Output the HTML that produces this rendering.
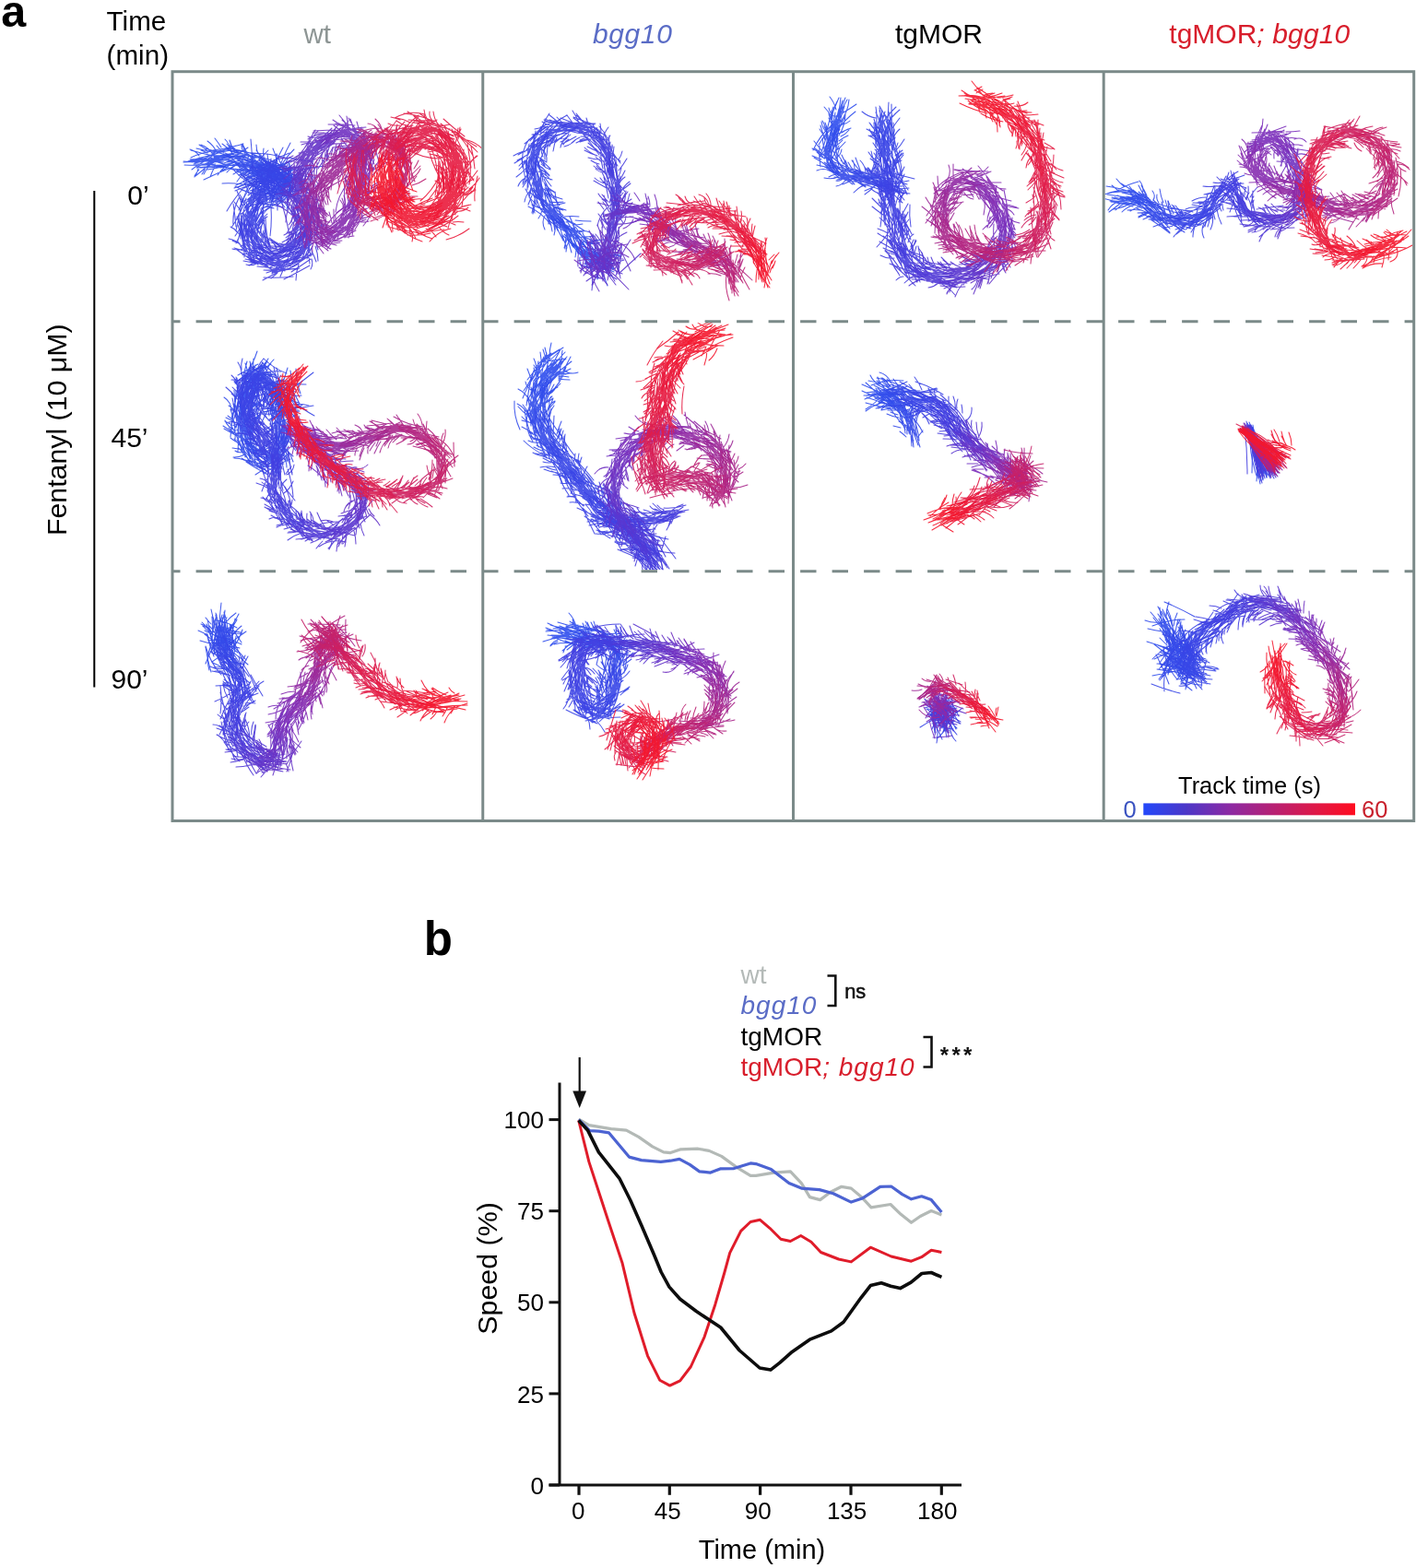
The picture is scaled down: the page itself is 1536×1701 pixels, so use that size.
<!DOCTYPE html>
<html><head><meta charset="utf-8"><title>Figure</title>
<style>
html,body{margin:0;padding:0;background:#fff;}
body{width:1536px;height:1701px;overflow:hidden;position:relative;}
svg{position:absolute;left:0;top:0;}
text{font-family:'Liberation Sans', Arial, sans-serif;}
</style></head><body>
<svg width="1536" height="1701" viewBox="0 0 1536 1701">

<text x="1.2" y="28.5" font-size="48.5" font-weight="bold" fill="#000">a</text>
<text x="115.6" y="33" font-size="29.6" fill="#000">Time</text>
<text x="115.6" y="69.5" font-size="29.6" fill="#000">(min)</text>
<text x="329.5" y="47" font-size="29.5" fill="#8d9594">wt</text>
<text x="643" y="47.3" font-size="30" font-style="italic" letter-spacing="0.6" fill="#5a6cc6">bgg10</text>
<text x="971" y="47.3" font-size="30" fill="#000">tgMOR</text>
<text x="1268.3" y="47.3" font-size="30" fill="#d81e2c">tgMOR<tspan font-style="italic" letter-spacing="0.15">; bgg10</tspan></text>
<text x="138.3" y="222" font-size="30" fill="#000">0’</text>
<text x="120.5" y="484.8" font-size="30" fill="#000">45’</text>
<text x="120.5" y="746.7" font-size="30" fill="#000">90’</text>
<line x1="102.3" y1="207" x2="102.3" y2="745.5" stroke="#000" stroke-width="2"/>
<text transform="translate(72.3,581) rotate(-90)" font-size="30.3" fill="#000">Fentanyl (10 μM)</text>
<defs>
<clipPath id="k00"><rect x="188.5" y="79.2" width="333.8" height="268.1"/></clipPath>
<clipPath id="k01"><rect x="525.2" y="79.2" width="333.8" height="268.1"/></clipPath>
<clipPath id="k02"><rect x="862.0" y="79.2" width="333.7" height="268.1"/></clipPath>
<clipPath id="k03"><rect x="1198.7" y="79.2" width="333.5" height="268.1"/></clipPath>
<clipPath id="k10"><rect x="188.5" y="350.2" width="333.8" height="268.0"/></clipPath>
<clipPath id="k11"><rect x="525.2" y="350.2" width="333.8" height="268.0"/></clipPath>
<clipPath id="k12"><rect x="862.0" y="350.2" width="333.7" height="268.0"/></clipPath>
<clipPath id="k13"><rect x="1198.7" y="350.2" width="333.5" height="268.0"/></clipPath>
<clipPath id="k20"><rect x="188.5" y="621.3" width="333.8" height="267.7"/></clipPath>
<clipPath id="k21"><rect x="525.2" y="621.3" width="333.8" height="267.7"/></clipPath>
<clipPath id="k22"><rect x="862.0" y="621.3" width="333.7" height="267.7"/></clipPath>
<clipPath id="k23"><rect x="1198.7" y="621.3" width="333.5" height="267.7"/></clipPath>
</defs>
<g fill="none" stroke-width="1.05" stroke-opacity="0.9" stroke-linecap="round">
<g clip-path="url(#k00)">
<path d="M199 175q16 2 31 -1M216 184q-3 3 -5 7M200 179q17 1 34 -1M199 176q19 0 34 -10M215 183q-1 5 -4 9M204 175q13 -4 26 -7M216 169q-3 -5 -10 -7M208 184q10 -8 22 -13M206 173q13 -1 26 -1M210 178q11 -1 23 1M207 171q12 -6 25 -7M212 191q11 -9 22 -18M205 175q18 -4 36 -3M213 182q12 -1 24 -3M223 181q-1 4 -4 8M208 176q17 -4 34 1M207 163q17 5 34 8M214 181q13 -6 27 -9M226 165q-4 -5 -10 -8M211 177q17 -3 34 -8M213 161q13 4 27 3M225 166q-4 -2 -7 -3M226 181q-3 4 -5 8M216 173q13 4 27 2M217 182q14 -0 29 -2M221 178q11 -1 21 -6M231 167q-5 -7 -13 -10M218 166q13 4 27 2M216 171q17 5 33 1M218 173q16 2 32 -3M233 181q-3 5 -5 11M221 195q16 -8 32 -14M225 181q10 -8 22 -12M226 172q9 -7 21 -11M222 161q14 5 29 2M226 180q14 1 27 -4M235 165q-3 -7 -10 -12M225 184q16 -2 30 -8M240 160q-3 -5 -7 -10M228 177q12 -3 25 -6M228 172q12 7 27 8M229 166q14 -2 27 -8M232 171q11 -2 22 -4M243 166q-4 -3 -8 -8M232 165q11 -3 23 -4M232 176q13 -7 27 -12M232 170q14 -3 29 -5M229 169q17 -8 35 -5M231 163q17 -2 33 -7M246 179q-6 5 -10 11M233 171q16 -2 32 -1M238 166q15 3 22 16M249 179q-3 4 -8 6M239 182q11 -3 22 -5M251 164q-2 -8 -7 -13M240 173q11 2 22 4M251 165q-1 -5 -5 -9" stroke="rgb(46, 77, 237)"/>
<path d="M236 180q16 3 31 5M238 179q15 5 29 10M256 179q-6 3 -10 8M242 171q12 -1 24 -2M252 166q-5 -6 -11 -10M242 168q13 3 27 3M258 166q-4 -5 -9 -8M243 177q13 -5 26 -10M277 186q19 10 40 12M246 173q12 -5 23 -13M292 187q16 6 33 6M246 162q13 4 26 7M256 166q-5 -6 -7 -14M287 178q19 8 30 25M246 168q13 3 25 8M281 183q16 -1 31 -7M244 166q16 7 32 16M284 179q8 13 23 19M251 167q11 3 20 8M281 206q16 -13 34 -25M247 173q14 5 27 10M259 167q-4 -5 -9 -10M246 176q16 -1 32 -5M313 171q13 3 27 4M252 168q12 -1 24 3M266 166q-4 -3 -4 -8M256 201q15 -7 29 -15M250 161q16 5 33 6M260 180q19 -4 36 6M251 164q15 4 31 7M269 168q-3 -6 -6 -12M299 209q16 1 32 -5M250 170q16 4 32 7M279 184q14 5 28 5M257 166q12 1 22 5M266 169q0 -7 -4 -12M289 190q21 -2 40 -11M254 162q16 2 31 10M267 166q-2 -5 -4 -10M264 181q-5 5 -11 8M267 180q20 9 33 26M253 179q14 2 28 4M296 183q18 12 24 33M255 185q12 -1 22 4M289 183q16 14 34 25M258 172q10 10 23 11M257 197q11 -13 13 -30M255 171q14 12 31 18M278 200q15 10 29 20M255 177q12 11 29 13M269 184q-5 1 -11 3M272 191q15 -2 29 -5M266 165q8 8 16 15M280 167q-2 -5 -2 -10M281 209q13 -4 26 -5M258 178q15 5 30 5M269 187q-5 0 -10 3M271 199q12 9 26 14M263 168q11 9 25 11M286 172q13 9 27 18M263 163q14 10 27 22M275 184q-4 2 -8 2M259 177q14 12 29 23M262 175q14 4 27 10M263 178q13 2 25 7M271 207q17 -4 24 -19M267 173q9 8 21 14M279 210q6 -21 4 -42M263 170q17 6 34 11M274 184q-8 2 -15 6M274 197q13 -1 26 2M266 176q14 1 27 6M275 187q-6 3 -12 2M290 176q19 8 33 22M273 167q11 7 22 11M282 177q3 18 7 36M260 183q16 7 32 12M284 199q14 -10 30 -16M269 174q13 7 25 13M307 212q-6 -12 -11 -25M263 184q18 1 35 3M287 175q-2 -7 -1 -14M257 184q10 10 20 20M278 163q8 12 18 24M312 186q20 -3 40 -6M275 175q11 4 22 8M277 190q-6 2 -11 4M263 220q3 -14 12 -26M272 184q9 6 20 9M292 205q8 -18 8 -38M272 183q12 4 24 8M287 211q13 -9 23 -22M269 193q11 2 22 4" stroke="rgb(49, 75, 235)"/>
<path d="M289 200q12 -8 26 -4M278 178q12 2 25 1M276 174q-6 12 -10 26M278 178q12 5 20 15M264 192q14 -8 30 -13M272 181q15 8 29 16M265 194q14 -9 31 -13M272 182q16 7 33 13M298 205q17 -9 33 -19M282 179q12 -1 24 1M284 190q-8 -1 -16 3M281 169q14 11 27 24M293 178q-3 -5 -3 -11M286 174q9 11 22 17M281 180q13 4 22 14M301 176q-2 -8 -5 -15M288 193q-4 4 -9 4M296 186q7 16 17 30M278 193q11 3 22 3M293 192q-8 3 -15 6M314 177q-2 19 1 38M281 174q15 10 28 22M274 207q15 -14 30 -28M288 175q8 10 16 21M317 189q-3 19 -6 39M321 236q-12 -16 -25 -32M294 201q14 7 28 15M281 173q15 12 28 28M294 192q12 10 22 21M271 183q10 10 21 20M299 176q16 10 31 23M290 209q17 -11 37 -16M257 178q19 9 37 20M264 178q21 5 39 16M268 185q15 1 28 8M278 181q17 6 32 17M301 195q12 -5 25 -7M288 204q13 -11 28 -19M288 185q11 8 25 10M299 182q8 13 19 23M262 177q12 13 29 18M304 208q13 4 27 5M260 172q15 3 28 11M301 205q14 -12 29 -22M241 199q20 -1 40 4M299 202q13 -4 25 -11M300 204q-8 -12 -12 -26M293 224q7 -18 14 -36M280 199q20 3 40 3M307 160q-9 17 -17 34M258 203q13 -6 25 -13M280 207q18 -7 30 -22M291 179q16 5 33 2M278 180q20 7 41 2" stroke="rgb(52, 73, 233)"/>
<path d="M291 201q9 12 18 24M273 166q20 -0 40 6M284 182q8 17 10 36M274 188q0 -19 -2 -37M289 185q15 -4 31 -1M305 194q-9 11 -13 25M293 182q9 11 16 23M281 199q16 -10 35 -11M277 200q15 -13 32 -22M315 155q-10 18 -15 38M288 187q12 5 25 8M300 193q5 -18 19 -31M291 183q-2 15 2 29M278 190q9 12 19 24M296 175q2 13 1 26M297 176q-1 14 -6 26M306 184q2 -7 9 -10M281 190q-3 -3 -7 -7M280 197q17 -8 21 -26M296 176q-5 13 -5 26M300 167q6 15 14 30M273 178q12 13 18 29M281 186q14 -6 29 -5M284 182q9 9 16 19M286 184q12 4 24 11M297 173q8 15 14 31M295 177q2 14 7 28M285 205q16 4 33 9M293 177q-4 17 -8 33M254 185q11 12 26 18M295 180q12 8 16 22M308 191q1 -7 4 -13M291 175q10 11 18 23M303 174q9 15 18 31M287 199q-6 -2 -10 -7M284 169q2 14 9 26M305 179q6 11 7 24M285 171q16 4 28 15M292 183q3 13 3 26M313 176q3 15 8 30M264 189q18 8 35 19M296 182q10 12 15 26M306 191q-0 -4 4 -7M287 194q17 7 34 0M282 184q5 15 12 29M255 202q15 9 33 10M309 179q8 14 9 29M280 182q14 -8 29 -11M295 182q6 15 14 30M307 199q4 -4 7 -9M306 184q2 13 7 25M299 218q9 -12 23 -17M302 188q7 9 14 18M307 198q5 -3 9 -8M254 204q16 -5 32 -9M299 183q-1 18 -4 35M288 198q-5 -5 -9 -11M286 180q15 11 33 17M287 192q-4 11 -6 22M307 197q5 -2 7 -7M286 180q12 10 26 17M291 185q4 17 6 33M265 195q21 -0 41 -5M315 186q-3 13 1 26M307 202q3 -4 6 -6M283 187q3 17 7 33M280 179q13 9 26 18M309 190q-1 12 -1 24M306 190q15 -2 29 2M299 190q4 14 12 25M277 184q11 8 24 11M303 193q-2 12 2 23M255 207q17 -8 35 -8M307 191q-6 14 -13 28M270 205q14 -13 31 -21M316 192q-2 14 -5 27M312 196q-4 12 -9 24M302 203q3 -16 10 -31" stroke="rgb(55, 70, 231)"/>
<path d="M288 195q2 11 7 21M294 191q8 17 7 37M317 204q-6 12 -17 19M294 188q12 -10 27 -15M311 201q-12 8 -24 18M284 208q8 -17 10 -36M307 202q-5 12 -13 21M313 209q-17 1 -33 -0M273 200q14 -11 26 -25M306 201q-9 9 -20 15M261 189q14 11 27 24M309 217q-12 1 -24 4M307 192q-10 -9 -20 -18M309 200q-15 3 -28 9M297 198q3 -4 5 -8M272 181q19 4 28 20M309 212q-14 2 -29 6M305 217q3 -17 9 -33M307 206q-14 3 -28 5M309 194q-17 0 -33 5M295 218q5 1 7 4M262 193q14 -15 29 -30M310 216q-18 -1 -35 -2M293 220q9 -11 13 -25M303 200q-13 -2 -24 -9M298 179q9 13 20 25M304 211q-14 2 -27 5M303 208q9 -13 13 -29M303 208q-13 4 -25 2M276 199q18 -7 34 2M299 196q-11 4 -23 1M303 201q-17 1 -31 9M286 215q14 -4 26 -9M306 211q-16 1 -32 5M287 200q2 -4 3 -8M284 184q13 -12 30 -18M297 205q-10 6 -18 13M284 230q18 -8 31 -24M304 207q-17 3 -33 11M292 222q8 0 15 3M287 185q14 1 28 -4M298 206q-12 5 -21 14M298 198q-16 7 -29 18M288 176q14 8 26 19M293 200q-8 9 -18 16M278 202q1 -7 1 -14M275 200q18 4 37 8M291 198q-12 6 -22 14M284 191q-9 7 -19 13M290 223q4 2 7 3M297 213q-9 6 -20 10M292 199q-12 9 -23 20M291 204q-11 6 -21 13M296 207q-13 8 -27 15M299 217q-7 9 -17 15M274 209q-0 -4 1 -8M288 196q-11 13 -23 26M284 201q-9 9 -14 20M288 221q8 1 15 3M296 214q-13 5 -25 10M289 205q-7 13 -14 25M274 206q1 -8 2 -15M288 203q-12 11 -23 22M288 205q-9 11 -20 22M286 204q-9 12 -20 21M285 221q8 2 16 0M282 206q-8 10 -21 13M280 202q-9 11 -12 25M281 208q-3 13 -1 27M275 204q2 12 -6 22M285 209q-5 13 -13 25M270 210q-2 -7 -6 -14M276 199q-12 12 -17 29M285 226q5 -3 10 -0M284 211q-4 12 -9 24M288 217q-7 10 -19 14M290 215q-6 13 -13 26M283 226q4 -1 8 -3M274 205q-3 15 -8 29" stroke="rgb(57, 68, 229)"/>
<path d="M283 211q-4 15 -10 28M282 213q-10 10 -20 19M277 212q-3 12 -7 24M286 219q-12 5 -19 15M264 219q-1 -4 -4 -8M265 203q-11 12 -19 26M285 214q2 17 -5 33M281 214q-4 14 -14 25M263 223q-3 -8 -6 -16M284 214q-8 15 -11 31M284 217q-4 14 -11 26M285 216q-10 13 -17 28M285 220q-9 10 -14 22M260 227q-3 -4 -6 -8M291 226q-8 8 -13 18M260 214q10 13 15 29M275 218q0 14 -3 27M281 220q-8 12 -15 25M285 218q2 18 -3 35M267 219q3 13 4 27M259 215q-7 13 -6 29M267 215q-6 17 -16 32M281 224q-4 12 -5 24M263 215q-3 18 -7 35M279 227q-5 10 -12 19M253 221q2 12 3 25M294 226q1 15 -1 30M270 226q-4 11 -6 23M277 228q-2 12 3 23M270 225q-4 13 -6 26M280 240q3 -3 6 -6M283 227q4 14 5 28M278 243q6 -5 12 -11M266 225q8 16 17 31M268 227q-0 13 3 26M274 229q-1 12 1 24M272 227q2 15 0 29M278 245q4 -3 7 -7M261 231q2 11 2 22M265 226q-4 16 -4 33M259 232q0 12 5 24M271 232q-8 12 -16 24M279 242q5 -4 11 -7M265 233q-0 13 -2 25M275 233q-4 13 -10 25M278 234q-5 11 -4 23M262 234q0 14 -4 27M276 244q3 -6 7 -13M265 232q-1 17 -9 32M277 248q4 -5 7 -10M265 232q7 16 9 33M257 251q-3 -3 -7 -5M265 237q1 13 5 24M278 250q6 -4 9 -11M279 235q-4 13 -1 27M269 239q1 11 -1 23M277 246q6 -4 11 -10M260 254q-4 -2 -6 -6M257 235q6 17 8 34M283 235q-4 14 -5 28" stroke="rgb(60, 66, 228)"/>
<path d="M261 237q1 17 9 32M268 239q-1 15 -4 29M260 241q2 14 4 27M260 240q2 16 7 31M258 244q4 13 9 25M262 241q11 12 20 26M269 239q7 15 14 29M272 243q1 12 3 25M270 243q6 12 7 25M260 264q-4 -1 -8 -3M288 236q0 15 4 30M265 242q8 15 12 33M274 244q4 12 9 24M279 253q0 -9 7 -14M265 245q0 17 0 34M270 247q6 12 15 22M266 247q8 13 10 28M269 244q12 13 23 26M267 247q7 14 16 27M261 266q-5 -6 -13 -7M265 247q9 14 14 31M273 248q9 10 13 23M263 255q5 11 13 20M267 253q11 10 11 24M266 250q4 17 7 35M264 270q-6 2 -12 -0M268 253q9 10 18 20M272 251q2 14 7 27M275 248q7 13 13 27M269 254q1 15 7 29M267 273q-6 -2 -13 -4M263 258q4 15 13 28M283 264q1 -7 3 -14M274 250q2 16 9 31M258 262q9 14 22 25M284 260q-0 -7 -2 -13M266 260q8 12 11 26M257 271q10 7 20 14M274 251q7 15 17 29M267 260q9 12 22 21M273 278q-5 1 -10 -2M265 263q10 12 20 23M285 263q-0 -6 2 -11M261 267q12 11 26 17M288 259q0 -8 0 -16M267 260q15 8 26 20M262 266q15 8 29 18M268 260q14 10 27 21M278 256q10 10 19 20M270 274q11 1 22 0M287 264q1 -5 -1 -10M279 249q13 13 30 20M266 269q16 4 30 14M263 275q18 2 35 6M274 263q14 5 26 14M270 272q9 10 21 17M274 269q10 7 22 13M290 268q-2 -4 -3 -9M280 284q-6 1 -10 4" stroke="rgb(63, 64, 226)"/>
<path d="M269 279q10 6 21 9M264 283q16 4 33 3M291 264q-2 -4 -5 -8M274 271q13 6 26 10M270 281q13 1 22 10M280 285q-6 4 -13 2M266 281q17 4 34 8M272 279q14 3 26 10M293 269q-2 -6 -4 -13M273 269q19 1 32 15M294 268q-2 -4 -4 -8M277 276q11 4 20 12M279 265q15 2 29 8M271 283q16 4 30 13M279 267q13 7 27 12M294 271q-1 -6 -3 -11M281 274q10 5 21 10M293 269q-2 -4 -5 -8M280 281q13 1 24 -5M277 280q15 1 29 4M286 265q9 8 17 16M280 268q14 10 29 18M279 289q12 1 25 3M281 283q13 0 24 6M284 277q9 8 21 12M281 267q16 4 33 4M282 280q15 4 27 14M280 286q18 1 34 -5M285 304q12 -6 23 -13M301 289q-4 3 -6 7M286 293q12 1 23 -5M287 282q13 1 25 1M300 269q-1 -5 -6 -6M283 280q16 6 33 9M289 282q11 4 23 8M300 270q-2 -5 -6 -10M286 301q16 1 32 -1M301 292q-3 2 -6 5M288 282q13 -8 28 -10M287 281q16 -2 31 -7M289 274q14 6 28 2M303 265q-6 -3 -11 -7M293 283q12 -1 23 3M306 290q-5 7 -12 12M289 296q16 -6 34 -4M290 282q15 -4 31 -4M289 274q15 -5 31 -7M294 294q16 1 30 -8M293 275q13 -0 24 -6M296 296q14 -4 29 -5M289 273q17 1 33 -6M304 268q-3 -3 -7 -6M310 289q-4 5 -6 11M293 290q16 -9 34 -13M295 287q13 -9 29 -13M300 291q13 -4 25 -9M297 288q15 -5 31 -9M305 293q7 -10 18 -15M303 290q12 -7 21 -17M303 289q11 -7 20 -17M293 275q18 -1 34 -7" stroke="rgb(66, 62, 224)"/>
<path d="M308 303q14 -7 28 -15M295 278q15 -9 30 -17M301 281q13 -7 27 -9M298 276q14 -4 27 -11M302 275q8 -9 18 -14M308 285q11 -4 21 -10M313 268q-7 0 -14 -0M324 287q-3 8 -3 17M300 272q10 -6 18 -16M310 268q-8 -1 -16 -1M304 275q9 -7 19 -13M316 295q11 -7 21 -14M301 276q11 -11 25 -16M312 289q14 -6 27 -13M307 278q10 -9 19 -18M311 283q7 -14 10 -28M313 288q15 -5 25 -18M315 268q-6 -3 -12 -4M304 277q13 -9 23 -21M317 285q10 -7 16 -17M317 289q15 -7 22 -22M321 287q10 -6 18 -13M311 278q8 -11 16 -21M315 286q12 -12 20 -26M317 264q-7 -0 -13 2M319 284q8 -11 18 -22M338 281q2 6 -1 11M317 286q10 -15 14 -32M318 283q11 -10 22 -20M319 286q12 -13 18 -30M317 284q10 -15 21 -28M316 274q11 -6 21 -12M318 264q-7 3 -15 2M334 277q2 4 2 9M317 277q6 -12 14 -23M306 272q14 -10 29 -18M322 264q-7 -0 -13 2M327 283q5 -14 10 -28M320 276q10 -9 16 -19M338 272q3 6 5 12M314 275q11 -12 20 -26M318 257q-6 2 -12 6M314 274q7 -15 10 -30M328 276q1 -11 6 -22M328 282q11 -15 8 -34M325 274q8 -9 11 -20M321 272q7 -10 13 -21M333 281q3 -16 6 -33M329 274q-2 -13 2 -25M342 267q3 8 3 16M312 265q5 -12 16 -18M337 278q-4 -15 1 -30M328 272q8 -11 16 -21M342 262q2 5 3 9M320 270q9 -12 12 -26M318 271q4 -17 14 -30M323 271q7 -14 12 -29M317 269q9 -14 19 -27M320 253q-6 1 -10 5M314 265q10 -12 20 -24M335 271q-3 -14 2 -28M325 256q-6 5 -14 10" stroke="rgb(69, 60, 221)"/>
<path d="M324 267q12 -9 22 -21M322 267q6 -13 12 -27M330 266q5 -11 6 -24M324 265q8 -11 13 -24M311 264q9 -15 19 -29M331 269q3 -18 -1 -35M320 267q-0 -18 4 -34M342 252q4 5 7 10M315 264q2 -16 6 -32M349 264q-2 -12 -0 -24M323 247q-4 3 -9 6M321 261q6 -13 13 -25M311 261q8 -14 17 -27M325 264q0 -17 5 -33M337 264q1 -16 -0 -32M323 248q-8 3 -15 7M341 260q1 -12 -1 -25M325 243q-4 3 -7 7M317 261q4 -15 6 -30M332 259q-5 -13 -9 -27M316 258q6 -14 13 -26M343 256q-0 -11 3 -22M331 255q-1 -12 4 -23M328 260q4 -16 5 -33M331 258q-10 -14 -11 -31M345 255q-1 -14 1 -27M327 257q-1 -16 -4 -31M343 240q7 2 12 7M332 256q2 -16 -4 -30M337 255q-2 -17 6 -32M340 255q-11 -14 -13 -31M324 242q-1 7 -6 12M332 251q3 -12 1 -25M343 250q-3 -13 -5 -27M346 247q-2 -12 -4 -24M332 252q5 -16 8 -32M325 240q-4 3 -6 8M333 251q4 -16 9 -32M342 235q5 5 9 10M330 249q-7 -12 -14 -24M351 249q-8 -16 -8 -35M318 241q-3 6 -7 12M330 247q-4 -12 -10 -23M328 247q-4 -12 -7 -24M326 250q1 -16 4 -32M338 242q-7 -9 -14 -18M338 246q-3 -15 -10 -29M342 240q-3 -11 -8 -21M341 242q-3 -14 -7 -28M314 255q-3 -17 -8 -34M343 225q5 2 9 4M341 244q-14 -12 -17 -30M340 242q-9 -14 -20 -27M323 232q-2 4 -3 8M322 244q-3 -11 -4 -22M320 232q-4 4 -4 9M342 235q-7 -10 -12 -20M338 239q-12 -10 -19 -23M338 224q7 1 14 3" stroke="rgb(80, 57, 214)"/>
<path d="M332 242q-3 -16 -3 -32M335 236q0 -13 -10 -21M345 233q-12 -9 -25 -19M319 227q-0 4 -1 8M348 231q-5 -15 -6 -31M337 238q-2 -17 -15 -29M345 232q-4 -16 -13 -31M318 232q0 7 -5 12M327 241q-8 -13 -16 -25M320 229q-1 4 -1 8M337 236q-10 -13 -21 -26M334 239q-11 -14 -19 -30M319 225q-1 4 -3 8M342 224q-12 -2 -22 -10M334 215q6 1 12 2M326 240q-4 -16 -13 -28M331 237q-11 -13 -20 -27M320 240q-4 -12 -11 -22M333 230q-9 -10 -19 -18M313 226q-3 7 -3 15M335 226q-10 -8 -20 -16M340 228q-12 -13 -29 -20M336 222q-10 -6 -20 -12M329 233q-9 -11 -18 -23M322 238q-10 -10 -22 -16M332 210q4 -1 8 -2M343 221q-10 -15 -24 -27M334 220q-12 -4 -24 -8M329 225q-7 -11 -13 -22M326 229q-11 -7 -23 -12M316 224q-0 7 3 12M331 228q-11 -12 -24 -22M333 224q-12 -11 -29 -14M334 214q-9 -7 -16 -16M327 221q-9 -7 -19 -11M341 210q-13 -7 -25 -17M325 204q4 0 9 0M337 209q-8 -9 -18 -16M329 224q-11 -13 -25 -22M325 206q5 1 10 -2M313 225q4 -13 13 -24M323 224q-2 -12 2 -23M325 212q1 4 2 9M311 221q3 -12 8 -24M312 208q-7 1 -13 3M311 221q7 -14 20 -22M327 215q4 4 6 8M316 226q3 -18 13 -32M312 208q-5 5 -11 8M317 222q5 -14 9 -27M321 224q3 -16 10 -31M311 219q11 -11 16 -26M322 224q3 -17 4 -34M321 217q4 -11 7 -22M328 204q1 7 6 13M330 220q2 -13 8 -24M319 221q2 -18 6 -35M324 216q5 -12 7 -24M312 215q8 -13 16 -27M315 201q-6 3 -11 6M319 212q6 -10 10 -22M315 198q-4 1 -8 2M327 215q1 -14 -4 -28M322 217q4 -17 9 -34M327 203q2 8 6 16M310 209q5 -14 16 -25M319 213q3 -16 13 -28M309 204q10 -8 17 -18M320 208q0 -13 3 -25M332 198q3 6 6 13M320 209q-1 -15 4 -28M330 210q-2 -13 5 -25M322 211q7 -16 16 -32" stroke="rgb(90, 54, 207)"/>
<path d="M320 203q-0 -12 -1 -24M331 196q4 3 4 8M316 204q4 -15 3 -30M318 205q6 -14 11 -30M327 209q-1 -17 4 -33M320 200q9 -10 17 -20M332 209q2 -17 7 -34M315 188q-3 3 -7 6M325 201q3 -13 9 -24M312 180q-4 1 -9 2M329 203q3 -14 5 -27M318 183q-5 1 -10 3M324 200q4 -14 4 -29M336 189q2 7 5 14M326 203q11 -12 20 -27M331 198q2 -13 -1 -25M334 187q1 7 3 13M331 200q-0 -14 1 -28M320 180q-6 3 -13 4M320 196q9 -13 18 -26M326 200q-2 -18 9 -32M317 188q7 -9 16 -16M322 181q-8 2 -16 2M335 184q5 6 4 14M319 189q8 -9 15 -18M323 192q1 -14 8 -25M319 188q11 -10 24 -16M337 187q4 7 9 14M324 193q9 -12 19 -24M322 189q10 -9 19 -21M323 172q-4 2 -8 4M338 184q-1 8 1 15M319 184q7 -9 14 -19M318 169q-8 5 -16 1M331 190q3 -13 4 -26M337 179q-2 6 2 10M318 188q15 -10 26 -25M341 182q-1 6 1 12M310 177q13 -8 25 -16M328 192q9 -14 17 -29M323 183q7 -11 13 -24M315 181q12 -12 24 -25M320 184q6 -18 20 -30M325 185q9 -14 14 -31M329 182q8 -11 21 -17M344 176q0 8 -1 16M323 177q8 -11 15 -22M320 173q9 -10 17 -21M339 176q2 5 2 10M321 177q13 -11 22 -25M324 175q11 -10 24 -15M326 178q11 -11 19 -24M323 176q9 -15 21 -28M338 182q7 -9 14 -19M329 178q10 -13 19 -26M334 177q6 -11 13 -21M323 172q10 -15 19 -31M331 172q11 -8 22 -15M324 166q16 -1 29 -12M332 177q7 -16 21 -27M328 172q13 -11 26 -24M345 183q9 -12 13 -26M339 154q-7 0 -13 0M337 175q10 -11 20 -21M340 156q-6 -2 -13 1M332 163q4 -12 13 -21M331 167q15 -8 23 -23M349 169q1 7 1 14M335 169q15 -5 28 -14M336 165q11 -5 21 -13M339 166q10 -5 20 -12M346 175q7 -13 9 -27M334 163q13 -8 25 -17M345 149q-6 1 -11 -1M338 163q14 -1 26 -10M354 163q2 6 1 12M335 160q12 -10 25 -16M355 162q1 7 0 13M336 165q11 -14 24 -26M353 165q0 6 -2 12M334 151q12 -8 26 -6M342 162q10 -9 18 -20M338 156q13 -3 25 -10M336 156q17 -3 31 -12M352 149q-4 -1 -8 -1M344 167q13 -12 20 -28M361 160q-4 6 -6 14M341 152q11 -5 23 -5M346 160q12 -3 21 -11M357 160q-3 7 -3 14M343 163q14 -11 26 -24" stroke="rgb(101, 52, 200)"/>
<path d="M354 178q13 -9 25 -19M352 144q-6 -0 -13 -0M345 161q12 -12 25 -22M340 153q18 -1 34 -9M361 161q-1 4 -2 8M340 142q15 -1 29 -1M345 150q14 -3 23 -16M348 153q12 -6 22 -14M351 165q11 -14 23 -28M345 147q16 1 30 -5M348 158q16 -7 32 -14M348 155q13 -11 29 -20M365 156q-1 6 -3 12M351 156q13 -9 27 -17M353 151q11 -6 23 -10M361 174q9 -11 23 -16M354 155q15 -10 24 -24M371 154q-1 6 -3 13M353 152q14 -7 29 -11M370 155q-5 7 -6 15M355 152q13 -8 27 -9M353 150q17 -1 33 -4M359 149q12 -1 24 0M355 153q16 -9 34 -7M356 135q15 -1 29 1M372 136q-6 -2 -11 -6M361 160q12 -2 24 -3M370 155q-3 4 -7 7M357 153q16 -3 32 -4M363 164q11 -6 24 -4M364 134q12 5 25 9M377 140q-1 -6 -6 -10M360 142q17 -2 34 -2M362 136q14 13 34 12M378 137q-5 -6 -10 -12M362 145q17 -6 35 -7M378 137q-1 -5 -2 -11M362 148q17 -4 35 -3M383 139q-1 -5 -3 -10M365 135q18 4 33 14M386 141q-4 -6 -8 -13M373 136q8 14 12 29M367 141q16 3 31 10M373 140q9 8 19 14M370 141q12 9 21 21M376 155q-7 1 -15 1M369 148q7 11 16 20M370 143q13 8 28 14M376 136q11 10 23 19M390 144q-1 -6 -3 -12M377 141q10 9 17 20M370 151q8 9 16 19M377 146q7 9 12 20M392 148q-1 -5 -0 -10M384 140q8 9 15 18M378 141q7 14 19 26M378 147q10 8 22 13M384 163q-6 -2 -12 -3M382 140q13 10 19 25M377 143q12 12 23 24M383 163q-8 -0 -13 -5M381 146q6 12 16 21M376 147q10 13 23 22M385 147q7 10 12 20M382 165q-5 -2 -10 -5M384 150q6 10 16 16M373 150q16 9 22 26M394 142q3 15 11 28M394 144q2 15 5 30M382 150q7 12 12 25M380 150q13 11 23 24M389 150q3 14 9 26M399 149q5 12 6 24M387 149q7 15 10 31M391 151q8 13 15 27M402 160q3 -6 9 -9M404 151q3 12 7 24M397 153q6 12 5 25M386 152q7 16 15 31M393 156q-3 13 1 26M395 152q4 17 10 33M388 158q-0 14 -6 28M386 171q-4 -4 -7 -9M397 155q5 15 7 31M403 168q5 -7 12 -11M398 158q2 13 7 26" stroke="rgb(112, 49, 193)"/>
<path d="M394 158q-1 15 -0 29M407 161q-5 11 -7 23M394 159q1 15 3 30M401 162q-6 13 -10 27M396 161q4 15 -1 31M392 164q2 13 4 25M386 175q-2 -4 -5 -7M389 164q3 14 6 27M391 164q3 14 1 29M392 162q1 17 6 34M397 163q-0 18 -3 35M390 168q-1 14 6 26M389 168q-1 14 1 28M389 169q-5 14 -2 28M406 173q-4 10 -7 21M379 169q1 14 3 29M404 186q2 -7 8 -11M387 181q-5 -5 -9 -10M395 170q0 16 -6 31M393 175q3 12 9 23M404 170q-7 17 -10 34M405 184q7 -4 15 -8M402 176q-1 12 -5 24M404 190q5 -6 12 -10M390 177q1 11 1 22M402 186q3 -4 7 -8M388 172q-6 16 -11 32M384 173q1 16 3 32M395 176q-2 15 -6 30M392 180q0 12 4 24M396 180q1 13 -1 25M391 178q-1 15 -3 29M395 177q-2 17 -2 34M397 181q-2 15 1 29M388 179q-8 15 -9 32M395 182q-2 15 -9 29M401 186q-8 11 -17 23M402 185q-4 15 -3 31M386 182q4 17 0 33M392 188q-0 12 -4 23M402 205q4 -2 8 -5M386 185q1 14 1 29M383 187q-7 11 -7 24M394 190q-2 13 -7 24M401 192q-1 14 -3 27M391 192q2 12 3 24M402 205q2 -5 8 -7M385 202q-3 -7 -7 -14M394 193q-4 12 -4 25M398 209q5 1 10 -3M391 188q-3 17 -3 35M401 208q7 -4 14 -6M398 191q-6 17 -17 30M391 192q-7 13 -9 29M381 201q-2 -7 -7 -12M388 196q0 12 -1 24M384 191q2 16 -3 31M399 211q6 -4 11 -9M391 195q-2 15 -4 29M382 204q-3 -5 -6 -9M388 195q-4 14 -6 28M388 196q-5 13 -8 27M375 191q-3 17 -0 34M380 207q-3 -7 -6 -14M397 201q-3 15 -14 26M388 198q-5 14 -9 29M401 203q-14 9 -20 25M398 220q5 -3 9 -7M382 210q-1 -4 -2 -9M388 203q-4 11 -11 21M393 201q-10 14 -10 31M388 199q-8 15 -15 31M391 204q-4 14 -6 28M386 204q-7 11 -9 25M395 219q5 -4 12 -5M401 207q-9 15 -19 29M378 198q-12 14 -14 32M385 202q-6 16 -13 31M391 210q-3 13 -8 24M386 210q-5 11 -14 19M380 223q-3 -5 -3 -11M384 205q-3 16 -10 31M395 212q-16 8 -30 19" stroke="rgb(123, 46, 186)"/>
<path d="M406 222q-3 13 -12 23M387 209q-4 16 -12 31M394 213q-8 15 -22 26M392 229q5 -1 8 -4M393 219q-12 7 -22 15M390 220q-4 10 -7 21M392 235q4 -3 9 -4M374 223q1 -5 -1 -11M386 210q-9 15 -17 32M375 227q-2 -6 -4 -12M392 218q-9 12 -14 26M395 220q-1 16 -10 29M397 226q-9 10 -19 19M386 236q9 2 16 -2M396 222q-10 13 -20 26M383 219q-1 13 -9 24M388 240q6 2 12 0M390 218q-8 16 -16 32M374 228q-1 -6 -5 -11M395 226q-10 11 -17 25M387 224q0 14 -10 25M395 233q-7 9 -14 17M382 222q3 17 0 34M385 239q4 -1 9 -1M390 229q-12 6 -22 16M385 222q-16 8 -26 23M381 242q8 -0 16 -4M392 231q-8 13 -14 27M393 230q-10 15 -27 22M384 232q-4 10 -8 21M386 229q-4 16 -14 28M370 238q3 -7 2 -15M383 227q-12 11 -21 26M388 235q-4 14 -15 22M385 235q-5 12 -11 23M384 231q-14 9 -27 19M387 233q-17 7 -28 21M378 232q-9 10 -16 21M382 235q-15 5 -26 15M366 242q-3 -4 -2 -10M373 225q-14 10 -22 25M379 232q-13 10 -27 20M386 242q-15 5 -28 14M386 244q-15 4 -26 14M375 239q-5 11 -10 22M362 242q0 -8 -0 -15M377 238q-10 9 -21 17M371 251q7 -2 14 -2M380 246q-9 7 -18 13M371 232q-6 15 -14 30M373 257q6 -0 11 -1M370 234q-5 14 -16 24M371 235q-11 10 -24 17M360 242q-1 -6 -3 -12M386 250q-15 8 -31 14M375 237q-11 14 -24 25M382 247q-17 6 -29 20M379 254q-11 6 -22 9M375 242q-14 9 -27 21M375 245q-11 12 -20 25M374 242q-13 12 -26 24M374 246q-16 6 -33 9M354 247q0 -6 -1 -12M373 254q-12 2 -23 9M370 251q-12 6 -21 15M369 253q-10 5 -19 12M366 247q-10 8 -23 11M370 249q-14 7 -29 12M371 261q-13 1 -26 3M364 249q-11 2 -22 4M369 263q-13 1 -25 5M369 254q-15 8 -32 10M365 266q-12 -3 -24 -6M364 257q-12 -3 -24 -7M367 260q-17 1 -33 -3M358 270q-10 -9 -19 -19M359 270q-12 -6 -25 -11M350 250q7 -2 15 -4M356 272q-11 -10 -26 -13M358 261q-8 -8 -18 -12M351 275q-9 -13 -20 -24M361 258q-9 -9 -19 -15M340 264q-2 4 -1 9" stroke="rgb(134, 44, 176)"/>
<path d="M355 263q-10 -8 -17 -19M353 265q-11 -8 -17 -20M364 252q-9 -6 -17 -14M350 268q-2 -17 -5 -34M352 251q5 1 9 2M352 265q-8 -13 -13 -27M357 261q-10 -14 -25 -20M344 264q-4 -11 -11 -21M333 253q-0 7 -0 14M359 255q-10 -8 -21 -17M331 269q-3 -12 -5 -24M349 246q6 5 14 6M351 263q-4 -16 -11 -32M353 258q-6 -13 -15 -23M350 254q-11 -5 -21 -13M332 251q2 9 -2 17M348 243q8 0 14 5M356 255q-3 -13 -7 -27M336 263q-1 -15 -3 -29M332 246q-3 8 -10 13M347 246q6 -1 12 2M339 259q-4 -13 -16 -21M348 238q4 3 10 3M355 255q-7 -14 -13 -28M348 252q-3 -11 -7 -22M338 259q2 -16 1 -32M343 257q3 -17 -1 -33M354 249q-7 -11 -14 -21M336 259q-5 -17 -10 -34M342 251q-2 -12 -5 -23M351 252q-7 -15 -14 -29M340 251q-9 -12 -15 -26M328 235q-4 4 -4 9M344 234q7 2 11 7M349 251q-7 -14 -8 -30M338 248q-3 -12 -8 -22M332 250q-3 -14 2 -28M326 235q-3 6 -7 10M330 245q1 -11 8 -21M336 251q2 -17 1 -34M338 249q-4 -16 -9 -32M349 243q-8 -9 -8 -22M323 242q5 -11 9 -22M329 228q-5 5 -12 7M346 228q4 2 7 6M335 245q2 -15 7 -29M347 245q1 -17 -9 -31M335 242q-3 -14 -1 -28M346 228q5 3 6 9M328 242q4 -14 1 -29M337 241q4 -14 6 -28M344 228q6 5 9 12M339 240q-2 -14 5 -27M327 236q10 -11 20 -21M346 227q5 4 9 8M338 236q1 -12 -2 -24M344 227q6 6 8 13M332 236q-0 -13 1 -25M343 240q-6 -16 -1 -33M345 223q5 5 10 9M330 239q4 -17 8 -35M330 222q-4 3 -8 4M330 233q4 -12 7 -25M334 232q-1 -13 -3 -26M346 223q2 6 5 11M337 231q-3 -12 -1 -24M339 231q1 -12 2 -24M339 234q5 -16 13 -30M332 219q-6 4 -13 8M347 222q2 8 10 12M331 231q4 -15 10 -30M331 218q-4 5 -11 7M337 227q3 -12 -1 -23M341 232q-2 -16 -2 -33M347 218q1 7 6 11M338 231q2 -17 14 -30M346 217q5 7 5 15M324 223q4 -13 11 -25M343 228q1 -14 6 -26M331 222q6 -12 7 -25M348 212q4 7 3 15M338 225q3 -15 3 -29M332 207q-7 3 -14 5M339 221q4 -10 7 -21M331 204q-6 2 -11 7M331 221q10 -12 9 -27M328 217q11 -9 21 -20M336 220q-1 -14 1 -28M345 227q4 -16 16 -28M336 202q-6 -1 -11 1M346 213q2 5 3 10M339 217q8 -9 18 -14M331 213q13 -5 20 -18M334 213q8 -8 14 -18M333 195q-5 1 -9 4M349 210q2 6 5 12" stroke="rgb(145, 42, 164)"/>
<path d="M333 217q6 -15 14 -29M327 208q10 -8 19 -18M348 224q4 -16 6 -33M329 210q11 -12 22 -24M339 200q-6 -1 -11 -0M335 209q11 -7 17 -17M352 204q2 8 7 15M349 221q-1 -18 1 -36M353 206q2 8 3 16M350 218q6 -11 12 -23M341 210q7 -11 11 -23M337 212q13 -13 19 -30M352 200q1 6 3 12M328 204q8 -16 16 -31M343 213q3 -17 11 -32M338 209q14 -9 28 -19M355 203q2 6 2 12M341 210q11 -11 21 -24M342 211q11 -13 22 -26M341 205q10 -10 19 -21M350 208q6 -10 14 -18M347 207q8 -11 17 -20M344 203q8 -11 18 -19M348 190q-7 1 -14 -1M344 205q12 -12 27 -19M344 202q12 -8 21 -19M351 206q9 -10 17 -20M348 205q13 -9 26 -18M346 197q1 -13 8 -24M345 181q-7 -3 -14 -1M359 198q1 4 0 8M345 196q9 -9 19 -16M346 196q6 -11 13 -22M346 201q11 -13 22 -27M348 201q8 -15 20 -26M345 196q16 -9 34 -12M347 198q11 -13 25 -23M342 193q12 -13 23 -26M355 204q15 -8 30 -17M366 188q1 8 2 15M351 190q9 -8 20 -12M354 195q13 -6 17 -20M359 199q-1 -17 6 -33M353 196q12 -11 23 -23M359 194q8 -8 15 -17M354 194q7 -15 17 -28M357 198q14 -11 21 -27M351 181q11 -5 20 -12M357 173q-7 -2 -13 -2M360 196q14 -7 24 -19M356 189q15 -4 29 -10M358 185q10 -7 16 -16M353 184q10 -11 20 -23M365 170q-5 0 -9 1M371 186q-1 5 -4 10M361 187q9 -6 17 -14M357 180q10 -4 19 -11M373 183q-2 5 -1 10M356 177q7 -10 13 -20M366 169q-5 -3 -11 -2M379 183q-3 7 -5 14M361 183q12 -4 22 -11M352 179q16 -8 27 -22M356 182q14 -9 28 -18M367 190q6 -14 13 -28M361 179q10 -8 20 -16M361 182q14 -6 28 -14M363 183q12 -9 25 -17M364 182q10 -12 20 -23M357 174q17 -3 30 -15M360 170q16 -1 31 1M364 174q10 -8 19 -16M364 175q9 -11 22 -17M367 182q8 -15 23 -21M372 178q8 -8 15 -17M381 176q-2 6 -4 12M367 171q11 -5 20 -13M371 178q12 -6 21 -17M372 177q10 -7 22 -12M378 184q4 -14 13 -25" stroke="rgb(156, 40, 151)"/>
<path d="M376 177q10 -6 17 -15M388 174q-2 5 -2 10M370 169q12 -6 24 -9M375 175q11 -6 22 -12M370 171q14 -8 28 -15M374 180q11 -13 25 -24M382 161q-8 3 -16 -2M390 173q-4 4 -5 9M375 172q7 -13 19 -22M381 179q11 -4 23 -8M378 175q12 -8 23 -17M369 161q18 6 35 -2M383 155q-7 -2 -14 -2M371 167q17 -7 34 -10M387 156q-8 -2 -17 -3M395 170q-0 5 -1 10M382 172q10 -6 19 -13M380 170q12 -7 24 -13M381 172q13 -6 27 -8M394 173q-7 4 -6 12M374 162q17 0 34 -6M386 174q11 -5 21 -11M380 171q15 -7 31 -15M382 160q12 1 24 0M382 157q7 -9 16 -15M383 168q15 -5 29 -11M388 172q13 -8 19 -23M382 158q9 -10 21 -17M390 169q9 -8 19 -15M391 170q10 -9 24 -12M385 159q13 -4 23 -13M385 189q1 -13 3 -27M386 187q9 -9 16 -20M379 172q-4 3 -9 3M388 189q1 -15 0 -30M392 175q3 6 8 10M380 185q7 -13 9 -28M387 184q3 -12 9 -23M377 184q7 -15 14 -30M383 179q-1 -12 3 -22M393 169q3 4 4 9M377 181q-1 -17 5 -34M379 167q-7 1 -14 3M397 171q2 4 5 8M382 179q6 -12 9 -25M383 163q-8 -2 -15 2M387 185q6 -17 12 -33M398 170q2 7 3 14M386 177q0 -13 6 -25M396 167q-1 5 1 10M383 179q8 -14 14 -30M384 178q5 -15 15 -28M382 171q6 -11 13 -21M380 172q6 -15 16 -28M396 168q4 7 6 15M382 173q14 -11 19 -28M385 174q5 -17 17 -29M384 168q9 -10 18 -21M379 166q14 -10 25 -23M387 169q11 -9 21 -20M392 178q10 -15 21 -29M391 153q-8 -1 -17 -1M378 157q17 -2 34 -8M402 163q0 6 -1 13M395 172q10 -9 14 -23M388 156q12 0 23 -3" stroke="rgb(168, 38, 139)"/>
<path d="M389 165q15 -6 26 -17M405 157q-3 7 -1 15M386 156q13 -8 28 -9M390 158q13 -1 26 -6M390 149q11 -2 22 -4M400 145q-6 -2 -13 -5M388 144q12 -5 25 -5M400 147q-3 -6 -10 -7M410 160q-2 4 -3 9M393 165q15 -7 28 -17M394 145q11 6 23 8M397 159q10 -5 22 -7M393 148q15 -2 29 -2M398 163q12 -4 24 -10M399 149q12 1 24 0M412 145q-3 -4 -6 -8M412 158q-5 6 -12 10M397 149q15 -4 30 -4M411 142q-4 -7 -12 -8M399 144q14 4 28 7M415 144q-1 -9 -8 -15M406 137q7 9 19 12M402 148q14 2 28 0M417 159q-3 4 -7 8M401 145q15 9 32 11M402 150q13 7 27 12M418 146q-4 -6 -8 -11M406 145q12 9 25 15M407 144q13 9 28 8M409 148q8 11 21 16M412 146q11 7 24 7M424 147q-3 -4 -5 -8M411 142q14 7 27 15M408 147q15 7 29 17M421 158q-4 2 -9 3M417 139q11 11 22 23M406 155q16 5 30 12M411 147q14 12 31 16M413 152q12 7 24 13M426 144q5 10 11 20M433 153q-2 -7 -3 -15M424 143q6 14 16 25M421 149q10 10 19 21M418 153q11 8 22 16M422 147q4 17 15 31M420 154q11 8 18 20M420 151q11 13 24 24M438 160q1 -4 2 -8M429 147q4 17 9 34M435 164q1 -4 2 -8M424 171q-5 -1 -10 -3M426 153q9 12 16 25" stroke="rgb(179, 36, 127)"/>
<path d="M421 154q14 11 25 24M439 166q0 -6 1 -12M422 156q10 12 13 27M434 153q4 14 7 29M428 174q-6 -1 -11 -1M428 153q6 17 13 33M429 170q-5 -3 -10 -7M438 155q-4 15 1 29M442 171q3 -5 5 -12M427 174q-8 -1 -13 -7M437 159q4 11 4 23M429 158q9 13 17 27M432 164q7 9 11 19M437 157q1 16 8 32M432 164q1 13 5 25M425 167q6 11 12 23M432 167q6 10 11 21M428 169q3 11 8 21M444 162q2 17 3 34M429 169q4 14 13 25M440 167q6 14 4 30M439 170q-1 13 3 25M439 170q7 13 11 27M449 183q3 -4 5 -9M431 169q-2 17 -1 33M444 173q-3 14 -8 27M431 189q-5 -7 -10 -13M437 172q4 16 5 32M446 190q5 -5 10 -10M434 173q2 16 3 32M437 176q-4 14 -1 28M447 193q6 -3 9 -10M439 173q-8 18 -1 36M447 176q-6 16 -13 32M443 179q-2 14 -5 29M434 183q4 11 5 22M435 181q3 14 5 28M441 185q-6 10 -7 22M447 201q8 -2 15 -7M433 196q-4 -4 -4 -10M440 186q-5 11 -8 23M442 202q6 -5 10 -11M440 182q-1 17 -1 33M431 199q-2 -4 -3 -8M441 185q-1 16 -5 31M429 199q-4 -7 -5 -15M435 185q4 15 0 30M440 188q-4 14 -8 28M438 189q1 15 -4 29M447 191q-7 15 -17 27M439 192q-5 12 -13 23" stroke="rgb(189, 34, 115)"/>
<path d="M433 188q-5 16 -4 32M426 205q-5 -3 -6 -9M439 195q-8 11 -19 20M438 191q-6 16 -15 31M430 205q0 -7 -2 -14M444 197q-8 14 -17 27M439 194q-9 15 -15 31M425 203q-1 -6 -2 -12M437 196q-12 10 -15 26M436 196q-11 12 -19 27M438 213q8 -0 15 -0M435 201q-4 12 -12 21M437 217q6 0 11 -1M438 202q-7 13 -17 24M426 211q-1 -6 1 -12M444 207q-14 8 -28 16M434 220q8 -2 14 -6M444 209q-12 10 -26 17M439 206q-9 12 -20 22M425 214q-1 -6 -3 -12M439 208q-7 13 -20 21M421 210q1 -7 2 -13M446 216q-14 7 -28 14M418 212q1 -5 -0 -10M434 204q-10 13 -22 24M434 214q-5 11 -10 21M431 211q-7 9 -12 19M421 215q-1 -5 -1 -11M434 214q-10 8 -22 12M431 205q-12 13 -22 28M428 227q5 0 11 -0M432 217q-10 7 -20 12M426 228q4 2 7 4M436 213q-15 9 -32 16M430 209q-13 7 -27 15M432 216q-15 1 -29 5M436 225q-16 6 -31 12M414 216q2 -5 5 -8M426 216q-11 3 -22 5M432 221q-12 14 -30 19M415 231q3 4 7 6M430 221q-16 -2 -32 2M425 210q-10 12 -24 20M416 219q4 -7 12 -11M426 223q-15 -2 -28 -10M424 228q-13 -4 -25 -7M421 218q-10 10 -22 17M425 213q-15 3 -29 2M422 233q-15 -6 -29 -15M418 226q-9 -7 -21 -10M410 214q4 -3 8 -6M421 229q-13 -11 -27 -22M417 229q-13 -3 -25 -9" stroke="rgb(198, 33, 104)"/>
<path d="M418 233q-17 -5 -29 -18M415 226q-11 -6 -24 -8M419 227q-17 -6 -34 -9M402 226q4 3 5 8M413 227q-11 -7 -22 -13M406 217q4 -3 8 -4M410 239q-15 -10 -29 -20M402 216q5 1 11 -0M415 226q-16 -8 -21 -25M404 218q6 -4 13 -3M410 228q-12 -10 -26 -14M400 216q7 -2 13 -5M413 224q-10 -12 -25 -17M398 217q7 -5 15 -5M402 236q-14 -7 -23 -20M391 227q-1 5 0 10M413 223q-14 -9 -28 -16M400 231q-12 -8 -17 -21M404 229q-10 -12 -20 -24M398 229q-11 -8 -16 -21M389 221q0 6 -1 13M405 225q-9 -13 -16 -28M400 214q6 1 13 1M396 222q1 -11 -0 -22M397 208q8 -1 16 2M398 221q-10 -6 -21 -11M397 229q-12 -13 -19 -30M401 222q-7 -13 -13 -27M395 223q-12 -7 -18 -20M387 225q-6 -12 -11 -23M394 206q5 2 12 2M387 223q6 -14 4 -30M396 219q-6 -12 -10 -25M393 220q-10 -12 -15 -26M395 217q-3 -14 -6 -28M381 220q-5 -12 -9 -24M385 218q-3 -13 -6 -26M395 197q5 2 9 6M387 220q-3 -17 -5 -35M381 203q-4 3 -6 7M393 201q6 5 12 8M403 211q-6 -12 -11 -25M386 218q-1 -17 -5 -34M390 214q-1 -16 -9 -29M389 208q-9 -9 -6 -21M377 215q2 -18 7 -35M391 209q-1 -14 -9 -27M392 208q-3 -14 -9 -26M366 210q4 -17 14 -31M391 205q6 -14 -3 -27M388 202q-2 -11 -8 -21" stroke="rgb(207, 31, 94)"/>
<path d="M383 207q-0 -17 -1 -34M383 203q-4 -14 -8 -28M375 201q4 -13 10 -25M382 203q-0 -17 -4 -33M387 204q8 -16 5 -35M387 201q-4 -16 1 -32M393 188q6 3 8 10M376 197q8 -12 9 -27M382 195q0 -12 4 -24M386 197q-4 -15 -2 -31M388 199q3 -18 5 -36M383 195q-10 -16 -7 -34M394 197q2 -17 -0 -34M373 187q7 -9 9 -21M383 189q-2 -14 5 -26M411 184q9 -14 22 -26M411 176q5 -10 7 -21M409 180q8 -14 20 -26M425 183q5 -10 14 -18M402 170q6 -10 7 -21M412 182q7 -16 15 -31M405 172q4 -11 6 -23M431 174q2 8 5 16M424 183q3 -13 9 -26M424 185q9 -13 17 -27M434 170q0 6 1 12M414 175q8 -11 21 -17M410 176q3 -16 11 -29M421 178q-2 -15 6 -27M412 173q8 -11 15 -22M412 174q7 -14 15 -26M414 172q3 -12 5 -25M422 181q7 -16 18 -29M399 161q7 -10 15 -18M417 173q12 -8 22 -18M421 173q2 -13 3 -25M416 153q-6 -0 -11 3M421 172q10 -6 18 -15M394 159q13 -11 27 -21M428 181q3 -17 14 -30M412 163q6 -9 11 -19M411 166q5 -15 16 -25M426 172q7 -10 15 -19M416 154q-6 1 -12 2M419 168q9 -9 17 -19M422 168q9 -8 19 -15M442 170q5 6 3 14M423 169q3 -12 13 -20M409 162q11 -13 25 -23M418 152q-6 1 -11 -2M433 178q12 -8 22 -18M402 149q13 -3 22 -13M422 148q-7 6 -15 3M423 173q14 -11 29 -20M419 167q10 -12 20 -24M419 147q-6 7 -15 4M430 174q12 -7 22 -18M429 168q6 -10 13 -18M415 161q4 -17 15 -30M422 161q7 -10 16 -18M424 163q3 -14 7 -28M423 167q12 -14 17 -31M440 161q-1 7 -3 13M423 166q13 -11 29 -16M436 178q14 -7 22 -21M423 142q-7 1 -15 1M422 164q3 -19 17 -32M434 174q8 -14 11 -30M429 163q9 -9 17 -18M444 161q1 7 -0 14M423 159q14 -6 28 -10M421 157q14 -7 25 -18M443 163q-3 7 -5 15M420 152q12 -7 23 -16M427 158q10 -7 20 -15M426 163q13 -11 21 -27M429 141q-8 -0 -16 0M429 161q8 -11 17 -22M416 145q16 -5 32 -9M426 153q10 -7 17 -17M444 156q-1 7 -5 12" stroke="rgb(216, 30, 83)"/>
<path d="M420 146q16 -4 32 -5M428 158q10 -13 25 -16M427 161q12 -13 27 -22M435 173q14 -10 31 -15M429 162q13 -11 26 -23M433 159q13 -1 26 -4M431 161q13 -9 23 -22M434 136q-7 1 -13 -2M429 152q17 2 33 6M432 155q8 -11 22 -16M441 136q-6 -1 -11 -5M433 159q10 -11 24 -14M434 130q-5 -2 -10 -3M445 160q-5 7 -7 14M432 153q10 -10 23 -15M433 157q14 -3 27 -10M433 157q15 -4 29 -8M436 157q12 -4 24 -7M449 157q-1 5 -3 11M431 155q15 -9 33 -10M432 148q9 -13 22 -23M434 148q10 -10 20 -21M431 145q16 -4 30 -10M437 150q12 -7 19 -20M436 155q14 -5 27 -9M428 128q16 -9 33 -4M445 133q-7 -4 -15 -5M439 159q13 -5 25 -12M432 146q18 -3 34 -9M437 149q14 -2 29 -3M437 143q14 3 28 1M452 156q-3 5 -7 9M436 145q15 -4 30 -6M438 141q14 -0 27 4M436 139q16 2 32 3M439 154q16 -3 30 -9M441 151q13 2 27 5M439 160q16 -7 33 -8M439 141q15 -5 30 -6M442 121q14 8 26 20M438 123q18 2 34 9M440 159q17 -1 33 4M456 155q-2 6 -7 9M443 130q14 1 28 1M446 141q12 4 23 1M456 133q-4 -3 -7 -7M447 133q12 1 23 0M445 158q13 2 26 3M459 158q-3 7 -9 10M444 153q15 0 29 -4M445 140q16 -3 29 -10M446 144q14 -3 29 -1M460 154q-3 4 -6 7M442 157q17 3 34 2M445 162q16 -3 30 -12M445 142q17 -3 35 -1M445 157q14 5 30 5M451 145q12 -0 23 -5M466 133q-5 -6 -6 -14M455 123q10 8 22 14M449 131q17 2 34 6M448 140q16 7 31 15M451 131q16 4 32 8M444 163q15 9 32 9M452 133q14 11 32 10M462 156q-9 2 -14 8M454 141q12 3 25 5M454 136q12 9 27 12M470 132q-5 -5 -4 -11M453 144q12 7 24 14M459 131q11 9 23 16M457 132q15 5 31 8M450 154q15 2 27 11M470 136q-9 -3 -10 -12M457 141q13 5 27 6M457 146q14 -9 31 -11M464 133q9 11 14 24M453 144q14 10 28 20M452 159q13 -1 26 2M475 135q-4 -6 -5 -14M456 144q15 5 27 15M457 145q10 12 24 19M458 139q19 0 33 12M461 137q16 4 31 10M459 139q16 9 33 12M466 136q10 9 23 15M468 140q8 8 13 18M466 136q12 8 24 15M473 131q7 12 12 25M466 136q16 8 23 24M470 159q-5 0 -9 3M470 138q11 5 22 10M468 139q12 7 25 12M474 133q9 10 18 20M466 147q10 7 18 16M478 134q9 8 20 11M473 136q9 11 19 20M455 155q15 9 32 14M468 147q7 11 14 21M475 141q5 11 12 21M481 129q11 10 23 19M472 139q8 14 20 25M473 142q12 7 24 16" stroke="rgb(225, 28, 72)"/>
<path d="M469 147q9 11 19 20M461 153q17 5 31 15M462 152q15 8 27 20M476 140q14 10 19 26M475 144q12 8 19 21M477 161q-7 -0 -13 2M468 148q5 17 20 26M494 148q3 -4 3 -9M474 163q-5 1 -10 2M476 146q10 8 22 13M476 143q13 10 23 22M483 139q6 14 13 28M478 148q6 10 14 18M472 147q9 15 22 26M468 152q12 14 30 18M473 156q13 2 23 9M469 155q10 10 20 20M486 142q4 16 4 33M494 155q2 -8 6 -15M467 159q6 13 7 26M478 151q5 12 13 22M469 153q10 14 20 28M497 151q1 -7 2 -13M483 145q-0 18 4 35M493 142q11 10 24 17M490 140q8 16 17 32M480 155q9 7 18 15M490 143q16 9 28 22M483 149q11 11 19 25M484 150q5 14 12 27M482 154q3 14 6 27M496 145q10 11 17 24M486 155q5 10 11 20M478 157q5 13 6 28M491 154q7 9 14 19M485 150q5 17 13 33M481 171q-7 -3 -15 -4M488 156q5 11 10 21M483 158q4 12 12 23M480 171q-5 1 -8 -3M488 158q4 11 10 20M488 156q9 10 16 21M492 153q10 12 15 26M507 152q14 4 21 16M489 158q2 13 7 25M493 156q-2 15 2 30M485 161q1 13 2 25M498 158q4 11 12 19M486 160q4 14 9 27M494 159q4 12 7 25M507 155q2 14 4 27M486 162q3 13 5 27M495 162q-1 13 -0 26M474 166q8 14 19 25M495 164q-4 12 -4 25M511 159q3 12 4 24M492 160q6 17 15 32M466 166q5 18 15 33M503 162q-0 14 -4 28M493 166q4 12 9 24M482 166q10 14 19 27M498 166q4 12 6 25M491 168q1 13 -3 25M494 164q-2 17 -3 34M500 169q-1 11 4 22M503 167q1 14 7 26M489 167q3 16 -1 33M476 171q-1 14 0 28M510 177q3 -5 8 -8M488 169q-0 16 7 30M503 168q2 16 11 28M495 169q1 15 5 30M481 172q5 14 5 29M484 170q3 16 8 32M507 181q4 -7 10 -12M490 172q9 13 14 28M496 169q5 17 10 34M507 175q-4 11 -6 23M477 176q2 12 5 24M505 175q-2 12 -3 25M483 188q-6 -0 -10 -5M479 174q4 16 9 31M510 177q1 12 -1 23M497 174q2 16 -1 31M486 187q-6 -6 -14 -8M508 175q-2 16 -7 31M488 176q2 14 2 28M496 176q-2 16 -9 31M499 174q-1 18 -1 36M507 180q-3 13 -6 26M480 177q1 15 2 30M477 175q-0 17 -1 35M486 190q-2 -4 -6 -6M480 181q6 14 15 25M497 181q3 14 4 28M494 183q-2 12 -6 24M499 178q-5 18 1 35M509 182q-6 14 -10 29M481 178q-2 17 1 34M486 192q-2 -6 -7 -9" stroke="rgb(230, 27, 65)"/>
<path d="M494 180q-5 16 -6 33M492 179q-2 17 -6 35M487 181q-0 17 4 33M508 197q6 -6 10 -12M495 187q-2 11 -5 23M485 183q-3 15 -0 29M506 199q4 -3 8 -5M505 186q-12 12 -16 29M518 191q-4 13 -3 27M486 197q-5 -4 -8 -9M504 192q-8 9 -9 20M509 205q7 -5 11 -12M476 182q-1 15 -4 30M490 186q1 16 5 31M484 196q-2 -5 -6 -9M480 183q0 16 -6 30M492 189q-3 12 -9 24M507 194q-6 12 -14 21M497 188q-3 16 -4 32M508 211q5 -2 7 -7M505 191q-1 17 -4 33M494 189q-10 13 -20 25M482 191q5 12 8 24M503 212q6 -3 10 -9M499 193q-12 11 -12 26M506 196q-13 9 -22 22M491 192q-8 12 -19 22M503 196q-9 12 -18 24M495 192q1 17 -1 34M493 194q-5 13 -14 23M485 205q-4 -7 -4 -15M483 192q2 16 7 31M482 202q-2 -5 -2 -10M499 194q-5 16 -8 33M505 212q5 -3 11 -6M479 202q-2 -4 -4 -8M498 197q-7 13 -12 27M489 197q1 12 -5 24M512 204q-14 9 -23 22M487 197q-1 12 -2 24M492 194q-6 17 -18 30M508 203q-12 13 -26 24M504 204q-13 8 -23 20M512 207q-11 11 -20 24M500 203q-8 14 -6 30M487 197q1 16 -6 30M497 201q-9 13 -16 28M505 205q-7 15 -16 30M496 200q-4 17 -12 32M499 203q-12 12 -24 24M479 211q2 -10 -7 -15M486 198q-0 15 -8 29M500 211q-8 9 -19 15M501 209q-12 9 -22 21M498 204q-12 14 -16 31M495 207q-1 15 -5 31M502 208q-13 12 -25 25M493 210q-9 9 -21 13M478 198q-7 11 -15 21M489 203q-13 10 -17 26M498 211q-15 7 -28 17M484 203q-8 11 -11 24M497 226q7 -3 14 -4M476 192q-7 15 -20 26M481 202q-3 14 -6 29M490 210q-10 9 -16 21M495 227q8 -2 15 2M496 216q-17 -3 -30 8M488 205q-5 17 -15 31M495 229q7 1 13 -4M490 208q-13 12 -15 29M501 219q-12 12 -15 29M496 220q-11 8 -24 11M488 213q-12 5 -19 15M490 213q-10 10 -17 23M495 215q-14 9 -25 22M492 221q-8 8 -13 19M486 207q-6 16 -20 28M494 223q-10 8 -18 18M491 217q-11 10 -24 17M489 220q-12 4 -23 10M476 222q-1 -8 -2 -16M491 215q-13 11 -23 25M491 225q-10 7 -20 12M491 241q6 -1 12 -0M490 221q-11 9 -23 16M496 224q-14 10 -26 23M509 248q-12 9 -25 12M482 217q-9 8 -17 17M482 240q6 1 12 4M486 220q-10 10 -17 22M496 230q-13 10 -28 18M486 222q-10 8 -22 13M485 217q-16 6 -32 9M497 234q-13 11 -30 16M477 214q-10 4 -21 8M486 219q-16 7 -32 12M491 228q-15 9 -33 13M476 242q4 2 9 4M480 219q-8 11 -17 19M490 234q-12 8 -25 14M484 221q-11 11 -26 17M479 217q-12 8 -23 16M484 223q-17 0 -33 6M487 234q-15 7 -31 6" stroke="rgb(234, 25, 59)"/>
<path d="M480 220q-12 7 -26 10M485 234q-11 10 -23 18M489 248q-14 3 -23 14M489 239q-17 4 -34 8M479 223q-13 6 -24 14M476 246q4 6 11 9M475 223q-11 4 -19 12M478 228q-11 6 -23 7M485 240q-15 6 -29 13M479 231q-14 4 -24 13M467 224q3 -5 7 -10M481 227q-15 12 -33 9M482 238q-15 4 -30 10M477 235q-10 7 -22 9M482 249q-15 1 -29 5M475 234q-12 -0 -24 0M477 228q-16 1 -31 5M473 231q-11 2 -22 3M477 236q-15 1 -30 7M473 231q-12 1 -24 2M462 248q7 2 11 9M475 235q-14 0 -28 2M473 238q-12 -2 -25 -0M473 243q-13 -4 -25 1M473 225q-14 -2 -28 5M472 242q-13 0 -25 0M469 215q-12 4 -23 11M475 242q-18 -2 -35 -7M469 224q-12 6 -24 13M474 228q-17 -5 -34 -4M469 227q-12 7 -26 11M469 259q-17 -5 -28 -18M467 253q-12 3 -25 2M465 237q-11 -2 -22 -4M468 242q-15 -1 -30 -5M465 245q-13 -1 -25 -5M468 241q-14 -9 -30 -10M461 255q-11 -4 -23 -5M465 242q-14 -2 -27 -2M464 232q-12 -5 -24 -2M465 246q-14 -9 -31 -12M459 242q-9 -7 -18 -14M461 243q-13 3 -26 2M458 262q-15 -5 -27 -16M465 233q-15 -4 -31 -7M462 232q-13 -5 -26 -2M453 252q-9 -8 -18 -14M464 233q-17 1 -34 5M459 242q-11 -10 -27 -10M450 223q4 -1 8 -3M463 234q-17 5 -32 -5M444 247q5 7 3 15M452 224q5 0 9 -2M457 252q-15 -8 -32 -12M442 245q6 6 9 14M453 246q-13 3 -25 -3M443 245q2 4 2 9M456 246q-13 -6 -27 -11M456 233q-12 4 -24 3M459 238q-18 2 -35 2M458 240q-11 -14 -27 -21M456 236q-13 -6 -23 -16M447 254q-13 -5 -26 -8M435 242q0 6 4 11M446 246q-6 -14 -8 -29M458 227q-14 -2 -28 -0M453 247q-14 -11 -30 -18M435 244q4 3 5 8M450 237q-10 -6 -21 -9M434 241q4 5 6 11M461 228q-16 -4 -32 -10M448 245q-12 -8 -24 -16M441 250q-11 -5 -22 -11M430 241q0 5 2 9M447 240q-12 -5 -24 -10M443 246q-12 -6 -24 -12M450 243q-15 -10 -27 -23M444 247q-12 -10 -28 -13M439 248q-12 -6 -22 -14M455 227q-11 -9 -22 -16M444 236q-9 -6 -19 -12M445 218q6 -3 13 -2M444 239q-8 -11 -18 -19M447 239q-11 -12 -23 -23M440 239q-9 -8 -16 -18M448 232q-11 -8 -20 -17M425 241q1 5 1 10M452 225q-11 -9 -25 -12M425 252q-5 -11 -9 -23M442 238q-8 -12 -20 -21M444 233q-7 -11 -17 -19M442 235q-8 -11 -15 -24M444 230q-9 -9 -20 -15M439 237q-10 -11 -19 -22M443 232q-12 -7 -19 -19M420 234q0 6 1 11M430 241q-8 -10 -14 -21M420 231q-2 8 -5 16M435 240q-12 -11 -25 -19M437 231q-11 -6 -22 -10M451 227q-14 -11 -26 -24M429 242q-3 -15 -12 -28" stroke="rgb(239, 24, 52)"/>
<path d="M436 237q-16 -7 -29 -19M435 217q5 -1 11 -1M436 232q-2 -13 -9 -25M421 231q0 6 -2 13M449 226q-13 -11 -23 -25M433 215q8 0 17 -1M444 222q-5 -10 -8 -21M426 241q-12 -11 -24 -22M439 213q5 2 10 4M434 233q-8 -13 -20 -22M444 228q-7 -16 -14 -32M440 215q5 2 10 4M447 221q-9 -10 -18 -19M428 231q-4 -11 -6 -22M431 232q-7 -13 -17 -23M424 234q-5 -13 -10 -25M435 209q5 1 10 1M441 227q-12 -12 -23 -25M438 224q-10 -9 -14 -21M423 234q-9 -13 -9 -29M422 234q-8 -12 -16 -24M438 221q-6 -10 -11 -21M448 219q-8 -13 -17 -25M418 230q-6 -10 -8 -21M419 235q-6 -17 -7 -34M415 233q-8 -12 -10 -25M426 226q-6 -12 -17 -22M422 230q-3 -15 -9 -29M426 227q-10 -12 -17 -26M410 214q-4 6 -6 13M431 226q-11 -13 -17 -30M428 228q-5 -17 -12 -34M419 222q6 -13 13 -26M428 219q-0 -12 0 -24M436 202q8 3 16 6M415 224q-4 -10 -6 -21M427 224q-6 -17 -19 -28M419 223q-5 -12 -11 -23M425 223q-1 -17 -2 -33M426 223q-6 -15 -16 -28M435 205q4 4 9 6M422 221q-5 -13 -8 -26M410 213q-4 8 -9 14M424 218q-7 -10 -14 -21M433 214q-5 -11 -13 -19M406 212q-2 8 -5 15M438 213q-1 -13 -6 -24M407 206q-0 5 -4 9M429 206q3 4 8 5M422 216q-0 -13 4 -26M420 219q-8 -12 -12 -26M421 222q-11 -15 -11 -34M428 199q6 4 14 5M420 218q-5 -14 -5 -28M439 215q-7 -15 -9 -32M431 217q-7 -17 -18 -31M438 208q-9 -8 -14 -19M427 215q-5 -14 -6 -29M417 218q-4 -18 4 -35M428 213q-1 -15 -3 -30M427 201q6 4 12 6M428 212q1 -14 -2 -28M406 202q-0 5 -5 8M420 212q-1 -14 -7 -26M405 205q-2 5 -7 7M414 216q4 -17 2 -34M397 212q-1 -11 -0 -22M408 212q-2 -13 -2 -25M424 213q2 -17 -3 -34M437 205q-5 -10 -6 -22M412 207q10 -11 18 -24M411 210q4 -14 -0 -29M434 209q-3 -16 -11 -30M432 197q5 6 10 11M403 209q0 -14 1 -27M410 209q6 -16 12 -31M412 208q-3 -15 -5 -29M420 205q-2 -13 -3 -25M400 206q3 -14 2 -28M422 207q-4 -16 -6 -31M413 206q1 -16 7 -30M429 193q5 5 10 9M429 204q1 -13 1 -27M428 206q2 -16 4 -32M448 207q-6 -15 -7 -32M414 206q-1 -18 -3 -35M431 203q-4 -15 -13 -28M424 205q-3 -17 -2 -33M426 199q-2 -11 -3 -23M405 198q6 -11 8 -24M420 198q-3 -12 -5 -24M432 203q1 -17 -5 -32M421 202q10 -14 11 -32M413 196q4 -13 -1 -25M415 195q2 -12 2 -23M431 182q6 5 7 13M401 197q9 -13 14 -29M430 184q5 5 8 10M429 199q7 -13 9 -28M422 199q1 -16 4 -32M414 196q0 -15 0 -31M428 182q3 3 7 5M411 192q2 -11 4 -22M422 192q0 -11 3 -22M422 192q-0 -12 1 -23M418 189q7 -11 19 -18M423 191q-3 -12 -1 -24M419 193q-5 -15 1 -30" stroke="rgb(244, 23, 45)"/>
</g>
<g clip-path="url(#k01)">
<path d="M666 295q-13 -5 -24 -12M653 295q3 7 6 15M660 278q7 -2 14 -0M666 292q-12 -4 -22 -12M666 291q-11 -7 -21 -15M648 292q0 5 1 10M658 278q7 -2 15 -2M664 289q-8 -8 -17 -16M654 281q4 -1 9 -0M664 291q-11 -10 -18 -23M663 286q-11 -5 -22 -10M647 291q1 6 1 12M659 287q-11 -3 -22 -2M658 292q-15 1 -28 -5M664 287q-12 -10 -26 -17M665 286q-14 -10 -30 -16M641 285q-1 6 2 12M652 291q-8 -9 -12 -21M659 281q-12 -2 -22 -8M652 295q-11 -11 -23 -20M656 286q-8 -12 -18 -23M654 282q-10 -7 -22 -10M656 283q-14 -5 -26 -15M650 284q-13 -2 -23 -10M654 282q-11 -10 -24 -18M635 280q0 6 3 11M649 287q-12 -10 -20 -22M644 288q-7 -11 -17 -20M636 277q-1 5 -1 10M649 279q-10 -7 -18 -16M648 282q-12 -8 -24 -16M636 275q-1 5 0 10M648 283q-13 -9 -26 -19M629 279q-1 8 4 13M640 264q7 -4 15 -4M638 285q-7 -9 -13 -18M643 283q-13 -6 -23 -17M636 265q8 0 15 -2M643 279q-12 -5 -21 -15M641 280q-10 -9 -21 -16M642 273q-5 -10 -10 -20M637 278q-10 -6 -18 -14M636 284q-11 -12 -20 -24M638 274q-5 -10 -13 -18M625 270q-0 4 -1 9" stroke="rgb(46, 77, 237)"/>
<path d="M646 274q-13 -13 -25 -25M638 272q-6 -10 -16 -18M642 271q-9 -13 -18 -25M632 262q9 2 16 -2M635 278q-12 -12 -25 -23M632 262q8 2 15 3M632 278q-3 -17 -13 -31M628 257q9 0 16 5M627 275q-3 -12 -8 -24M632 257q7 -0 13 -1M635 272q-12 -12 -13 -29M627 271q-6 -9 -15 -17M631 266q-4 -10 -9 -21M617 262q-3 5 -3 11M637 261q-8 -8 -18 -14M626 251q7 -2 14 1M627 270q-5 -13 -12 -24M620 274q-4 -14 -8 -28M634 265q-11 -11 -19 -25M615 260q-2 4 -3 9M631 267q-6 -16 -13 -32M622 268q-5 -13 -11 -25M626 262q-6 -11 -16 -19M621 263q-4 -10 -9 -20M624 250q4 1 9 2M625 261q-1 -14 -7 -26M614 256q-1 7 -1 14M615 269q-6 -14 -9 -29M623 259q-8 -10 -13 -22M621 244q6 0 11 -1M627 257q-10 -11 -23 -20M635 251q-14 -9 -28 -18M620 257q-8 -9 -17 -17M624 239q8 1 17 1M618 262q-6 -16 -11 -31M623 257q-15 -8 -28 -18M613 263q-8 -13 -15 -26M622 248q-11 -6 -22 -10M614 241q5 -1 10 2M620 257q-11 -14 -24 -25M623 244q-10 -6 -20 -14M621 253q-11 -13 -21 -27M611 261q-8 -16 -16 -31" stroke="rgb(49, 75, 235)"/>
<path d="M614 251q-10 -8 -21 -17M602 244q1 5 -1 11M612 235q8 -1 16 -0M617 247q-13 -6 -25 -14M618 249q-15 -9 -28 -21M611 246q-6 -9 -12 -19M615 248q-14 -9 -27 -19M600 239q1 6 2 12M613 246q-9 -12 -19 -24M596 238q2 6 3 13M605 250q-2 -15 -6 -31M612 241q-10 -7 -18 -16M614 245q-13 -12 -27 -23M607 243q-9 -10 -17 -19M611 242q-9 -13 -20 -25M611 240q-10 -12 -25 -20M591 234q-4 7 -0 15M608 241q-11 -11 -26 -17M595 233q-0 5 0 10M602 243q-4 -14 -13 -26M609 233q-6 -12 -7 -25M602 224q6 2 12 4M596 241q-5 -10 -9 -21M598 245q-9 -14 -25 -21M599 223q7 -1 14 -3M611 234q-13 -11 -21 -26M588 228q-1 5 -4 9M603 237q-6 -15 -19 -23M605 229q-15 -0 -28 -7M596 219q8 1 15 -0M603 233q-5 -15 -9 -30M596 221q6 5 15 7M603 230q-5 -12 -9 -24M594 234q-9 -9 -18 -18M598 231q-1 -13 -7 -25M600 233q-10 -14 -25 -24M593 229q-7 -9 -10 -20M594 230q-7 -12 -15 -23M601 224q-6 -11 -10 -24M598 227q-9 -12 -20 -23M581 217q-1 7 -3 15M594 225q-2 -13 -7 -25" stroke="rgb(52, 73, 233)"/>
<path d="M607 223q-10 -13 -17 -29M580 216q-1 7 -3 15M580 231q-3 -14 -10 -26M590 226q-5 -14 -9 -28M595 210q7 4 15 6M591 226q-6 -15 -12 -30M587 228q-8 -16 -9 -34M591 209q7 3 13 9M590 222q-4 -14 -12 -26M577 212q-2 5 -4 10M588 220q-6 -11 -9 -23M588 217q-1 -12 -4 -23M591 204q6 2 11 5M580 218q2 -11 1 -22M587 204q4 2 8 3M590 219q-9 -14 -9 -30M582 221q1 -18 6 -36M576 206q-1 4 -2 8M585 216q-9 -11 -14 -25M580 215q-4 -12 -7 -23M575 207q-5 5 -6 12M589 212q-2 -13 -3 -26M589 214q-7 -15 -13 -31M590 198q4 6 11 10M585 211q-2 -13 -8 -26M588 213q-6 -16 -18 -30M588 211q-1 -16 -8 -31M574 210q5 -14 8 -29M587 191q6 2 12 4M585 206q-5 -12 -7 -24M572 194q-2 5 -5 9M585 209q-2 -16 -4 -33M570 193q-6 3 -8 9M589 207q-10 -15 -19 -31M598 202q-10 -12 -17 -26M573 194q-4 2 -6 6M572 206q1 -15 -2 -29M573 203q-1 -14 -0 -27M573 188q-4 5 -6 10M584 205q7 -19 -5 -35M587 197q-7 -10 -7 -21M579 203q2 -18 2 -35M574 198q5 -13 2 -26M571 182q-5 6 -11 10M584 186q8 2 13 9M570 195q-2 -11 -4 -23M587 184q5 3 9 7M589 197q-2 -16 -9 -30" stroke="rgb(55, 70, 231)"/>
<path d="M576 195q5 -13 6 -27M574 194q3 -14 11 -27M587 178q4 4 10 6M577 193q2 -14 3 -27M584 179q7 5 12 11M580 189q1 -11 2 -23M570 174q-4 2 -7 6M585 180q7 3 7 10M573 189q6 -11 4 -24M579 189q-1 -14 0 -27M571 175q-4 5 -8 9M573 191q-1 -19 12 -33M586 174q3 4 6 8M572 187q6 -13 7 -27M571 187q-0 -16 3 -31M572 168q-5 3 -11 6M586 171q3 3 7 5M579 187q4 -15 8 -29M568 171q-5 3 -10 6M587 172q4 6 10 11M570 186q9 -15 10 -33M578 182q4 -12 9 -24M587 173q3 3 4 7M567 182q-3 -17 7 -31M579 180q-1 -13 -0 -26M568 164q-6 2 -11 5M577 181q-1 -15 2 -30M584 170q3 3 4 7M568 177q11 -12 22 -25M573 178q6 -14 12 -29M583 180q7 -14 11 -28M574 162q-6 2 -12 6M578 175q1 -14 1 -29M587 161q7 6 6 14M573 176q6 -16 8 -34M573 168q2 -11 9 -20M576 174q11 -14 24 -25M584 177q8 -14 10 -31M587 161q0 5 2 9M581 168q4 -10 11 -19M569 165q10 -13 24 -21M578 170q8 -14 17 -27M590 159q1 7 1 14M576 165q9 -11 20 -20M574 166q6 -17 16 -32M582 169q7 -14 12 -30M569 156q12 -11 25 -19" stroke="rgb(57, 68, 229)"/>
<path d="M577 160q15 -4 27 -13M594 156q-0 6 -1 13M575 153q7 -9 17 -15M575 151q8 -9 17 -16M579 157q16 -3 31 -7M586 146q-5 -1 -9 -0M576 156q15 -8 27 -19M578 159q15 -9 26 -24M582 160q12 -12 26 -20M586 154q6 -10 14 -17M583 154q12 -8 22 -19M589 164q9 -14 20 -26M586 147q2 -13 10 -24M583 152q17 -1 32 -10M580 140q15 -4 31 -3M604 149q-3 7 -4 15M585 150q16 -3 31 -6M586 138q11 -5 22 -8M597 136q-5 -1 -9 -4M591 150q10 -7 20 -15M600 148q-1 6 -4 11M587 148q17 -4 30 -15M599 134q-5 -2 -9 -4M603 145q-3 8 -9 14M587 145q13 -12 28 -20M587 144q18 0 34 -7M605 135q-7 -3 -14 -6M594 158q13 -7 25 -16M594 140q12 1 23 2M604 147q-3 3 -5 7M591 132q15 2 30 5M606 134q-3 -3 -6 -6M612 147q-6 4 -10 8M595 141q13 0 26 1M606 133q-6 -5 -11 -9M596 141q13 2 26 -0M596 142q14 -4 29 -4M615 150q-6 3 -7 10M596 130q15 6 31 9M610 133q-3 -3 -6 -6M598 144q15 -1 29 -7M601 131q11 9 24 7M602 142q13 0 25 -1M617 145q-3 7 -9 9M605 137q11 -5 22 -3M604 143q13 -2 25 -5" stroke="rgb(60, 66, 228)"/>
<path d="M608 128q10 4 21 8M621 133q-3 -4 -6 -8M603 132q17 1 34 4M617 151q-4 2 -6 6M605 133q16 2 32 5M609 138q11 6 24 7M608 136q15 -1 30 3M619 146q-3 3 -8 5M611 137q13 -3 25 1M625 151q-5 6 -13 8M608 136q17 -4 35 -1M610 138q17 -3 32 5M614 141q12 1 25 3M628 133q-3 -7 -7 -13M613 133q17 0 33 1M617 135q12 2 25 4M625 148q-7 4 -15 8M616 142q14 -4 29 -4M632 132q-3 -4 -7 -7M622 127q11 5 23 8M618 133q15 4 30 6M629 149q-5 2 -9 6M625 135q7 10 15 19M622 128q14 10 27 21M622 139q14 2 27 6M635 135q-5 -6 -10 -12M628 133q12 1 21 8M623 138q16 3 31 7M628 128q14 9 27 18M639 136q-2 -4 -3 -8M628 140q11 6 21 13M623 141q16 8 34 11M638 149q-5 1 -9 3M628 141q10 10 20 18M631 144q11 2 21 6M641 151q-6 1 -12 3M633 141q11 3 20 10M638 149q-4 -1 -8 -1M637 138q6 9 16 15M633 137q9 14 19 27M640 151q-8 0 -15 4M637 137q14 7 23 19M637 139q8 13 20 22M643 134q4 15 13 29M632 145q10 11 18 23M652 145q-0 -6 -1 -11" stroke="rgb(63, 64, 226)"/>
<path d="M640 139q11 11 21 23M640 139q9 14 18 28M650 137q10 11 13 25M647 140q4 14 11 27M654 152q1 -8 6 -14M650 141q1 15 9 26M649 145q4 11 7 22M647 140q7 17 14 33M640 147q11 13 23 24M657 157q1 -6 5 -10M643 150q9 11 20 19M649 164q-5 -1 -8 -3M655 143q5 14 8 29M644 152q10 9 15 20M648 169q-7 -2 -14 -6M661 147q-1 13 -1 25M638 155q12 10 24 22M652 148q6 17 21 27M662 165q3 -4 2 -8M648 169q-8 -3 -14 -9M653 151q6 13 7 28M652 166q-7 -3 -15 -7M654 150q9 14 19 27M653 154q-3 14 1 29M654 154q4 14 11 26M651 173q-7 0 -13 -2M654 156q9 11 16 24M646 161q10 10 18 22M649 159q8 13 11 28M662 154q-3 18 -1 36M666 159q-1 13 -6 26M658 160q4 14 8 28M653 176q-4 -3 -7 -6M663 159q-3 16 0 32M650 178q-5 -1 -9 -4M657 162q2 16 2 31M654 167q7 11 12 23M664 163q1 15 0 30M671 173q3 -4 4 -9M656 164q3 17 12 31M666 167q2 13 3 25" stroke="rgb(66, 62, 224)"/>
<path d="M650 170q10 11 16 25M657 187q-6 -2 -10 -7M661 165q-1 18 5 35M661 168q-2 16 3 32M671 185q5 -6 9 -13M668 173q1 12 2 23M655 174q1 14 7 26M655 187q-5 -0 -9 -4M661 171q4 15 7 31M657 186q-8 -1 -13 -6M668 176q-6 12 -11 26M656 187q-5 -4 -9 -9M657 173q8 15 12 33M655 178q2 14 9 28M657 189q-2 -4 -6 -6M665 175q4 16 9 32M661 175q-1 18 6 35M670 193q3 -5 4 -11M660 178q2 16 7 32M664 178q2 17 7 34M660 185q2 11 7 22M663 184q3 14 11 25M670 200q4 -7 8 -15M659 201q-5 -3 -8 -8M653 187q6 12 12 23M657 199q-7 -1 -12 -6M662 189q9 9 16 19M659 184q6 16 9 33M669 185q2 16 4 33M655 192q3 11 5 23M669 188q6 16 -1 31M673 191q-4 13 -6 26M671 201q2 -6 7 -9M670 193q-4 14 -9 27M663 195q1 12 5 23M658 204q-7 -4 -14 -8M669 192q1 15 1 31M655 197q7 13 15 25M669 199q-1 11 -3 23M664 198q-1 13 2 26M671 199q-2 13 1 26M672 208q6 -4 12 -9M661 198q4 16 1 33M673 209q4 -8 10 -12M664 198q2 17 6 34" stroke="rgb(69, 60, 221)"/>
<path d="M668 202q1 14 1 28M659 218q-7 -2 -10 -8M673 202q-0 15 -2 30M674 219q3 -6 7 -11M660 219q-4 -4 -7 -8M663 203q4 15 8 29M660 203q5 16 5 32M674 218q2 -4 4 -8M665 208q4 12 8 24M676 209q-9 11 -14 25M675 223q5 -4 10 -7M679 207q-1 15 -7 30M645 274q5 13 9 27M655 212q4 14 14 24M669 212q-1 13 4 26M659 222q-2 -4 -6 -6M677 282q-15 5 -30 10M670 209q2 17 -2 34M661 230q-3 -6 -7 -11M643 254q6 19 -2 37M683 210q-4 18 -14 33M679 230q3 -5 7 -10M655 227q-3 -4 -6 -8M671 213q1 15 -2 29M666 268q-3 12 -8 24M662 216q6 13 14 26M667 276q-15 12 -34 10M665 218q3 12 5 24M665 216q-2 15 -1 31M660 279q-10 15 -18 30M668 219q-16 8 -20 26M645 277q8 12 19 22M673 216q-5 17 -6 35M638 275q14 9 24 22M668 218q-6 15 -7 32M671 219q-6 17 -6 34M639 286q5 14 3 29M665 221q-2 16 0 31M672 234q5 -3 10 -7M648 270q11 7 23 10M674 227q-5 11 -8 22M666 226q1 13 -4 25M657 276q-9 9 -21 15M665 226q0 14 -5 27M672 239q4 -4 8 -8M643 288q13 7 26 15M667 229q-1 12 -5 23M669 230q-7 11 -10 24M660 245q-5 -6 -6 -14M654 278q-1 14 -0 27M670 229q-3 15 -1 29M660 268q-2 16 1 32M671 234q-2 11 -5 22M659 244q-5 -5 -10 -12M666 233q2 13 -5 25M660 243q-6 -6 -5 -14M674 265q1 18 -6 34M665 234q-3 11 -4 23M642 268q7 15 17 29M669 234q0 14 -5 28" stroke="rgb(80, 57, 214)"/>
<path d="M660 234q1 13 1 27M654 247q-1 -5 -3 -9M655 282q-15 4 -22 17M669 237q-4 13 -8 25M652 275q6 16 15 30M664 232q-5 17 -8 35M663 235q-4 16 -2 33M652 266q-2 18 -4 36M660 236q-1 15 -1 31M664 269q4 13 7 26M662 238q-0 15 -3 30M657 249q-4 -6 -5 -14M670 243q-7 13 -16 24M659 257q-4 12 -5 25M669 241q-7 14 -12 30M645 260q10 13 23 20M672 247q-7 11 -5 24M671 247q2 14 -4 27M667 284q-16 10 -31 21M653 246q0 12 5 24M642 286q17 3 33 11M661 244q-4 16 -5 32M668 260q5 -5 12 -8M671 251q-4 13 -4 26M628 290q12 10 28 13M658 246q2 15 2 31M653 258q-2 -7 -5 -14M631 260q-5 14 -4 29M665 246q-2 17 -5 35M664 249q-5 17 0 34M670 276q-0 13 3 26M671 251q-5 17 -15 31M646 258q7 13 18 22M665 253q-4 15 -13 28M654 266q-3 -6 -8 -12M662 254q-3 14 -9 27M639 272q4 15 19 21M670 261q-9 8 -17 18M666 271q3 -5 9 -7M631 267q16 5 33 8M664 257q-5 13 -12 25M650 264q-3 -3 -5 -8M659 253q-8 15 -9 33M647 270q-3 -5 -7 -10M627 262q5 15 13 28M657 254q-1 17 -9 33M665 275q4 -1 7 -3M666 258q-11 15 -21 30M666 262q-7 11 -14 22M662 263q-7 10 -15 20M652 278q4 17 16 31M654 263q4 12 6 24M664 278q4 -2 7 -5M649 268q-3 -8 -8 -15M640 297q10 -7 17 -18M656 261q-1 14 -8 27M649 269q-5 -6 -9 -12M674 268q-9 12 -20 23M633 290q16 0 32 -2M657 264q-4 14 -2 28M651 275q-2 -9 -10 -13M630 279q14 -1 29 1M663 268q-8 11 -10 24M661 267q-6 16 -22 22M663 283q5 -2 10 -5M671 297q12 -11 24 -22" stroke="rgb(90, 54, 207)"/>
<path d="M664 270q-6 12 -12 25M661 278q-12 11 -26 19M666 268q-9 15 -18 30M663 272q-10 10 -19 22M660 284q7 -4 16 -3M654 271q8 13 16 26M657 268q-4 16 -3 33M659 285q4 -1 8 -3M629 294q14 -11 30 -20M661 271q2 17 -2 33M659 289q4 -2 9 -3M661 273q-15 9 -20 26M660 292q7 -4 12 -10M653 258q-1 19 6 37M658 238q8 -7 16 -16M660 223q-6 -2 -12 -3M650 271q3 15 6 31M656 233q11 -4 23 -2M674 266q-7 16 -14 32M654 238q17 -2 33 -3M638 274q12 6 24 11M658 243q12 -12 23 -25M645 292q15 0 28 -7M654 235q16 -7 33 -10M646 272q8 10 16 19M657 234q15 -2 28 -8M635 284q13 11 24 25M639 250q8 16 13 32M657 235q16 -7 32 -12M667 262q10 15 17 32M666 244q8 -12 22 -16M635 272q-2 12 -5 24M662 235q13 -5 28 -7M684 260q-10 15 -17 32M663 231q11 -6 23 -11M640 261q1 15 2 29M662 236q14 -9 31 -13M675 221q-5 -5 -11 -9M656 289q14 12 26 25M668 243q14 1 27 -5M668 261q-4 16 -9 33M649 269q17 10 23 28M666 223q13 2 26 8M679 234q-0 9 -8 13M658 276q-10 15 -15 33M668 230q12 -4 24 -4M679 222q-4 -7 -10 -11M639 285q2 17 11 31M671 233q11 -3 20 -10" stroke="rgb(101, 52, 200)"/>
<path d="M651 250q10 15 24 25M664 217q17 3 34 7M681 221q-4 -2 -7 -4M651 252q1 19 15 31M668 232q18 1 31 -12M638 262q6 16 10 33M670 227q15 6 30 0M623 282q12 8 22 18M671 222q14 3 29 3M641 270q1 14 9 25M659 265q5 13 13 25M676 231q12 -0 23 -4M631 276q11 18 31 20M677 227q11 2 23 4M664 261q18 4 25 21M675 231q15 1 29 -4M627 283q19 -5 37 5M675 230q14 -5 29 -1M687 238q-3 7 -11 10M648 283q15 -16 34 -4M678 231q13 -4 27 -7M653 271q14 -5 28 -6M681 225q12 -1 24 -4M694 218q-3 -5 -6 -9M659 257q-7 17 -2 35M676 229q18 1 35 -3M637 260q0 18 12 31M682 223q12 4 25 7M678 227q17 3 34 5M685 226q11 5 23 9M695 237q-5 3 -10 5M687 225q10 6 21 8M686 226q12 6 25 10M703 222q-2 -6 -3 -12M683 235q12 3 23 6M705 223q-0 -5 -2 -10M683 228q17 2 34 9M703 227q-2 -6 -1 -12M698 237q-4 2 -9 0" stroke="rgb(112, 49, 193)"/>
<path d="M688 230q13 4 27 3M692 224q7 11 18 19M700 240q-5 -2 -11 0M695 223q5 12 16 20M700 221q4 13 8 26M698 221q10 10 22 17M713 226q-0 -8 -3 -15M698 224q8 10 17 19M696 222q13 10 27 20M691 232q15 5 29 14M700 221q10 14 26 21M703 227q9 7 19 13M715 235q-3 -6 -2 -12M708 240q-7 0 -14 -2M693 236q14 6 27 12M694 233q15 8 32 13M712 235q-0 -5 -1 -10M697 235q13 7 27 12M698 236q9 12 16 25M716 232q-3 -4 -3 -9M694 243q16 2 32 4M711 247q-4 3 -9 1M706 234q8 8 16 16M709 229q10 9 19 19M721 237q3 -4 1 -8M706 231q11 10 24 19" stroke="rgb(123, 46, 186)"/>
<path d="M701 236q13 11 25 24M718 237q-2 -6 -4 -12M702 244q13 5 25 11M723 239q-1 -5 -2 -10M717 248q-5 -1 -10 2M713 230q9 11 16 24M705 236q12 13 26 21M711 238q13 5 21 16M709 242q11 7 20 17M712 241q9 9 20 13M709 245q13 3 24 11M716 253q-4 4 -10 4M711 245q11 7 21 15M723 255q-5 1 -11 -0M710 247q13 4 27 7M715 240q12 10 20 24M718 244q11 4 19 12M717 243q9 10 22 15M725 259q-7 -2 -14 0M724 237q7 10 18 17M722 259q-4 3 -9 4M716 246q13 8 25 16M727 261q-8 0 -17 0M716 247q14 7 25 17M721 245q11 8 24 12M734 252q-2 -8 -1 -15M727 257q-8 3 -16 5" stroke="rgb(134, 44, 176)"/>
<path d="M723 246q9 10 17 19M724 247q11 6 18 16M723 243q15 8 27 19M724 244q13 10 22 24M735 249q-4 -6 -7 -13M730 263q-7 -1 -13 4M721 250q15 8 28 19M735 263q-4 4 -9 5M724 251q17 0 34 -3M727 250q14 2 25 12M724 248q14 11 29 21M727 247q14 9 29 17M745 253q-1 -5 -3 -10M721 259q16 7 33 13M729 254q14 1 25 11M743 255q-2 -6 -3 -12M730 260q10 5 21 8M732 250q12 11 24 20M747 252q-2 -5 -3 -10M728 258q15 8 28 18M734 251q15 5 30 7M735 257q13 3 26 7M747 256q-1 -4 -2 -9M732 263q14 1 28 6M737 261q9 9 20 13" stroke="rgb(145, 42, 164)"/>
<path d="M740 255q10 9 19 20M746 271q-8 3 -17 2M739 260q10 7 21 12M757 256q-2 -7 -3 -14M751 270q-5 -0 -10 1M740 258q8 12 21 18M739 262q14 3 29 2M755 260q-5 -6 -6 -13M736 274q14 0 28 -1M742 251q17 6 31 15M750 271q-7 1 -12 5M745 262q10 5 22 7M756 261q-2 -7 -6 -13M748 261q10 8 15 19M740 265q16 7 31 16M743 265q15 2 28 10M746 263q12 7 27 11M747 256q14 11 29 20M762 260q-6 -4 -6 -12M753 258q11 10 18 22M757 275q-6 0 -11 3M753 263q10 5 19 13M749 263q16 5 28 17M752 262q13 9 28 15M754 259q11 13 22 25M770 265q-5 -5 -7 -11M755 264q15 6 30 3" stroke="rgb(156, 40, 151)"/>
<path d="M754 266q14 8 25 20M771 266q0 -7 -3 -13M761 259q10 8 19 18M754 273q15 -1 29 5M770 279q-7 1 -14 4M759 268q13 2 26 5M756 276q11 9 24 13M772 268q-2 -4 -4 -8M768 281q-5 3 -10 6M758 280q14 -6 29 -10M767 281q-8 2 -15 3M762 267q13 5 25 9M761 274q13 6 26 3M759 273q17 2 31 11M778 267q-2 -6 -5 -11M764 268q13 9 27 14M776 271q-2 -5 -1 -11M768 260q11 14 21 28M777 284q-7 4 -15 7M768 268q10 10 21 20M771 267q13 4 21 15M762 279q14 8 30 9M775 282q-7 2 -14 4M774 265q5 16 15 29M787 270q-1 -5 -1 -11M772 270q10 10 22 17M781 286q-6 3 -13 4M767 275q16 6 29 16M784 285q-8 -2 -16 1M769 272q18 5 29 20" stroke="rgb(168, 38, 139)"/>
<path d="M768 283q13 5 26 9M792 275q-1 -5 1 -9M772 273q13 10 26 19M784 269q6 10 10 21M772 282q15 1 27 9M783 288q-5 0 -10 0M769 279q13 11 23 25M785 265q8 16 14 33M785 271q6 14 10 28M776 280q10 10 22 18M797 286q2 -5 3 -10M785 274q4 14 7 28M791 269q1 18 6 35M787 273q5 16 10 33M793 273q-1 17 4 33M790 295q-5 -7 -13 -9M790 281q7 9 13 19M800 285q4 -7 9 -13M782 299q-7 -3 -14 -2M783 281q8 12 16 25M800 288q4 -8 4 -16M788 296q-8 -2 -16 -4M783 284q7 11 8 24M801 294q3 -6 5 -13M788 292q-6 -0 -12 -2M786 282q8 12 19 23M800 293q4 -8 3 -16M790 282q14 10 26 22M786 288q9 8 15 18M801 297q1 -8 4 -14M790 299q-7 -2 -14 -5" stroke="rgb(179, 36, 127)"/>
<path d="M795 282q2 15 2 30M794 287q6 10 12 20M789 288q2 13 4 26M796 289q-1 12 -0 24M790 299q-5 -4 -10 -9M789 290q2 14 8 26M803 302q2 -7 5 -12M788 289q5 15 13 28M786 290q8 14 11 31M794 293q-0 13 -0 25M791 292q1 16 10 29M802 293q5 11 11 21M788 297q-2 15 3 29" stroke="rgb(189, 34, 115)"/>
<path d="M796 273q-13 8 -27 17M780 280q6 0 9 6M787 262q-7 14 -18 23M786 268q-7 10 -16 17M786 268q-7 11 -17 18M777 270q-0 -5 2 -9M789 268q-13 8 -26 18M786 264q-15 7 -25 20M785 274q-9 7 -19 14M769 275q2 -7 1 -14M782 269q-9 8 -18 15M772 272q-2 -6 1 -12M786 271q-12 11 -27 18M783 268q-16 0 -30 9M779 272q-12 -1 -23 4M785 276q-15 7 -29 15M783 275q-14 8 -29 13M776 272q-10 8 -22 9M766 286q4 1 9 2M780 277q-11 9 -24 16M768 286q7 4 14 7M781 277q-14 11 -31 11M768 291q6 2 11 3M776 276q-13 6 -25 11M773 274q-9 9 -21 14M764 277q3 -4 5 -8M779 285q-15 2 -29 6M773 273q-14 8 -27 15M768 275q-11 3 -21 8M775 286q-15 3 -30 4M772 276q-14 7 -30 13M768 275q-9 14 -21 24M769 283q-13 4 -25 11M767 288q-11 -1 -23 -0M768 283q-12 8 -27 11M767 287q-13 7 -27 6M756 292q8 0 14 5M767 280q-16 2 -33 1M766 277q-18 -1 -33 9M752 296q5 1 7 6M762 287q-13 0 -23 8M751 282q6 -4 8 -11M762 289q-14 -3 -28 -3M759 279q-12 3 -24 6M747 294q2 4 6 6M758 283q-12 1 -24 3M762 293q-17 -6 -35 -8M743 294q1 5 4 8M759 290q-14 -7 -30 -6" stroke="rgb(198, 33, 104)"/>
<path d="M758 289q-15 -4 -31 -5M741 295q6 6 10 14M742 281q5 -2 9 -6M758 288q-17 -2 -34 -0M742 281q7 -2 12 -6M758 288q-18 -2 -35 3M742 282q2 -5 7 -8M752 298q-14 -3 -26 -10M755 293q-15 -13 -33 -8M735 293q7 3 11 10M750 297q-12 -9 -25 -17M738 279q6 -5 14 -7M748 277q-13 4 -23 12M747 292q-10 -10 -24 -11M732 291q5 7 8 14M751 274q-16 2 -31 6M739 278q6 -6 12 -12M744 287q-11 -4 -21 -9M734 292q4 7 6 15M742 295q-12 -4 -24 -7M734 290q1 5 6 9M732 277q5 -1 9 -4M745 287q-14 -1 -28 -4M731 291q7 5 8 13M741 295q-13 -3 -26 -4M743 294q-15 -6 -30 -13M739 300q-14 -6 -27 -14M740 281q-13 4 -26 4M726 289q3 4 5 8M736 289q-12 -0 -24 -1M733 295q-12 -3 -24 -2M726 288q1 4 2 8M740 290q-15 -10 -31 -18M724 276q6 -2 9 -6M737 288q-14 -7 -29 -12M730 291q-11 -3 -22 -6M735 291q-17 -1 -34 -3M715 291q4 3 4 8M735 289q-16 -6 -32 -15M732 284q-14 -0 -28 -4M731 287q-12 -9 -26 -16M726 291q-11 -8 -24 -13M729 287q-12 -9 -27 -14M711 283q1 5 5 10M723 298q-14 -10 -27 -23M717 293q-11 -6 -19 -14M724 291q-16 -7 -27 -21M723 287q-10 -11 -23 -18M707 281q-1 4 -1 9M718 272q8 -0 16 0M725 282q-15 -3 -23 -16M706 279q-2 4 -2 9M711 291q-7 -10 -14 -20M705 279q2 4 1 8M722 285q-13 -10 -24 -22M716 287q-1 -16 -7 -30M714 284q-4 -13 -17 -19M717 285q-9 -14 -18 -27M712 272q7 -1 14 2M711 282q-5 -10 -9 -21M713 286q-6 -16 -11 -33M707 284q3 -16 1 -31M713 283q-12 -14 -17 -31M702 266q-1 8 -8 13M704 278q-1 -12 -5 -23M706 283q2 -18 5 -35M712 263q4 5 9 9" stroke="rgb(207, 31, 94)"/>
<path d="M706 278q-0 -14 -2 -29M712 267q4 2 4 7M713 275q-1 -12 -2 -24M717 261q3 6 9 8M709 279q1 -18 -7 -35M701 277q9 -15 17 -31M716 263q6 5 11 11M702 275q6 -16 12 -31M701 273q3 -15 5 -30M700 259q-7 1 -14 5M705 274q10 -14 19 -29M695 268q7 -13 15 -26M701 256q-7 1 -13 5M707 270q6 -13 6 -28M714 260q4 5 8 11M707 272q6 -17 16 -31M704 254q-5 1 -10 3M711 266q3 -11 5 -22M701 253q-5 2 -9 5M706 266q7 -13 15 -25M704 251q-7 -1 -13 3M707 264q3 -12 8 -23M698 262q12 -11 18 -26M715 255q1 6 5 10M707 266q9 -14 16 -29M719 250q2 4 4 8M708 261q7 -10 12 -21M694 254q12 -13 29 -18M695 248q15 -3 30 -7M709 257q9 -9 10 -21M709 254q9 -8 10 -20M718 245q-1 6 -2 12M706 255q11 -9 20 -20M703 251q2 -16 14 -26M720 245q-2 5 -1 10M710 252q11 -3 20 -10M708 251q10 -8 19 -17M715 236q-4 -3 -9 -2M703 249q13 -10 27 -20M724 244q-0 9 -4 16M705 243q12 -6 25 -9M703 246q15 -10 32 -14M724 244q-3 8 -6 15M710 254q13 -13 21 -29M722 243q-3 5 -4 12M705 238q13 -8 28 -10M714 245q12 -1 23 -5M728 244q-4 7 -3 16M712 242q9 -9 20 -14M716 248q12 -5 23 -10M712 244q14 -7 27 -16M716 243q11 -6 22 -12M727 232q-5 -3 -11 -6M719 248q12 -7 25 -9M710 234q14 -9 32 -8M713 236q15 -5 29 -12M713 235q15 -6 31 -11M720 235q11 -3 22 -6M723 241q9 -8 18 -17M731 228q-5 -3 -11 -3M719 235q14 -3 27 -10M725 239q10 -4 21 -5M729 227q-3 -3 -7 -3M725 237q12 -3 23 -8M741 237q-1 7 -7 12" stroke="rgb(216, 30, 83)"/>
<path d="M725 232q13 0 25 2M722 237q16 -8 32 -12M723 235q17 -1 32 -7M743 240q-4 3 -4 7M730 237q11 -5 20 -11M729 239q14 -6 25 -16M723 220q17 2 34 3M733 241q12 -2 24 -5M745 223q-4 -7 -12 -12M729 232q14 -6 30 -4M746 221q-8 -2 -11 -9M734 230q12 -4 24 2M732 231q14 -4 29 -6M736 232q12 -1 25 1M752 236q-3 5 -7 8M738 233q11 2 23 1M735 228q14 -1 29 -0M735 223q14 -4 29 -5M740 219q10 8 23 10M752 235q-4 6 -10 9M742 235q12 -3 22 -10M741 245q12 -13 27 -22M751 221q-6 -1 -8 -8M744 229q12 2 23 1M746 238q8 -9 20 -13M759 234q-5 7 -11 12M746 224q11 0 23 3M756 237q-4 2 -8 5M741 239q17 -3 34 -4M742 227q17 3 35 7M757 240q-3 6 -9 10M748 224q13 4 25 9M760 223q-4 -5 -7 -10M745 225q16 9 34 11M764 237q-4 3 -9 5M752 218q12 5 24 10M751 232q12 -2 25 -3M753 225q11 7 24 9M765 236q-7 3 -15 7M751 222q16 1 33 3M752 227q14 7 30 12M770 224q-5 -3 -6 -9M754 230q14 2 28 7M769 224q-1 -10 -11 -13M759 217q10 14 20 29M760 226q8 10 19 16M761 220q14 2 23 13M759 224q15 7 27 18M771 226q1 -9 -5 -16M753 241q18 2 36 -1M758 227q14 10 32 14M760 231q16 -0 29 8M771 238q-6 1 -10 4M764 229q15 -1 29 -3M769 224q9 7 19 15M775 241q-5 0 -8 3M762 238q12 8 27 10M780 238q-5 2 -10 4M771 227q10 5 21 9M768 232q15 -4 30 -3M782 230q-3 -7 -5 -15" stroke="rgb(225, 28, 72)"/>
<path d="M772 223q11 11 23 20M770 228q15 6 32 6M786 233q-1 -9 -6 -15M769 232q12 10 26 15M788 227q-3 -4 -3 -9M773 233q11 4 22 10M785 230q1 -5 -1 -9M784 243q-9 -0 -16 4M776 229q11 6 21 12M772 230q14 9 29 16M776 226q16 7 33 9M786 245q-6 2 -12 1M775 231q13 9 25 18M792 232q-1 -4 -1 -9M774 232q15 9 29 20M793 234q-3 -7 -5 -15M778 230q15 8 24 21M793 235q-4 -5 -5 -11M779 234q12 7 25 14M785 228q9 11 19 21M799 238q-2 -5 -2 -9M782 233q12 8 22 19M787 248q-7 0 -14 0M783 235q12 8 22 17M781 234q11 14 19 29M801 240q-5 -5 -3 -12M793 251q-7 1 -13 3M778 246q14 3 26 9M801 240q-1 -8 -2 -16M786 240q10 6 20 12M790 229q14 11 23 26M804 240q1 -6 0 -11M785 249q12 -1 24 -1M792 238q9 7 16 16M788 243q13 2 24 10M785 241q9 15 24 24M797 256q-5 0 -9 -0M786 241q16 7 30 19M802 247q-1 -6 -2 -12M786 246q10 12 19 24M793 244q11 6 20 15M810 248q2 -6 0 -12M789 243q15 10 23 26M797 236q7 16 16 32M805 250q-1 -7 -2 -13M793 241q7 17 24 24M804 242q4 11 4 23M798 258q-7 -2 -15 -2M798 241q10 12 18 25M807 243q4 13 -2 25M806 239q8 12 14 26M796 245q10 14 19 30M811 252q-1 -8 3 -15M803 263q-5 -3 -11 -3M798 249q6 14 21 19" stroke="rgb(230, 27, 65)"/>
<path d="M800 247q11 11 22 22M806 263q-5 -1 -9 -0M799 247q15 10 32 17M798 249q15 10 25 25M816 254q-1 -5 -0 -11M807 246q9 11 20 22M807 267q-7 0 -14 0M804 252q7 12 18 19M804 254q12 6 17 19M803 250q8 17 25 25M816 259q1 -7 3 -14M808 271q-5 -1 -9 2M800 255q11 13 18 28M801 257q12 11 18 26M813 272q-8 0 -16 1M807 251q13 12 21 27M803 257q16 8 29 19M807 260q9 9 16 19M814 253q7 13 17 24" stroke="rgb(234, 25, 59)"/>
<path d="M812 260q3 13 6 26M814 271q-5 -1 -9 -1M801 271q10 5 20 11M816 277q-4 -2 -9 -1M807 260q9 15 18 29M812 276q-4 -1 -9 -3M814 258q8 13 16 26M814 276q-6 -2 -12 -3M813 258q8 15 19 29M828 267q3 -4 4 -9M811 264q10 10 16 23M819 265q2 11 4 23M822 264q2 12 5 23M816 278q-4 -4 -10 -3M816 262q5 16 13 31M825 266q-0 12 -2 24M828 274q4 -8 2 -16M826 262q2 16 9 30M825 263q2 18 -0 35M812 268q8 16 14 32M809 272q12 13 24 25" stroke="rgb(239, 24, 52)"/>
<path d="M815 268q6 17 18 31M830 271q1 12 3 24M830 269q-4 15 1 30M834 282q3 -3 6 -6M826 276q-1 11 1 23M837 284q4 -5 8 -10M822 273q5 15 8 30M822 277q1 13 1 26M820 276q1 15 7 30M825 279q-5 13 -5 27M824 278q5 14 13 26M837 286q2 -5 5 -9M817 284q7 11 12 22M826 277q8 17 3 35M833 296q2 -6 4 -13M822 279q5 16 11 33M838 291q2 -4 3 -8M820 282q4 17 15 30M828 285q2 12 7 23M835 296q1 -5 5 -10" stroke="rgb(244, 23, 45)"/>
</g>
<g clip-path="url(#k02)">
<path d="M921 108q-1 14 -10 25M917 106q-5 13 -11 26M910 106q-5 12 -10 24M914 109q-5 13 -3 27M907 119q-2 -8 -7 -14M912 106q-3 17 -3 34M915 122q7 -4 14 -9M919 108q-10 16 -11 34M908 110q-7 13 -5 27M916 115q-4 11 -6 23M906 127q-6 -4 -7 -10M912 116q-4 10 -7 21M914 117q-3 12 -11 21M928 121q-12 9 -21 22M914 116q-9 12 -12 27M904 116q-4 13 -7 25M902 127q-3 -6 -8 -11M917 123q0 13 -7 24M915 121q-8 12 -12 27M910 118q-4 16 -7 32M904 132q-5 -4 -5 -10M912 120q-3 16 -8 32M914 135q5 -1 8 -4M904 137q-3 -4 -5 -9M906 122q-2 14 -6 27M902 120q1 16 1 33M911 124q-5 15 -8 29M913 144q4 -3 10 -5M917 126q-9 14 -10 30M914 131q-13 6 -20 19M902 127q1 13 -4 26M907 125q1 18 -3 36M907 130q1 15 -8 28M912 148q5 -2 9 -7M908 129q-11 13 -20 28M897 141q0 -4 -2 -8M911 137q-4 11 -5 22M897 144q-5 -5 -6 -12M905 133q-2 14 -9 26M907 146q7 -3 13 -6M906 134q-5 13 -11 26M910 153q5 -4 10 -6M907 138q-1 12 -6 23M897 145q-1 -8 -5 -14M910 136q-5 15 -11 29" stroke="rgb(46, 77, 237)"/>
<path d="M907 138q-7 13 -11 27M894 149q-2 -6 -4 -13M903 135q-14 12 -21 28M911 140q-7 15 -18 28M897 152q1 -8 -3 -15M910 140q-10 14 -19 28M909 139q-10 15 -14 33M905 141q-1 17 -4 33M905 159q6 -3 9 -7M909 145q-8 13 -15 27M895 152q-2 -7 -6 -12M898 143q-4 14 -9 28M905 143q-4 17 -8 34M909 147q-4 15 -12 29M898 147q-3 15 -1 29M898 146q1 17 3 34M906 164q6 -4 11 -10M891 163q-4 -5 -8 -10M900 150q2 14 3 29M900 152q-1 13 -2 26M909 150q-1 17 -12 31M892 150q2 18 10 34M905 168q2 -5 5 -10M892 167q-4 -3 -8 -6M889 158q-1 11 1 23M906 153q1 14 4 28M894 172q-5 -7 -13 -11M895 159q4 11 10 22M892 171q-3 -3 -6 -6M899 157q3 13 6 27M891 173q-5 -2 -10 -4M895 161q4 11 9 22M906 172q6 -3 7 -10M888 164q12 9 23 20M893 159q11 14 16 30M894 162q7 13 14 27M894 167q5 11 10 21M883 171q15 8 27 20M908 170q1 -5 3 -10M897 167q6 11 13 21M899 168q5 10 11 19M900 183q-7 -3 -14 -4M904 164q4 11 11 21M893 177q8 8 17 16" stroke="rgb(49, 75, 235)"/>
<path d="M894 176q11 7 20 16M900 185q-7 -3 -14 -0M897 170q9 13 20 24M900 174q8 8 17 15M907 189q-5 1 -8 3M896 177q10 11 22 19M895 181q12 8 26 10M902 170q12 9 20 21M915 178q-2 -5 -6 -10M909 192q-7 3 -15 1M900 180q10 9 21 15M898 179q16 3 32 7M918 177q-3 -4 -5 -9M905 176q12 3 21 12M897 184q15 6 28 16M903 174q11 14 24 26M915 193q-3 4 -8 3M901 181q16 5 33 7M904 186q13 4 26 5M919 183q-2 -4 -3 -8M905 187q12 5 25 6M912 174q9 9 20 15M921 184q-2 -5 -4 -10M905 192q14 3 28 3M919 184q-0 -4 -3 -8M910 187q13 -3 25 2M908 189q14 2 26 8M912 188q11 5 23 4M918 194q-4 7 -11 8M910 193q12 4 25 5M927 182q-0 -4 -2 -8M924 195q-4 3 -10 5M908 195q17 -4 34 -4M913 185q12 10 26 17M910 193q18 -3 36 -2M927 186q-4 -4 -7 -10M915 183q16 5 29 13M918 189q10 8 21 14M934 187q-3 -8 -6 -16M921 191q11 -3 22 -0M922 186q11 5 21 10M934 187q-5 -6 -10 -13M920 186q14 6 28 9M917 193q17 -3 35 -0M926 183q10 6 21 11" stroke="rgb(52, 73, 233)"/>
<path d="M925 191q12 4 23 9M939 188q-0 -8 -6 -14M920 194q18 -1 35 -1M926 189q14 -3 27 1M941 200q-4 1 -8 3M925 194q13 4 27 8M929 196q12 -1 24 -3M942 191q-1 -6 -4 -10M936 201q-5 3 -10 8M927 186q13 12 30 16M945 191q-3 -4 -5 -8M928 184q16 6 32 9M932 193q12 -2 23 4M931 195q15 -3 30 -7M930 186q17 4 34 12M947 189q-3 -3 -5 -7M934 195q14 0 26 6M950 116q2 12 0 25M935 196q12 5 26 4M948 192q-4 -5 -7 -10M964 111q-1 17 -2 35M968 127q3 -4 8 -8M950 128q-8 -1 -15 -7M934 199q14 4 27 9M953 190q-3 -3 -5 -8M949 201q-5 6 -11 10M972 116q-12 11 -19 26M954 115q9 14 13 31M937 191q14 4 28 9M948 202q-3 4 -6 6M956 118q1 14 6 27M936 192q17 7 30 19M949 193q-4 -3 -5 -8M949 202q-6 3 -11 5M967 113q0 18 1 36M938 200q14 -1 27 2M957 189q-1 -5 -3 -9M954 117q2 16 5 32M942 192q13 1 25 8M957 193q-1 -6 -5 -10M960 121q-4 13 -7 26M942 194q13 -2 26 -0M954 120q6 15 11 30M959 123q9 11 10 25M942 193q13 6 27 8M964 121q3 15 5 30M944 192q13 6 24 16M950 122q9 15 9 32M945 200q12 3 25 4M968 125q-5 13 -9 26M947 199q12 -0 23 6M963 194q-1 -8 -7 -11M955 123q-2 17 -2 34M948 129q3 12 8 24M950 142q-4 -4 -7 -9M948 187q13 8 25 17M958 125q-1 16 -2 33M952 145q-4 -5 -8 -11M948 194q13 5 27 9M964 204q-6 1 -10 5M955 126q2 17 12 31M949 198q12 5 25 9M961 131q5 11 6 23M968 139q4 -6 8 -11M951 145q-6 -2 -11 -5M952 193q12 7 23 17M953 128q3 15 6 30M949 200q16 -2 30 6M967 126q-9 16 -8 35M948 133q-0 13 4 26M949 196q15 7 31 14M964 195q-2 -6 -6 -10M953 132q-4 14 -3 28M954 197q12 5 25 5M969 195q-3 -4 -4 -9M955 130q1 17 5 35M967 147q4 -3 3 -7M952 202q14 5 30 5M952 137q5 12 14 21" stroke="rgb(55, 70, 231)"/>
<path d="M952 201q16 -8 32 -1M973 194q-1 -8 -7 -14M949 133q3 16 5 31M952 151q-4 -4 -7 -8M965 133q-3 16 -0 31M955 202q15 -3 31 -6M969 206q-6 5 -13 9M966 134q-1 16 6 31M954 208q16 -3 32 -4M952 138q9 12 13 25M952 151q-3 -4 -8 -4M955 200q15 9 32 10M973 207q-5 5 -11 10M969 133q-0 18 5 35M968 153q2 -8 8 -13M952 152q-6 -5 -9 -12M959 185q16 5 33 9M959 141q1 12 4 24M965 190q13 4 20 16M949 138q6 16 13 32M951 141q2 14 6 27M961 140q-4 15 -4 30M947 143q7 13 12 26M963 146q0 11 -4 22M954 146q2 13 -1 25M963 141q0 17 1 34M969 147q4 13 -6 23M954 157q-4 -7 -12 -10M957 145q4 15 12 29M966 150q-2 11 -4 22M963 146q6 15 12 30M972 163q5 -5 9 -12M958 149q0 14 1 28M955 166q-4 -5 -8 -11M964 152q-3 11 -1 22M970 163q3 -3 4 -8M966 147q2 17 3 33M971 149q-6 15 -1 30M957 155q4 11 10 21M959 154q2 13 1 26M956 153q-5 14 -7 30M959 152q4 17 11 32M955 157q2 13 -3 26M949 173q-4 -3 -7 -8M962 155q-4 15 -1 30M956 158q2 13 3 27M955 169q-3 -4 -6 -7M964 159q5 12 9 25M953 176q-4 -3 -8 -6M958 161q3 12 5 24M951 162q-1 13 -6 25M971 169q4 -3 8 -6M962 161q6 13 2 27M954 179q-5 -3 -10 -7M945 164q2 12 7 23M956 161q6 15 12 31M971 177q3 -6 7 -11M955 175q-4 -4 -7 -9M958 167q-8 10 -13 21M955 165q7 12 8 26M969 177q5 -6 11 -11M957 167q7 12 12 24M970 179q6 -5 10 -11" stroke="rgb(57, 68, 229)"/>
<path d="M956 162q-2 18 3 36M969 177q3 -5 6 -11M954 166q11 13 19 28M955 181q-2 -4 -7 -5M976 163q-4 18 -10 34M969 182q2 -6 9 -8M972 167q4 14 7 29M975 169q4 13 3 27M953 167q6 17 6 35M970 173q4 11 3 22M960 171q8 14 8 29M963 171q-5 15 -2 30M964 172q-8 15 -3 31M963 172q-3 16 1 32M953 193q-7 -4 -13 -10M959 173q6 15 3 32M951 177q4 13 7 26M962 177q2 13 2 27M971 176q-6 14 -6 29M965 174q6 17 9 34M962 175q5 17 8 35M959 182q6 12 9 24M955 194q-6 -5 -12 -10M950 179q6 16 6 34M956 192q-3 -5 -9 -7M956 184q9 10 14 23M970 178q7 16 14 33M973 195q5 -6 8 -14M969 183q2 14 -4 27M959 184q1 15 2 30M963 186q7 13 16 24M979 185q-9 12 -9 27M959 188q4 13 5 26M972 201q4 -4 8 -9M966 184q1 17 1 34M958 202q-8 -2 -12 -9M976 187q-3 14 1 27M962 191q3 13 -3 25M957 189q5 15 8 30M963 190q7 15 18 27M957 207q-4 -3 -7 -6M951 196q11 9 18 20M958 193q5 14 13 26M956 204q-4 -5 -10 -7M951 195q2 14 9 27M974 203q4 -7 7 -14M954 195q8 13 11 28M959 209q-5 -6 -11 -11M969 191q0 17 -3 34M958 211q-7 -1 -13 -6M961 199q7 12 18 21" stroke="rgb(60, 66, 228)"/>
<path d="M964 194q-1 17 5 32M973 208q1 -7 6 -12M972 197q-3 16 -12 29M956 202q6 10 11 21M956 202q2 12 4 24M953 201q2 14 6 29M966 198q0 17 3 33M968 199q3 16 2 33M961 203q7 13 12 26M974 216q3 -3 6 -6M969 206q-2 11 -0 22M952 209q7 10 13 22M967 201q5 17 1 35M955 205q6 16 11 32M977 219q0 -7 6 -11M962 211q-3 11 -7 21M975 219q3 -6 6 -12M965 206q7 14 7 30M957 209q3 15 3 31M963 209q-6 14 -4 30M960 207q10 16 10 35M961 224q-3 -4 -8 -4M976 208q-6 15 -7 31M955 210q3 18 -0 36M946 215q13 12 24 26M969 215q3 12 5 24M953 216q5 14 11 27M958 220q3 11 8 21M967 212q4 17 6 35M966 219q-6 12 -6 25M964 216q3 16 7 31M958 233q-6 -4 -12 -9M976 219q1 12 -2 25M967 219q5 13 10 27M985 221q-6 12 -14 23M964 223q-2 13 2 26M967 218q6 17 12 34M967 219q6 17 14 32M987 222q-1 12 1 24M970 224q8 12 16 25M973 226q6 11 6 23M960 228q10 11 15 24M974 227q2 13 -0 26" stroke="rgb(63, 64, 226)"/>
<path d="M974 226q-1 15 4 29M979 229q2 11 3 22M974 226q-0 17 5 32M976 230q7 12 13 24M979 239q2 -4 5 -7M971 232q4 13 13 23M975 228q7 16 13 32M981 232q2 12 3 25M978 244q4 -7 7 -14M965 246q-6 -5 -11 -10M971 233q-0 15 -2 29M978 248q4 -5 8 -10M965 235q-1 14 2 28M958 239q7 11 12 23M977 238q-0 11 2 22M970 234q11 14 12 32M971 239q-7 16 -20 29M967 238q2 15 4 31M963 253q-5 -3 -11 -5M967 241q1 13 1 26M963 244q-0 13 -2 26M981 255q3 -3 6 -6M978 242q1 11 4 22M978 243q-1 13 -5 25M966 261q-7 -3 -14 -8M978 242q2 14 -1 27M976 240q2 16 9 31M972 246q-2 12 -2 25M982 260q3 -5 4 -11M979 246q4 11 11 21M977 241q2 17 4 35M977 244q5 15 6 30M968 250q5 12 6 24M970 248q6 14 11 29M969 261q-3 -3 -6 -6M974 248q7 14 9 29M968 266q-4 -6 -10 -10M972 250q5 14 4 28M965 251q8 15 15 30M985 263q1 -6 6 -9M970 256q2 12 10 20M976 251q6 14 6 29M967 256q9 10 14 23M971 256q8 11 11 24M968 274q-5 -3 -10 -5M970 259q7 9 12 19M965 261q5 11 12 21M968 270q-7 -4 -14 -8M963 261q8 11 13 24M979 259q3 11 1 23M970 274q-3 -2 -8 -3" stroke="rgb(66, 62, 224)"/>
<path d="M968 261q10 11 19 23M985 273q6 -5 9 -12M966 264q11 8 17 19M965 260q11 15 14 32M988 268q1 -4 3 -8M972 265q13 8 28 12M970 276q-6 -1 -10 -5M977 263q10 8 13 20M977 264q4 12 11 21M974 268q7 9 13 18M988 270q4 -4 5 -10M972 265q7 13 10 27M970 280q-8 1 -15 -3M960 272q11 10 18 23M975 267q9 11 10 25M964 275q3 12 11 22M986 279q5 -6 3 -14M964 277q5 12 12 22M969 270q9 14 20 26M989 279q4 -7 -0 -14M979 268q4 15 4 30M968 273q14 9 25 23M991 277q2 -5 3 -10M971 276q7 13 14 25M978 271q12 10 18 24M972 277q11 10 23 19M978 276q9 8 15 18M976 282q11 3 22 7M965 286q16 7 34 11M977 282q9 10 10 22M978 274q18 3 28 18M968 286q13 11 25 24M978 283q12 5 21 13M981 278q8 14 14 28M980 300q-4 0 -8 4M977 283q13 9 25 18M984 275q10 14 14 31M988 267q7 16 19 30M986 273q14 7 27 15M986 275q11 10 24 18M998 283q-0 -8 -2 -16M986 280q10 10 18 20M983 288q11 7 22 11M982 293q10 7 21 11M1002 283q-0 -5 -2 -9M987 284q11 7 23 9M982 297q15 -8 31 -7M985 290q12 9 26 8M992 299q-6 3 -11 8" stroke="rgb(69, 60, 221)"/>
<path d="M984 288q13 11 28 19M981 295q17 6 35 6M1001 286q2 -9 -4 -16M990 284q13 7 23 17M997 303q-4 2 -7 5M991 290q11 4 22 7M1000 303q-8 2 -14 7M987 288q14 9 29 16M1002 303q-5 0 -8 3M995 285q11 1 23 5M990 299q12 1 23 6M1010 289q-3 -4 -4 -10M993 293q13 3 22 12M986 301q17 -1 35 1M989 298q18 -2 35 -2M1006 286q-1 -5 -6 -9M989 303q16 -0 31 5M991 294q16 4 33 6M997 298q11 2 22 5M994 295q16 2 32 3M1002 284q10 6 21 11M1000 288q12 5 24 7M998 298q14 3 29 2M1002 295q11 3 22 -0M1002 295q12 3 25 3M1003 301q11 2 22 4M1003 291q13 1 25 7M1000 297q17 4 31 13M1003 300q14 0 28 1M1005 284q14 4 29 2M1019 306q-5 5 -12 6M1005 305q13 1 25 2M1016 291q-4 -6 -6 -12M1019 307q-4 1 -7 4M1007 290q12 9 26 6M1007 285q15 1 29 9M1005 303q19 2 31 17M1010 301q12 -1 24 -2M1009 297q13 8 27 14M1027 292q-4 -3 -7 -8M1009 305q15 2 29 7M1024 291q-4 -3 -7 -7M1012 295q13 1 25 2M1014 299q12 -2 23 -5M1015 305q11 2 22 6M1011 304q16 2 32 -2M1030 290q-3 -6 -9 -11M1015 300q13 -1 25 1M1019 300q9 7 20 9" stroke="rgb(80, 57, 214)"/>
<path d="M1018 303q12 -2 24 -2M1019 306q12 3 24 -1M1028 291q-5 -3 -10 -6M1017 290q14 0 28 3M1015 290q16 6 34 4M1031 288q-4 -3 -8 -6M1020 310q14 2 27 1M1019 305q15 1 30 2M1037 309q-7 3 -10 9M1019 307q16 -4 33 -3M1024 297q13 0 24 7M1023 297q12 -7 26 -4M1033 308q-3 5 -6 11M1024 313q13 -6 27 -8M1038 305q-7 4 -8 12M1021 292q17 3 34 2M1028 307q12 0 23 -2M1026 300q13 -4 28 -3M1023 294q17 -5 34 -2M1027 305q15 -4 30 -2M1030 300q13 -1 25 -7M1028 297q15 -2 29 -6M1044 308q-5 6 -8 14M1028 300q14 -10 32 -9M1042 290q-6 -2 -11 -6M1029 306q16 -8 32 -14M1031 299q14 -5 28 -9M1032 300q12 -10 28 -11M1033 304q15 -6 30 -10M1034 295q13 -4 25 -10M1034 309q17 -4 34 -10M1035 306q16 -8 29 -20M1036 291q13 -1 26 -2M1052 289q-6 -1 -11 -5M1045 309q6 -10 15 -17M1039 302q15 2 29 -3M1037 295q16 6 32 -1M1040 287q11 -1 22 -1M1041 302q16 -2 32 1M1047 306q10 -8 21 -14M1060 304q-1 6 -6 10M1046 304q12 -6 24 -10M1045 300q13 -2 27 -4M1047 307q11 -12 26 -17M1041 296q16 -7 32 -16M1055 286q-5 -5 -12 -8M1051 302q7 -12 16 -21M1053 287q-4 -1 -8 -3" stroke="rgb(90, 54, 207)"/>
<path d="M1053 307q11 -7 24 -11M1056 285q-6 -4 -13 -7M1062 304q-3 8 -6 15M1050 303q13 -7 27 -11M1066 302q-1 6 -3 11M1048 289q11 -1 22 -4M1065 299q-2 7 -4 13M1045 283q12 -2 25 -3M1048 298q14 -11 30 -16M1056 303q10 -8 22 -14M1056 297q11 -4 19 -12M1061 285q-7 -3 -14 -1M1069 296q-5 7 -7 15M1048 291q13 -8 25 -17M1061 280q-5 -4 -11 -6M1060 305q12 -6 24 -8M1060 302q8 -10 18 -18M1058 297q12 -4 24 -8M1055 295q10 -11 21 -22M1057 297q13 -7 25 -14M1053 288q11 -9 23 -18M1074 294q-1 7 -2 13M1052 287q14 -7 27 -15M1069 279q-8 -0 -15 -4M1074 294q-0 7 -3 14M1056 295q14 -11 29 -18M1062 297q13 -8 28 -11M1058 283q11 -1 23 -4M1067 280q-5 -1 -9 -2M1058 294q13 -12 28 -23M1061 292q11 -11 26 -14M1073 308q9 -12 20 -22M1064 294q15 -5 29 -12M1060 289q11 -14 25 -25M1058 285q13 -12 28 -20M1064 287q12 -8 22 -18M1063 277q11 -3 23 -2M1069 287q9 -8 16 -18M1081 287q-4 7 -6 15M1072 296q12 -8 24 -15M1070 289q8 -9 16 -18M1087 280q-1 9 4 16M1073 295q4 -16 15 -29M1073 278q-5 6 -13 7M1086 283q3 5 4 11M1073 290q3 -13 11 -23M1075 277q-3 4 -8 4M1079 289q7 -9 11 -20M1082 295q7 -17 2 -34M1088 277q4 6 8 13M1083 293q1 -15 8 -29M1088 282q2 6 5 11M1063 285q6 -16 19 -29M1076 288q5 -14 9 -29M1089 276q1 4 3 7" stroke="rgb(101, 52, 200)"/>
<path d="M1074 281q9 -8 20 -13M1076 269q-5 2 -10 4M1072 281q7 -10 14 -20M1076 268q-6 5 -13 7M1080 288q6 -15 9 -31M1094 273q3 5 5 11M1090 283q-4 -15 -15 -25M1077 268q-4 2 -9 3M1078 283q2 -15 9 -28M1078 269q-5 1 -9 3M1081 280q7 -9 12 -19M1083 281q1 -14 1 -28M1084 282q4 -15 12 -27M1095 268q4 3 4 8M1078 279q8 -13 17 -25M1086 279q-1 -14 1 -27M1092 284q8 -16 7 -33M1088 276q3 -12 2 -24M1079 263q-3 5 -8 6M1089 280q4 -16 9 -32M1090 276q5 -13 8 -25M1087 277q5 -16 4 -33M1093 277q1 -17 7 -33M1070 272q5 -17 18 -30M1080 258q-4 3 -8 7M1094 258q4 7 6 15M1084 271q1 -14 5 -27M1079 269q-2 -13 -1 -26M1094 256q3 6 10 9M1088 272q1 -17 4 -33M1094 257q6 5 8 12M1082 268q3 -14 6 -28M1087 268q2 -14 3 -29M1093 270q-6 -18 1 -36M1095 249q4 3 5 8M1091 265q5 -13 6 -27M1094 264q4 -14 4 -28M1097 261q1 -12 -3 -23M1081 264q6 -15 7 -31M1094 248q4 5 8 8M1087 261q-4 -13 -5 -28M1101 258q-9 -12 -16 -24M1094 245q3 3 7 4M1093 258q4 -13 -1 -26M1094 243q3 6 8 11M1088 259q-2 -15 -10 -28" stroke="rgb(112, 49, 193)"/>
<path d="M1095 258q-6 -15 -13 -29M1092 256q-6 -14 -13 -27M1091 254q-0 -13 -4 -26M1094 237q6 4 12 5M1098 255q-5 -16 -7 -32M1101 249q-4 -12 -10 -22M1086 256q6 -17 6 -35M1089 248q-7 -9 -11 -20M1075 241q-5 4 -9 8M1087 254q-6 -17 -6 -35M1081 236q-7 3 -10 10M1084 250q-4 -13 -9 -25M1092 245q-3 -11 -9 -21M1094 246q-3 -13 -5 -26M1080 235q-2 7 -7 12M1082 248q-1 -15 0 -30M1091 245q-1 -14 -4 -29M1086 246q-3 -15 -10 -29M1074 235q-1 6 -3 12M1091 226q6 2 9 7M1083 246q-7 -14 -10 -29M1090 244q-3 -16 -13 -29M1093 239q1 -15 -9 -26M1078 233q-3 3 -6 7M1081 242q3 -14 -1 -27M1080 232q-2 5 -6 9M1081 238q1 -12 1 -23M1094 239q-1 -17 -5 -33M1075 226q-4 7 -4 14M1090 223q8 2 15 3M1086 242q-1 -18 -10 -34M1078 238q1 -13 -5 -25M1085 240q-9 -15 -17 -29M1087 221q8 1 16 4M1090 233q-10 -11 -18 -23M1084 232q-7 -10 -11 -21M1083 235q-12 -10 -20 -22M1092 229q-10 -11 -18 -23M1075 225q-2 5 -3 9M1086 215q6 2 11 3M1082 233q-3 -16 -1 -32M1088 226q-5 -11 -10 -21M1085 230q-11 -11 -17 -25M1080 229q-5 -12 -13 -22" stroke="rgb(123, 46, 186)"/>
<path d="M1083 230q-7 -14 -15 -27M1080 231q-6 -15 -15 -29M1081 224q-4 -11 -14 -18M1076 230q-9 -12 -15 -25M1068 217q1 8 -1 16M1081 225q-8 -13 -14 -27M1084 222q-3 -15 -13 -27M1083 204q4 1 8 1M1084 215q-11 -4 -20 -10M1088 218q-9 -13 -18 -26M1077 221q-7 -9 -16 -17M1081 219q-8 -13 -21 -19M1086 215q-13 -11 -28 -17M1075 220q-10 -8 -19 -17M1083 209q-11 -6 -18 -17M1075 220q-11 -10 -19 -22M1088 207q-14 -10 -31 -15M1061 208q3 4 2 8M1075 198q6 0 11 -0M1081 209q-8 -12 -21 -19M1073 213q-10 -6 -21 -8M1070 217q-10 -7 -15 -18M1081 206q-9 -14 -20 -26M1076 208q-11 -8 -23 -15M1076 205q-13 -4 -26 -7M1075 209q-14 -5 -27 -13M1075 211q-13 -10 -29 -16M1064 191q5 -3 11 -5M1073 202q-12 -4 -21 -12M1075 205q-15 -5 -31 -11M1072 203q-14 -0 -27 -5M1060 192q5 -3 11 -4M1070 197q-11 -2 -22 -7M1072 203q-15 -5 -29 -10M1066 204q-11 -2 -22 -2M1071 198q-16 3 -32 -1M1059 190q8 -3 13 -9M1066 205q-9 -13 -22 -22M1050 204q3 5 6 10M1072 186q-18 0 -36 -2" stroke="rgb(134, 44, 176)"/>
<path d="M1069 202q-17 -4 -34 -4M1063 186q-12 -0 -24 2M1066 189q-16 0 -31 -5M1054 204q5 5 8 12M1062 197q-13 3 -25 1M1049 205q7 4 15 7M1063 185q-14 8 -30 12M1045 191q4 -5 9 -9M1065 199q-16 8 -33 9M1056 189q-10 7 -22 6M1059 202q-13 -7 -29 -9M1055 196q-11 4 -22 5M1049 204q7 0 14 4M1054 190q-12 6 -24 9M1060 201q-16 4 -33 5M1045 204q4 3 8 4M1058 204q-13 2 -25 8M1046 209q3 6 10 7M1055 190q-17 2 -32 10M1056 204q-13 4 -27 4M1045 204q4 2 8 3M1060 206q-18 -3 -36 2M1047 187q-14 5 -25 14M1049 187q-13 12 -26 23M1034 195q0 -8 -0 -17M1047 192q-11 9 -24 16M1050 194q-17 5 -32 13M1028 195q4 -8 1 -16M1049 199q-14 5 -29 8M1042 211q7 1 14 -0M1045 189q-14 11 -26 23M1040 188q-16 6 -26 18M1044 199q-9 9 -20 15M1043 201q-12 3 -22 11M1034 209q6 1 11 0M1039 195q-11 9 -17 21M1039 194q-8 14 -21 24M1029 192q-6 11 -16 18M1037 197q-7 12 -18 20M1032 193q-7 14 -9 30M1039 202q-6 12 -15 23M1019 207q-2 -8 -2 -16M1033 198q-3 15 -10 28" stroke="rgb(145, 42, 164)"/>
<path d="M1047 204q-11 13 -23 26M1027 200q-5 11 -11 21M1030 201q-4 12 -11 23M1017 208q-3 -5 -5 -10M1039 208q-3 13 -15 20M1043 206q-6 17 -18 31M1030 216q5 -2 9 -1M1025 204q-5 10 -6 21M1029 222q8 -1 16 -3M1016 216q-1 -7 -3 -13M1025 204q1 14 1 27M1031 218q6 -3 12 -5M1019 213q-3 -4 -4 -9M1029 209q-3 11 -6 22M1030 218q5 -3 10 -3M1017 212q-2 -4 -2 -9M1023 207q-8 8 -13 18M1031 221q4 -1 8 -2M1029 207q-6 13 -10 26M1025 208q-3 13 -6 26M1015 207q-3 12 -4 24M1027 212q-7 10 -13 21M1036 211q-10 15 -23 28M1028 223q5 -3 10 -5M1027 211q-2 16 1 31M1029 229q4 -2 8 -4M1014 212q1 13 6 26M1023 214q2 13 -0 25M1021 218q-10 6 -16 16M1026 229q5 -1 9 -6M1022 213q-7 16 -18 29M1012 225q-5 -5 -8 -11M1024 216q3 14 -4 27M1020 220q-4 10 -10 20M1031 232q6 -6 12 -12M1022 217q-7 13 -12 28M1023 218q3 14 5 29M1014 230q-4 -3 -5 -8M1022 219q2 15 6 29M1031 221q-7 13 -13 26M1015 225q7 11 15 21M1020 225q2 11 2 23M1026 237q4 -4 5 -11M1014 224q1 14 -0 29M1012 235q-5 -6 -12 -11M1021 225q5 13 -0 26M1029 226q-3 13 -6 25M1014 244q-5 -3 -9 -6M1018 229q11 8 13 22M1031 238q2 -3 4 -7" stroke="rgb(156, 40, 151)"/>
<path d="M1018 230q-2 12 1 23M1015 227q7 15 15 30M1014 229q3 15 5 31M1016 232q3 14 13 25M1019 232q4 13 9 26M1027 231q-1 14 -3 28M1022 231q4 15 8 30M1011 234q10 15 19 30M1029 233q-0 15 -4 29M1028 249q-1 -7 4 -12M1020 235q5 14 12 27M1022 233q7 15 17 28M1014 240q9 13 12 28M1010 241q14 12 22 28M1015 244q9 11 20 19M1019 258q-5 -0 -9 -1M1017 243q7 14 12 29M1020 242q9 11 20 20M1024 262q-5 1 -10 2M1021 239q13 11 24 24M1023 239q10 13 18 28M1012 256q14 3 28 7M1021 250q10 6 21 10M1015 254q10 11 19 22M1018 259q13 2 26 1M1020 258q11 6 24 4M1026 266q-4 -1 -8 0M1022 250q8 14 17 27M1024 244q13 12 23 26M1038 256q-3 -6 -4 -13M1018 258q12 12 27 19M1036 254q-1 -6 -1 -11M1019 255q14 11 30 19M1018 270q15 -3 31 -4M1041 255q-0 -8 -4 -14M1033 268q-4 2 -7 4M1028 254q11 6 22 12M1023 265q13 1 25 6M1030 256q7 11 19 14M1042 258q-3 -7 -7 -14" stroke="rgb(168, 38, 139)"/>
<path d="M1022 267q14 5 28 11M1035 272q-6 1 -12 2M1030 255q12 8 22 18M1045 258q-1 -8 -5 -14M1030 254q14 7 24 20M1036 269q-7 1 -13 2M1032 255q13 6 28 5M1028 259q15 9 31 16M1032 262q13 2 24 10M1035 251q14 9 25 21M1039 254q8 10 21 12M1033 259q11 14 27 20M1035 256q15 8 31 14M1036 269q12 2 21 9M1054 259q-1 -7 -2 -14M1048 276q-6 2 -11 4M1033 269q12 10 28 15M1050 275q-6 2 -12 4M1038 255q15 8 32 10M1036 262q15 10 31 17M1055 262q-4 -7 -8 -14M1038 265q13 10 27 19M1060 259q-2 -7 -3 -15M1047 277q-4 2 -7 4M1039 261q17 4 34 4M1058 262q-3 -4 -5 -8M1042 264q13 7 25 15M1054 276q-6 5 -12 9M1043 262q14 6 29 10M1042 263q15 7 29 14M1045 261q15 7 26 19M1058 262q-3 -8 -6 -15M1046 270q12 4 22 10M1056 279q-5 3 -9 5M1050 263q12 -0 23 6M1048 274q11 2 21 5M1047 263q16 3 31 10M1050 274q12 0 24 1M1052 268q12 0 24 3M1065 267q-1 -5 -5 -8M1063 283q-7 3 -14 5M1051 266q15 3 30 3M1052 267q14 5 27 11M1064 266q-2 -7 -6 -13M1065 279q-3 3 -8 3M1052 270q14 4 29 3M1051 271q14 9 30 14M1063 282q-6 3 -11 7M1059 260q13 8 21 21" stroke="rgb(179, 36, 127)"/>
<path d="M1054 273q14 8 30 11M1057 274q11 9 25 12M1054 273q17 -2 34 2M1077 263q-6 -5 -11 -10M1059 269q14 4 28 9M1076 267q-4 -5 -8 -11M1060 277q13 0 26 3M1061 273q13 3 27 3M1059 276q16 3 33 4M1063 273q14 1 27 1M1063 271q14 -1 29 -4M1074 265q-2 -4 -5 -7M1066 269q12 1 24 4M1065 279q14 4 29 2M1068 282q12 -4 25 -6M1078 282q-5 6 -10 13M1070 280q12 -1 22 -6M1069 276q14 -0 27 5M1068 272q17 0 32 9M1069 275q15 -5 31 -3M1087 284q-4 5 -6 11M1068 269q17 2 34 6M1071 273q15 5 30 11M1074 268q13 -3 25 -6M1085 284q-3 7 -8 13M1074 277q14 -2 27 -7M1072 276q17 0 35 -1M1076 274q14 -3 28 -2M1080 278q11 -4 21 -10M1089 269q-6 -5 -14 -8M1081 285q13 -1 25 -2M1078 266q15 1 28 8M1078 270q15 -4 29 -12M1083 274q12 4 24 -0M1091 268q-7 -4 -11 -10M1084 276q12 -3 25 -6M1079 261q17 2 34 6M1084 281q13 -10 28 -17M1084 272q15 -5 29 2M1088 278q13 -3 26 -4" stroke="rgb(189, 34, 115)"/>
<path d="M1090 278q13 1 25 4M1089 280q14 -2 28 -6M1090 278q12 -6 26 -4M1093 273q11 -5 21 -9M1101 281q-6 5 -10 13M1091 282q15 1 30 -4M1104 264q-6 -4 -13 -7M1088 273q16 -3 32 -4M1095 280q11 -10 25 -13M1101 288q10 -7 20 -13M1096 280q10 -11 24 -17M1096 271q13 -1 23 -8M1095 280q14 -10 30 -16M1099 273q13 -1 26 -0M1099 277q14 -3 28 -9M1094 268q12 -12 28 -19M1108 263q-8 1 -16 -3M1098 273q15 -7 31 -10M1117 273q-5 5 -7 12M1107 279q8 -9 17 -16M1103 276q15 -4 31 -4M1106 273q8 -10 16 -20M1103 270q12 -6 26 -9M1120 276q-2 5 -2 10M1101 269q12 -11 27 -16M1107 278q15 -7 31 -14M1115 279q7 -11 14 -21M1124 270q-1 5 1 9M1114 275q3 -13 16 -17M1113 277q9 -12 19 -23M1112 273q12 -9 25 -15M1112 255q-4 1 -8 2M1126 268q0 4 0 9M1114 275q6 -14 14 -27M1117 272q5 -11 10 -22M1118 257q-4 2 -9 1M1126 279q8 -11 14 -23M1113 267q11 -8 21 -16M1120 254q-7 3 -15 3" stroke="rgb(198, 33, 104)"/>
<path d="M1122 272q0 -14 3 -27M1122 273q3 -15 8 -29M1110 263q6 -11 17 -19M1113 269q6 -16 18 -29M1122 269q3 -14 6 -29M1124 268q8 -11 15 -23M1126 271q10 -14 16 -30M1134 255q4 7 6 15M1112 262q10 -13 23 -22M1112 263q11 -12 16 -28M1117 249q-7 5 -16 6M1118 259q6 -10 10 -21M1120 259q5 -11 5 -23M1120 250q-4 2 -8 4M1127 264q0 -16 6 -31M1120 263q4 -17 10 -34M1121 262q5 -17 11 -33M1136 251q2 7 8 10M1126 257q9 -10 16 -21M1130 257q4 -12 14 -20M1121 256q-2 -15 -3 -31M1130 259q-1 -16 -0 -33M1127 253q-2 -12 -1 -24M1131 252q-1 -12 -7 -23M1121 236q-8 3 -13 11M1136 256q-2 -15 -3 -30M1131 254q7 -16 -1 -30M1140 254q-5 -16 -7 -32M1124 235q-3 6 -8 9M1129 251q7 -13 11 -27M1134 251q9 -12 12 -27M1124 233q-8 1 -13 6M1124 247q8 -14 21 -24M1131 249q11 -12 14 -28" stroke="rgb(207, 31, 94)"/>
<path d="M1135 250q-1 -17 -4 -34M1133 246q3 -15 -1 -29M1135 245q-6 -14 -3 -28M1138 229q4 4 9 7M1135 243q-2 -13 -2 -25M1126 240q2 -12 4 -24M1134 245q-0 -18 -6 -34M1120 241q4 -15 0 -30M1123 227q-7 2 -11 8M1138 242q-3 -16 -3 -32M1126 224q-6 4 -11 9M1129 241q5 -16 12 -31M1139 226q4 7 10 13M1134 240q1 -19 15 -31M1139 225q4 7 10 13M1141 238q0 -15 -1 -29M1127 222q-5 5 -12 7M1134 239q-3 -17 -4 -35M1137 236q-3 -15 -4 -29M1138 236q2 -17 -7 -31M1138 235q2 -15 5 -31M1128 228q4 -10 7 -21M1127 219q-3 5 -8 8M1128 229q-2 -13 -7 -26M1131 232q2 -16 1 -32M1137 231q-1 -16 -1 -32M1133 226q1 -12 1 -24M1139 211q5 6 8 12M1143 226q1 -13 -1 -26M1124 212q-5 5 -11 8M1132 228q-1 -16 3 -32M1134 222q6 -10 6 -22M1151 227q0 -18 -10 -34M1128 224q2 -16 8 -31M1121 220q-0 -11 2 -23M1141 207q6 5 14 7M1132 219q1 -12 0 -25M1130 218q-4 -12 -8 -24" stroke="rgb(216, 30, 83)"/>
<path d="M1135 220q-2 -16 5 -31M1134 218q-2 -14 -6 -28M1140 202q6 4 13 6M1129 217q-6 -13 -4 -27M1130 214q3 -12 6 -24M1141 204q7 4 14 9M1128 215q1 -14 6 -27M1139 203q6 3 10 9M1139 213q-7 -14 -17 -26M1140 197q5 3 11 5M1138 209q-2 -12 -10 -21M1138 209q3 -11 0 -23M1135 208q-3 -11 -7 -22M1140 211q-5 -15 -9 -30M1138 199q7 5 10 13M1127 207q0 -11 -1 -23M1139 191q6 6 14 7M1133 210q-1 -17 5 -33M1126 194q-5 6 -11 12M1139 195q7 3 11 9M1132 206q-1 -13 -2 -26M1127 207q5 -14 7 -29M1135 203q-2 -12 -6 -24M1130 208q-4 -18 -1 -36M1144 201q-7 -15 -22 -24M1136 199q-1 -11 -3 -23M1125 192q-6 5 -11 10M1134 204q-7 -16 -10 -34M1125 190q-3 5 -7 9M1138 202q-4 -17 -5 -35M1140 187q7 3 14 6M1129 196q1 -12 6 -23M1136 185q4 1 8 3M1137 197q6 -14 6 -29M1122 187q-2 6 -6 11M1141 192q-4 -11 -9 -21M1129 199q-6 -15 -12 -30M1124 187q-2 6 -7 10M1140 177q5 6 13 8M1121 197q3 -14 3 -28M1141 191q-5 -12 -9 -24M1135 176q6 2 11 8M1131 196q-4 -18 -18 -30" stroke="rgb(225, 28, 72)"/>
<path d="M1131 190q-3 -11 -8 -22M1130 191q-4 -13 -4 -27M1132 188q-12 -8 -17 -22M1142 186q-7 -13 -12 -26M1131 187q-6 -13 -2 -27M1128 186q6 -13 8 -27M1132 186q-1 -14 -4 -28M1130 187q-1 -16 -3 -32M1133 183q-6 -13 -17 -23M1125 187q-2 -16 -8 -31M1126 183q-2 -14 -6 -26M1128 182q-4 -13 -6 -27M1121 168q-7 5 -8 14M1140 175q-7 -12 -15 -23M1132 178q-6 -13 -6 -26M1133 179q-11 -13 -15 -29M1134 172q-7 -9 -14 -18M1120 167q-0 7 -5 12M1128 179q-6 -15 -10 -31M1134 171q-8 -9 -14 -20M1130 158q6 4 13 3M1126 173q4 -14 6 -29M1115 163q-4 5 -7 11M1130 171q-2 -14 -1 -27M1130 169q-8 -9 -17 -18M1124 174q3 -17 4 -35M1133 155q6 3 11 7M1128 173q-13 -12 -23 -25M1130 169q-6 -14 -14 -27M1133 162q-3 -11 -8 -21M1135 164q-11 -11 -21 -21M1122 169q-4 -14 -12 -25" stroke="rgb(230, 27, 65)"/>
<path d="M1127 167q-1 -18 -3 -35M1114 155q-1 7 -6 13M1123 167q-10 -11 -17 -24M1132 162q-8 -15 -6 -32M1124 149q4 2 9 3M1130 162q-3 -16 -8 -32M1132 159q-6 -13 -14 -26M1123 159q-7 -10 -15 -19M1124 158q-4 -12 -14 -21M1131 154q-9 -11 -19 -20M1112 147q-7 6 -6 15M1119 160q-1 -15 -9 -27M1130 156q-12 -12 -23 -25M1116 157q-7 -9 -13 -18M1103 153q1 4 -1 8M1126 154q-7 -14 -17 -26M1121 154q-9 -11 -17 -22M1124 151q-13 -8 -27 -15M1121 153q-10 -10 -19 -22M1108 145q-0 7 -0 13M1122 153q-12 -11 -18 -27M1107 142q1 4 -1 9M1119 152q-5 -15 -10 -29M1105 145q-1 8 0 16M1119 132q7 1 13 4M1123 150q-14 -10 -27 -21M1114 150q1 -14 -6 -27M1109 156q-1 -16 -7 -31M1105 141q-2 6 -0 12M1115 132q6 3 12 3M1112 149q-3 -13 -7 -25M1112 148q-7 -9 -15 -18M1102 139q-1 5 -0 9M1121 142q-12 -10 -21 -22M1112 131q6 0 11 0M1113 144q-9 -8 -20 -12M1100 139q-1 5 -2 9M1113 146q-10 -9 -19 -20M1124 137q-12 -12 -26 -21M1118 138q-9 -11 -15 -25M1114 139q-10 -8 -18 -18M1107 127q5 0 10 1" stroke="rgb(234, 25, 59)"/>
<path d="M1113 138q-3 -14 -9 -28M1099 137q6 7 5 16M1110 125q8 -0 16 -1M1110 142q-7 -13 -14 -25M1110 143q-8 -13 -18 -26M1098 136q0 6 -0 11M1118 136q-16 -8 -29 -21M1095 133q2 4 3 8M1108 138q-11 -6 -20 -14M1107 121q6 1 12 1M1105 146q-10 -12 -20 -25M1114 135q-10 -15 -24 -26M1103 121q6 -1 11 -1M1100 141q-8 -8 -14 -17M1108 131q-11 -5 -21 -12M1093 129q-1 9 5 16M1114 123q-13 -4 -25 -9M1107 129q-13 -3 -26 -6M1102 137q-6 -13 -16 -24M1104 134q-7 -14 -16 -27M1103 135q-13 -9 -27 -16M1100 115q9 1 15 -4M1102 128q-11 -6 -23 -8M1112 121q-18 -2 -33 -13M1098 131q-10 -7 -19 -16M1097 131q-8 -9 -16 -17M1097 126q-11 -3 -22 -4M1092 114q4 -1 8 -2M1102 130q-15 -9 -30 -19M1081 128q1 7 1 15M1099 128q-14 -5 -23 -16M1091 132q-5 -11 -16 -16M1082 125q4 5 2 11M1097 121q-10 -5 -20 -12M1082 127q2 5 3 11M1098 126q-16 -3 -28 -14M1087 110q4 -2 9 -3M1095 123q-11 -7 -23 -14M1088 128q-3 -12 -12 -20M1088 108q5 -1 10 -3M1088 132q-13 -2 -24 -9M1082 123q-0 7 3 14" stroke="rgb(239, 24, 52)"/>
<path d="M1095 113q-12 -1 -24 -3M1097 120q-18 -3 -35 -5M1076 122q1 7 5 13M1082 106q7 0 13 -2M1094 116q-11 -8 -24 -13M1087 126q-11 -8 -20 -19M1085 106q7 -1 14 -3M1091 124q-13 -10 -30 -14M1090 117q-13 -3 -26 -8M1074 124q0 4 3 8M1085 120q-11 -4 -22 -6M1090 104q-13 1 -26 5M1083 131q-12 -11 -25 -21M1082 124q-11 -8 -21 -16M1073 119q3 4 4 9M1090 113q-16 -8 -30 -18M1071 121q6 5 9 12M1078 124q-11 -4 -20 -11M1072 105q8 -1 15 -4M1087 113q-18 2 -36 0M1084 110q-14 -4 -26 -12M1068 105q5 -2 11 -4M1079 121q-12 -7 -26 -9M1078 121q-13 -6 -26 -13M1076 117q-11 -2 -22 -7M1067 116q2 6 3 12M1066 104q5 -3 11 -3M1079 105q-13 1 -25 3M1076 114q-13 -1 -25 -2M1073 122q-13 -4 -23 -13M1060 114q2 4 3 8M1079 111q-17 -3 -33 -10M1077 111q-15 -5 -31 -7M1073 112q-13 -3 -26 -5M1059 101q3 -3 7 -4M1070 108q-8 -10 -16 -20M1071 123q-16 -4 -30 -11M1069 106q-11 -3 -22 -3M1074 109q-17 -6 -34 -5M1068 116q-12 -10 -25 -18M1057 98q4 -2 8 -4" stroke="rgb(244, 23, 45)"/>
</g>
<g clip-path="url(#k03)">
<path d="M1197 211q15 -5 30 -2M1213 219q-7 2 -11 9M1196 215q17 4 33 9M1214 208q-4 -4 -8 -7M1201 210q12 -5 26 -3M1201 211q14 2 28 4M1200 202q16 2 32 8M1206 214q11 5 24 4M1219 202q-4 -3 -8 -8M1216 220q-6 5 -13 10M1208 227q12 -2 21 -8M1204 218q16 6 32 2M1206 216q14 -2 29 -0M1221 220q-6 3 -11 8M1205 219q16 2 33 2M1213 206q10 -6 22 -9M1208 218q17 -0 31 8M1209 214q15 4 31 8M1216 219q10 -5 21 -8M1216 199q13 8 26 16M1215 214q13 2 25 6M1212 212q16 7 32 11M1217 208q14 4 27 12M1217 209q16 3 30 10M1233 212q-4 -5 -8 -10M1224 206q11 4 22 9" stroke="rgb(46, 77, 237)"/>
<path d="M1219 215q15 3 29 2M1231 222q-8 2 -14 8M1224 208q12 6 24 12M1222 213q14 3 27 6M1226 210q10 8 21 16M1241 212q-3 -5 -6 -11M1225 216q12 5 25 3M1239 211q3 -8 -3 -15M1227 215q9 7 19 15M1244 214q-3 -7 -6 -13M1229 206q12 10 24 20M1244 213q-3 -6 -6 -12M1225 214q16 6 28 17M1245 216q-1 -5 -4 -10M1232 213q10 8 21 11M1228 213q12 12 24 24M1243 217q1 -8 -4 -14M1240 223q-8 2 -14 6M1231 211q13 8 28 13M1231 217q13 5 26 11M1238 228q-8 -1 -15 0M1235 208q14 11 23 26M1251 217q3 -5 -1 -10M1233 210q14 11 30 19M1233 219q14 4 28 8M1235 212q9 16 24 27M1246 230q-6 2 -11 5M1233 226q12 4 23 11M1240 210q13 11 22 26M1238 220q13 8 22 19M1234 222q16 8 33 13M1257 220q-3 -4 -2 -9M1248 230q-6 3 -13 6" stroke="rgb(49, 75, 235)"/>
<path d="M1242 223q7 10 15 18M1242 214q11 13 23 26M1249 231q-7 -1 -15 0M1238 231q11 7 25 9M1253 232q-6 3 -13 6M1251 217q9 7 13 19M1262 220q-3 -7 -4 -15M1244 217q15 9 33 14M1240 225q13 12 26 25M1252 234q-4 -0 -8 1M1246 226q9 9 20 17M1250 219q14 5 29 8M1249 225q9 10 18 19M1257 238q-5 -1 -11 -0M1246 234q10 6 19 14M1248 226q9 14 21 26M1249 228q11 10 20 20M1253 221q12 11 23 23M1259 238q-5 2 -11 0M1248 238q11 7 21 15M1265 233q-3 -7 -5 -14M1246 235q17 5 33 12M1266 240q-5 1 -9 5M1256 229q12 4 25 7M1271 232q-5 -6 -7 -15M1263 241q-6 3 -12 5M1254 231q15 0 27 10M1256 231q13 3 26 8M1273 232q-3 -7 -6 -14M1256 237q15 -0 30 -4" stroke="rgb(52, 73, 233)"/>
<path d="M1256 235q15 3 28 10M1262 231q9 8 17 18M1270 234q-3 -8 -3 -16M1258 237q15 3 27 12M1259 238q16 -5 32 -5M1279 234q-4 -5 -6 -11M1266 226q13 1 25 3M1272 245q-5 2 -10 2M1263 236q14 1 27 -0M1265 239q10 6 20 13M1265 240q13 -0 26 3M1277 233q-1 -6 -6 -11M1265 242q13 2 27 2M1267 238q12 6 25 10M1264 239q17 -3 35 -1M1283 233q-4 -5 -8 -10M1268 240q14 2 27 6M1286 236q-3 -4 -5 -8M1267 240q17 -3 32 2M1268 240q17 1 32 -8M1275 239q11 2 21 6M1287 237q-3 -4 -7 -7M1285 246q-7 4 -12 11M1274 243q13 -1 24 -5M1285 237q-4 -4 -7 -8M1285 246q-4 5 -9 8M1273 242q15 0 30 2M1275 249q14 -5 28 -14M1272 238q15 -4 31 -6M1278 243q14 -0 27 -4" stroke="rgb(55, 70, 231)"/>
<path d="M1281 247q10 -7 22 -13M1274 240q17 -6 35 -5M1296 246q-2 5 -2 11M1275 238q14 -7 28 -14M1290 248q6 -9 9 -20M1275 234q15 -6 32 -8M1292 233q-7 -3 -15 -2M1278 238q16 -5 33 -7M1286 249q13 -11 28 -17M1284 244q15 -6 30 -13M1292 252q9 -14 16 -29M1292 243q10 -6 20 -12M1294 230q-7 -3 -14 0M1306 242q-4 8 -0 16M1296 246q11 -4 20 -11M1289 239q12 -6 23 -14M1296 242q7 -9 17 -15M1298 243q2 -13 12 -21M1295 238q9 -8 21 -11M1292 234q12 -5 24 -9M1299 244q12 -9 24 -18M1312 236q-0 5 -2 10M1296 237q11 -8 23 -14M1299 225q-7 -1 -13 2M1300 240q11 -9 16 -22M1310 235q-2 5 -3 11" stroke="rgb(57, 68, 229)"/>
<path d="M1298 239q15 -6 27 -17M1306 225q-6 -2 -13 -3M1305 247q8 -15 20 -28M1306 236q0 -13 4 -25M1315 232q2 9 -2 17M1303 237q5 -13 15 -23M1306 221q-6 -1 -12 -1M1304 236q5 -13 14 -25M1316 230q1 4 2 8M1312 238q6 -10 10 -21M1311 218q-5 1 -11 1M1310 238q8 -11 10 -25M1302 235q10 -14 18 -30M1320 227q1 8 5 16M1306 236q9 -14 20 -28M1310 220q-6 -0 -12 -0M1310 236q7 -16 8 -33M1300 225q14 -6 25 -16M1308 214q-8 0 -15 4M1307 231q12 -10 19 -24M1306 224q6 -10 14 -19M1308 224q5 -11 9 -22M1311 233q8 -16 16 -32M1315 227q1 -13 9 -23M1322 221q1 4 3 8M1301 222q15 -9 29 -21M1313 222q9 -7 15 -17M1314 209q-4 1 -8 2M1311 222q6 -13 15 -23M1313 226q13 -10 24 -24M1317 209q-4 1 -9 2" stroke="rgb(60, 66, 228)"/>
<path d="M1311 216q10 -6 20 -12M1316 218q10 -6 20 -12M1320 223q12 -5 19 -17M1323 224q7 -11 13 -22M1318 202q-6 1 -13 -0M1327 214q-2 7 0 14M1316 218q6 -14 14 -27M1315 219q10 -14 27 -19M1338 217q-1 7 -4 13M1321 219q10 -10 23 -16M1324 218q8 -9 13 -19M1319 210q9 -7 18 -14M1320 214q9 -13 13 -27M1316 210q15 -7 31 -11M1321 211q11 -8 20 -16M1327 198q-6 1 -11 0M1320 207q11 -7 18 -17M1324 213q12 -6 22 -15M1324 208q10 -6 20 -14M1323 206q6 -13 20 -20M1323 202q13 -3 26 -3M1325 195q13 0 25 -5M1336 205q-3 5 -8 7M1324 194q14 5 28 10" stroke="rgb(63, 64, 226)"/>
<path d="M1335 185q3 15 8 30M1336 189q8 11 17 20M1334 206q-5 -3 -11 -5M1338 187q5 15 5 31M1332 202q-7 -4 -12 -10M1339 192q7 10 7 22M1333 207q-7 -6 -16 -5M1342 193q-4 12 -7 25M1331 192q11 12 22 25M1338 194q2 12 5 25M1339 192q0 15 5 30M1328 202q9 9 20 15M1333 198q7 12 14 24M1338 208q-5 -7 -12 -11M1339 196q3 15 10 28M1331 203q8 10 14 22M1337 203q7 9 14 18M1335 200q6 15 16 28M1336 220q-6 1 -12 -2M1335 200q7 16 16 30M1338 214q-7 -2 -13 -7M1337 202q5 15 12 29M1351 216q2 -4 4 -7M1336 216q-4 -3 -7 -5M1330 206q8 14 16 28M1350 212q0 -4 1 -8M1330 211q8 12 19 20M1338 221q-2 -4 -7 -4M1340 209q9 9 14 20M1333 212q9 10 14 23" stroke="rgb(66, 62, 224)"/>
<path d="M1343 210q8 8 11 20M1356 214q3 -6 8 -11M1348 209q-0 12 2 25M1352 216q3 -7 2 -14M1346 208q2 14 9 26M1340 210q12 11 17 26M1343 225q-6 -3 -13 -5M1342 212q3 15 5 30M1344 228q-7 -2 -13 -2M1338 213q-0 18 11 32M1344 215q5 13 11 24M1345 217q7 10 15 18M1359 226q-1 -4 1 -9M1343 215q12 11 19 26M1358 220q1 -7 1 -13M1353 213q7 12 4 26M1357 223q-0 -6 3 -10M1347 233q-8 2 -16 2M1340 218q16 8 27 23M1347 220q9 8 15 19M1339 224q16 7 31 15M1352 235q-6 -0 -13 -0M1342 223q14 8 25 20M1361 229q-2 -8 -3 -16M1349 224q5 11 14 19M1346 223q9 13 21 23M1345 225q15 8 32 11M1344 230q15 7 29 13M1346 225q15 8 27 20" stroke="rgb(69, 60, 221)"/>
<path d="M1347 239q12 -1 24 0M1360 240q-4 5 -10 5M1353 229q9 8 20 13M1348 230q13 9 29 14M1364 243q-7 2 -15 3M1352 228q14 4 26 12M1345 243q17 3 35 3M1351 234q16 -0 33 -0M1354 229q15 2 29 6M1354 240q14 -5 28 -5M1369 244q-8 2 -15 6M1355 229q15 7 30 12M1368 244q-7 5 -14 8M1355 232q17 4 34 1M1374 234q-1 -5 -4 -9M1372 246q-6 6 -14 6M1362 230q12 2 21 11M1371 244q-7 1 -10 7M1357 229q17 2 34 6M1358 240q16 2 32 2M1375 248q-6 6 -9 14M1358 233q16 8 33 15M1375 234q-3 -7 -10 -9M1364 231q12 4 23 10M1378 247q-6 5 -12 10M1361 249q14 -10 32 -11M1363 227q14 -2 29 -4M1379 233q-4 -5 -7 -11M1363 245q17 -2 32 -10M1368 234q12 5 24 1M1365 240q16 -3 33 -2" stroke="rgb(80, 57, 214)"/>
<path d="M1367 237q16 3 31 7M1370 249q12 -10 28 -12M1370 240q14 -4 28 -10M1375 246q11 -2 22 -6M1387 249q-3 3 -4 8M1371 234q15 -1 30 2M1372 239q16 -2 31 -7M1384 233q-3 -3 -6 -6M1390 245q-2 6 -5 12M1378 249q13 -2 26 -2M1386 230q-8 -3 -14 -8M1380 248q10 -6 22 -9M1391 244q-2 8 -5 15M1379 239q11 -5 23 -8M1375 236q16 -3 32 -3M1381 237q12 -0 25 -0M1384 241q12 -2 22 -8M1381 244q14 -10 30 -15M1392 230q-8 -3 -13 -9M1387 252q15 -6 24 -20M1383 236q15 -4 30 1M1386 237q11 -3 19 -12M1389 241q10 -7 22 -12M1391 247q14 -8 29 -14M1394 228q-7 0 -13 -0M1385 233q16 -1 32 -0" stroke="rgb(90, 54, 207)"/>
<path d="M1394 242q8 -10 16 -19M1395 244q13 -8 17 -22M1391 242q9 -15 22 -26M1389 236q13 -8 25 -18M1397 224q-5 0 -11 1M1396 241q11 -9 21 -20M1392 240q10 -15 22 -28M1400 237q10 -6 18 -14M1399 239q9 -13 19 -23M1395 232q13 -6 25 -13M1416 230q1 6 1 12M1398 237q14 -9 25 -22M1403 224q-6 1 -12 2M1406 239q10 -9 19 -18M1393 232q15 -9 27 -22M1396 226q11 -7 23 -13M1401 234q12 -12 27 -20M1401 228q6 -12 13 -23M1411 218q-3 2 -8 2M1419 227q2 5 3 10M1414 232q2 -11 1 -22M1419 218q6 5 14 7M1420 234q-2 -16 -8 -30M1417 235q-3 -16 -3 -33M1407 218q-7 5 -12 11M1412 229q-5 -12 -11 -24M1418 214q8 3 14 8M1406 231q-4 -15 -0 -30M1404 214q-2 5 -6 9M1416 226q-0 -12 -0 -23M1407 212q-5 5 -9 11M1411 228q3 -15 8 -29M1415 226q-4 -14 -6 -28M1405 217q-4 3 -8 7M1416 227q3 -16 1 -32M1417 223q-7 -12 -12 -25M1403 225q0 -16 3 -31" stroke="rgb(101, 52, 200)"/>
<path d="M1414 222q2 -14 8 -27M1403 224q-0 -16 5 -32M1419 207q5 8 15 8M1419 217q4 -12 0 -23M1407 217q-0 -11 -3 -22M1407 209q-4 4 -8 8M1416 219q-8 -14 -10 -30M1414 217q2 -14 4 -29M1403 207q-5 4 -8 10M1408 218q5 -16 8 -32M1407 206q-1 7 -6 12M1401 216q4 -16 12 -30M1414 216q-7 -15 -11 -32M1415 211q-6 -12 -7 -24M1408 214q3 -17 2 -34M1402 201q-3 7 -7 13M1417 198q8 2 15 7M1423 208q-1 -14 -6 -26M1415 211q-10 -14 -11 -31M1415 205q1 -12 -4 -22M1407 204q3 -13 12 -22M1417 188q7 3 11 10M1407 207q1 -15 5 -30M1421 202q-10 -11 -13 -25M1412 202q-4 -12 -12 -22M1403 190q1 5 -3 8M1415 186q3 3 7 4M1407 204q-5 -13 -8 -28M1407 200q-3 -11 -5 -23M1412 200q-5 -13 -9 -26M1407 200q-8 -11 -13 -23M1418 196q-7 -12 -12 -25M1416 192q-8 -9 -14 -19M1400 188q-2 6 -8 10M1410 199q-10 -13 -15 -30M1400 188q-6 6 -7 14M1414 196q-9 -14 -16 -29M1412 196q-9 -15 -17 -30M1413 180q4 2 9 3M1417 188q-11 -7 -20 -18M1408 191q-3 -14 -0 -27M1414 189q-10 -11 -17 -24M1395 180q-4 7 -8 14M1412 182q-13 -7 -27 -7M1398 190q-1 -11 -5 -22M1407 185q-3 -12 1 -24M1398 173q-3 4 -4 9M1418 185q-9 -15 -19 -29M1410 184q-6 -13 -7 -27M1400 177q1 6 -3 11M1406 186q-3 -14 -11 -26M1408 184q-8 -13 -15 -25M1406 168q8 -3 15 2M1405 183q-11 -9 -19 -21M1392 171q-1 5 -3 9M1403 180q-9 -8 -14 -19M1409 162q6 1 13 2M1413 177q-15 -7 -26 -20M1403 183q-3 -16 -10 -32M1409 177q-14 -8 -24 -19M1408 174q-5 -13 -14 -23M1394 171q-4 4 -4 9M1409 176q-14 -10 -24 -25M1390 170q-0 4 0 8M1404 171q-4 -11 -7 -22" stroke="rgb(112, 49, 193)"/>
<path d="M1408 174q-12 -12 -25 -22M1398 173q-7 -9 -8 -21M1399 159q5 3 10 4M1404 167q-8 -8 -11 -19M1404 151q8 -3 13 3M1406 166q-9 -9 -17 -19M1399 176q-9 -14 -15 -30M1399 157q7 -1 14 1M1393 174q-7 -10 -12 -21M1398 166q-9 -8 -19 -12M1396 150q5 -1 10 -0M1399 173q-13 -12 -27 -22M1404 157q-9 -8 -20 -13M1399 165q-7 -12 -16 -23M1383 163q-2 4 -1 9M1403 162q-17 -5 -28 -19M1401 162q-13 -10 -25 -21M1387 159q-0 5 -0 9M1395 143q8 0 15 -1M1398 160q-11 -8 -22 -17M1385 159q2 5 4 9M1392 148q4 -2 8 -4M1394 162q-12 -5 -22 -13M1393 159q-8 -8 -18 -13M1400 158q-16 -6 -32 -12M1394 156q-12 -2 -23 -9M1396 149q-13 -2 -27 -4M1381 155q5 6 5 14M1385 146q4 -2 8 -5M1393 144q-13 -1 -25 2M1381 157q4 4 8 9M1396 145q-16 6 -34 5M1379 159q5 4 10 9M1395 137q-17 6 -33 13M1389 151q-12 4 -23 7M1393 142q-18 2 -35 2M1378 159q4 6 9 10M1391 148q-17 3 -33 4M1390 152q-14 7 -29 13M1383 145q-11 5 -23 11M1370 147q3 -6 5 -12M1387 151q-15 1 -31 3M1384 145q-15 5 -29 12M1386 149q-16 7 -33 10M1369 162q6 2 10 6M1386 150q-18 1 -33 10M1367 145q3 -8 3 -16M1372 140q-4 12 -15 20M1381 151q-14 4 -29 5M1380 153q-14 2 -26 10M1364 148q2 -6 5 -12M1377 142q-14 11 -27 23M1367 145q-4 11 -7 22M1367 162q6 0 11 -1M1372 145q-7 13 -16 26M1374 151q-12 6 -21 15M1373 154q-10 6 -19 12M1373 153q-9 8 -17 17M1376 153q-12 10 -25 19M1379 160q-8 8 -18 13M1366 162q5 -0 10 -1M1363 147q-4 16 -8 31M1372 152q-3 16 -8 31M1365 151q-7 13 -11 28" stroke="rgb(123, 46, 186)"/>
<path d="M1368 155q-8 13 -19 23M1353 161q-1 -6 -6 -10M1362 151q-2 17 -5 33M1363 157q-6 11 -11 22M1364 172q8 -2 14 -8M1369 159q-2 12 -7 23M1353 172q-3 -7 -7 -13M1354 154q-2 17 2 33M1344 158q5 14 12 28M1366 168q2 -3 4 -7M1370 155q-6 16 -4 33M1358 159q0 15 -1 30M1366 159q2 14 5 29M1364 174q3 -5 7 -10M1350 175q-4 -4 -7 -7M1362 159q-1 16 -2 33M1351 181q-5 -3 -9 -7M1353 161q6 16 10 32M1356 167q6 13 20 18M1352 169q7 10 13 20M1355 181q-5 -2 -11 -3M1346 166q5 18 18 31M1366 175q5 -6 9 -14M1353 169q6 12 13 24M1366 177q4 -7 10 -13M1354 167q5 16 10 31M1364 167q4 13 6 26M1353 169q5 16 11 32M1356 185q-4 -4 -11 -4M1357 169q11 13 24 24M1368 171q7 10 6 21M1358 171q9 14 13 30M1367 185q5 -7 6 -15M1359 190q-5 0 -9 -2M1353 181q10 8 21 16M1358 179q9 8 16 18M1360 174q4 16 13 29M1373 180q2 -7 -0 -14M1360 180q7 9 15 17M1356 182q8 12 20 20M1359 184q11 6 22 10M1376 186q-1 -5 1 -9M1358 180q13 9 25 18M1359 187q8 9 19 14M1358 187q13 9 28 10M1375 187q-3 -6 -6 -13M1362 181q11 10 24 18M1369 197q-7 1 -14 1M1358 186q13 10 29 18M1364 188q10 5 19 11M1372 200q-4 2 -8 3M1360 194q14 3 26 9M1360 193q10 13 24 22M1378 190q-3 -8 -7 -15M1367 185q14 -0 26 8M1364 191q12 9 25 16M1377 203q-7 1 -13 5M1368 193q11 2 23 2M1368 193q13 1 26 3M1383 190q-3 -6 -6 -11M1371 191q11 3 19 12M1386 191q-2 -6 -4 -11M1379 205q-5 2 -9 6M1366 192q17 7 27 22M1376 183q6 14 14 26M1382 194q-3 -5 -5 -11M1369 194q16 3 32 4M1371 193q12 11 28 13M1372 193q13 8 28 12" stroke="rgb(134, 44, 176)"/>
<path d="M1371 197q14 7 29 11M1377 198q12 -2 24 -1M1389 195q-2 -4 -4 -9M1374 208q12 0 25 -1M1385 210q-5 3 -10 8M1371 200q17 4 34 10M1379 200q12 3 20 11M1374 202q13 11 29 18M1374 203q18 3 35 8M1393 209q-7 -0 -13 5M1379 204q15 -7 31 -9M1383 202q12 2 22 10M1393 199q-1 -5 -3 -10M1384 192q14 6 28 8M1385 203q10 7 22 8M1383 193q17 8 35 7M1402 199q-1 -7 -6 -13M1385 206q13 3 27 1M1402 200q-1 -4 -3 -8M1389 202q10 5 20 11M1401 197q-3 -3 -5 -7M1400 215q-4 1 -8 2M1387 210q14 -0 26 -6M1385 208q16 1 33 -1M1392 211q12 -3 21 -10M1402 201q-1 -6 -4 -11M1394 201q11 4 23 5M1391 204q13 7 25 15M1403 202q-4 -7 -9 -13M1405 214q-5 4 -10 8M1394 208q9 7 20 10M1403 215q-6 3 -11 5M1397 193q16 5 23 20M1407 204q-5 -7 -10 -13M1397 205q11 5 22 4M1398 205q11 4 22 10M1399 201q11 7 23 12M1398 207q14 -2 29 -2M1414 206q-5 -5 -9 -12M1402 204q12 4 21 12M1399 209q14 2 26 10M1397 211q15 4 30 9M1402 208q13 3 25 7M1418 207q-2 -5 -6 -9M1398 212q18 -1 35 1M1408 200q13 2 26 6M1411 217q-4 3 -8 2M1407 201q13 7 24 18M1403 216q14 0 28 -0M1418 216q-5 2 -11 3M1409 208q9 7 19 14M1405 209q16 3 31 9M1404 213q15 6 31 9M1422 209q-1 -5 -3 -10M1416 223q-8 1 -13 6M1408 209q16 5 34 4M1409 215q11 7 24 11M1423 221q-6 7 -15 6M1410 208q15 6 30 14M1417 207q11 6 22 11" stroke="rgb(145, 42, 164)"/>
<path d="M1420 199q4 17 17 28M1429 209q-5 -7 -3 -14M1414 207q16 6 30 14M1410 215q16 8 33 13M1421 211q7 10 15 20M1425 223q-5 2 -10 6M1419 215q13 4 27 0M1425 207q10 6 17 16M1419 208q17 6 28 21M1419 213q15 9 25 23M1436 215q-3 -5 -3 -10M1423 221q8 7 18 13M1419 215q16 8 30 20M1426 214q12 5 24 9M1423 214q16 1 31 8M1430 212q9 7 21 9M1428 220q13 -2 25 4M1427 215q15 6 28 15M1424 226q17 -1 33 5M1431 225q12 -10 27 -14M1431 222q12 6 24 10M1443 233q-4 1 -8 3M1433 220q11 5 22 10M1447 230q-6 2 -13 4M1431 225q14 5 29 5M1433 218q15 -1 30 2M1449 217q-3 -4 -6 -8M1436 222q12 6 23 14M1439 219q11 3 22 5M1437 222q13 5 26 5M1447 233q-4 3 -10 4M1438 226q13 -6 27 -5M1435 228q17 2 33 6M1435 230q16 7 33 11M1442 226q12 0 24 3M1449 233q-6 1 -10 6M1441 226q15 0 30 6M1453 237q-4 4 -10 5" stroke="rgb(156, 40, 151)"/>
<path d="M1445 230q11 -1 23 1M1449 215q8 8 18 14M1462 219q-3 -6 -7 -12M1443 226q16 5 31 12M1444 226q16 -1 32 -1M1448 233q12 -2 24 2M1459 221q-4 -7 -9 -12M1459 232q-5 5 -13 7M1448 233q17 -5 29 -17M1449 232q14 4 29 1M1462 222q-3 -3 -5 -6M1447 229q17 4 34 4M1454 222q12 -1 24 1M1463 220q-5 -3 -8 -8M1449 229q17 -3 35 -7M1453 221q15 5 30 7M1471 221q-1 -5 -4 -7M1453 229q16 3 33 3M1471 217q-7 -2 -13 -7M1457 222q12 -3 24 -4M1454 222q16 -3 32 -3M1467 221q-6 -6 -14 -9M1455 226q16 -6 32 -13M1472 235q-5 7 -9 14M1462 232q12 -4 25 -1M1461 236q15 -4 30 -3M1462 233q14 -6 28 -6M1466 230q11 -2 22 -4M1476 222q-3 -3 -7 -3M1480 236q-4 5 -9 10M1467 232q12 -3 22 -10M1464 235q14 -9 29 -17M1464 231q16 -6 32 -13M1479 219q-5 -5 -12 -8M1483 230q-1 6 -5 10M1463 223q17 -1 35 1M1476 220q-6 -1 -11 -3M1471 235q12 -8 26 -13M1478 220q-6 -2 -13 -5M1469 231q15 -2 30 -7M1487 230q-3 5 -6 10M1472 225q11 -4 20 -11M1468 223q17 1 31 -9M1484 227q-0 7 -2 13M1475 228q12 -5 21 -13M1488 230q-3 6 -6 11M1474 229q14 -6 28 -11M1484 216q-7 -4 -14 -6" stroke="rgb(168, 38, 139)"/>
<path d="M1474 230q17 -0 31 -8M1482 215q-3 -5 -9 -4M1478 230q14 -2 27 -6M1485 216q-6 -2 -11 -4M1477 223q11 -6 20 -13M1492 227q-2 5 -4 11M1477 224q14 -3 28 -8M1496 228q-1 4 -1 9M1483 235q13 -8 26 -17M1484 236q11 -14 25 -23M1490 233q6 -10 13 -20M1491 214q-4 -2 -8 -2M1485 228q14 -3 25 -13M1485 229q12 -10 23 -22M1492 210q-6 0 -12 -2M1490 233q13 -9 26 -18M1490 229q9 -12 15 -25M1491 224q10 -6 15 -16M1487 222q13 -7 24 -16M1490 221q11 -6 23 -12M1494 228q6 -16 12 -33M1493 207q-7 4 -14 5M1493 223q10 -12 23 -18M1488 219q8 -13 15 -26M1502 227q4 -15 14 -28M1509 216q-0 8 3 16M1500 219q-1 -12 1 -24M1495 219q10 -11 21 -21M1491 217q5 -14 12 -27M1504 219q6 -11 10 -24M1495 212q4 -10 7 -21M1485 210q9 -14 25 -19M1500 219q0 -18 11 -34M1501 198q-5 1 -8 5M1499 215q5 -15 9 -30M1505 217q1 -16 2 -33M1502 216q6 -17 9 -34M1509 214q-1 -15 3 -31" stroke="rgb(179, 36, 127)"/>
<path d="M1500 209q6 -12 9 -26M1499 212q2 -18 11 -34M1517 213q4 -15 2 -31M1512 212q3 -18 -4 -35M1512 206q-4 -13 -6 -26M1500 193q-7 4 -15 6M1502 208q2 -17 -1 -34M1506 203q6 -12 11 -25M1503 187q-4 6 -9 10M1511 202q4 -13 1 -26M1515 189q6 4 12 10M1508 204q2 -15 3 -30M1520 192q4 4 6 9M1503 200q9 -12 10 -26M1515 200q3 -14 -1 -29M1506 201q4 -16 -1 -31M1506 197q-2 -13 -5 -25M1507 195q-2 -13 -9 -24M1498 180q-3 8 -9 13M1516 194q-4 -14 -12 -25M1516 179q3 5 9 7M1513 197q-11 -15 -15 -32M1510 195q0 -15 -1 -31M1514 191q-6 -13 -12 -25M1501 182q-4 4 -7 10M1503 195q1 -16 -3 -32M1516 178q8 -0 13 6M1509 187q0 -12 -2 -23M1500 176q-2 3 -4 7M1515 175q7 2 13 7M1517 190q-10 -15 -13 -33M1500 177q-3 5 -5 11M1502 190q-3 -13 -6 -27M1503 190q-2 -15 -2 -31M1514 186q-8 -14 -13 -30M1504 184q-7 -10 -11 -21M1505 182q1 -12 -1 -23M1509 181q-2 -14 -4 -28M1511 177q-11 -8 -22 -15M1507 178q-6 -10 -10 -21M1496 172q-1 5 -3 9M1506 162q7 -1 13 2" stroke="rgb(189, 34, 115)"/>
<path d="M1510 182q-10 -15 -12 -33M1506 178q-7 -12 -11 -24M1496 169q-1 8 -6 13M1518 172q-11 -11 -20 -24M1492 172q-2 6 -0 12M1501 180q-5 -14 -7 -28M1495 167q0 6 0 12M1508 155q5 0 10 2M1499 178q-9 -9 -17 -17M1505 162q6 3 11 5M1510 174q-17 -5 -24 -22M1495 168q1 7 1 13M1507 171q-6 -12 -14 -22M1503 156q8 3 17 4M1510 170q-9 -13 -22 -21M1493 163q-3 4 -3 10M1508 166q-6 -11 -17 -18M1503 156q7 3 15 0M1505 166q-9 -8 -15 -18M1516 154q-15 -1 -29 -6M1504 164q-8 -8 -17 -16M1508 163q-14 -8 -29 -14M1504 162q-11 -7 -22 -13M1492 163q2 5 2 11M1501 172q-8 -16 -21 -27M1501 165q-11 -9 -20 -20M1504 162q-17 -3 -30 -12M1498 159q-11 -5 -22 -5M1502 159q-16 -1 -30 -10M1484 156q4 5 3 11M1496 161q-13 -1 -24 -9M1491 143q7 -3 13 -5M1502 147q-11 -4 -22 -7M1499 156q-14 -3 -28 -8M1485 157q1 5 1 9M1486 146q5 -2 10 -5M1498 153q-12 -5 -24 -9M1495 154q-10 -6 -19 -13M1487 144q6 -5 13 -6M1499 154q-14 -9 -30 -14M1495 151q-13 -4 -26 -7M1490 156q-9 -8 -21 -10M1496 144q-16 1 -32 5M1482 144q4 -2 8 -2M1497 148q-16 -5 -33 -8M1477 151q5 5 9 12" stroke="rgb(198, 33, 104)"/>
<path d="M1490 149q-13 -1 -25 -1M1491 146q-14 -4 -27 -9M1489 156q-15 -5 -28 -12M1474 142q7 -4 15 -5M1488 149q-13 -2 -27 -2M1486 150q-12 -7 -25 -7M1488 152q-16 -8 -32 -16M1469 155q2 6 8 9M1484 144q-13 -1 -25 -3M1482 146q-12 -1 -23 1M1483 155q-14 -6 -29 -7M1482 146q-14 -2 -28 -6M1469 152q6 3 10 8M1479 147q-12 -2 -24 -6M1481 140q-17 -0 -31 8M1479 141q-14 -3 -29 -2M1477 143q-14 5 -27 9M1467 140q4 -7 8 -14M1478 147q-16 -0 -30 -6M1464 139q1 -6 5 -10M1472 144q-11 -0 -22 -3M1471 136q-12 5 -22 14M1472 143q-14 -1 -25 7M1459 141q3 -6 9 -10M1473 136q-17 5 -31 16M1459 141q-0 -6 4 -10M1472 145q-15 5 -28 12M1470 140q-15 2 -30 2M1456 138q5 -3 8 -8M1466 133q-14 2 -26 7M1465 139q-12 4 -25 7M1465 135q-14 6 -29 9M1452 153q5 6 14 8M1463 140q-14 -0 -27 -3M1465 147q-14 -0 -27 5M1451 156q4 0 8 2M1465 141q-13 10 -30 14M1460 144q-11 7 -22 13M1458 136q-11 8 -25 12M1448 153q5 3 11 3" stroke="rgb(207, 31, 94)"/>
<path d="M1459 143q-12 8 -24 16M1447 153q8 1 16 6M1459 143q-14 5 -27 10M1449 156q5 2 10 4M1459 155q-12 3 -24 2M1452 139q-9 12 -15 25M1462 153q-18 2 -34 9M1458 157q-15 -3 -30 -4M1456 144q-16 8 -34 8M1455 144q-17 5 -34 12M1442 155q8 1 15 5M1452 143q-14 8 -29 14M1435 149q2 -4 2 -9M1444 142q-10 6 -18 14M1443 159q8 2 17 1M1445 145q-9 8 -17 17M1439 159q5 0 10 2M1435 150q-1 -6 2 -13M1452 146q-13 12 -27 22M1434 150q1 -7 4 -13M1447 144q-13 11 -27 19M1441 158q5 -0 10 -2M1446 151q-11 8 -24 11M1438 158q5 -1 10 2M1444 149q-10 9 -20 17M1434 160q7 2 14 3M1441 145q-11 10 -20 21M1445 147q-8 16 -24 25M1443 152q-9 9 -17 18M1436 159q7 1 12 -3M1439 149q-11 9 -19 21M1447 155q-16 5 -26 18M1439 149q-5 17 -10 33M1432 165q5 -3 11 -4M1434 149q-5 15 -11 28M1432 152q-7 10 -12 21M1431 151q-7 11 -13 23M1438 157q-6 12 -14 22M1432 167q5 -0 10 -1M1429 149q-7 15 -19 26M1433 172q4 -1 9 -0M1440 160q-10 10 -21 19M1433 159q-6 9 -11 19M1429 157q-7 11 -16 21" stroke="rgb(216, 30, 83)"/>
<path d="M1435 158q-10 12 -13 28M1429 157q-6 14 -12 28M1426 161q-5 10 -8 21M1426 160q-3 14 -12 25M1424 162q1 13 -0 25M1431 177q5 -6 13 -7M1428 161q-11 12 -11 29M1421 160q-2 16 -11 29M1423 161q2 17 -5 32M1425 163q-9 14 -11 30M1426 170q-3 12 -12 20M1426 170q-0 12 -2 23M1414 181q-6 -6 -10 -14M1421 165q-1 17 3 34M1411 183q-2 -6 -5 -12M1432 170q-3 14 -10 26M1418 171q1 13 2 26M1426 186q4 -5 8 -8M1426 170q-4 15 -4 31M1428 171q-8 15 -17 30M1419 170q-1 17 2 34M1427 188q5 -4 9 -8M1431 175q-6 14 -14 27M1414 191q-3 -2 -6 -5M1420 173q-2 17 -11 32M1413 190q-8 -4 -13 -10M1423 173q-5 17 -2 35M1418 177q-0 14 1 28M1427 179q-7 13 -11 27M1417 176q-1 17 2 34M1425 190q6 -5 12 -10M1413 183q4 11 3 23M1416 184q-0 12 3 23M1415 180q2 18 9 34M1426 196q6 -4 10 -10M1417 181q-1 18 8 34M1415 185q4 15 11 27M1430 197q5 -4 9 -8M1422 183q-5 16 -6 34" stroke="rgb(225, 28, 72)"/>
<path d="M1429 185q-6 16 -11 32M1415 198q-8 -4 -10 -13M1415 191q2 11 3 22M1428 189q-9 14 -18 28M1420 192q-0 12 -2 24M1415 194q0 13 -7 24M1424 201q3 -3 7 -6M1419 189q-2 17 -2 34M1414 196q-3 11 -3 23M1413 207q-1 -8 -9 -10M1416 196q2 13 7 25M1426 205q1 -4 4 -8M1415 195q3 15 1 30M1408 199q4 12 9 24M1415 201q6 10 8 21M1413 199q7 14 15 27M1422 196q-1 17 -1 34M1411 200q9 14 15 30M1420 199q1 17 1 34M1426 217q3 -4 6 -8M1415 205q5 12 7 25M1418 203q4 14 8 29M1419 206q4 13 9 25M1419 206q-1 15 -1 29M1417 223q-5 -5 -10 -11M1417 208q4 14 9 27M1427 204q-0 18 -2 35M1421 211q2 12 3 25M1424 208q-4 16 -3 33M1423 212q-3 14 -1 28M1415 215q5 12 6 24M1428 227q6 -6 12 -12M1438 213q-7 15 -18 27M1417 229q-5 -4 -11 -7M1417 215q5 15 12 28M1412 220q5 11 9 23M1419 215q8 15 13 30M1417 216q-0 17 6 33M1418 221q5 12 9 25M1427 233q2 -4 3 -8M1422 225q7 9 16 15M1430 236q2 -5 5 -11M1417 219q2 18 3 36M1431 237q2 -8 7 -14M1417 238q-5 -4 -10 -9M1425 219q6 15 7 31M1418 221q6 17 12 34" stroke="rgb(230, 27, 65)"/>
<path d="M1412 228q3 13 7 26M1418 227q8 12 9 27M1422 229q4 11 8 22M1431 234q2 -8 3 -16M1424 231q-2 11 1 22M1432 241q0 -6 2 -12M1420 240q-9 -0 -16 -5M1424 226q8 14 16 27M1420 228q5 16 15 30M1430 224q2 18 11 34M1427 233q-1 13 6 23M1423 250q-5 -6 -13 -8M1429 233q7 10 10 22M1427 234q5 13 12 23M1426 234q6 13 11 26M1435 244q0 -5 4 -9M1412 241q12 11 24 22M1419 242q8 10 17 20M1427 236q7 15 5 32M1434 249q4 -5 4 -11M1426 238q9 13 12 27M1425 255q-7 -3 -15 -6M1425 239q4 16 15 29M1423 259q-7 -4 -15 -6M1427 244q8 9 14 19M1426 242q9 12 16 25M1431 237q7 16 14 33M1438 252q2 -8 7 -14M1429 246q1 13 7 24M1439 256q1 -5 1 -9M1426 258q-7 -1 -15 -2M1423 251q11 7 20 17M1430 247q7 11 11 23M1423 251q12 9 25 18M1430 245q6 15 16 28M1433 264q-5 3 -10 1M1427 251q12 9 20 22M1421 257q11 13 29 17M1428 258q9 8 19 14M1446 257q3 -4 2 -10M1425 257q13 8 27 14M1435 272q-7 -1 -14 -2M1430 251q13 12 19 28M1428 262q13 3 26 7M1435 271q-4 0 -9 -1M1429 259q14 6 27 13M1440 272q-6 1 -13 2M1430 261q12 7 23 15M1440 273q-8 3 -16 2M1432 259q9 12 19 22M1437 257q10 7 21 13M1435 262q10 7 20 14" stroke="rgb(234, 25, 59)"/>
<path d="M1440 260q2 13 8 25M1436 265q12 4 25 5M1451 265q-3 -6 -6 -11M1445 275q-6 0 -10 4M1435 258q18 2 33 13M1434 277q11 1 22 4M1450 264q-1 -5 -2 -9M1438 268q14 -3 28 -2M1436 271q13 6 26 11M1448 279q-5 3 -11 3M1445 254q11 8 25 13M1438 270q16 -5 33 -2M1445 261q12 7 21 16M1445 266q11 6 22 10M1443 270q14 4 26 11M1457 280q-6 3 -12 5M1443 274q14 -4 29 -2M1447 273q12 -0 24 3M1454 281q-3 5 -9 6M1445 266q17 -2 31 6M1458 271q-1 -7 -4 -13M1447 266q14 7 29 14M1455 282q-5 3 -8 8M1449 274q13 2 25 2M1460 280q-5 8 -14 8M1448 284q14 -2 27 -3M1445 282q17 1 35 -1M1451 277q14 -5 28 -1M1465 281q-3 5 -7 7M1452 276q14 -3 28 0M1471 269q-3 -8 -10 -13M1463 283q-4 5 -9 9M1450 284q18 -2 34 -8M1456 273q12 5 24 7M1456 284q13 -3 25 -8M1470 281q-4 5 -9 10M1457 276q14 2 27 -3M1457 283q14 -2 28 -5M1456 277q17 -5 34 -9M1476 282q-4 5 -8 9M1461 280q12 -6 25 -10M1462 274q13 4 26 4M1474 269q-5 -1 -9 -5M1460 275q16 1 31 -1M1469 285q8 -9 17 -16M1462 278q15 -6 32 -9M1463 280q18 -1 32 -12M1467 283q14 -7 27 -14M1463 275q17 -4 35 -5M1469 278q14 -3 28 -5" stroke="rgb(239, 24, 52)"/>
<path d="M1465 274q17 -4 34 -10M1478 291q10 -6 22 -5M1485 271q-7 -4 -13 -10M1483 280q-1 6 -6 9M1469 277q16 -4 32 -9M1479 290q10 -9 22 -16M1473 273q13 -1 25 -6M1490 278q-2 6 -7 9M1473 278q16 -7 33 -3M1478 289q14 -8 31 -10M1474 275q14 -8 30 -11M1477 276q14 -7 26 -16M1478 270q14 3 29 -1M1488 266q-4 -5 -10 -7M1479 277q14 -8 28 -16M1489 266q-3 -4 -7 -6M1481 279q16 0 31 -6M1481 270q14 -3 28 -5M1497 266q-6 1 -10 -4M1480 265q14 -4 29 -2M1496 275q-5 4 -6 10M1486 274q12 -5 22 -13M1481 267q15 -2 30 -9M1489 282q14 -5 27 -12M1486 274q16 -4 29 -13M1491 272q11 -6 23 -8M1501 274q1 8 -2 16M1493 272q9 -6 19 -11M1491 279q14 -9 29 -17M1503 262q-5 -6 -13 -8M1493 272q12 -5 24 -11M1501 261q-8 -1 -14 -6M1496 279q14 -10 20 -27M1494 274q12 -10 24 -19M1503 258q-5 -2 -10 -1M1507 270q-0 6 -1 12M1490 267q17 -4 33 -7M1497 275q13 -8 26 -16M1509 261q-7 -5 -16 -4M1501 270q12 -3 24 -1M1510 258q-5 -2 -9 -6M1515 269q4 11 -7 15M1498 278q18 -3 34 -12M1501 268q9 -9 19 -17M1507 273q8 -8 15 -16M1502 273q13 -8 26 -17M1498 258q14 -5 28 -3M1515 256q-6 -2 -11 -7M1501 258q10 -6 21 -8M1517 256q-8 -2 -15 -5M1503 272q16 -9 28 -23M1506 261q10 -5 20 -10" stroke="rgb(244, 23, 45)"/>
</g>
<g clip-path="url(#k10)">
<path d="M297 390q-12 14 -25 26M291 389q-8 14 -20 25M279 381q-5 16 -15 29M287 407q4 -2 9 -1M288 393q-7 11 -17 19M285 406q7 -0 15 1M290 392q-9 14 -16 27M294 395q-15 8 -29 19M274 401q1 -6 1 -12M292 396q-6 16 -17 28M285 393q-6 14 -11 28M285 397q-14 4 -22 15M280 395q-11 6 -22 12M291 404q-13 4 -24 13M282 413q4 -2 8 -3M286 396q-15 9 -30 18M271 404q2 -6 -0 -12M277 396q-5 11 -13 20M282 412q7 -3 13 -6M285 406q-11 3 -20 10M283 396q-11 13 -20 27M287 405q-8 11 -13 24M268 409q1 -8 -2 -15M268 392q-4 15 -7 30M287 404q-10 12 -21 23M280 405q-7 10 -14 20M282 419q5 -0 9 -2M285 403q-11 13 -22 26M285 407q-8 12 -18 24M282 406q-6 14 -13 27M277 405q-4 14 -16 24M273 403q-2 15 -10 28M270 400q-7 17 -8 35M276 423q7 -1 14 -1M283 410q-10 12 -13 27M280 407q-9 15 -20 29M272 404q1 18 -8 34M273 411q-5 11 -9 23M276 422q3 -3 7 -6M259 422q-1 -5 -5 -8M270 412q-6 11 -14 19M284 417q-10 9 -15 21M280 416q-5 12 -6 25M273 411q-3 16 -10 30M276 416q-2 13 -7 24M273 433q3 -3 7 -5M258 423q0 -7 -3 -12M257 410q-0 15 2 29M268 416q-1 12 -3 25M269 415q-4 14 -9 27M280 422q-2 12 -7 23M263 415q-1 15 -6 30M269 421q-2 12 -6 23M270 421q-1 13 -7 24M261 421q-6 10 -7 22M270 422q-1 15 4 28M264 420q-8 14 -7 29M265 423q5 14 5 28M271 438q3 -5 8 -8M273 427q-2 12 -9 22M274 442q7 -4 12 -9M256 424q0 12 -3 24M254 423q-0 15 4 29M274 426q-6 15 -14 29M278 431q-0 12 2 24M260 427q2 14 1 29M262 430q0 13 -1 26M272 443q4 -4 9 -7M256 431q-1 12 -5 23" stroke="rgb(46, 77, 237)"/>
<path d="M274 434q-3 12 -7 24M251 446q0 -10 -8 -15M268 434q-4 12 -4 24M262 433q-0 14 2 27M272 445q7 -0 12 -6M261 430q1 18 -5 34M265 433q-2 16 -10 31M259 435q6 14 5 29M269 452q7 -5 13 -11M253 438q4 11 6 24M259 440q8 11 14 22M268 454q4 -3 8 -6M273 437q-2 15 -6 29M256 450q-2 -7 -8 -10M256 440q1 14 7 26M268 456q6 -4 10 -9M261 437q-3 16 -3 33M265 440q1 15 4 29M271 458q3 -4 8 -6M269 440q3 15 4 31M265 439q-4 17 0 34M270 443q-4 14 -7 28M254 444q-3 15 -4 30M255 459q-3 -5 -8 -8M250 444q6 16 5 33M258 451q3 12 13 18M260 444q3 17 2 34M255 459q-5 -4 -10 -6M264 447q-0 15 5 29M261 451q5 11 8 23M255 462q-6 -2 -11 -5M312 399q-5 17 -11 34M255 450q5 14 13 27M267 449q-4 15 -6 30M274 460q3 -6 8 -11M256 467q-9 -3 -12 -11M266 450q8 13 9 28M271 468q4 -5 6 -11M265 448q5 17 13 33M296 433q-7 15 -14 29M263 456q6 10 9 21M272 467q-0 -8 5 -14M254 470q-6 -4 -12 -8M264 458q8 8 17 16M257 473q-7 -4 -14 -8M263 453q3 16 6 32M273 466q1 -8 8 -14M260 455q0 16 4 31M293 448q7 12 19 18M265 459q2 12 12 21M258 471q-5 -1 -9 -4M264 457q0 15 8 27M249 459q10 15 14 32M259 460q-0 15 -1 30M323 449q-13 8 -28 11M274 457q-5 15 -1 29M261 475q-7 -5 -13 -11M262 464q3 12 13 21M260 461q5 16 4 33M299 417q2 16 -6 31M260 462q7 15 16 29M265 465q6 12 11 24M263 468q0 12 1 23M261 482q-6 -3 -11 -7M267 467q-2 13 3 25M321 400q0 14 5 27M257 466q12 14 14 32M260 472q5 11 6 24M270 469q1 12 5 23M264 469q5 14 8 29M287 447q17 -6 35 -6M254 476q9 11 18 21M263 488q-5 -1 -11 -2M266 474q3 11 8 21M257 477q7 12 14 24M259 478q6 12 12 24M279 481q2 -4 3 -8M264 490q-5 2 -9 -1M295 420q8 17 13 35M271 469q3 16 6 32M278 485q-1 -7 3 -14M272 469q3 15 9 29M265 477q10 10 16 23M284 434q12 -12 24 -23M259 486q7 9 15 17M265 499q-5 -2 -11 -2M264 475q9 15 24 24M266 493q-6 3 -13 3" stroke="rgb(49, 75, 235)"/>
<path d="M268 478q13 5 24 14M266 479q11 11 17 25M315 402q2 17 5 35M264 481q6 16 18 27M266 478q15 9 28 21M266 480q14 9 30 17M272 475q12 11 20 25M322 441q-14 9 -29 14M266 485q12 9 20 22M265 485q15 8 30 15M287 488q-1 -5 0 -10M262 497q12 8 25 12M267 488q10 13 21 26M292 416q16 8 27 22M273 487q10 5 21 8M283 492q-2 -6 -2 -13M266 499q13 3 23 12M274 490q7 9 17 16M277 424q-6 12 -13 24M267 501q12 8 24 14M271 487q16 6 32 10M276 489q10 7 20 14M269 499q16 4 30 14M319 443q-7 12 -9 25M274 485q14 9 29 15M277 498q10 6 22 10M274 505q15 -6 30 -8M288 508q-5 3 -11 7M277 488q13 4 26 10M284 409q16 11 31 24M277 495q13 1 26 2M281 502q10 -4 21 -6M283 507q12 -2 25 -4M282 508q14 -5 26 -14M301 507q-1 4 -2 9M283 413q17 6 29 19M279 507q16 -9 27 -23M302 504q2 5 -1 9M286 514q13 -10 29 -16M293 493q-4 -4 -10 -3M301 507q-4 5 -4 11M278 496q12 -8 27 -11M321 425q-19 -3 -39 -5M283 505q18 -3 28 -18M294 512q8 -11 19 -20M293 490q-4 3 -9 2M304 503q-1 8 -2 16M286 501q11 -7 23 -13M302 504q1 6 -1 11M288 502q8 -9 16 -19M295 489q-8 1 -16 -2M284 404q13 10 25 21M296 511q8 -14 15 -28M291 489q-7 1 -13 3M287 504q10 -13 22 -25M308 497q3 4 3 10M294 505q12 -8 19 -21M297 487q-5 1 -9 3M301 508q3 -18 -2 -35M299 446q-18 -2 -32 11M294 505q11 -12 17 -27M294 498q9 -8 17 -16M308 492q3 4 4 9M291 500q2 -15 9 -28M301 505q1 -17 2 -33M294 485q-5 1 -8 4M262 404q5 16 -1 32M293 501q9 -14 15 -30M301 502q7 -13 14 -27M308 485q3 6 4 13M295 501q10 -15 14 -32M260 429q11 8 25 12M297 498q6 -14 16 -26M293 497q5 -15 12 -30M298 495q6 -13 8 -26M302 497q5 -14 12 -27M311 487q5 7 7 14M289 412q-2 16 -3 32M298 491q4 -11 4 -22M308 492q2 -11 7 -21M297 490q6 -11 12 -21M298 478q-7 4 -15 8M314 479q3 5 7 10M308 492q-1 -13 4 -25M293 444q16 5 32 2M305 494q-8 -16 -6 -34M297 478q-6 3 -10 8M312 477q3 3 5 8M294 492q5 -17 15 -32" stroke="rgb(52, 73, 233)"/>
<path d="M309 489q-4 -12 -4 -25M302 487q-1 -13 6 -24M294 416q19 1 38 1M305 490q7 -15 11 -31M299 470q-3 3 -6 6M299 486q3 -13 0 -27M299 475q-4 2 -8 5M313 473q6 5 8 12M307 488q1 -16 1 -31M299 409q18 10 26 29M305 486q7 -14 9 -29M308 486q1 -15 1 -30M296 466q-6 2 -8 8M306 484q2 -15 2 -29M305 481q-2 -13 -2 -26M301 471q-4 6 -11 8M328 439q-13 8 -26 16M305 479q-0 -11 3 -22M316 481q-3 -14 -2 -28M309 482q4 -16 5 -33M299 464q-6 3 -12 7M294 477q2 -14 9 -26M286 389q11 11 25 16M299 478q-0 -15 5 -29M299 461q-3 5 -9 7M299 481q2 -18 4 -36M302 476q4 -14 7 -28M301 475q0 -14 -1 -28M272 418q8 18 17 35M307 476q0 -16 -2 -31M303 472q1 -13 -0 -25M312 476q2 -18 5 -35M299 456q-4 7 -12 10M317 434q11 10 24 17M318 471q-5 -13 -7 -27M308 474q-2 -18 -12 -33M311 468q-2 -12 -6 -24M316 472q-2 -18 -5 -36M340 440q-17 4 -35 2M296 467q4 -11 3 -23M311 470q-7 -16 -11 -33M296 465q-0 -11 -3 -22M302 469q4 -17 3 -34M321 436q-18 -7 -36 -16M304 468q-2 -17 -3 -33M294 467q2 -16 6 -31M305 462q-3 -13 -11 -23M313 463q-9 -14 -14 -30M311 443q5 4 11 3M307 430q-4 18 -5 36M313 458q-4 -12 -8 -24M313 455q-1 -11 -2 -23M315 456q-5 -13 -12 -26M283 449q17 -0 34 2M304 462q2 -18 1 -36M320 452q-11 -10 -20 -22M302 456q-2 -12 -5 -23M303 454q-6 -10 -10 -20M288 442q9 -15 22 -28M293 461q5 -16 2 -33M310 434q7 -0 14 3M308 453q-2 -15 -9 -28M312 453q-9 -14 -15 -29M308 438q5 3 10 4M306 453q-4 -14 -8 -29M282 416q16 -2 32 -3M314 450q-6 -15 -13 -30M316 445q-14 -7 -22 -20M309 449q-8 -14 -16 -27M304 449q-1 -15 -7 -29M340 404q-12 10 -26 19M298 454q-5 -16 -15 -31M306 430q6 -2 12 2M316 444q-12 -13 -21 -27M307 433q4 5 11 7M302 445q-2 -15 2 -30M281 437q11 9 24 9M296 451q-2 -17 -9 -32M311 426q7 4 16 3M298 449q-2 -17 -8 -33M294 432q-2 6 -7 11" stroke="rgb(55, 70, 231)"/>
<path d="M292 442q2 -11 5 -22M313 436q-9 -10 -17 -22M307 427q6 4 13 7M290 420q10 8 21 16M302 440q-9 -10 -14 -22M300 440q-2 -13 -6 -26M287 429q1 6 -2 11M303 422q6 3 12 7M305 440q-10 -12 -20 -24M289 428q-1 6 -3 11M305 419q5 4 11 7M292 441q-4 -12 -10 -22M288 429q-3 4 -2 10M317 432q-10 15 -26 24M310 431q-9 -10 -20 -17M306 419q8 -1 15 4M305 436q-14 -11 -12 -28M296 436q-3 -12 -9 -22M302 431q-5 -10 -9 -21M300 419q5 4 11 4M268 422q14 -0 28 -5M301 436q-10 -13 -18 -27M301 431q-7 -10 -14 -21M299 416q6 2 11 5M298 434q-13 -9 -23 -21M293 403q5 12 8 25M300 432q-8 -14 -21 -21M302 425q-7 -9 -16 -16M296 431q-5 -12 -11 -24M291 436q-2 -17 -9 -34M296 448q13 -5 28 -3M296 433q-9 -14 -14 -31M287 435q-7 -13 -12 -27M302 426q-9 -15 -16 -31M282 435q-4 -12 -9 -23M285 418q10 9 24 11M294 430q-13 -9 -23 -21M296 428q-8 -16 -13 -33M298 416q-10 -5 -21 -9M300 422q-14 -11 -29 -20M289 404q8 -2 16 -1M302 408q-2 20 6 39M301 409q-8 -8 -17 -16M295 419q-12 -6 -23 -14M277 416q-0 6 3 12M303 411q-16 -5 -33 -12M272 428q2 14 2 27M294 413q-11 -4 -23 -5M297 417q-17 -4 -31 -13M293 416q-10 -10 -21 -19M276 418q4 5 5 11M298 408q-17 3 -35 -1M259 431q15 1 30 -4M295 418q-14 -10 -31 -14M294 407q-15 -3 -29 1M276 414q2 5 4 10M290 414q-11 -6 -24 -6M293 404q-16 2 -31 8M279 414q3 6 10 7M280 398q2 -5 6 -9M312 420q-12 10 -19 24M288 398q-14 3 -24 13M291 415q-14 -5 -29 -4M292 414q-14 3 -27 6M277 413q7 1 14 2M284 396q-11 10 -24 19M300 399q2 14 7 27M288 403q-13 8 -27 15M300 416q-15 4 -28 11M276 414q7 -5 16 -3M270 403q1 -5 2 -9M286 401q-14 9 -25 21M262 401q-1 -6 1 -12M304 443q15 -7 31 -3M277 398q-11 8 -22 18M276 416q7 -0 14 -2M280 402q-9 9 -15 21M272 396q-5 14 -9 28M280 413q5 -1 9 -2M262 406q-0 -7 -4 -13M275 398q-0 17 -5 33M275 416q7 -4 14 -9M268 427q11 17 25 30M285 404q-10 13 -22 25M281 408q-6 10 -14 19M280 405q-8 11 -16 23M278 416q8 1 13 -6M266 404q2 11 1 23M285 433q13 -8 28 -7M273 406q-5 11 -10 23M281 411q-2 12 -7 22" stroke="rgb(57, 68, 229)"/>
<path d="M280 405q-8 15 -12 31M260 420q-2 -5 -4 -11M269 405q-6 13 -9 28M282 416q7 17 10 35M276 409q-3 14 -8 27M266 410q-5 10 -7 21M257 417q-1 -6 -6 -10M273 409q2 15 1 30M266 408q-3 15 -5 31M273 424q7 -3 11 -10M259 420q-2 -4 -5 -7M282 424q10 -9 24 -12M270 413q7 12 6 26M260 413q-3 11 -5 23M267 413q-1 13 -7 25M272 429q4 -2 9 -4M260 427q-4 -3 -8 -7M279 444q15 0 29 -5M270 412q-5 16 -1 32M273 427q6 -2 10 -8M280 414q-1 16 5 31M272 427q7 -2 11 -9M272 414q-5 15 -7 30M260 413q4 16 5 33M297 398q3 19 9 38M258 413q2 18 6 35M256 431q-5 -6 -11 -11M267 419q1 13 4 26M259 434q-4 -3 -8 -7M259 416q6 16 4 34M277 418q-3 18 -14 32M289 434q8 -14 16 -27M259 423q-1 12 -0 23M257 420q5 16 9 32M261 420q-2 17 -7 34M262 422q2 16 3 31M273 439q5 -4 7 -10M270 427q13 7 27 14M273 425q1 12 -1 24M267 427q-2 12 -4 24M262 428q6 11 9 23M279 451q4 -17 8 -34M274 427q-0 13 -4 26M273 441q4 -3 7 -6M273 424q-2 17 -3 33M271 430q-2 12 -3 23M252 432q3 13 5 27M281 400q-2 19 1 37M263 433q8 10 14 21M262 434q2 13 -2 26M257 450q-2 -4 -6 -6M273 428q-2 17 -2 34M270 435q0 11 -0 23M281 417q-15 -5 -30 -5M264 435q2 14 6 26M261 436q2 15 1 29M274 449q1 -7 7 -10M268 436q9 11 11 24M260 438q5 14 16 24M276 450q4 -6 5 -13M261 436q6 16 15 30M263 439q8 12 13 26M267 437q5 15 14 28M266 440q0 15 6 29M270 439q10 10 17 21M264 444q2 14 8 27M258 445q10 13 20 27M265 447q11 7 21 14M263 464q-6 -8 -15 -6M263 446q2 15 9 30M264 452q5 10 8 21M270 447q5 11 10 22M254 460q15 3 30 7M280 458q1 -7 3 -13M266 447q12 12 27 19M259 452q11 13 19 29M281 457q1 -8 5 -16M275 449q2 11 6 21M264 459q10 6 20 13M267 455q10 9 15 20M279 461q2 -4 2 -9" stroke="rgb(60, 66, 228)"/>
<path d="M268 450q12 13 27 22M273 447q6 16 14 32M271 470q-4 -3 -8 -3M267 460q11 6 21 12M275 469q-7 2 -14 1M270 453q12 11 26 21M271 472q-8 -2 -15 -2M272 460q8 8 19 12M273 452q10 13 23 25M271 454q13 12 23 27M279 454q10 11 12 25M270 457q9 15 16 31M269 466q9 7 14 18M269 462q13 10 19 26M277 478q-6 -2 -12 -1M282 457q11 7 19 18M269 468q11 8 21 17M276 466q11 6 17 16M277 475q-5 -2 -11 -4M277 466q9 8 13 19M281 463q7 10 15 19M280 476q-7 -1 -13 1M281 458q13 12 21 27M294 473q0 -6 2 -11M277 462q9 16 21 29M278 464q6 16 12 32M280 483q-7 -4 -15 -1M280 467q8 11 19 20M278 473q9 7 17 14M277 473q6 12 16 20M297 477q0 -6 -0 -11M293 459q6 14 10 29M283 468q11 10 17 24M297 478q-2 -4 -1 -9M276 477q9 10 16 20M285 472q0 14 5 27M300 474q-0 -7 -1 -13M286 468q11 11 22 23M285 470q6 14 13 28M287 489q-6 -0 -11 -1M284 473q9 11 19 21M287 476q7 9 12 18M284 471q12 13 23 28M278 481q11 9 23 17M282 477q3 17 9 32M288 493q-9 2 -16 -3M289 471q7 17 18 31M286 493q-5 -2 -10 -2M284 479q14 8 25 20M290 477q10 11 13 25M291 491q-3 -5 -9 -4M300 476q8 11 18 19M299 477q6 11 11 22M296 479q1 14 3 27M289 494q-4 -5 -11 -5M297 479q2 14 7 28M288 493q-4 -3 -7 -7M298 478q3 16 8 31M306 489q6 -6 7 -14M292 479q2 17 9 32M302 483q-1 12 -3 25M291 485q4 12 6 25M307 492q4 -2 7 -6M295 481q2 17 2 35M298 486q4 12 3 25M301 486q2 13 -1 27M309 483q-7 17 -6 35M312 490q1 12 5 23M292 502q-7 -4 -12 -9M313 490q1 13 4 25M298 491q4 12 6 24M289 503q-6 -3 -12 -8M298 493q3 11 3 23M305 493q1 11 4 22M290 508q-1 -5 -5 -7" stroke="rgb(63, 64, 226)"/>
<path d="M295 493q2 12 5 24M296 495q1 11 -1 23M292 507q-4 -3 -9 -6M301 493q1 14 1 28M296 494q3 14 4 28M295 498q1 11 2 22M297 493q-3 18 -3 35M304 497q-7 13 -4 28M294 495q2 18 0 36M305 498q-1 16 -0 32M311 515q7 -3 8 -11M299 498q4 17 8 34M292 514q-4 -6 -11 -7M296 503q1 13 1 27M310 514q3 -4 6 -8M283 504q3 14 10 26M291 501q-2 18 2 35M302 508q0 11 1 22M291 510q3 11 5 22M296 510q-8 11 -12 23M295 509q5 13 4 27M293 513q6 11 7 23M312 509q5 15 6 30M299 514q-4 12 -4 25M293 528q-3 -8 -11 -9M305 511q-3 18 -13 32M303 512q-5 16 -6 33M302 518q-7 11 -13 23M291 519q-3 13 5 24M291 528q-4 -2 -7 -5M301 516q8 14 19 27M306 527q1 -4 5 -7M297 521q2 12 6 23M297 516q-2 18 3 35M293 531q-7 -5 -15 -7M298 522q1 13 9 24M296 519q-6 18 1 35M292 524q8 13 18 25M289 526q7 15 17 26M297 527q5 12 10 24M293 545q-5 -1 -8 -6M290 532q4 11 12 19M308 535q7 -5 10 -13M298 526q3 15 12 28M304 529q7 11 6 23" stroke="rgb(66, 62, 224)"/>
<path d="M309 528q6 11 7 23M298 530q3 15 13 28M304 531q2 13 3 27M296 546q-6 -5 -13 -6M300 535q11 8 15 20M297 533q5 15 9 30M301 534q5 13 12 26M295 539q13 8 23 21M303 536q3 14 9 28M298 554q-5 -4 -11 -7M289 540q9 15 18 30M300 557q-7 -3 -13 -7M301 542q10 8 15 18M313 552q4 -4 4 -10M300 556q-4 -0 -8 -2M305 539q8 11 13 23M312 553q1 -5 1 -10M295 549q8 8 11 19M314 553q1 -5 0 -10M302 555q-7 -2 -13 -4M300 545q11 8 19 19M300 541q5 18 21 27M305 543q5 14 14 26M298 548q12 10 19 24M303 562q-6 -2 -11 1M294 559q10 6 21 10M302 552q6 10 10 21M308 564q-5 -1 -10 -2M299 550q8 16 21 27M310 546q13 6 20 19M305 546q8 16 21 29M303 551q12 12 27 18M312 569q-7 -0 -12 3M307 551q13 10 16 26M306 555q12 7 23 16M309 567q-4 2 -9 3M311 553q10 7 21 14M306 556q16 5 23 21M306 560q10 11 21 19M307 556q12 13 22 27M315 550q10 13 18 26M324 562q-3 -3 -3 -8M313 561q8 8 15 17M318 571q-5 2 -10 3M315 559q7 9 17 15M310 568q13 3 26 5M329 566q-1 -5 -3 -10M321 577q-4 1 -9 1M309 563q16 6 31 14M312 565q16 1 31 3M313 562q9 14 23 24M329 568q-3 -5 -5 -11M325 579q-7 2 -13 7" stroke="rgb(69, 60, 221)"/>
<path d="M311 567q16 6 28 19M330 565q-3 -5 -3 -11M312 565q13 12 27 22M321 561q10 8 21 16M330 568q-5 -6 -7 -13M315 563q15 9 30 19M313 577q16 -1 31 4M315 574q15 6 31 6M338 568q-1 -6 -1 -12M321 563q16 2 30 10M340 566q0 -6 -4 -11M322 570q14 -3 27 4M333 583q-6 2 -12 2M323 573q12 1 24 4M335 571q-3 -6 -2 -14M322 571q13 5 27 11M326 570q12 6 22 15M327 565q12 9 24 17M337 572q-4 -4 -7 -9M339 582q-4 3 -8 5M329 568q11 6 21 15M331 565q10 7 22 10M324 575q18 -1 35 4M327 585q14 -5 27 -1M329 578q14 3 28 5M327 581q17 0 33 4M332 582q14 0 27 -7M335 582q13 -1 24 -7M346 572q-4 -4 -8 -8M330 581q17 -1 35 -2M346 572q-7 -4 -13 -9M334 574q15 -8 32 -8M352 571q-5 -7 -8 -15M340 567q10 5 19 11M333 585q18 -3 36 0M337 589q17 -6 29 -19M338 582q16 -2 30 -10M350 587q-4 4 -7 8M338 575q16 -4 32 -2M342 587q14 -8 26 -20M353 572q-7 -2 -13 -7M345 578q12 2 23 2M345 580q12 -5 25 -6M346 593q13 -9 29 -5M347 569q11 7 25 10M350 582q12 -2 21 -9M360 586q0 6 -4 9M346 579q16 -4 32 -1M351 585q10 -12 21 -23M362 570q-3 -3 -7 -5M366 584q-6 5 -9 12" stroke="rgb(80, 57, 214)"/>
<path d="M351 579q11 -6 23 -10M368 585q-3 6 -3 13M353 588q13 -8 27 -13M351 583q16 -5 30 -13M350 573q17 4 35 8M359 582q7 -9 16 -15M361 566q-6 -3 -13 -1M356 587q16 -6 28 -17M353 573q16 3 33 0M367 593q5 -13 18 -21M372 580q-1 5 -1 10M366 591q9 -11 21 -18M376 581q-1 6 -2 12M361 583q12 -10 24 -19M359 577q14 -4 27 -12M375 577q2 8 -3 13M362 581q13 -8 27 -14M364 580q8 -12 21 -19M368 580q5 -13 11 -24M357 572q14 -9 30 -16M384 576q2 7 2 14M363 580q15 -9 28 -22M368 580q14 -8 25 -20M368 576q9 -11 19 -22M369 580q12 -12 28 -20M372 574q12 -5 21 -13M374 572q9 -7 19 -11M376 560q-5 -1 -9 -0M373 574q11 -7 20 -17M389 567q-3 6 -3 13M375 571q10 -6 20 -10M376 577q13 -10 21 -25M391 568q1 7 4 13M376 570q7 -9 16 -17M382 561q-4 2 -9 3M388 565q1 4 2 8M374 569q12 -7 19 -19M386 574q7 -9 16 -16M381 558q-4 1 -8 1M380 571q7 -11 17 -20M381 570q8 -11 12 -24M371 567q8 -17 25 -24M376 565q10 -10 21 -19M372 565q11 -11 21 -24M393 558q1 4 3 8M383 571q11 -14 15 -31M381 568q13 -12 24 -26M386 570q9 -15 11 -33" stroke="rgb(90, 54, 207)"/>
<path d="M380 562q3 -13 10 -24M386 552q-8 2 -16 5M401 558q7 5 11 12M387 566q6 -15 3 -31M400 552q2 5 6 8M388 564q6 -13 10 -27M389 566q2 -18 6 -35M390 564q-2 -17 -5 -34M387 549q-5 5 -10 12M385 558q2 -11 1 -23M398 561q-4 -16 -11 -31M388 562q-2 -17 -7 -34M390 561q-5 -17 -2 -35M400 558q-7 -16 -14 -32M392 557q10 -15 7 -32M385 542q-5 3 -9 7M391 556q1 -17 5 -33M392 551q1 -12 -2 -24M397 548q-4 -10 -7 -21M397 533q4 4 9 7M390 552q1 -16 3 -31M382 543q-7 4 -9 12M397 549q-10 -11 -14 -26M397 531q4 -0 8 2M394 546q-5 -11 -8 -22M397 543q-6 -10 -11 -21M395 529q6 1 12 3M398 542q-8 -10 -16 -21M392 549q-5 -17 -6 -35M396 539q-6 -9 -11 -19M380 537q1 8 -2 15M394 546q-3 -18 -11 -34M405 533q-17 -4 -34 -10M398 534q-5 -11 -11 -22M391 543q-10 -13 -16 -28M398 535q-13 -9 -24 -20M391 524q5 1 9 0M393 539q-10 -15 -28 -18M401 525q-9 -9 -20 -14M391 532q-8 -9 -18 -16M391 530q-7 -10 -17 -16M379 527q1 7 0 13M393 532q-9 -14 -24 -20M385 534q-3 -13 -10 -25M391 526q-15 -3 -29 -6M381 517q5 1 9 -0M394 528q-10 -13 -24 -22M387 529q-8 -12 -12 -25" stroke="rgb(101, 52, 200)"/>
<path d="M378 538q-7 -13 -11 -27M389 522q-10 -7 -21 -13M385 508q8 2 14 -4M395 520q-16 -6 -33 -11M385 524q-8 -10 -19 -17M383 530q-14 -9 -26 -19M366 523q4 7 5 15M395 512q-15 -6 -30 -9M379 509q4 -3 8 -2M381 519q-13 -1 -25 -3M367 521q1 6 -1 12M373 532q-6 -16 -9 -32M381 527q-10 -14 -19 -30M367 519q1 8 1 16M374 524q-5 -11 -14 -19M370 509q4 -1 9 -1M380 518q-12 -6 -21 -16M373 528q-10 -11 -21 -20M364 518q1 4 0 8M377 526q-13 -12 -24 -26M378 514q-13 -5 -28 -4M369 529q-5 -17 -14 -32M379 511q-14 -3 -27 -10M381 513q-15 -9 -30 -17M369 501q7 -1 14 -1M372 515q-11 -6 -20 -14M368 516q-4 -12 -11 -22M367 517q-9 -11 -12 -24M365 518q-7 -10 -18 -16M354 509q4 6 5 14M367 513q-10 -6 -21 -12M375 506q-15 -4 -26 -14M351 514q2 7 2 14M360 498q5 1 10 0M367 510q-11 -5 -19 -14M351 512q4 7 5 14M366 517q-12 -12 -26 -22M349 510q2 5 2 11M356 526q-9 -13 -22 -21M367 510q-10 -12 -21 -24M361 498q7 -1 14 0M369 499q-11 -5 -23 -8M360 512q-10 -10 -16 -23M357 493q7 -1 14 -1M375 494q-16 -4 -30 -13M348 504q2 4 2 9M368 499q-13 -6 -24 -16M343 505q2 5 2 11M361 499q-12 -3 -24 -1M362 506q-11 -12 -24 -21M359 507q-14 -6 -26 -15M345 500q-1 4 2 8M361 501q-11 -8 -20 -19M343 505q4 7 6 16" stroke="rgb(112, 49, 193)"/>
<path d="M354 507q-11 -8 -16 -21M356 511q-16 -9 -27 -24M351 508q-11 -9 -18 -21M351 511q-11 -14 -20 -30M355 497q-10 -8 -20 -15M338 496q2 7 -1 14M350 501q-9 -9 -21 -13M356 497q-16 -6 -32 -10M343 484q6 1 12 -3M350 507q-14 -11 -26 -24M344 483q6 -0 12 -1M353 499q-11 -13 -22 -26M346 482q6 -0 10 -3M353 495q-15 -6 -31 -9M333 496q3 7 2 15M345 505q-11 -13 -25 -22M354 491q-12 -9 -25 -16M344 496q-8 -10 -17 -19M340 485q4 1 9 1M339 498q-5 -10 -9 -20M341 502q-7 -17 -13 -34M342 494q-9 -9 -18 -17M345 488q-12 -4 -22 -10M344 493q-14 -9 -27 -17M337 497q-8 -14 -11 -30M339 490q-9 -8 -18 -17M324 483q1 6 -2 11M351 483q-13 -12 -31 -16M339 495q-13 -13 -25 -26M347 484q-12 -12 -26 -21M332 490q-7 -9 -13 -20M323 481q2 6 -1 11M332 473q8 0 15 2M344 483q-8 -13 -18 -25M339 469q8 1 16 3M328 493q-6 -15 -8 -30M335 469q6 -4 13 -1M340 483q-14 -9 -25 -20M331 471q5 -0 9 3M341 480q-17 -3 -32 -10M321 479q-3 7 -4 14M333 472q6 4 13 4M325 495q-6 -17 -15 -31M329 466q6 1 12 1M336 479q-5 -12 -15 -20M330 470q7 -0 14 2M335 480q-6 -13 -15 -24M322 488q-8 -12 -10 -25M328 480q-3 -12 -12 -21M330 462q8 4 17 4M330 478q-11 -6 -20 -15M329 478q-13 -4 -20 -16" stroke="rgb(123, 46, 186)"/>
<path d="M305 469q13 2 25 6M305 462q18 -1 35 5M305 469q16 3 31 6M307 463q16 7 32 11M323 466q-0 -7 -4 -14M312 462q13 6 23 16M310 465q14 7 27 17M329 461q-4 -4 -5 -10M317 462q12 3 25 6M311 466q15 7 29 16M317 458q12 12 23 26M324 479q-5 6 -12 7M311 472q18 0 36 1M320 461q11 11 23 20M326 477q-6 1 -10 6M315 468q16 6 34 7M318 472q14 0 27 5M323 463q12 6 25 10M320 472q15 0 29 4M318 483q17 -2 31 -11M315 484q17 2 35 1M324 469q12 8 26 15M336 471q-1 -5 -6 -9M322 471q17 3 34 5M322 476q13 11 29 18M340 483q-6 5 -13 8M329 471q10 8 22 10M326 479q14 1 27 4M331 475q11 1 22 6M343 472q-1 -6 -4 -11M326 482q16 1 33 1M342 471q-2 -8 -6 -15M326 480q16 6 34 8M344 483q-4 1 -8 3M334 469q13 7 23 17M336 471q12 2 24 4M346 485q-7 2 -14 5M333 477q14 2 29 2M330 483q18 -4 36 -2M343 486q-4 4 -7 8M338 482q11 4 19 13" stroke="rgb(134, 44, 176)"/>
<path d="M338 471q12 9 26 15M339 483q12 4 23 7M335 479q17 6 34 9M356 476q-4 -4 -6 -8M342 478q13 -2 25 -5M352 473q-5 -5 -9 -10M349 487q-5 5 -11 8M344 477q11 2 21 6M357 476q-3 -3 -6 -6M356 488q-5 1 -8 5M340 480q15 2 30 6M359 477q-5 -6 -12 -10M344 478q13 2 27 2M353 491q-6 5 -11 12M342 484q15 7 31 9M355 487q-6 4 -12 8M345 473q15 1 30 3M350 478q11 -2 22 -4M345 488q17 4 32 -5M348 489q14 -2 27 0M348 484q14 5 29 6M365 477q-6 -5 -11 -11M350 482q15 1 29 -5M365 476q-4 -2 -7 -5M366 490q-4 4 -8 9M353 475q12 8 25 14M353 485q13 -5 28 -4M353 482q15 -1 31 0M355 480q14 7 29 6M366 487q-4 4 -7 9M357 487q14 -4 27 -8M359 487q12 -2 25 -3M358 484q15 -1 29 -6M361 483q12 3 25 -1M376 476q-5 -6 -11 -12M361 490q14 0 28 -1M360 470q14 -5 28 2M379 486q-6 5 -8 12M366 487q10 -5 22 -6M361 487q18 -2 35 -7M377 489q-5 6 -9 13M367 482q11 -2 22 -6M378 487q-6 4 -7 10M368 484q12 -2 24 -6M364 481q17 -0 33 -6M376 472q-6 -1 -11 -5" stroke="rgb(145, 42, 164)"/>
<path d="M368 484q15 0 30 -2M380 476q-6 -4 -13 -8M368 484q13 -10 27 -16M379 476q-5 -5 -13 -4M369 481q16 -1 32 3M372 492q15 -7 29 -17M374 485q13 -6 28 -6M388 486q-3 3 -3 8M375 485q13 -5 24 -13M371 483q18 -2 34 -10M375 479q14 -0 27 -6M386 474q-6 -5 -13 -8M378 480q12 -4 23 -9M392 473q-7 -5 -15 -6M376 482q16 -6 30 -14M390 472q-4 -2 -8 -5M395 486q-3 6 -5 13M382 488q12 -4 24 -10M383 478q11 -0 22 -3M379 474q14 -3 28 -5M382 482q14 -5 29 -11M393 468q-2 -5 -8 -7M379 475q17 -4 32 -11M397 480q-5 7 -7 15M378 472q17 -5 35 -6M395 471q-5 0 -9 -2M384 470q14 -1 27 5M403 480q-5 5 -4 12M388 475q12 -2 24 -3M388 467q12 5 24 9M386 476q16 1 30 -7M389 477q12 -9 27 -12M402 467q-5 -2 -7 -6M389 474q15 2 31 -1M388 477q16 -8 31 -17M393 484q15 -7 28 -16M407 480q-3 4 -6 9M398 486q10 -10 21 -20M397 480q11 -7 25 -8M394 478q17 -3 30 -14M409 467q-6 -3 -13 -3M411 476q-1 4 -3 8M400 479q12 -2 23 -9M413 479q-4 6 -7 13M398 470q13 -2 25 -0M406 466q-5 -1 -9 -3" stroke="rgb(156, 40, 151)"/>
<path d="M401 478q13 -2 27 -2M395 473q17 -6 35 -9M410 468q-6 -1 -11 -3M398 462q14 -1 27 -3M400 474q15 -7 31 -10M412 465q-5 -3 -9 -8M407 478q12 -2 23 -5M415 465q-7 -4 -14 -8M406 474q11 -6 23 -11M420 477q-6 6 -8 14M405 476q15 1 30 -3M409 474q12 -2 23 -8M419 460q-8 -2 -16 -4M406 472q14 -7 28 -14M408 476q14 -5 28 -13M424 472q-2 4 -4 7M409 465q13 -2 25 -5M411 464q12 -2 24 -1M410 472q15 -7 31 -9M427 461q-3 -3 -7 -7M423 471q-2 6 -6 11M412 475q15 -5 28 -12M426 472q-4 6 -9 12M414 464q13 -0 26 2M428 461q-3 -3 -7 -6M411 463q17 -1 34 -2M432 473q-9 3 -11 13M417 469q13 -1 25 -2M414 470q16 -5 32 -8M419 468q13 -1 25 -2M420 468q12 -3 25 -4M420 464q14 4 28 1M424 468q11 -0 22 1M419 464q17 -3 34 -0M436 471q-5 4 -10 9M423 461q14 6 28 10M423 463q16 3 31 7M423 467q16 8 33 9M437 460q-4 -5 -7 -10M428 463q13 0 25 2M438 462q-3 -4 -5 -8M427 452q15 9 32 11M429 472q13 2 26 3" stroke="rgb(168, 38, 139)"/>
<path d="M430 460q11 13 27 18M432 462q13 5 26 5M442 475q-5 4 -12 7M435 465q11 2 21 7M434 461q14 4 28 5M432 464q16 5 31 11M433 466q15 6 31 9M452 464q-3 -4 -4 -9M435 460q17 7 30 19M446 473q-4 2 -9 4M440 464q11 4 22 7M436 466q17 -0 31 9M458 461q-1 -7 -5 -12M435 475q15 -1 30 4M455 473q-5 3 -10 6M444 464q10 7 21 11M442 462q12 11 25 21M443 474q11 2 22 2M452 476q-3 6 -10 6M444 463q11 11 25 20M446 469q12 5 23 10M463 469q-1 -6 -0 -12M444 467q16 3 32 7M442 468q15 9 30 19M462 470q-1 -5 -3 -9M451 461q12 11 22 23M452 460q13 12 22 26M451 463q8 15 22 25M451 468q12 9 25 17M459 460q6 14 15 27M449 471q15 8 28 18M465 479q-7 1 -14 3M458 467q11 8 20 18M458 464q6 17 14 33M463 480q-6 1 -11 3M464 465q10 8 15 20M463 483q-4 1 -9 2M456 468q8 15 23 25M456 474q10 10 18 21M452 477q10 11 22 20M464 488q-8 -2 -16 -4" stroke="rgb(179, 36, 127)"/>
<path d="M459 476q11 7 20 15M460 470q12 13 26 23M468 473q7 10 15 18M457 481q12 5 23 13M479 482q5 -7 4 -16M470 472q6 12 14 22M479 482q-1 -7 2 -12M465 474q11 11 23 23M478 485q2 -4 4 -8M469 476q9 10 21 17M471 475q9 11 19 21M469 490q-5 -1 -9 -3M465 479q12 10 18 24M471 474q18 7 23 27M472 492q-3 -3 -8 -4M470 482q4 11 10 21M467 484q6 10 13 20M465 484q8 11 13 23M472 493q-5 -2 -8 -5M467 482q13 11 24 25M492 480q0 13 1 26M473 486q1 11 1 23M476 484q-0 14 1 28M483 483q-9 14 -8 31M479 487q1 13 -1 26M482 486q1 16 -6 31M488 503q2 -4 6 -7M471 488q10 14 18 29M484 488q-2 16 -7 31M485 504q4 -2 7 -6M474 491q5 13 2 26M480 493q-2 12 -5 24M482 490q2 17 1 34M485 505q5 -6 12 -11M482 492q-5 16 -10 32M475 494q-0 14 1 28M479 499q-3 11 -4 22M487 502q-5 10 -11 21M482 511q4 -7 12 -10M474 511q-3 -3 -4 -8" stroke="rgb(189, 34, 115)"/>
<path d="M487 501q-8 11 -10 24M486 498q-10 15 -11 32M484 504q-5 11 -9 21M486 503q-3 15 -10 28M469 499q0 13 -3 26M481 504q-3 14 -11 26M485 509q-8 10 -12 23M471 509q6 10 9 21M467 518q-3 -6 -4 -13M485 508q-10 14 -14 31M479 509q-6 12 -12 23M481 511q-9 10 -15 23M491 519q-17 6 -33 13M482 511q-15 9 -22 24M485 519q-15 3 -29 11M474 528q5 0 11 2M469 519q1 -6 2 -12M480 520q-9 7 -20 11M480 522q-10 6 -21 9M466 521q-0 -4 1 -8M484 521q-18 2 -35 9M479 519q-10 11 -20 21M471 509q-11 8 -21 18M464 531q8 1 15 6M474 519q-11 5 -22 11M464 532q8 1 16 3M465 520q2 -5 3 -10M478 524q-15 0 -28 9M474 522q-12 7 -21 16M476 532q-13 2 -25 2M465 534q4 1 8 4M477 524q-16 7 -33 12M476 532q-17 0 -33 -4M473 525q-15 7 -31 5M474 528q-15 6 -30 10M464 536q5 2 10 4M470 526q-11 10 -25 16M463 535q8 1 14 6M468 529q-13 1 -22 10M455 527q1 -4 3 -8" stroke="rgb(198, 33, 104)"/>
<path d="M466 526q-11 3 -23 6M456 541q7 4 13 9M458 526q2 -4 5 -8M468 523q-14 7 -28 12M464 524q-11 7 -22 13M467 528q-15 7 -29 17M467 535q-16 -1 -31 3M462 531q-12 2 -25 4M461 532q-12 6 -25 9M447 539q7 3 14 7M464 531q-17 -3 -33 2M451 541q5 6 13 9M457 525q-9 9 -21 14M448 538q3 3 7 4M462 526q-18 4 -35 7M445 526q2 -4 4 -8M458 532q-14 3 -28 2M443 537q3 7 10 10M454 527q-10 9 -22 14M444 529q2 -9 9 -13M459 539q-17 -2 -34 -2M455 539q-16 3 -29 -8M455 531q-15 5 -30 6M440 530q7 -5 13 -10M454 531q-16 5 -29 15M448 530q-10 6 -21 8M435 529q5 -3 8 -8M452 531q-16 3 -30 11M437 530q3 -4 7 -7M448 537q-12 -1 -25 1M450 531q-15 4 -30 10M445 536q-12 -2 -25 -3M448 535q-16 -1 -32 -2M430 531q5 -7 7 -15M443 536q-13 -4 -25 -9M428 540q5 6 13 6M442 533q-11 3 -23 4M444 538q-15 -2 -29 -4M431 531q7 -3 13 -8M445 536q-17 -2 -34 -5M427 531q6 -6 9 -13M440 529q-14 1 -27 2M439 540q-14 -4 -28 -5M440 536q-16 -5 -32 -2M438 533q-14 1 -29 4" stroke="rgb(207, 31, 94)"/>
<path d="M437 540q-15 -3 -30 -1M421 544q5 6 10 12M425 528q4 -3 9 -5M432 540q-11 -4 -22 -6M419 528q6 -3 12 -8M432 540q-13 -3 -23 -10M418 540q4 3 5 9M435 532q-16 2 -31 -2M436 532q-17 -1 -35 -3M431 540q-17 2 -30 -10M413 541q3 3 6 6M419 529q5 -3 10 -7M428 538q-12 -7 -24 -14M431 539q-17 -6 -34 -10M411 540q5 6 9 13M427 538q-14 -8 -26 -20M409 537q5 3 6 8M416 527q4 -2 7 -5M424 540q-11 -9 -23 -17M426 536q-15 -2 -31 -0M412 540q3 4 3 10M425 535q-14 -5 -29 -5M425 534q-15 -3 -30 -6M418 538q-9 -7 -19 -15M406 537q1 8 5 15M421 540q-14 -7 -30 -5M422 532q-15 -6 -30 -9M416 530q-11 1 -22 4M417 535q-15 4 -30 3M411 543q-10 -6 -20 -12M400 535q3 7 4 15M418 536q-17 -2 -34 -7M404 526q6 -5 14 -6M413 540q-13 -8 -27 -13M396 535q8 6 4 14M412 544q-15 -8 -28 -20M410 534q-12 -2 -24 -6M408 544q-14 -6 -27 -15M411 536q-17 -0 -34 -3M398 522q8 1 14 -3M410 529q-12 -7 -25 -11M399 526q8 -3 16 -3M405 539q-10 -12 -21 -25M395 533q0 7 7 10M405 528q-11 -4 -22 -7M396 522q4 -2 7 -5M405 537q-11 -13 -24 -23" stroke="rgb(216, 30, 83)"/>
<path d="M402 532q-9 -9 -22 -10M408 528q-12 -13 -27 -20M399 539q-12 -10 -21 -23M398 534q-9 -9 -19 -16M405 524q-17 -5 -34 -1M397 531q-12 -4 -25 -7M385 528q6 5 7 14M397 529q-14 0 -26 -6M386 526q2 5 5 10M390 520q8 -3 16 -1M398 527q-13 -4 -27 -6M398 528q-13 -9 -27 -14M397 530q-12 -12 -27 -20M394 530q-12 -9 -23 -19M391 534q-12 -10 -23 -22M388 529q-12 -6 -16 -18M384 514q5 -2 11 -0M394 524q-10 -12 -23 -20M373 524q0 4 0 8M393 519q-12 -6 -25 -9M390 525q-14 -5 -26 -14M375 522q5 4 5 11M377 514q5 -2 9 -4M391 527q-17 -6 -32 -15M374 522q1 5 2 10M388 524q-12 -10 -28 -10M386 526q-11 -11 -21 -23M378 512q6 -1 12 -1M387 520q-9 -10 -21 -17M370 519q1 4 4 7M381 510q7 -2 13 -1M383 520q-9 -7 -19 -13M385 522q-13 -8 -25 -17M376 529q-10 -8 -20 -16M376 527q-9 -9 -19 -17M385 514q-13 -5 -26 -10M383 516q-10 -9 -20 -20M373 523q-12 -3 -23 -7M365 517q-0 7 3 14M377 520q-15 -3 -25 -14M367 514q-3 7 -2 15M370 507q5 -5 12 -3M378 513q-11 -5 -21 -12M361 514q-2 5 -0 10" stroke="rgb(225, 28, 72)"/>
<path d="M377 522q-12 -12 -24 -25M360 513q0 4 2 8M375 513q-10 -6 -21 -11M364 505q6 2 12 -1M375 519q-11 -12 -24 -22M374 513q-13 -4 -24 -11M360 512q3 5 2 10M369 514q-5 -10 -12 -19M370 514q-11 -5 -20 -14M355 512q2 8 0 17M364 500q8 -4 16 -5M375 510q-14 -8 -30 -13M364 497q5 -2 9 -3M368 514q-9 -10 -20 -18M370 515q-14 -8 -27 -18M368 508q-8 -8 -18 -12M350 511q1 4 2 9M371 511q-14 -9 -26 -20M360 515q-3 -14 -8 -26M360 513q-5 -11 -12 -21M361 516q-12 -11 -21 -24M357 497q7 -4 15 -4M365 512q-12 -12 -23 -26M358 508q-7 -9 -12 -19M351 504q-1 6 -1 13M364 507q-14 -8 -30 -14M349 501q-1 5 1 10M359 506q-7 -10 -16 -19M362 503q-11 -7 -21 -16M346 500q2 6 2 12M358 506q-9 -10 -19 -20M360 500q-8 -11 -22 -13M361 498q-11 -6 -22 -12M355 503q-8 -11 -14 -23M339 495q1 7 -3 13M356 504q-11 -11 -20 -24M352 505q-14 -7 -28 -14M347 487q6 3 13 1M351 501q-11 -5 -21 -13M352 484q4 -1 9 -1M349 500q-7 -9 -17 -15M339 491q0 5 2 10M351 498q-5 -11 -13 -21M346 483q8 -1 16 -0M351 501q-10 -12 -17 -26" stroke="rgb(230, 27, 65)"/>
<path d="M352 495q-9 -9 -19 -17M338 491q-3 6 -3 13M341 501q-4 -11 -11 -20M354 497q-10 -15 -21 -29M347 495q-8 -9 -15 -19M335 486q-1 6 -3 12M342 501q-5 -15 -10 -30M348 494q-15 -6 -27 -17M345 491q-3 -12 -12 -20M348 494q-13 -11 -28 -20M339 497q-2 -16 -9 -30M339 476q7 0 13 4M335 494q-2 -12 -6 -23M329 486q-3 5 -3 12M345 486q-9 -8 -18 -15M339 489q-4 -11 -7 -23M329 484q1 6 1 11M342 491q-12 -12 -17 -29M327 485q-2 5 -2 11M344 482q-13 -3 -24 -11M338 486q-8 -9 -17 -17M338 485q-6 -11 -12 -22M330 474q-2 5 -2 10M340 481q-12 -4 -23 -10M336 484q-10 -9 -12 -22M324 480q-1 6 -2 12M338 487q-9 -15 -20 -29M334 486q-7 -14 -15 -27M335 485q-9 -14 -21 -26M326 471q-2 4 -3 8M334 478q-8 -8 -16 -16M335 482q-15 -8 -24 -22M325 485q-2 -16 -2 -33M330 465q4 2 9 3M333 477q-5 -11 -11 -23M329 479q-10 -10 -13 -23M336 474q-12 -9 -25 -17M322 468q-2 8 -3 16M330 474q-8 -9 -17 -18M338 467q-12 -5 -24 -11" stroke="rgb(234, 25, 59)"/>
<path d="M334 471q-8 -11 -19 -19M324 475q-5 -12 -12 -23M329 472q-4 -14 -11 -26M326 472q-5 -13 -14 -23M329 466q-8 -8 -17 -15M324 458q5 1 10 0M328 468q-4 -13 -8 -25M322 454q5 2 10 2M315 472q0 -14 2 -28M327 470q-14 -10 -21 -26M324 469q0 -17 -8 -32M325 463q-9 -8 -17 -18M315 455q-1 8 -3 16M324 466q-3 -16 -9 -31M323 463q-9 -10 -15 -21M320 463q-6 -12 -11 -24M314 467q-0 -16 -0 -32M325 463q-11 -14 -22 -28M318 462q-2 -14 -9 -27M324 457q-7 -11 -12 -23M319 459q-6 -13 -11 -26M317 444q4 3 9 5M316 458q-3 -14 -2 -27M314 455q-1 -11 -4 -22M321 458q-0 -18 -13 -31M320 437q4 6 10 6M314 454q-6 -12 -11 -24M320 441q6 2 13 4M306 454q1 -15 8 -27M307 444q-6 6 -11 12M319 439q5 1 7 5M316 455q-6 -15 -10 -30M320 449q-6 -10 -9 -22M310 453q3 -16 1 -32M312 449q1 -14 2 -27M318 446q-6 -11 -7 -23M307 435q-2 4 -5 7M316 450q-4 -16 -2 -32" stroke="rgb(239, 24, 52)"/>
<path d="M314 445q1 -12 5 -24M311 444q3 -12 4 -24M301 445q11 -14 19 -30M307 430q-4 2 -6 6M312 445q-3 -16 -5 -33M310 443q1 -15 4 -29M305 429q-7 4 -12 10M311 442q-4 -16 -9 -32M316 429q4 6 7 13M308 439q7 -12 12 -24M311 440q9 -13 17 -27M313 437q-3 -13 -1 -25M308 420q-6 5 -14 5M310 437q3 -14 4 -29M304 422q-6 3 -12 6M317 422q2 6 3 12M296 432q12 -11 21 -24M306 432q-2 -14 1 -27M315 434q5 -12 6 -25M316 434q1 -14 7 -26M320 421q2 5 5 10M305 426q11 -7 21 -17M307 428q5 -13 13 -25M310 426q8 -9 14 -19M311 415q-6 4 -14 6M300 423q11 -13 25 -24M310 423q10 -7 17 -15M313 413q-6 5 -13 4M311 424q8 -11 16 -21M321 416q2 5 3 10M314 430q7 -16 19 -27M306 422q10 -13 24 -23M312 421q8 -11 18 -21M318 409q-6 0 -11 -1M313 424q7 -15 19 -26M317 406q-6 4 -13 2M312 415q8 -8 18 -14M319 420q7 -10 10 -22M312 419q10 -12 22 -22M315 415q6 -11 14 -20M317 415q10 -7 16 -17" stroke="rgb(244, 23, 45)"/>
</g>
<g clip-path="url(#k11)">
<path d="M611 377q-12 7 -23 16M611 401q7 6 16 3M610 380q-1 15 -4 30M619 387q-7 13 -13 26M608 379q-6 13 -14 24M607 379q-11 6 -21 14M620 392q-11 9 -22 17M613 389q-14 2 -27 4M613 382q-12 13 -24 26M614 389q-10 9 -23 14M596 387q-0 -8 2 -15M613 389q-7 12 -17 21M615 387q-12 13 -27 22M610 389q-13 4 -21 16M610 389q-7 12 -14 24M606 405q6 1 12 0M592 394q0 -8 -3 -15M606 382q-12 12 -26 21M594 391q-1 -7 -3 -14M598 383q-10 6 -17 16M606 408q6 0 11 1M608 391q-7 12 -14 24M609 392q-6 13 -17 21M606 390q-9 11 -18 21M611 392q-14 10 -29 19M603 405q9 -1 16 -5M603 393q-11 7 -13 19M602 404q7 0 13 -1M600 391q-7 9 -13 19M606 411q6 1 12 1M588 397q-1 -7 -2 -15M593 383q-5 15 -6 30M596 385q-2 17 -11 32M597 388q-9 12 -18 25M605 396q-8 11 -16 23M602 407q6 -2 12 -1M614 398q-5 18 -19 30M603 394q-13 9 -24 22M609 403q-11 6 -17 17M584 401q-1 -5 0 -9M605 403q-5 10 -15 16M604 395q-12 13 -18 29M590 387q-7 17 -18 31M595 398q-4 11 -7 22M587 394q-8 9 -15 18M588 391q-5 15 -7 31M582 406q1 -9 -3 -17M594 394q-0 18 -4 36M583 408q1 -5 -1 -10M605 407q-8 9 -18 16M584 411q-0 -8 -5 -15M598 400q-9 14 -22 23M595 397q-8 15 -16 29M581 407q-1 -4 -2 -8M601 401q-13 12 -24 25M585 399q-2 13 -4 26M606 405q-13 11 -21 26M591 404q-5 12 -6 24M576 411q-2 -6 -4 -11M585 398q-1 17 -10 32M595 407q-2 13 -2 26M579 402q-3 12 -11 22M588 403q-0 16 1 31M595 408q-3 13 -9 26M586 402q2 18 2 36M583 401q-2 18 -11 34" stroke="rgb(46, 77, 237)"/>
<path d="M599 412q-5 11 -8 23M597 414q-9 9 -17 18M596 427q6 -5 12 -11M580 408q-8 11 -13 24M576 423q-5 -3 -6 -9M595 414q-2 12 -8 22M594 411q-5 14 -12 27M578 405q-5 17 -7 35M587 412q-4 13 -9 26M593 415q-7 12 -16 23M594 431q3 -8 11 -11M579 413q-1 13 -4 25M593 428q3 -4 7 -5M591 415q-8 12 -16 25M592 414q-3 15 -7 30M581 415q-1 14 1 27M593 428q7 -1 10 -8M601 417q-8 14 -12 30M588 417q3 14 4 29M586 417q0 15 4 30M591 417q-4 16 -8 31M590 421q2 13 -1 26M595 423q-8 10 -12 22M592 436q4 -2 6 -6M592 420q-9 14 -15 29M578 420q5 14 -2 27M576 420q4 15 4 30M574 434q-4 -8 -12 -12M581 422q-1 15 -10 27M592 421q-8 17 -5 35M587 423q2 16 -8 29M581 427q-2 11 -4 22M590 437q5 -2 9 -7M582 427q-3 12 -7 23M583 424q9 16 5 33M596 434q-11 9 -23 15M590 438q5 -2 10 -6M579 426q7 15 6 32M586 425q6 17 4 34M576 425q6 17 2 35M594 445q2 -7 8 -10M572 430q4 14 4 28M590 428q-8 15 -14 32M573 431q7 14 11 30M576 435q-4 11 -5 22M591 448q6 -6 11 -12M576 435q3 12 4 25M573 450q-4 -8 -12 -12M581 432q-1 16 -1 31M558 435q-1 16 6 31M567 439q9 10 9 23M578 438q-1 13 3 25M594 445q4 -6 6 -13M579 437q3 14 2 28M574 452q-7 -5 -12 -11M582 434q-2 17 6 33M596 433q-0 16 -1 32M578 437q7 15 12 30M582 441q10 9 14 22M596 439q-5 12 -7 25M596 451q1 -6 5 -11M574 444q6 12 9 25M588 440q9 11 10 25M569 445q2 15 8 29" stroke="rgb(49, 75, 235)"/>
<path d="M580 443q1 15 1 30M574 458q-5 -2 -8 -6M575 448q4 11 10 22M592 445q-3 11 -5 22M572 445q5 17 16 30M578 459q-6 -1 -12 -3M587 446q5 11 8 22M580 449q8 10 13 22M594 459q3 -8 4 -16M573 451q5 13 14 24M581 445q0 18 11 33M571 455q-0 13 7 24M585 451q1 12 4 23M578 470q-6 -4 -12 -7M581 451q11 10 15 24M575 454q10 11 12 26M585 449q9 13 15 28M577 453q1 16 7 32M582 456q4 11 11 22M586 455q4 12 4 25M593 448q7 14 17 26M591 453q6 12 15 22M586 457q-0 13 5 25M587 454q10 12 21 23M583 473q-5 -2 -9 -4M586 456q9 12 17 24M601 451q-1 15 -1 30M593 451q3 18 10 34M586 477q-4 -2 -9 -2M587 461q4 12 11 22M578 465q9 10 18 20M586 478q-7 -2 -12 -6M579 467q6 11 11 21M590 456q9 14 18 28M583 460q5 17 14 32M585 480q-6 1 -12 -2M593 461q2 13 9 24M585 464q8 13 13 27M604 471q2 -7 5 -14M593 464q6 9 10 20M589 479q-5 -1 -11 -3M568 478q10 10 23 16M582 467q8 14 15 28M593 462q8 14 13 29M590 464q1 17 6 33M606 476q1 -6 3 -11M582 469q9 14 19 26M583 474q4 12 10 23M604 477q3 -6 3 -12M587 471q8 12 13 25M590 466q13 12 26 24M606 476q0 -6 3 -11M589 472q7 12 11 25M591 475q8 8 18 14M586 476q7 12 19 19M591 476q6 9 15 17M589 470q9 15 21 28M591 490q-7 -2 -12 -5M592 473q5 14 14 26M606 481q4 -7 5 -14M589 473q13 12 20 27M597 474q9 8 16 18M592 495q-7 -0 -14 -4M582 483q14 8 28 15M586 480q12 9 21 21" stroke="rgb(52, 73, 233)"/>
<path d="M585 479q18 9 22 28M595 494q-4 -3 -8 -3M598 472q5 16 11 32M595 475q11 12 19 26M595 476q9 13 19 26M594 494q-7 -1 -13 -2M607 469q7 14 16 25M613 483q-1 -6 -0 -12M592 481q11 12 26 18M600 479q7 11 15 20M610 489q2 -8 2 -16M593 485q11 8 21 17M596 482q12 8 20 20M597 482q8 12 13 26M614 489q1 -4 -1 -9M594 491q12 3 23 8M597 486q8 10 15 20M609 475q5 15 10 31M589 495q13 4 22 14M597 484q10 13 19 28M593 490q11 11 23 21M602 502q-7 -1 -13 -5M601 483q11 12 20 26M603 485q14 7 25 17M603 507q-8 -2 -17 0M609 481q8 11 15 23M602 501q-7 2 -13 -0M605 483q0 18 9 34M602 490q15 4 28 11M602 493q8 8 13 19M604 487q8 14 20 25M602 489q13 10 27 20M609 488q7 11 13 22M603 510q-5 -1 -10 -3M596 497q9 12 14 27M606 495q10 6 19 13M600 499q10 8 20 15M622 501q2 -4 2 -9M606 489q8 16 20 28M608 491q8 13 17 25M598 497q9 14 20 28M605 513q-8 -1 -15 -4M611 490q11 12 19 26M606 494q9 13 18 27M605 501q7 11 19 17M604 500q8 12 13 25M607 502q8 8 16 16M627 501q0 -4 1 -9M600 502q12 13 28 22M608 500q11 10 23 17M607 500q7 14 16 27M609 500q7 14 16 26M613 497q13 9 22 22M614 514q-5 -2 -9 1M603 505q13 10 28 18M628 506q1 -5 3 -10M611 505q9 7 17 17M598 511q17 6 33 14M612 506q6 11 9 23M611 503q12 12 24 22M615 520q-6 -5 -15 -5M613 502q14 9 25 22M612 506q8 12 18 22M617 524q-5 1 -9 0M622 497q12 11 22 24" stroke="rgb(55, 70, 231)"/>
<path d="M606 515q4 12 11 22M612 512q5 11 9 22M617 509q10 7 20 14M624 500q11 12 19 25M611 510q9 13 21 23M627 499q6 17 7 35M623 509q5 10 10 20M622 508q7 12 18 20M632 517q2 -6 5 -11M624 507q5 14 5 29M610 516q9 13 24 20M620 512q11 9 17 21M626 508q7 13 10 26M618 509q7 17 18 31M621 515q6 11 15 20M618 512q12 13 22 27M616 522q8 10 9 23M615 523q13 3 22 12M625 512q8 13 16 27M625 532q-7 -3 -15 -2M622 513q12 12 20 27M613 521q6 16 20 28M622 515q11 13 20 27M622 515q8 16 21 30M633 514q7 10 14 20M628 521q4 11 9 21M625 538q-5 1 -9 -0M627 521q8 9 15 19M636 514q9 10 14 21M629 519q10 10 18 22M620 522q11 13 22 28M625 540q-5 -2 -10 -1M624 524q12 10 19 24M627 523q6 13 18 22M636 518q9 10 12 24M629 521q15 8 31 16M634 539q-8 -2 -15 -4M633 518q8 15 13 31M627 530q9 7 16 17M634 521q15 7 30 13M637 522q6 12 11 25M620 534q8 14 18 26M630 525q14 10 22 25M634 527q7 11 16 21M628 533q10 9 21 17M632 528q11 11 23 20M634 548q-8 -4 -16 -3M629 535q12 7 21 16M630 535q10 9 22 15M630 538q10 7 23 11M641 529q7 10 14 20M635 529q9 13 22 23M632 540q10 6 18 15M633 534q14 7 27 17" stroke="rgb(57, 68, 229)"/>
<path d="M637 536q6 11 12 21M651 538q-3 -5 -2 -11M634 534q13 11 27 19M650 523q4 14 12 27M639 538q10 5 19 11M641 532q14 6 26 16M644 534q6 11 11 23M655 539q-0 -7 -0 -15M652 529q2 13 4 25M626 551q14 6 27 13M639 541q4 13 16 20M645 538q10 7 17 16M643 538q10 9 20 18M635 547q10 11 15 25M654 526q13 9 20 24M632 551q6 14 13 28M635 547q17 2 32 12M661 546q-2 -8 -4 -16M639 546q7 13 19 22M632 551q12 13 31 16M650 538q5 13 16 23M650 560q-4 3 -9 0M645 549q11 3 21 7M649 540q8 12 22 19M641 550q11 9 21 18M634 560q12 7 18 20M641 556q10 6 20 12M665 550q-3 -8 -2 -16M656 540q9 8 18 16M654 563q-6 0 -11 2M646 550q10 10 18 21M661 550q-1 -6 -0 -13M650 565q-5 0 -9 -2M651 541q6 17 20 28M646 550q16 4 29 13M651 549q7 10 16 19M649 545q14 12 19 30M648 553q15 1 25 12M665 549q-3 -7 -4 -15M653 565q-8 1 -16 1M642 563q11 7 24 10M643 558q13 9 28 14M655 543q11 14 22 28M641 564q8 13 21 20M648 555q17 5 34 9M672 554q2 -7 2 -14M653 552q11 11 25 18M650 561q12 6 25 9M654 558q11 5 21 12M665 545q8 9 16 19M659 568q-4 -0 -9 -0M663 548q8 11 16 20M652 559q11 10 23 19M658 552q6 15 14 29M657 556q16 2 31 8M659 576q-5 1 -10 1M658 559q11 6 21 14M666 547q6 15 19 24M657 559q10 11 20 22M654 559q16 8 29 20M663 558q10 8 17 19M654 567q13 6 25 13M661 578q-8 2 -15 1" stroke="rgb(60, 66, 228)"/>
<path d="M663 553q13 12 21 28M664 577q-9 2 -17 -2M657 563q9 14 18 27M665 559q11 7 17 18M657 566q16 5 30 12M672 577q-5 1 -9 -1M657 566q10 15 17 31M670 559q8 8 15 17M662 559q13 13 25 25M662 564q17 3 33 9M646 556q10 1 20 3M655 565q-3 4 -8 6M660 570q14 8 30 9M648 555q8 6 17 9M667 566q12 6 23 12M658 577q14 1 25 11M648 558q10 2 20 2M667 572q11 4 22 4M650 555q6 9 16 14M654 567q-8 1 -15 3M668 562q10 12 21 24M677 558q11 6 18 16M650 555q11 2 21 7M670 569q7 9 17 16M672 580q-5 1 -9 2M650 557q10 6 21 11M659 580q15 4 29 9M676 563q7 11 17 18M647 562q13 2 26 4M660 555q-4 -4 -6 -9M659 569q-4 2 -9 3M667 576q7 10 19 14M652 558q12 3 21 10M674 562q14 8 27 15M689 568q-2 -6 -3 -12M668 572q14 6 24 18M690 568q-1 -5 -1 -11M651 558q13 6 24 13M668 557q-4 -6 -8 -13M676 567q9 9 17 19M654 560q10 3 19 9M672 572q14 1 27 7M669 573q15 7 25 20M688 571q1 -7 0 -15M657 560q9 2 18 4M663 569q-4 3 -8 3M676 572q9 7 18 15M658 554q9 7 18 13M670 579q12 5 23 10M655 565q13 2 23 9M667 575q-7 2 -13 5M686 561q11 7 20 16M679 590q-7 2 -12 -2M676 574q10 6 20 13M656 567q12 -2 24 -1M675 571q12 11 23 22M658 561q10 10 21 18M667 587q13 2 23 10M694 574q-0 -6 -1 -11M678 571q10 12 23 20M659 570q11 -2 23 -4M675 572q13 11 26 23M661 565q9 6 19 8M674 580q11 8 23 14M684 564q14 10 28 22M686 590q-8 -2 -16 -1M663 552q11 9 23 18M675 579q14 6 24 17M661 564q11 8 24 9M686 571q6 12 13 24M695 578q-2 -7 1 -15M680 580q8 9 18 15M668 554q7 7 17 11M677 583q8 9 17 17M663 558q14 5 28 8M675 582q10 12 25 19M689 593q-8 2 -16 4M665 562q13 1 25 2M677 561q-5 -4 -7 -11M680 586q12 0 21 7M683 577q14 6 27 14M702 579q0 -4 -1 -8M670 559q9 4 18 8M675 572q-4 3 -8 6M692 573q6 12 10 24M668 565q12 0 24 -2M676 563q-3 -6 -6 -12M692 572q13 5 22 16M685 581q8 10 20 17M668 568q11 5 23 3M681 556q-5 -5 -7 -11M670 596q13 5 26 12M671 571q9 -3 19 -2M684 571q-6 4 -11 10M677 589q10 11 24 15M688 598q-7 -3 -14 -2M693 576q13 7 17 20M670 570q12 1 23 4M684 573q-6 2 -10 6M694 573q10 11 19 23M672 558q13 2 24 9M696 573q13 10 29 12M684 583q5 17 17 29M672 566q13 0 26 -1M682 572q-3 3 -6 6" stroke="rgb(63, 64, 226)"/>
<path d="M676 596q13 6 25 12M674 565q12 1 24 5M688 580q14 10 27 21M679 563q9 4 17 10M684 593q12 3 19 13M697 580q7 11 12 23M678 565q10 -3 20 -2M690 574q-6 5 -14 8M688 584q14 10 22 25M709 584q0 -6 -0 -12M676 567q13 2 25 6M687 589q8 12 18 22M683 596q16 1 32 5M677 571q13 -1 26 -2M689 585q13 11 26 24M677 567q14 -1 28 -2M689 573q-2 5 -6 8M696 587q9 7 18 15M693 590q13 6 27 9M683 566q10 0 19 3M693 561q-2 -5 -6 -8M696 573q-4 2 -4 7M689 588q12 12 23 26M683 561q11 1 20 5M690 591q13 8 23 19M696 587q11 10 19 22M685 572q11 -0 21 -2M683 597q12 12 21 26M681 566q13 -6 28 -5M697 563q-6 -5 -11 -11M698 576q-2 7 -5 14M686 599q13 8 26 14M687 575q12 -0 24 -1M693 561q-6 -2 -11 -7M695 592q10 9 17 21M712 594q2 -4 2 -9M688 603q9 7 18 15M699 607q-6 -1 -13 -2M684 570q14 -3 26 -9M703 572q-6 3 -10 10M707 582q5 16 7 33M686 570q13 -2 26 -2M688 601q12 9 16 23M717 598q3 -8 5 -16M690 600q12 8 23 18M691 578q9 -10 20 -19M693 598q10 10 22 19M686 563q14 2 28 1M703 560q-8 -1 -12 -9M704 588q9 13 19 25M709 584q7 16 10 34M691 564q9 -3 19 -3M700 590q14 11 24 26M686 555q14 2 29 2M697 599q8 12 14 24M715 582q9 12 18 24M692 565q12 0 25 1M702 559q-4 -2 -8 -4M701 597q3 16 11 29M691 566q15 4 29 -3M691 564q14 -4 28 -9M705 570q-2 4 -5 7M696 563q11 3 21 -0M695 569q14 -5 26 -13M709 558q-5 -4 -11 -5M701 567q8 -6 18 -7M698 568q14 -1 27 -4M702 562q9 3 18 2M713 569q-3 5 -7 10M703 561q9 3 18 -1M701 564q12 -4 25 -5M709 570q6 -8 11 -17M705 569q12 -4 23 -12M713 554q-5 -1 -8 -5M709 568q9 -3 19 -3M717 556q-3 -3 -7 -4M709 568q10 -5 21 -7M719 556q-6 -5 -11 -10M707 555q11 1 21 2M708 565q12 -6 25 -7M709 563q12 -3 25 -2" stroke="rgb(66, 62, 224)"/>
<path d="M712 567q12 -5 21 -14M708 558q14 -2 27 -5M714 568q13 -3 23 -12M720 553q-4 -1 -7 -5M710 556q13 -2 27 -3M718 564q10 1 19 -4M717 556q10 4 21 4M728 565q-2 5 -5 10M716 564q13 -5 25 -14M730 560q-4 5 -5 11M722 565q8 -7 18 -10M721 562q10 -5 20 -8M721 561q11 -3 22 -6M722 563q6 -12 19 -16M731 558q-0 5 -3 10M718 555q15 1 29 -2M720 551q12 1 24 -3M721 621q-10 -13 -21 -26M707 609q-2 8 -4 16M721 599q6 1 11 1M726 617q-9 -16 -21 -29M719 618q-2 -16 -14 -27M716 618q-7 -12 -15 -24M705 612q1 4 0 8M712 620q-3 -14 -12 -26M703 612q-1 4 -2 8M713 621q-15 -11 -16 -29M717 610q-7 -10 -14 -19M713 620q-10 -14 -22 -27M712 597q4 1 8 2M712 612q-8 -10 -12 -21M708 615q-4 -13 -8 -26M722 604q-6 -13 -17 -23M698 605q-2 6 -1 13M719 607q-15 -12 -34 -12M718 603q-11 -8 -24 -13M707 613q-5 -14 -14 -26M707 614q-6 -15 -15 -29M712 609q-15 -8 -26 -22M704 615q-8 -15 -20 -27M712 601q-10 -9 -23 -13M693 598q-1 8 -4 16" stroke="rgb(69, 60, 221)"/>
<path d="M703 610q-2 -17 -7 -33M704 607q-7 -11 -16 -21M703 588q7 1 14 5M707 602q-11 -8 -22 -16M704 586q6 -1 12 1M702 603q-6 -10 -10 -21M706 588q7 3 14 4M706 598q-9 -7 -13 -18M691 597q-1 6 -3 12M702 600q-9 -8 -16 -17M705 601q-8 -13 -20 -23M712 592q-13 -10 -29 -11M698 601q-6 -11 -11 -23M710 589q-7 -11 -12 -23M710 589q-13 -6 -23 -15M700 595q-9 -9 -14 -20M687 588q-2 6 -2 12M700 597q-8 -13 -15 -25M705 592q-10 -12 -20 -22M698 582q6 -3 14 -3M703 590q-11 -10 -25 -14M696 599q-6 -16 -15 -31M685 586q-1 4 -2 8M710 584q-16 -6 -28 -17M702 586q-12 -5 -22 -12M693 575q7 -1 13 0M695 594q-9 -13 -13 -29M693 592q-9 -10 -15 -22M698 586q-11 -9 -21 -18M686 594q-7 -11 -11 -23M691 587q-6 -10 -16 -16M691 571q6 5 13 4M692 586q-7 -10 -12 -20M682 578q-1 5 -3 10M692 591q-6 -17 -12 -33M700 581q-15 -8 -32 -14M676 582q-1 6 -2 11M694 584q-9 -12 -22 -20M681 574q0 7 -2 14M695 579q-1 -13 -7 -25M688 588q5 -19 -6 -35M698 581q-15 -10 -24 -25M675 573q-0 7 -3 13" stroke="rgb(80, 57, 214)"/>
<path d="M688 579q-7 -9 -16 -16M687 585q-6 -15 -15 -29M687 583q-7 -14 -17 -26M691 578q-11 -10 -16 -24M679 587q-6 -16 -13 -32M683 576q-5 -10 -9 -20M696 573q-8 -16 -25 -22M672 567q-2 5 -0 9M688 578q-9 -16 -12 -33M699 567q-13 -10 -29 -16M673 565q-1 7 -2 13M682 579q-6 -16 -16 -31M670 570q-1 6 -1 12M687 569q-8 -9 -15 -19M676 579q-3 -16 -8 -32M671 564q-4 8 -5 16M676 576q-7 -13 -14 -26M668 569q-2 7 -4 14M681 571q-13 -7 -22 -19M673 576q-12 -10 -22 -22M678 558q7 2 15 1M679 574q-12 -15 -12 -34M674 574q-4 -15 -12 -29M684 568q-12 -13 -13 -31M664 562q-3 4 -4 9M679 551q6 4 14 5M688 562q-14 -6 -25 -17M664 555q-4 5 -3 11M676 551q6 1 11 4M673 567q-4 -13 -15 -19M675 563q-9 -7 -16 -16M663 557q-2 7 -2 15M674 566q-8 -14 -21 -22M659 560q-3 5 -5 11M679 547q7 1 14 4M673 569q1 -18 -6 -35M670 564q-2 -13 -5 -26M690 558q-12 -11 -23 -24M667 565q7 -16 1 -32M660 551q-2 4 -2 8M665 563q-5 -14 -5 -28M674 556q-9 -8 -13 -19M674 560q-6 -15 -16 -28M660 546q-2 4 -6 6M673 544q8 3 14 8M671 560q-5 -15 -4 -31" stroke="rgb(90, 54, 207)"/>
<path d="M671 558q-8 -13 -14 -27M675 546q5 -1 8 3M670 558q-2 -16 -5 -32M664 557q-5 -14 -6 -29M675 554q-10 -12 -17 -27M668 551q-3 -11 -5 -23M676 552q-13 -12 -21 -27M660 549q-1 -11 3 -22M671 548q3 -12 -2 -23M665 549q-5 -12 -6 -26M668 551q3 -17 7 -33M658 534q-4 6 -9 11M662 547q5 -14 10 -27M664 546q-0 -13 1 -26M670 549q-1 -17 -7 -34M667 542q4 -11 6 -23M665 546q2 -17 -2 -33M663 546q4 -17 7 -34M665 542q5 -15 14 -28M659 525q-4 6 -11 9M667 543q1 -17 -3 -33M674 524q3 3 7 6M656 538q-1 -14 8 -25M671 535q-6 -10 -8 -21M667 541q6 -17 8 -35M666 536q3 -13 2 -26M658 531q4 -11 14 -18M666 533q1 -13 -5 -25M659 519q-7 4 -10 11M665 532q3 -12 2 -25M671 530q-4 -11 -5 -23M670 531q3 -12 5 -24M664 533q-2 -18 -0 -35M666 531q3 -15 6 -30M661 512q-3 3 -6 5M673 529q-3 -13 2 -26" stroke="rgb(101, 52, 200)"/>
<path d="M666 527q-0 -14 2 -28M657 526q8 -13 13 -28M674 513q2 4 4 7M660 525q8 -14 15 -28M674 514q-0 6 3 12M671 527q4 -14 6 -29M661 524q9 -13 12 -29M669 520q8 -8 14 -17M662 524q4 -17 7 -35M660 507q-9 -1 -15 7M675 523q-2 -15 -4 -30M670 520q2 -14 2 -29M657 518q6 -17 18 -29M658 517q11 -14 23 -26M664 515q7 -13 12 -26M678 506q3 8 4 16M665 515q6 -13 12 -27M669 517q9 -12 15 -27M679 507q-1 7 2 14M669 515q9 -12 11 -27M668 510q6 -11 14 -20M671 511q8 -8 14 -19M672 511q6 -11 12 -22M672 511q10 -10 13 -24M668 494q-5 0 -10 1M665 507q9 -12 16 -24M668 507q9 -11 16 -24M669 503q0 -12 5 -23M681 499q2 4 4 9M668 501q11 -6 21 -14M673 491q-6 1 -12 3M673 511q6 -17 12 -33M676 507q8 -12 20 -18M687 496q-1 7 -1 14M666 498q11 -9 24 -14M676 487q-6 3 -12 2M665 493q8 -8 14 -17M683 494q0 6 0 12M674 504q10 -11 18 -24M676 487q-7 1 -15 1M672 498q8 -10 19 -16M675 499q6 -11 15 -20" stroke="rgb(112, 49, 193)"/>
<path d="M682 506q6 -14 11 -29M679 502q11 -8 23 -16M689 492q-2 5 -1 10M670 493q6 -14 19 -23M682 502q8 -12 14 -25M673 496q13 -9 25 -21M673 491q9 -11 16 -23M675 491q10 -10 23 -16M669 489q11 -14 24 -26M690 486q-3 7 -3 14M679 494q13 -8 23 -18M681 493q10 -10 15 -23M682 474q-7 1 -14 2M685 491q5 -10 11 -19M687 493q11 -1 22 -7M685 476q-6 0 -12 2M683 490q12 -3 24 -9M696 485q1 7 1 13M680 492q12 -13 28 -20M688 490q9 -7 15 -17M678 483q16 -5 31 -12M687 471q-5 -0 -9 -1M678 476q12 -5 24 -9M693 471q-8 1 -16 -1M700 484q-3 5 -4 10M680 481q15 -4 27 -14M698 483q-2 6 -3 12M685 482q10 -8 20 -15M687 484q12 -4 24 -8M690 486q9 -9 17 -19M689 483q8 -10 17 -18M693 468q-6 -1 -11 -5M688 481q12 -5 23 -12M684 477q16 -1 30 -8M691 484q10 -11 22 -20M689 477q13 -5 25 -11M692 487q13 -10 30 -12M695 482q10 -8 20 -16M695 477q11 -4 21 -10M693 474q12 -4 24 -8" stroke="rgb(123, 46, 186)"/>
<path d="M696 476q12 -3 24 -2M693 471q14 -1 27 -6M696 471q12 -1 24 -1M702 461q-8 -3 -13 -10M708 479q-2 6 -5 11M693 473q13 -12 29 -20M697 466q12 3 25 4M693 472q17 -6 34 -11M698 482q16 -5 33 -6M707 461q-4 -1 -8 -3M702 473q11 -4 21 -7M706 480q8 -8 18 -13M713 473q-1 4 -4 7M699 471q16 -1 32 -5M718 476q-4 4 -8 9M700 473q15 -5 31 -10M707 475q11 -3 22 -7M705 462q13 2 25 4M704 474q15 -4 30 -8M703 466q16 2 33 1M710 469q11 3 22 5M709 471q13 2 25 -1M718 458q-5 -2 -6 -8M723 474q-4 6 -8 11M709 463q13 0 27 1M711 461q13 1 26 4M727 476q-4 4 -8 9M712 463q13 -0 25 1M724 459q-6 -4 -10 -9M728 473q-6 3 -11 8M708 470q17 4 35 6M715 464q12 4 24 7M714 465q14 3 28 4M716 472q13 -2 26 -5M728 473q-7 2 -12 7M712 473q17 -2 34 -4M715 460q17 5 34 3M716 466q16 -5 33 -3M717 466q14 8 30 11M738 461q-3 -6 -8 -10M726 455q9 6 17 13M721 460q16 2 30 10M736 460q-8 -4 -12 -11" stroke="rgb(134, 44, 176)"/>
<path d="M722 471q14 0 27 -2M726 463q10 7 21 12M731 482q-5 2 -8 6M726 467q11 5 22 8M724 468q15 -0 29 3M726 462q14 8 29 12M725 470q15 -2 30 0M729 468q12 2 23 6M729 470q12 3 25 6M726 469q15 8 31 13M735 457q10 15 19 30M747 463q-3 -8 -4 -16M730 462q15 8 32 14M732 475q13 4 25 -0M734 463q16 0 30 8M748 478q-6 2 -11 4M737 468q10 7 22 12M745 479q-4 1 -8 2M742 450q12 10 23 21M742 483q-4 3 -8 6M738 472q12 -0 23 6M738 476q10 6 22 6M752 469q-3 -5 -4 -10M740 470q13 1 27 2M738 479q12 2 22 8M742 471q12 6 19 18M740 475q15 0 29 1M739 469q16 7 34 9M753 457q8 7 17 13M739 474q16 8 30 18M741 472q17 6 33 13M748 463q13 9 25 20M758 469q-2 -6 -6 -11M758 482q-3 4 -8 5M740 481q17 3 34 4M743 474q18 2 34 11M752 466q14 2 25 12M769 468q-1 -6 -4 -11M759 484q-7 0 -14 4M748 475q15 3 29 7" stroke="rgb(145, 42, 164)"/>
<path d="M753 468q9 11 24 15M759 484q-8 5 -16 3M752 476q12 4 23 12M750 479q13 6 26 9M762 464q6 11 17 18M767 472q-2 -6 -3 -11M762 466q10 4 20 10M752 480q13 9 23 21M776 473q-1 -7 -5 -13M760 473q9 10 17 21M765 468q8 8 18 15M764 470q10 7 19 15M755 480q13 9 25 19M771 460q9 15 14 33M765 476q9 8 19 14M762 478q10 11 21 20M777 480q-1 -6 -3 -12M763 473q13 13 30 17M764 475q11 12 23 23M765 479q14 4 23 14M771 472q11 13 14 29M773 495q-6 -2 -12 -1M769 480q11 6 23 11M772 498q-8 0 -16 -1M763 480q13 11 28 21M781 484q-1 -6 0 -12M768 479q9 12 20 23M768 481q3 15 15 24M785 485q5 -6 6 -14M766 481q12 11 18 27M772 477q14 11 23 26M767 486q5 12 14 22M782 479q4 11 10 22M778 484q2 12 5 24M776 484q10 9 19 20M771 491q10 5 17 15M789 489q4 -4 6 -11M771 490q4 11 8 23M789 496q1 -6 2 -13M781 487q1 11 4 22M779 501q-3 -5 -9 -6" stroke="rgb(156, 40, 151)"/>
<path d="M781 485q6 13 14 25M778 490q8 10 15 20M788 487q4 11 5 23M779 500q-6 -4 -12 -9M783 488q0 15 6 28M778 504q-5 -3 -11 -4M781 488q6 14 11 28M792 502q3 -5 5 -10M786 489q2 14 2 28M790 490q2 13 1 26M769 495q10 13 9 29M791 492q3 13 10 24M782 493q-2 16 5 30M796 505q4 -4 5 -10M780 509q-7 -1 -14 -5M776 497q9 12 13 26M781 508q-7 -4 -14 -5M791 494q-5 15 -5 31M783 500q-1 12 -2 23M782 509q-2 -4 -6 -6M788 499q-4 12 -3 25M793 498q-2 14 -6 28M785 503q6 11 16 20M796 515q2 -6 5 -11M792 496q-1 18 -0 35M801 509q5 -2 8 -6M796 499q4 16 -4 31M788 503q-0 12 1 25M787 502q-2 15 -1 31M780 503q3 14 3 28M795 518q2 -6 8 -7M784 515q-5 -4 -7 -9M787 502q1 17 -1 34M802 510q-3 12 -9 22M798 509q-11 10 -12 25M797 518q4 -3 9 -6M783 504q3 17 7 34M786 506q3 16 5 33M784 508q-6 13 -9 27M792 513q-3 12 -7 23M798 516q-3 12 -8 23M790 514q-2 15 4 29M796 529q8 -0 15 -3" stroke="rgb(168, 38, 139)"/>
<path d="M793 512q-3 17 -3 34M787 512q-0 15 -4 30M784 516q2 12 -2 24M790 518q-9 9 -17 19M791 531q5 0 9 -1M789 518q-4 13 -10 25M781 528q-1 -4 -1 -8M787 519q-4 12 -9 23M786 520q-3 12 -10 21M781 532q-0 -5 -1 -10M793 518q-4 19 -20 29M781 526q-2 -6 -3 -12M787 525q-4 12 0 25M790 518q-7 16 -18 31M790 521q-12 10 -23 20M792 523q-15 9 -22 26M796 530q-16 5 -33 10M775 532q2 -4 6 -7M798 535q-18 -2 -34 -9M791 540q-11 -5 -20 -11M788 540q-11 -5 -23 -6M772 542q1 5 1 9M781 548q-10 -8 -20 -15M786 547q-8 -14 -20 -26M789 541q-12 -7 -20 -18M780 549q-8 -15 -13 -31M780 548q-5 -15 -15 -28M785 538q-3 -11 -8 -22M783 529q5 4 11 5M776 544q-10 -9 -20 -18M791 536q-15 -6 -25 -19M779 526q4 2 9 2M778 539q-2 -12 -6 -24M770 543q-1 -14 0 -29M768 532q-1 5 -1 11M784 538q-10 -16 -8 -34M779 521q6 -1 11 -1M788 530q-11 -7 -22 -15M780 537q-7 -14 -19 -24M767 525q-4 8 -5 16M778 535q-10 -8 -17 -20" stroke="rgb(179, 36, 127)"/>
<path d="M782 534q-16 -5 -25 -20M783 529q-12 -9 -22 -19M784 528q-14 -8 -28 -17M766 525q3 5 3 10M772 517q8 -1 15 -1M779 534q-14 -11 -26 -22M772 514q5 5 11 2M770 540q-7 -13 -16 -23M763 526q2 6 4 12M771 513q6 -4 13 -6M778 527q-15 -6 -31 -3M783 519q-17 -4 -33 -6M763 527q2 5 5 9M774 536q-13 -9 -25 -18M778 523q-12 -12 -28 -17M775 520q-13 -2 -27 -1M777 526q-17 -0 -34 -3M756 526q1 6 4 11M776 524q-17 0 -33 1M774 502q-13 8 -28 15M774 520q-16 -2 -32 -4M768 524q-10 -8 -22 -14M753 511q3 -5 6 -9M773 514q-17 -5 -35 -0M771 521q-16 3 -32 -1M770 513q-17 3 -32 12M752 507q3 -8 9 -13M769 521q-15 -9 -32 -10M755 525q3 4 7 7M767 509q-16 5 -31 13M756 528q3 3 6 6M764 519q-14 -2 -27 -6M767 531q-16 -8 -33 -12M764 516q-15 -0 -31 0M759 521q-11 -4 -22 -4M764 516q-18 -3 -35 -8M758 502q-13 8 -26 15M749 526q5 4 11 7M760 522q-15 2 -30 6M746 526q2 5 6 8M756 517q-12 -2 -24 -5M761 530q-17 -1 -33 3M758 520q-16 -6 -33 -6M746 525q3 3 7 4M744 513q2 -4 6 -7" stroke="rgb(189, 34, 115)"/>
<path d="M755 528q-13 -3 -26 -4M744 527q5 3 10 5M752 516q-13 4 -25 11M752 516q-13 1 -26 4M756 524q-18 2 -36 3M738 528q3 3 7 4M748 510q-9 10 -23 8M747 518q-12 1 -23 6M749 520q-13 3 -26 7M746 511q-13 2 -26 4M745 522q-11 -0 -22 3M746 519q-14 -5 -29 -2M732 527q6 3 12 6M742 517q-12 0 -24 1M731 512q3 -3 5 -7M744 516q-15 5 -27 15M741 520q-10 8 -22 14M726 512q7 -3 7 -11M739 518q-12 -1 -23 0M743 528q-15 -6 -31 -7M736 518q-11 -6 -22 -1M740 517q-15 3 -31 5M725 514q-0 -9 7 -14M735 520q-10 4 -21 9M725 511q6 -3 8 -10M736 507q-16 4 -29 13M718 517q2 -5 4 -10M733 520q-11 3 -21 7M725 528q4 2 7 4M735 531q-12 -9 -26 -6M734 511q-16 4 -32 10M723 531q5 3 8 8M732 513q-15 2 -29 6M733 530q-13 -1 -27 2M718 533q3 3 6 6M734 521q-18 -3 -34 4M726 516q-11 0 -22 3M728 510q-15 7 -30 8M715 529q4 5 9 9M730 535q-13 1 -25 5M723 507q-13 5 -24 12M722 518q-10 8 -19 17" stroke="rgb(198, 33, 104)"/>
<path d="M721 541q-8 -16 -15 -32M719 534q-12 -7 -22 -16M711 537q0 -13 3 -27M702 535q3 -11 9 -22M719 518q4 2 7 4M719 532q1 -14 5 -27M726 535q-5 -17 -14 -33M721 533q-9 -13 -18 -26M700 522q-5 4 -9 11M716 534q-7 -13 -9 -28M713 534q-3 -15 -9 -29M710 534q9 -16 5 -33M721 529q-1 -15 -3 -29M700 536q-4 -15 -13 -27M714 532q-2 -16 -2 -33M720 529q1 -16 -2 -31M712 526q-5 -11 -3 -23M713 529q-0 -16 -6 -30M710 525q-4 -11 -10 -20M709 531q-5 -17 -10 -33M698 518q-4 6 -8 13M722 525q-8 -16 -22 -27M708 530q-9 -15 -13 -32M715 522q-3 -12 -6 -25M697 525q-4 -11 -6 -22M702 526q-6 -13 -8 -27M709 522q-1 -14 -1 -27M697 509q-3 6 -4 13M717 507q8 0 14 5M708 523q-13 -11 -14 -28M693 526q-6 -15 -8 -31M698 512q-4 5 -9 10M714 519q-4 -13 -8 -26M695 524q-1 -16 3 -31M710 521q-1 -16 -3 -32M720 502q1 5 6 7M706 518q0 -13 -0 -27M713 519q-2 -16 -8 -31M699 502q-3 6 -8 9M713 514q-13 -9 -24 -20M700 519q-1 -16 -1 -33M703 514q3 -12 5 -24M711 514q-4 -13 -3 -27M716 517q-8 -16 -7 -34M717 496q2 8 9 11M711 516q-7 -16 -13 -32M705 516q2 -18 -0 -35M700 513q3 -16 6 -31" stroke="rgb(207, 31, 94)"/>
<path d="M711 513q-4 -15 -3 -31M697 495q-6 4 -11 9M708 508q-3 -12 -9 -23M716 510q-1 -14 -5 -27M714 499q4 6 6 13M702 508q4 -12 5 -25M715 509q-7 -13 -8 -28M716 507q-1 -12 2 -23M719 495q5 4 7 10M716 507q-6 -15 -15 -28M705 502q-2 -11 -6 -22M715 511q3 -18 7 -35M703 503q1 -13 9 -24M715 489q3 4 4 8M696 502q7 -13 15 -25M715 506q3 -15 1 -31M710 507q4 -17 13 -33M706 501q2 -13 5 -26M700 483q-4 2 -8 6M692 498q5 -13 11 -26M717 501q-1 -13 -3 -27M710 504q4 -17 6 -34M711 502q6 -15 7 -31M700 482q-3 3 -7 5M703 501q0 -17 4 -35M716 487q3 5 8 9M708 494q1 -12 -4 -22M712 497q-2 -14 -1 -28M702 496q3 -15 12 -28M710 497q1 -15 1 -31M710 495q3 -13 4 -27M701 490q3 -11 7 -21M698 489q4 -12 6 -24M719 482q5 6 9 13M701 488q1 -11 3 -23M708 495q-7 -17 -0 -35M705 490q6 -12 7 -26M714 490q10 -10 11 -24M697 491q6 -16 6 -34M719 480q3 6 5 12M716 488q4 -11 4 -23M717 489q1 -13 2 -27M711 487q0 -14 -1 -28M719 475q6 5 11 10M704 486q4 -14 3 -29M702 489q6 -17 13 -34M702 474q-3 3 -6 7M700 483q11 -11 16 -25M701 471q-4 5 -9 10M719 470q4 5 9 10M701 484q-2 -16 -4 -32" stroke="rgb(216, 30, 83)"/>
<path d="M702 484q2 -15 6 -30M703 471q-3 6 -9 10M729 486q1 -14 -2 -28M698 480q7 -13 9 -27M694 480q5 -16 17 -28M721 468q2 5 5 8M713 480q0 -13 6 -26M710 482q3 -16 11 -30M714 482q7 -15 9 -31M724 480q4 -14 -0 -28M720 481q-0 -17 -6 -33M709 478q-1 -15 -4 -31M704 474q7 -11 11 -23M725 476q1 -12 1 -24M709 477q5 -16 13 -30M698 460q-6 4 -10 8M706 473q5 -13 8 -27M710 470q-4 -12 2 -22M714 477q2 -17 9 -34M719 475q-3 -16 -5 -33M720 472q-0 -14 -1 -27M699 467q6 -11 10 -22M723 455q4 6 10 10M723 469q-5 -12 -3 -24M726 456q4 5 9 9M704 468q3 -14 4 -28M699 464q0 -13 10 -21M706 466q7 -13 16 -25M726 469q1 -14 6 -27M718 469q9 -14 11 -31M704 466q12 -12 17 -28M711 466q7 -14 11 -30M731 469q-4 -18 -11 -34M702 449q-3 5 -9 5M713 466q-4 -17 -7 -35M724 450q4 6 5 12M709 460q4 -12 8 -24M717 461q4 -12 6 -24M710 460q-5 -13 -2 -27M710 460q-0 -14 5 -27M707 458q6 -12 10 -25M722 447q5 5 11 9M723 461q-3 -14 -2 -29M718 459q-1 -15 -4 -29M724 460q-0 -15 2 -29M705 443q-4 2 -7 4M715 460q2 -17 0 -33" stroke="rgb(225, 28, 72)"/>
<path d="M700 455q4 -15 2 -30M713 453q3 -11 5 -22M706 442q-3 4 -7 7M715 454q7 -11 7 -24M706 453q9 -13 18 -26M711 452q1 -13 1 -27M724 439q3 4 7 8M700 449q5 -13 10 -25M719 448q-4 -11 -7 -21M715 449q7 -11 12 -22M723 435q6 3 10 9M709 451q-1 -16 7 -30M707 435q-4 3 -9 4M706 449q10 -13 15 -28M725 438q0 4 3 8M724 453q-3 -17 -3 -34M702 445q7 -11 8 -24M703 447q3 -15 4 -30M718 447q9 -14 2 -28M709 443q2 -12 5 -23M714 448q5 -18 -3 -35M709 441q6 -11 11 -21M740 449q-1 -15 2 -30M707 440q5 -12 12 -23M709 424q-4 7 -10 11M724 427q2 5 7 8M711 443q2 -15 5 -30M711 443q0 -16 3 -32M709 426q-9 -2 -13 6M723 445q3 -17 0 -34M722 444q-2 -17 -2 -34M710 441q-1 -16 1 -32M725 423q3 3 4 7M728 440q-2 -14 0 -28M716 442q5 -17 10 -34M728 425q3 6 5 13M723 440q-9 -15 -7 -33M710 420q-4 2 -8 5M705 438q11 -14 15 -32M726 438q2 -15 -1 -29M707 422q-3 3 -5 7M715 437q1 -16 8 -31M710 418q-4 1 -7 5M717 438q3 -18 3 -36M709 423q-4 4 -7 8M728 436q-4 -16 -9 -32M727 437q-3 -18 -10 -34M727 437q6 -17 7 -35M719 429q2 -11 2 -23M708 418q-6 3 -13 5M720 435q-1 -18 2 -36M727 415q2 6 5 12M727 433q5 -15 1 -31M710 413q-5 5 -11 9M714 428q8 -11 14 -25M723 429q3 -14 9 -27" stroke="rgb(230, 27, 65)"/>
<path d="M722 429q0 -14 5 -28M719 424q-1 -12 -4 -23M725 425q3 -11 2 -22M705 408q-6 6 -15 6M718 428q-1 -17 4 -33M705 425q5 -17 14 -32M729 414q2 7 6 13M698 421q13 -12 25 -25M706 420q0 -14 4 -26M730 426q-4 -15 -8 -31M719 423q-2 -15 1 -29M729 411q4 5 9 10M723 422q2 -14 1 -27M707 416q8 -10 15 -22M713 405q-7 3 -13 6M718 422q9 -14 17 -28M726 420q6 -11 13 -21M711 414q5 -11 9 -22M726 419q1 -13 6 -25M712 402q-3 2 -7 3M719 420q4 -17 3 -34M728 421q4 -16 1 -32M721 417q12 -11 13 -27M720 411q8 -10 19 -15M725 419q9 -14 18 -27M717 412q6 -15 21 -22M721 417q8 -16 15 -32M718 395q-4 1 -8 3M735 404q2 8 7 13M704 404q12 -7 21 -18M716 396q-5 5 -11 7M729 416q3 -14 7 -28M718 414q4 -18 15 -32M708 402q12 -8 26 -14M722 411q10 -12 14 -26M735 403q0 5 0 10M714 406q9 -13 21 -23M735 400q1 7 5 14M726 408q5 -13 3 -26M719 389q-5 -1 -8 2M734 397q2 5 4 9M733 414q6 -13 11 -27M735 395q4 5 6 11M702 396q7 -14 17 -26M729 411q3 -14 9 -28M731 407q3 -11 6 -22M718 387q-4 0 -8 1M734 394q2 5 3 9M722 402q5 -11 11 -21M724 407q-0 -18 8 -34M721 387q-7 3 -13 6M727 406q11 -9 20 -19M723 400q6 -11 14 -20M722 399q6 -11 13 -22" stroke="rgb(234, 25, 59)"/>
<path d="M719 396q8 -10 15 -21M728 401q7 -10 16 -18M737 397q1 5 -1 10M722 399q4 -14 15 -24M724 400q1 -17 12 -30M727 397q9 -9 21 -11M736 405q8 -9 13 -21M722 390q8 -9 18 -13M727 397q10 -9 19 -18M730 403q11 -12 22 -24M727 395q9 -11 12 -25M720 392q11 -12 24 -24M726 394q9 -11 18 -23M729 376q-4 0 -8 -1M729 391q10 -6 21 -11M713 378q12 -8 23 -18M725 387q11 -8 23 -14M723 387q9 -13 18 -26M745 385q-2 5 -0 10M723 384q12 -8 21 -19M737 400q9 -12 14 -25M734 395q12 -7 24 -13M739 400q2 -17 9 -32M725 381q10 -11 20 -21M737 371q-5 -1 -10 -0M735 396q13 -9 22 -22M738 370q-4 -1 -8 -1M731 383q10 -7 20 -13M730 377q12 -6 24 -2M727 381q14 -8 27 -15M729 380q14 -6 27 -13M731 384q13 -8 24 -19M730 383q17 -4 31 -14M745 381q-6 6 -6 15M729 375q16 -0 31 -4M745 367q-5 -3 -11 -4M733 375q9 -7 20 -12M744 366q-7 -3 -14 -7M735 378q10 -7 21 -12M736 386q15 -3 29 -10M734 372q12 -3 25 -6M733 376q12 -11 27 -17M743 387q10 -7 22 -6M731 368q17 -1 33 -1M736 374q15 -4 26 -14M734 376q16 -8 30 -17" stroke="rgb(239, 24, 52)"/>
<path d="M738 375q14 -3 29 -6M736 370q15 -4 31 -7M744 381q10 -6 22 -10M744 380q12 -5 24 -8M748 363q-7 -0 -12 -5M745 378q10 -7 22 -7M738 366q16 0 33 2M752 363q-7 -0 -14 -4M741 372q12 -9 25 -17M743 375q13 -7 25 -16M746 371q9 -7 21 -8M746 381q14 -5 28 -13M752 390q13 -7 26 -15M767 379q0 9 -3 17M746 379q17 -4 30 -15M766 376q-2 5 -5 10M746 373q14 -5 26 -14M747 370q14 -1 27 -6M752 381q14 -0 27 -6M746 372q12 -11 27 -20M756 357q-7 1 -12 -3M756 379q9 -6 19 -12M752 370q11 -5 22 -7M751 375q11 -12 25 -22M751 375q10 -14 27 -19M752 371q16 4 33 4M753 365q11 -4 23 -6M752 370q14 -6 28 -12M762 359q-8 -0 -11 -7M755 369q11 -7 22 -14M754 360q10 -6 20 -11M756 365q10 -7 22 -8M758 373q13 -3 26 -10M778 378q-3 8 -9 13M757 367q14 -4 28 -4M753 356q13 -5 25 -10M757 369q12 -10 26 -16M768 381q6 -12 13 -23M756 358q16 3 31 5M758 367q14 -6 29 -11M763 381q15 -9 32 -15M764 365q10 -7 22 -7M762 370q16 -3 31 -8M763 375q14 -12 32 -12M772 354q-8 2 -15 -4M762 363q14 -5 28 -11" stroke="rgb(244, 23, 45)"/>
</g>
<g clip-path="url(#k12)">
<path d="M939 415q11 10 22 20M935 417q16 7 32 14M939 429q13 -2 25 -4M935 424q16 8 33 14M942 413q14 2 25 10M951 435q-5 5 -12 9M937 429q16 -0 33 0M938 433q16 -7 33 -13M939 437q13 4 27 6M958 419q-3 -3 -7 -6M942 428q13 -1 27 0M954 417q-7 -3 -10 -10M940 426q17 -3 33 2M940 431q16 5 31 11M957 435q-4 3 -7 5M947 428q11 -1 22 -2M959 420q-5 -4 -7 -11M951 417q10 4 19 11M953 438q-8 3 -14 8M950 421q7 12 18 20M951 424q11 6 19 14M945 418q17 -7 35 -5M957 436q-3 2 -7 4M952 421q10 9 19 20M949 431q11 4 22 5M954 427q8 6 15 14M958 422q9 5 17 11" stroke="rgb(46, 77, 237)"/>
<path d="M948 418q14 7 27 14M963 420q-3 -3 -6 -6M951 430q12 6 25 8M949 432q13 5 25 14M948 427q14 -0 28 6M967 420q-4 -4 -8 -8M954 427q13 6 23 18M959 422q12 8 20 19M968 430q-0 -6 1 -13M946 427q17 0 35 1M953 436q12 2 23 7M964 438q-6 4 -14 5M952 429q12 -2 24 -1M956 432q12 6 26 10M961 427q12 6 24 13M952 442q11 -2 22 -3M964 420q-4 -5 -8 -10M960 438q-3 3 -7 5M960 430q9 10 20 18M972 424q4 11 6 22M951 410q17 3 32 12M966 431q7 8 14 16M962 431q12 7 23 16M954 424q13 -2 26 -2M966 414q-4 -8 -12 -10M970 426q7 12 14 24M977 439q0 -5 1 -10M971 443q-8 0 -15 2M955 434q12 1 24 -1M965 434q10 8 14 20M970 430q4 12 12 23M952 432q16 -2 31 -7M965 420q-2 -7 -8 -10M971 434q6 9 12 18M966 436q7 11 17 19M957 430q11 3 23 3M970 433q11 10 14 24M954 437q15 2 30 -0M974 436q8 8 16 15M976 445q-7 0 -13 -0M980 432q8 9 15 18M974 450q-4 -1 -8 -3M959 423q11 -0 23 -1M966 436q-5 4 -10 8M977 437q6 9 11 18M965 442q7 11 16 21M959 427q12 1 23 -0M977 439q3 10 7 21M975 439q-0 14 7 27M985 447q2 -4 5 -8M959 432q12 -7 25 -13M970 419q-4 -4 -8 -8M980 439q4 11 11 21M986 453q2 -5 3 -10M975 453q-7 -1 -13 -4M960 432q13 -4 25 -8M981 438q2 15 4 29" stroke="rgb(49, 75, 235)"/>
<path d="M978 440q6 13 12 25M962 423q11 -3 22 -9M990 439q-2 12 -3 25M975 446q6 11 7 24M962 424q12 -0 23 0M981 446q4 10 6 22M982 443q4 13 8 26M977 464q-4 -1 -8 -2M963 426q12 -1 24 -1M987 446q2 12 -1 24M988 456q2 -4 3 -8M961 441q15 -0 29 -4M987 445q3 13 -0 26M994 458q1 -9 7 -15M988 450q-5 10 -4 21M963 422q14 2 27 5M975 420q-3 -5 -6 -9M985 448q10 9 16 21M975 457q11 5 18 14M992 457q3 -7 4 -14M962 424q15 1 31 -1M978 438q-3 3 -7 6M987 451q6 11 6 24M976 454q9 11 15 24M967 423q11 2 21 9M989 452q2 13 -0 26M962 417q18 2 33 10M990 452q-1 14 -0 28M991 454q5 11 6 24M964 427q16 -3 32 -0M986 459q7 8 10 19M987 456q4 14 9 27M968 434q12 3 22 8M987 459q1 12 2 25M993 456q0 15 5 29M983 474q-3 -3 -7 -6M972 419q10 5 19 12M989 462q1 11 2 23M995 475q3 -4 6 -8M966 429q15 -6 32 -5M985 464q5 10 6 21M973 421q10 5 21 7M968 421q15 9 32 15M982 436q-5 5 -9 9M973 427q12 2 23 6" stroke="rgb(52, 73, 233)"/>
<path d="M969 440q13 -1 27 1M970 426q15 6 31 9M970 433q14 6 29 6M974 428q11 10 22 19M976 414q14 8 27 16M989 436q-5 2 -10 6M972 433q16 0 33 2M977 420q9 15 24 22M975 433q14 3 29 4M977 428q11 10 24 17M978 431q13 4 27 2M979 419q14 10 29 17M977 433q15 -1 31 1M986 444q-4 1 -8 3M986 417q8 11 21 17M980 429q13 8 26 16M980 437q15 1 29 -1" stroke="rgb(55, 70, 231)"/>
<path d="M986 425q13 2 27 -0M978 433q16 8 33 14M980 433q17 4 31 15M998 440q-6 1 -9 6M986 429q15 -4 30 -8M987 427q15 -2 30 -2M998 445q-7 1 -13 5M984 436q16 -3 32 -5M1000 423q-3 -8 -8 -14M990 428q12 4 25 2M994 426q11 -2 23 -4M1000 441q-5 4 -10 7M993 414q16 5 30 14M991 436q11 -2 23 -1M996 425q10 6 19 13M991 425q13 10 28 17M998 446q-6 6 -15 7M990 431q15 5 30 7M988 436q16 4 30 13" stroke="rgb(57, 68, 229)"/>
<path d="M999 427q10 4 21 8M993 438q12 4 25 7M1011 429q-2 -4 -4 -8M1002 445q-6 4 -12 7M993 443q11 6 15 17M998 426q14 7 28 11M1007 444q-8 5 -16 2M994 428q17 6 32 16M999 433q11 6 19 15M1015 432q-1 -5 -2 -10M992 443q14 4 27 10M1007 422q8 9 19 13M999 438q12 4 25 5M1000 439q7 10 17 18M998 442q13 4 27 4M1003 429q13 10 29 10M1008 449q-4 2 -7 4M997 437q17 5 32 14M1008 427q11 7 21 16M1003 429q17 6 32 16" stroke="rgb(60, 66, 228)"/>
<path d="M1008 431q12 7 22 16M1008 438q11 3 22 2M1005 438q10 10 17 24M1005 440q12 6 25 9M1011 431q14 7 21 21M1007 431q19 5 29 22M1001 449q9 10 21 16M1011 434q10 11 23 18M1009 439q11 9 23 19M1029 438q0 -4 -0 -8M1020 428q10 9 19 18M1015 433q7 13 19 24M1020 451q-5 -0 -10 0M1016 437q8 11 13 24M1015 440q9 8 17 18M1023 434q3 12 8 24M1012 448q11 3 20 11" stroke="rgb(63, 64, 226)"/>
<path d="M1009 445q15 5 29 13M1022 433q7 13 17 24M1019 435q10 13 24 22M1018 437q10 13 23 23M1038 443q-1 -5 1 -10M1024 440q11 5 16 15M1022 458q-6 -1 -13 0M1010 449q13 9 26 19M1036 445q1 -8 -2 -15M1013 450q13 5 24 14M1024 455q-7 0 -14 2M1017 446q10 11 13 26M1019 447q9 9 19 18M1021 442q10 13 16 28M1015 455q12 4 25 7M1044 448q0 -5 -1 -9M1027 439q4 17 13 31M1025 442q12 9 22 21M1026 459q-7 2 -14 -1M1017 448q13 11 21 26M1022 451q6 11 10 23" stroke="rgb(66, 62, 224)"/>
<path d="M1020 448q8 15 20 27M1028 466q-7 -3 -15 -5M1030 440q13 12 20 28M1036 442q9 10 15 23M1021 455q10 8 19 17M1030 444q7 16 15 31M1020 453q6 15 20 24M1023 457q5 11 11 21M1030 466q-6 -1 -11 -4M1028 451q6 14 16 25M1034 451q4 12 10 22M1031 468q-6 -1 -12 -0M1032 454q9 8 20 15M1038 447q5 15 4 32M1025 461q11 6 23 11M1031 472q-7 -1 -14 -2M1029 458q8 9 17 16M1047 457q8 -5 7 -15M1021 458q9 16 23 27M1024 457q9 16 24 26" stroke="rgb(69, 60, 221)"/>
<path d="M1030 454q11 13 21 27M1038 453q4 15 6 31M1035 473q-6 -1 -11 0M1032 457q10 11 22 22M1030 459q11 10 22 21M1044 456q6 9 15 16M1025 465q8 14 19 25M1043 455q5 12 16 21M1038 477q-7 -1 -15 -1M1048 456q1 11 4 22M1035 463q10 10 21 18M1040 461q4 13 10 25M1054 464q-1 -4 -0 -8M1041 457q4 16 17 27M1035 467q9 9 15 21M1037 470q10 4 20 9M1037 468q13 7 27 9" stroke="rgb(80, 57, 214)"/>
<path d="M1048 455q8 13 15 27M1040 482q-5 1 -10 1M1033 467q14 10 25 23M1048 457q5 17 9 34M1035 468q16 7 25 23M1043 481q-9 -0 -16 3M1042 461q9 16 23 28M1042 466q9 12 19 23M1037 471q10 13 16 28M1046 467q11 8 20 17M1062 474q-3 -8 -3 -16M1046 467q13 8 19 21M1047 484q-6 -0 -12 -1M1042 469q12 12 27 20M1044 474q9 8 17 18M1061 475q5 -8 4 -17M1043 471q12 11 25 18M1048 487q-8 -1 -16 -2M1043 472q11 11 24 19M1048 475q9 8 19 11M1048 488q-9 -1 -16 4M1041 478q10 9 19 20" stroke="rgb(90, 54, 207)"/>
<path d="M1049 472q12 7 21 16M1049 472q9 12 17 24M1049 470q13 11 27 20M1041 480q15 9 31 15M1051 473q9 11 15 25M1043 478q10 16 27 23M1045 479q12 11 23 23M1056 493q-6 1 -12 3M1043 483q17 4 31 15M1055 495q-5 1 -9 -1M1047 487q13 -0 24 8M1048 480q9 14 22 25M1047 481q18 4 34 12M1059 473q4 15 16 23M1055 483q6 10 14 18M1057 494q-4 -0 -8 -1M1055 480q11 9 21 19M1056 478q8 14 19 25" stroke="rgb(101, 52, 200)"/>
<path d="M1052 485q14 6 25 15M1055 488q11 5 21 11M1050 489q17 2 33 7M1071 489q1 -4 -0 -8M1056 487q7 12 14 24M1061 503q-6 -0 -12 0M1063 475q8 13 22 21M1053 495q10 6 18 15M1066 499q-5 1 -10 0M1054 485q15 9 26 23M1064 484q11 4 21 8M1059 487q13 4 25 13M1065 504q-6 1 -11 3M1064 482q10 10 22 17M1069 480q5 11 15 17M1065 488q12 1 24 5M1063 490q8 10 19 15M1061 498q11 3 23 4M1060 489q16 7 28 19" stroke="rgb(112, 49, 193)"/>
<path d="M1066 486q10 10 21 20M1067 509q-5 0 -11 0M1068 486q9 10 20 18M1065 492q7 12 18 21M1062 501q10 7 21 11M1082 493q-0 -8 -2 -15M1054 510q12 4 24 9M1066 488q13 13 27 24M1068 496q10 6 22 10M1075 490q5 10 13 18M1055 509q15 6 26 17M1076 484q11 10 21 21M1068 501q9 7 17 16M1074 493q11 5 22 12M1071 491q17 8 26 24M1064 503q14 8 30 14" stroke="rgb(123, 46, 186)"/>
<path d="M1073 493q14 7 28 16M1071 499q14 7 23 19M1069 499q9 14 21 27M1076 496q12 7 23 14M1077 495q7 14 14 28M1091 503q-3 -8 -1 -16M1080 497q7 10 18 16M1081 490q11 12 22 24M1088 493q7 10 7 22M1077 502q12 7 21 17M1096 503q-1 -6 -3 -11M1072 507q14 5 26 15M1078 500q13 8 22 20M1094 504q-0 -4 -2 -8M1080 506q9 7 16 16M1077 500q14 10 27 22M1094 503q-1 -6 -1 -12M1074 516q11 4 23 6M1094 507q-1 -5 -3 -9M1085 518q-8 -1 -17 -0M1086 498q11 7 22 15" stroke="rgb(134, 44, 176)"/>
<path d="M1083 498q12 11 25 21M1079 504q16 7 31 16M1082 508q10 8 23 13M1083 506q7 13 18 22M1091 519q-6 -1 -11 1M1082 503q15 8 31 17M1096 508q1 -8 -0 -16M1083 508q14 4 28 11M1084 503q15 9 26 23M1087 501q13 11 23 25M1100 511q-2 -7 -2 -13M1085 509q11 11 24 18M1093 523q-4 2 -9 2M1082 510q9 16 24 26M1082 516q14 6 28 13M1090 508q8 11 18 21M1090 506q7 15 22 23M1080 521q17 5 33 11M1095 507q11 6 23 7" stroke="rgb(145, 42, 164)"/>
<path d="M1092 515q10 5 19 12M1089 510q17 4 31 14M1104 512q-2 -7 -3 -14M1086 522q14 5 29 5M1097 508q10 8 21 14M1095 512q11 9 23 14M1094 512q12 8 24 17M1094 511q9 15 25 22M1097 515q7 10 19 16M1098 518q11 2 23 4M1098 519q11 4 21 9M1105 534q-6 4 -13 4M1099 512q8 13 17 26M1097 520q14 1 26 8M1112 517q-7 -6 -7 -15M1108 532q-6 3 -12 5M1119 516q-1 14 -3 28M1092 508q6 12 16 22M1103 500q16 4 28 14" stroke="rgb(156, 40, 151)"/>
<path d="M1109 502q8 18 27 21M1085 535q16 -4 29 -15M1112 511q-12 10 -24 20M1090 509q10 10 23 17M1105 500q1 15 -3 30M1109 510q2 15 -9 26M1089 506q14 6 28 13M1107 498q2 14 -1 28M1108 486q4 15 4 30M1087 503q12 -2 24 -4M1096 505q13 6 23 16M1111 486q0 17 2 33M1093 504q12 9 21 20M1102 507q2 14 9 27" stroke="rgb(168, 38, 139)"/>
<path d="M1097 536q13 -6 27 -4M1090 500q13 7 24 15M1099 506q5 11 9 23M1099 505q8 9 16 19M1112 506q6 12 15 22M1090 506q12 8 23 16M1104 495q-5 12 -10 23M1110 498q5 14 5 29M1100 512q6 14 16 26M1095 488q9 17 26 24M1089 488q15 4 31 4M1095 516q17 2 33 7M1121 500q-9 8 -18 17M1118 494q-3 13 -11 24" stroke="rgb(179, 36, 127)"/>
<path d="M1106 494q7 10 15 20M1109 505q2 12 3 25M1113 500q1 13 -3 25M1101 507q-4 12 -9 23M1095 497q8 10 15 20M1107 496q4 14 9 28M1097 510q17 -3 35 -2M1100 522q14 4 28 -1M1112 503q-9 12 -15 27M1131 526q-17 3 -33 8M1098 499q13 8 22 19M1123 523q-11 2 -22 6M1112 495q6 13 17 23M1121 505q-16 7 -31 15M1103 499q2 12 7 23M1125 525q-14 4 -28 9M1097 509q6 12 17 18M1122 520q-14 5 -27 11M1099 495q14 8 23 21M1120 527q-10 6 -19 14" stroke="rgb(189, 34, 115)"/>
<path d="M1096 503q12 13 29 17M1116 519q-11 -0 -23 2M1088 517q9 8 19 16M1121 530q-13 2 -26 6M1111 534q8 1 15 4M1104 496q-5 15 -5 30M1119 522q-15 3 -30 4M1096 506q15 9 29 22M1114 516q-13 2 -23 9M1105 535q7 1 13 4M1096 514q7 11 8 24M1115 525q-11 3 -21 9M1088 520q17 4 29 17M1118 535q-13 0 -25 -1M1100 522q2 -5 5 -11M1107 505q5 17 4 34M1115 525q-12 5 -25 10M1105 534q5 4 10 7M1099 501q9 14 18 27M1114 525q-12 5 -24 9M1102 505q13 6 25 14M1116 532q-9 11 -21 20M1102 535q6 -0 11 2M1097 521q4 -8 7 -15M1101 498q13 9 27 17M1115 523q-15 6 -30 10M1099 536q4 2 8 3M1119 484q-3 19 -18 31M1111 517q-14 8 -29 13M1095 521q3 -5 4 -10M1098 511q12 11 22 24M1113 522q-14 9 -29 17M1097 523q2 -7 7 -13M1132 503q-17 2 -29 13M1116 533q-17 2 -34 1M1108 490q-2 15 -6 29M1108 516q-14 8 -27 18" stroke="rgb(198, 33, 104)"/>
<path d="M1092 524q14 -0 28 -1M1105 524q-10 5 -19 12M1112 524q-17 4 -34 11M1102 515q-13 4 -25 11M1110 531q-14 5 -27 13M1114 537q-18 0 -35 4M1105 533q-12 1 -22 7M1106 530q-14 4 -27 9M1090 525q1 -6 5 -10M1103 528q-12 6 -25 10M1102 528q-13 5 -24 10M1096 517q-12 5 -24 12M1095 517q-12 7 -22 15M1100 526q-10 13 -22 24M1090 543q7 3 14 2M1086 526q1 -7 4 -13M1101 531q-10 11 -24 16M1095 525q-11 5 -21 13" stroke="rgb(207, 31, 94)"/>
<path d="M1102 529q-15 9 -33 13M1097 534q-15 -2 -29 -6M1100 531q-17 4 -34 7M1084 543q6 2 13 5M1093 521q-12 12 -24 24M1088 521q-12 4 -22 11M1097 531q-15 6 -29 15M1096 529q-17 3 -33 10M1095 540q-12 5 -24 11M1098 548q-14 5 -28 1M1080 543q6 -2 12 1M1093 538q-12 6 -25 10M1089 533q-12 5 -25 8M1089 536q-13 1 -25 6M1071 533q-0 -4 1 -8M1086 525q-12 10 -23 22M1071 531q-2 -7 2 -13M1086 531q-14 -0 -28 5" stroke="rgb(216, 30, 83)"/>
<path d="M1088 528q-17 6 -32 13M1085 533q-12 7 -22 16M1085 539q-13 -3 -27 -0M1083 528q-15 2 -31 3M1085 540q-13 5 -25 10M1073 547q6 0 12 3M1083 538q-13 2 -26 5M1085 540q-14 6 -28 11M1081 536q-9 12 -19 23M1084 537q-14 11 -30 17M1071 550q5 2 10 4M1069 537q4 -7 7 -15M1080 544q-10 4 -20 10M1080 539q-13 6 -26 11M1082 540q-14 8 -30 12M1079 535q-15 6 -29 15M1080 541q-15 6 -31 10M1057 533q4 -7 6 -15" stroke="rgb(225, 28, 72)"/>
<path d="M1080 542q-16 5 -32 9M1061 537q3 -4 4 -9M1077 546q-16 -0 -31 -5M1067 552q4 1 7 3M1075 540q-15 2 -29 1M1073 541q-12 5 -24 11M1066 555q7 2 12 7M1073 537q-15 4 -31 3M1075 543q-15 6 -31 9M1070 539q-10 10 -22 16M1074 547q-17 -4 -33 -1M1067 541q-12 -1 -24 -1M1067 530q-12 12 -27 18M1068 536q-14 10 -25 23M1050 539q5 -5 7 -12M1067 536q-12 12 -25 22M1069 550q-13 5 -27 7M1063 533q-13 8 -28 12" stroke="rgb(230, 27, 65)"/>
<path d="M1069 555q-14 -0 -29 1M1055 559q5 3 9 7M1062 535q-12 8 -26 12M1058 531q-8 14 -19 25M1063 552q-12 -0 -24 1M1066 548q-13 11 -27 21M1059 547q-12 4 -18 15M1054 557q8 2 14 7M1061 541q-16 2 -31 8M1058 544q-8 13 -23 15M1056 540q-12 6 -24 13M1049 558q4 2 8 5M1064 552q-16 6 -33 8M1059 548q-14 3 -28 10M1053 544q-10 7 -21 12M1063 557q-16 5 -32 9M1037 545q2 -6 6 -11M1059 553q-17 -4 -35 -1" stroke="rgb(234, 25, 59)"/>
<path d="M1049 545q-11 1 -22 4M1054 553q-13 2 -25 9M1056 551q-16 6 -32 6M1056 559q-14 2 -27 4M1047 546q-10 8 -18 16M1049 543q-14 6 -28 13M1050 559q-12 -3 -23 -0M1034 550q4 -5 3 -11M1051 554q-13 8 -28 9M1045 552q-12 -0 -23 2M1049 547q-16 6 -31 16M1033 548q0 -6 2 -12M1047 559q-11 2 -20 9M1049 552q-16 6 -29 16M1039 564q4 3 7 5M1046 559q-11 6 -20 14M1048 559q-14 5 -27 11" stroke="rgb(239, 24, 52)"/>
<path d="M1040 550q-10 7 -23 10M1046 557q-14 6 -27 13M1046 561q-15 3 -30 3M1040 557q-11 5 -23 6M1042 549q-16 8 -32 17M1035 552q-10 6 -20 11M1039 551q-17 -2 -33 6M1019 551q6 -6 8 -14M1034 547q-9 10 -22 16M1039 556q-13 8 -27 14M1037 555q-15 3 -30 4M1020 553q1 -7 5 -13M1029 545q-11 6 -20 15M1037 559q-15 2 -30 8M1035 550q-16 8 -33 14M1034 561q-11 7 -23 14M1023 570q6 4 11 7" stroke="rgb(244, 23, 45)"/>
</g>
<g clip-path="url(#k13)">
<path d="M1359 461q3 26 9 52M1358 466q8 28 5 56M1356 462q4 27 14 52M1356 462q12 25 13 53M1356 462q12 26 21 54" stroke="rgb(46, 77, 237)"/>
<path d="M1356 462q5 27 16 52M1357 463q2 25 1 50M1358 463q-3 26 9 50M1353 461q17 26 21 57M1358 463q5 29 12 57" stroke="rgb(49, 75, 235)"/>
<path d="M1355 458q12 25 19 53M1357 465q4 30 10 60M1359 464q13 26 19 55M1355 461q5 27 13 53M1356 462q7 28 19 54" stroke="rgb(52, 73, 233)"/>
<path d="M1357 462q8 28 15 57M1356 462q4 26 15 50M1358 463q5 26 7 52M1359 464q6 28 11 57M1356 461q-2 28 7 55" stroke="rgb(55, 70, 231)"/>
<path d="M1356 462q4 30 12 60M1358 464q-2 28 8 54M1353 459q13 24 14 52M1358 465q7 27 16 53M1355 461q11 27 26 53" stroke="rgb(57, 68, 229)"/>
<path d="M1354 466q5 26 16 51M1354 463q4 26 16 49M1356 463q5 26 17 50M1352 457q5 25 16 48M1356 465q6 27 9 54" stroke="rgb(60, 66, 228)"/>
<path d="M1354 464q7 27 21 50M1355 464q6 30 14 60M1356 461q3 32 22 57M1354 462q7 24 16 48M1357 461q7 26 18 50" stroke="rgb(63, 64, 226)"/>
<path d="M1350 463q3 25 3 51M1357 462q6 25 18 47M1355 467q13 26 27 52M1354 464q14 23 25 48M1356 462q7 26 21 50" stroke="rgb(66, 62, 224)"/>
<path d="M1352 465q10 24 17 49M1353 465q19 22 34 48M1354 464q6 31 30 51M1353 461q7 29 17 58M1354 463q10 27 29 48" stroke="rgb(69, 60, 221)"/>
<path d="M1354 464q1 27 18 47M1353 463q9 27 18 54M1353 462q6 29 26 51M1356 466q8 26 23 50M1353 465q18 25 31 53" stroke="rgb(80, 57, 214)"/>
<path d="M1350 459q18 26 28 55M1355 466q3 27 13 52M1356 462q8 25 24 46M1351 465q9 25 25 46M1349 463q21 16 27 43" stroke="rgb(90, 54, 207)"/>
<path d="M1354 465q17 20 27 45M1354 462q9 28 26 51M1351 463q18 22 31 46M1351 464q4 29 28 45M1354 467q20 20 32 46" stroke="rgb(101, 52, 200)"/>
<path d="M1349 463q12 23 23 47M1354 465q20 20 31 46M1355 463q12 26 31 49M1351 465q17 24 28 53M1353 468q17 24 33 49" stroke="rgb(112, 49, 193)"/>
<path d="M1352 464q17 20 35 40M1351 463q10 30 31 53M1349 463q13 23 33 40M1350 467q22 19 30 47M1353 467q12 25 30 47" stroke="rgb(123, 46, 186)"/>
<path d="M1351 463q11 27 32 46M1351 461q16 26 32 51M1350 467q17 25 38 46M1349 466q18 23 34 48M1349 459q10 23 26 43" stroke="rgb(134, 44, 176)"/>
<path d="M1350 464q17 21 34 42M1353 467q15 22 29 45M1351 464q17 23 32 46M1348 463q19 23 37 47M1352 466q23 19 39 44" stroke="rgb(145, 42, 164)"/>
<path d="M1347 466q18 20 28 45M1351 465q12 26 32 47M1348 468q16 21 31 44M1350 464q16 25 40 42M1353 465q16 22 35 43" stroke="rgb(156, 40, 151)"/>
<path d="M1352 464q12 29 33 52M1350 468q18 21 38 42M1349 466q12 23 31 39M1349 467q17 21 36 39M1348 463q17 18 34 36" stroke="rgb(168, 38, 139)"/>
<path d="M1349 467q16 24 34 47M1351 464q10 31 37 49M1345 464q20 20 32 46M1351 464q13 26 36 44M1349 467q20 17 36 37" stroke="rgb(179, 36, 127)"/>
<path d="M1345 465q27 13 39 41M1352 466q21 21 43 41M1352 466q20 17 32 40M1350 466q18 20 34 43M1348 464q26 14 39 40" stroke="rgb(189, 34, 115)"/>
<path d="M1346 465q20 19 38 39M1347 467q24 15 36 41M1350 468q22 17 38 40M1353 464q25 18 43 44M1347 468q19 18 38 35" stroke="rgb(198, 33, 104)"/>
<path d="M1344 466q19 20 41 38M1351 465q20 19 41 36M1349 465q22 17 44 33M1348 462q22 19 34 45M1347 462q21 20 40 42" stroke="rgb(207, 31, 94)"/>
<path d="M1341 460q28 13 51 34M1347 467q23 17 49 29M1349 466q24 16 49 31M1348 464q14 23 37 39M1350 465q18 20 45 28" stroke="rgb(216, 30, 83)"/>
<path d="M1350 466q19 18 37 37M1349 468q23 19 44 40M1346 465q16 23 37 41M1348 467q19 18 40 33M1347 468q21 20 42 41" stroke="rgb(225, 28, 72)"/>
<path d="M1348 467q26 16 52 31M1344 467q25 16 46 37M1347 465q31 6 43 35M1348 467q12 22 27 42M1350 466q20 19 45 30" stroke="rgb(230, 27, 65)"/>
<path d="M1347 468q19 17 41 30M1371 480q7 1 15 -0M1376 486q-3 4 -8 6M1348 464q22 18 44 36M1374 482q6 -0 11 1M1353 465q24 15 42 38M1375 477q7 4 16 4M1384 481q-3 -7 -5 -14M1345 466q19 21 42 36M1348 467q23 15 47 30" stroke="rgb(234, 25, 59)"/>
<path d="M1376 486q7 -1 14 -0M1380 486q-6 5 -13 9M1346 469q26 15 37 43M1377 485q9 1 18 0M1388 479q-2 -7 -6 -13M1382 489q-8 3 -12 10M1346 467q24 20 53 29M1380 478q8 5 16 8M1389 491q-6 5 -12 10M1347 464q16 21 39 34M1344 468q28 12 56 26M1384 483q6 0 12 3M1388 482q-6 -4 -9 -11M1343 465q26 16 51 34" stroke="rgb(239, 24, 52)"/>
<path d="M1388 480q5 2 9 4M1393 478q-2 -5 -3 -10M1389 490q-2 6 -8 7M1347 468q26 10 45 31M1387 482q6 5 13 7M1396 484q-3 -5 -6 -11M1345 465q25 13 40 37M1349 466q26 14 41 39M1391 484q5 1 9 3M1392 490q-6 1 -10 5M1343 466q22 20 47 36M1391 483q7 0 14 5M1401 483q-0 -7 -3 -14M1344 468q18 25 47 38" stroke="rgb(244, 23, 45)"/>
</g>
<g clip-path="url(#k20)">
<path d="M223 702q2 14 6 27M259 666q-7 14 -17 26M254 695q-10 14 -24 23M222 684q15 8 31 13M245 696q-3 15 6 28M256 690q-1 15 -4 29M255 671q-3 13 -4 27M237 675q4 13 2 27M242 680q1 12 5 23M239 719q13 -3 26 2M254 700q-3 14 -8 27M239 691q12 3 23 8M231 719q12 5 22 14M240 694q9 7 18 14M237 696q8 13 19 25M247 681q-6 9 -8 21M224 677q6 15 9 31M249 677q6 10 13 20M232 698q12 -1 24 -1M235 673q12 2 22 8" stroke="rgb(46, 77, 237)"/>
<path d="M225 688q2 13 10 23M238 690q-9 14 -15 30M226 695q15 -3 29 4M237 691q8 11 17 21M240 654q-2 14 -2 29M254 686q-8 14 -9 30M229 700q-6 13 -2 27M233 701q12 -8 24 -16M229 661q3 16 11 30M246 703q12 8 23 18M244 663q-4 13 -6 26M245 675q5 -6 11 -10M226 678q9 8 12 21M244 662q-2 14 2 28M229 677q-3 -3 -6 -7M232 675q8 13 11 28M234 665q3 14 9 27M235 667q-4 12 -5 25M263 683q-4 13 -13 23M243 664q5 15 4 30M228 683q-5 -4 -9 -8M231 703q11 9 25 12M234 667q1 14 7 27M249 685q-5 10 -13 18M230 669q1 14 -0 28M246 682q8 -2 11 -10M229 685q-4 -6 -11 -8M248 682q2 14 -5 26M241 667q-5 16 -10 32M227 685q-4 -2 -7 -6M261 686q-17 -4 -33 0M241 670q2 13 3 27M250 680q3 12 4 24M243 670q2 14 7 27M225 689q-5 -3 -10 -5M249 698q10 8 18 18M225 672q3 15 7 29M245 687q5 -3 7 -9M240 672q-0 14 3 27M267 685q-13 9 -24 18M246 670q-11 15 -12 34M238 677q6 10 9 20" stroke="rgb(49, 75, 235)"/>
<path d="M244 674q-2 13 3 26M253 695q-10 8 -21 14M232 678q4 11 5 22M245 686q4 -3 8 -6M232 700q14 0 28 3M239 673q-4 17 -10 34M230 687q-3 -6 -10 -8M234 683q14 5 29 4M234 675q3 16 12 29M251 690q5 -6 11 -11M217 695q16 6 32 1M244 677q3 13 1 26M231 670q1 13 7 25M238 680q-1 12 2 24M234 680q6 12 2 26M245 691q7 -3 8 -11M230 694q-4 -3 -8 -6M239 680q2 13 1 27M250 678q-1 15 -0 31M235 682q-4 13 -2 27M242 680q-2 16 -2 33M241 679q0 18 1 36M240 683q6 14 12 29M224 687q3 13 8 25M238 687q0 13 -0 26M242 684q1 16 2 31M233 689q5 13 7 26M241 685q-1 16 5 32M248 702q3 -4 6 -7M241 688q5 14 6 28M235 694q-0 11 3 22M244 691q1 12 -1 25M236 692q10 11 16 24" stroke="rgb(52, 73, 233)"/>
<path d="M248 687q8 13 14 27M228 698q9 11 21 19M236 694q4 14 8 27M233 698q2 14 8 26M242 691q8 14 17 27M223 701q5 18 17 31M245 693q1 15 10 26M237 695q1 18 11 33M238 712q-5 -2 -10 -5M234 704q4 11 10 22M236 700q11 11 18 25M235 698q12 13 19 30M251 698q1 12 2 23M237 703q9 12 16 24M236 703q11 12 22 24M240 700q10 14 23 25M244 706q4 11 5 22M240 703q12 11 19 26M246 704q8 11 16 21M243 725q-5 -2 -11 -1M236 709q11 11 20 23M247 702q8 14 13 29M243 704q12 13 19 29M244 725q-9 2 -16 -2M235 711q7 15 15 29M239 714q10 9 21 17M242 728q-4 -0 -9 -0" stroke="rgb(55, 70, 231)"/>
<path d="M243 710q8 12 18 23M237 715q15 7 27 17M261 721q2 -4 2 -9M239 714q8 13 20 23M246 713q9 10 17 20M242 712q13 12 20 28M250 710q11 11 20 24M242 720q6 10 9 22M245 732q-7 -3 -15 -4M239 720q12 9 23 19M246 715q10 13 22 24M244 721q6 11 17 20M248 718q3 14 8 27M263 725q2 -7 6 -13M249 719q6 12 17 21M260 725q2 -8 6 -14M259 712q3 16 6 31M256 719q7 10 8 21M250 733q-6 -2 -12 -5M241 729q4 11 11 20M251 723q4 11 10 21M260 717q3 15 5 29M251 724q10 9 20 17M248 725q6 14 11 28M259 724q2 12 3 23M251 744q-8 -1 -17 -0M264 718q-1 16 2 32M253 723q7 16 8 34M250 744q-5 -1 -8 -5" stroke="rgb(57, 68, 229)"/>
<path d="M255 726q6 13 9 26M248 731q1 14 5 27M252 746q-5 -1 -10 -3M264 721q9 13 14 29M256 730q9 9 12 21M256 745q-6 -5 -14 -4M251 728q11 13 16 30M263 723q4 17 10 33M252 744q-6 0 -10 -2M255 731q-0 14 3 28M254 745q-5 -4 -11 -8M260 728q5 15 13 29M251 734q6 13 10 27M261 730q6 14 10 29M272 732q6 12 13 23M252 734q13 11 21 27M261 733q3 16 1 32M255 752q-7 -4 -13 -8M264 735q3 14 11 26M274 748q3 -5 7 -9M260 738q-1 12 -5 24M273 750q4 -2 7 -5M256 752q-1 -8 -9 -12M272 739q-5 13 -14 23M274 750q5 -7 12 -11M262 739q-4 12 -7 24M271 756q6 -6 10 -12M257 754q-3 -6 -8 -9M261 736q-7 13 -11 27M260 740q1 12 -6 22M258 748q-3 -4 -4 -8M270 744q-5 11 -9 22M270 745q-7 9 -15 18M270 742q-14 8 -23 22M270 756q5 -2 10 -4M272 745q-11 10 -24 19M255 752q-4 -4 -4 -10" stroke="rgb(60, 66, 228)"/>
<path d="M275 753q-11 6 -18 15M266 763q6 -1 11 0M273 751q-8 10 -19 18M274 747q-15 10 -22 26M271 753q-10 7 -19 15M253 755q-1 -4 -3 -8M266 749q-5 11 -12 21M263 742q-13 12 -30 19M254 757q-1 -6 0 -12M271 752q-11 11 -20 22M259 742q-7 17 -9 34M264 766q7 -2 12 -5M266 752q-10 10 -21 18M256 746q-1 16 -1 33M261 748q-3 16 -9 32M247 757q-4 -7 -5 -15M272 756q-9 12 -15 26M251 759q-2 -6 -3 -11M264 756q-9 9 -9 22M239 744q2 15 -0 30M257 756q-2 11 -2 23M266 755q-4 15 -11 27M253 751q-8 14 -14 29M265 769q5 -6 12 -9M239 751q4 15 7 29M254 752q-4 17 -12 32M260 760q1 12 -4 24M261 773q5 -3 9 -6M251 759q-2 11 -3 22M253 755q1 18 5 35M247 770q-5 -5 -8 -10" stroke="rgb(63, 64, 226)"/>
<path d="M258 759q-0 16 3 32M253 760q-1 14 -2 28M259 764q-0 12 -3 23M252 759q3 17 1 33M251 763q-0 13 -2 25M259 766q-1 12 -5 24M249 765q-1 12 -4 24M262 766q-9 12 -13 27M249 765q4 15 3 30M256 769q3 12 7 25M249 766q-4 15 -6 31M243 780q-4 -2 -7 -5M251 768q-5 15 -13 29M254 773q-5 10 -7 21M242 771q7 12 11 26M245 774q-2 11 -3 23M253 768q6 17 4 35M259 772q0 14 -4 27M253 769q0 17 4 34M241 776q8 12 12 27M243 779q4 12 8 23M243 792q-5 -6 -12 -6M257 773q3 16 -3 32M263 787q1 -7 4 -14M245 793q-5 -1 -10 -3M251 778q1 12 5 24M247 793q-4 -3 -9 -6M252 775q11 12 18 28" stroke="rgb(66, 62, 224)"/>
<path d="M243 779q1 17 10 31M258 776q7 13 14 25M240 783q3 16 8 31M257 778q4 13 8 26M254 782q4 11 8 22M260 778q-0 15 2 29M262 794q0 -7 4 -13M252 782q7 13 11 27M262 791q1 -6 4 -11M248 803q-7 -2 -13 -6M253 779q6 16 12 32M249 788q9 9 17 19M265 791q1 -8 1 -16M266 780q5 11 5 23M264 795q1 -7 6 -12M248 785q10 14 21 27M254 800q-5 -4 -12 -5M254 782q7 16 19 29M252 806q-4 -1 -9 -2M236 797q11 12 25 21M242 792q7 16 13 33M251 791q4 15 7 30M261 785q5 14 13 26M251 795q13 5 23 13M248 799q10 8 20 17M248 793q10 14 22 28M273 797q-1 -7 2 -14M250 795q10 12 17 27M243 805q7 11 17 21M250 802q8 10 15 21M273 802q5 -8 4 -16M258 813q-7 2 -13 0" stroke="rgb(69, 60, 221)"/>
<path d="M249 799q14 8 24 22M256 813q-4 -1 -9 -0M256 793q7 17 12 34M251 803q8 10 19 18M250 803q13 10 27 17M261 792q14 9 25 23M275 803q-0 -8 2 -16M259 795q16 6 30 15M259 814q-7 1 -15 2M253 808q11 7 24 11M276 803q0 -5 0 -10M258 806q12 6 26 5M258 800q10 13 25 20M257 806q13 4 23 14M256 809q6 12 17 20M261 811q11 0 22 2M264 801q9 11 17 24M264 824q-7 2 -14 3M258 803q14 11 26 24M257 808q14 10 27 20M266 821q-7 1 -13 -1M270 802q9 9 17 18M265 823q-7 2 -14 0M264 810q8 9 18 16M275 813q0 -5 1 -10M268 806q9 8 18 16M278 812q1 -4 1 -9M273 801q5 12 12 23M265 809q4 16 13 30M262 817q5 13 13 24M259 814q15 9 28 21M267 814q11 7 20 16M271 830q-7 2 -15 2" stroke="rgb(80, 57, 214)"/>
<path d="M263 819q12 6 23 14M284 815q1 -7 -3 -13M265 812q10 14 21 27M269 816q10 6 21 11M269 818q11 3 22 8M264 820q13 8 26 17M278 805q7 11 17 20M267 818q15 10 33 7M269 826q10 5 21 8M277 809q12 5 25 9M270 823q12 7 26 11M289 819q-4 -7 -9 -13M276 808q12 9 25 16M287 814q-3 -4 -6 -7M280 812q10 6 16 16M274 814q14 5 29 4M277 810q11 11 25 19M274 826q15 -1 30 -2M291 831q-7 3 -13 8M271 830q18 -2 35 -0M279 825q10 5 22 7M275 823q14 11 32 14M295 820q-3 -4 -7 -7M282 809q11 8 23 13M291 834q-3 3 -7 4M277 826q16 -5 32 -8M290 834q-3 5 -7 9M276 826q18 1 35 0M284 821q11 1 21 7" stroke="rgb(90, 54, 207)"/>
<path d="M281 822q14 2 29 4M283 835q13 1 25 -1M282 832q14 -6 29 -3M298 819q-3 -3 -7 -6M289 812q9 8 19 15M296 818q-5 -1 -8 -6M281 827q17 6 34 8M279 837q10 -13 20 -26M288 834q7 -9 10 -20M294 825q-3 3 -8 5M289 837q14 -11 29 -21M290 820q-6 0 -10 3M291 834q3 -12 6 -23M293 819q-4 3 -8 4M296 841q6 -17 10 -34M292 823q-6 5 -12 8M296 836q1 -14 2 -28M295 818q-6 1 -12 4M282 831q13 -11 25 -23M293 822q-6 4 -14 5M289 829q6 -11 15 -19M310 828q2 4 3 9M298 834q2 -14 0 -28M292 829q9 -9 12 -20M288 832q3 -16 10 -32M311 837q6 -14 8 -29M304 832q3 -13 7 -25M296 814q-3 3 -7 5M301 834q8 -15 11 -32M292 813q-5 5 -11 8M318 836q-4 -16 -3 -32M301 830q4 -15 3 -31M295 824q3 -12 7 -23M296 825q4 -13 4 -26M311 829q7 -13 16 -25M296 823q3 -13 6 -25M296 813q-8 3 -14 8M306 823q1 -12 6 -23M294 825q3 -16 6 -33" stroke="rgb(101, 52, 200)"/>
<path d="M307 823q-4 -14 -2 -28M294 816q7 -10 16 -17M311 811q2 8 5 15M300 820q-3 -13 1 -26M314 809q4 2 6 6M311 823q1 -15 -1 -31M296 822q3 -16 6 -32M316 807q3 5 5 11M290 818q13 -12 24 -27M314 802q3 8 9 14M316 820q3 -16 -6 -30M313 809q5 4 7 10M308 816q-1 -12 -1 -24M297 816q6 -13 5 -27M306 817q-7 -16 -15 -31M307 818q-5 -17 -4 -34M308 813q-3 -13 -1 -26M298 816q-4 -18 4 -34M315 801q5 5 11 10M313 812q5 -14 -1 -27M294 810q-1 -13 2 -25M309 810q-4 -14 -5 -28M297 794q-3 4 -7 5M308 813q-3 -17 -7 -34M305 806q-0 -12 -6 -23M302 809q6 -15 7 -30M308 808q4 -14 5 -28M297 807q5 -14 7 -29M295 790q-2 4 -5 7M303 805q-1 -13 1 -27M313 794q3 7 6 14M296 805q5 -16 11 -31M300 803q10 -11 17 -25M295 801q5 -14 10 -28M300 804q9 -15 11 -33M293 800q7 -15 15 -29M298 783q-4 2 -7 5" stroke="rgb(112, 49, 193)"/>
<path d="M291 797q14 -11 26 -24M316 791q5 7 8 14M301 800q2 -15 11 -28M310 804q1 -17 3 -35M303 800q7 -15 9 -32M315 788q3 7 2 15M308 797q4 -12 9 -23M302 781q-7 2 -14 3M303 793q7 -9 12 -20M300 793q8 -11 16 -22M315 785q2 4 3 8M301 796q9 -15 20 -28M308 799q5 -17 10 -33M300 791q4 -15 9 -29M313 794q6 -10 13 -20M306 794q9 -14 23 -24M301 792q10 -15 21 -29M302 787q8 -11 16 -23M308 787q4 -12 6 -24M321 783q2 7 3 14M298 787q9 -15 17 -31M299 780q0 -13 9 -23M323 793q6 -10 9 -20M304 771q-6 3 -13 4M302 782q11 -9 22 -19M305 766q-7 -2 -14 1M323 778q1 6 0 11M306 783q14 -6 25 -14M321 775q2 5 4 10M301 783q8 -15 19 -29M308 787q10 -14 19 -29M308 783q9 -13 18 -25M303 782q11 -14 24 -26M325 775q1 6 4 10M310 782q10 -12 13 -27M308 782q15 -9 29 -20M316 786q11 -13 13 -30M327 772q1 6 3 12M297 769q13 -7 24 -18" stroke="rgb(123, 46, 186)"/>
<path d="M310 781q8 -16 16 -32M304 771q13 -8 27 -14M313 779q10 -11 19 -24M315 776q7 -11 10 -23M330 767q3 7 4 14M315 774q11 -6 21 -12M318 758q-7 -0 -15 0M311 770q8 -11 22 -14M320 780q5 -15 11 -29M315 759q-7 3 -14 4M317 775q8 -11 19 -20M317 755q-5 3 -11 2M327 783q1 -14 7 -27M326 781q4 -15 10 -29M318 769q11 -4 19 -12M329 763q-5 8 0 16M311 761q9 -8 19 -15M321 776q9 -14 18 -27M311 763q11 -10 22 -19M327 775q7 -10 15 -20M320 750q-8 0 -15 3M318 768q11 -10 19 -23M319 770q12 -12 20 -27M320 765q12 -6 21 -15M338 766q0 4 1 9M325 770q9 -10 19 -19M316 758q10 -9 17 -19M320 768q17 -7 31 -18M338 764q-2 8 -0 16M327 768q8 -11 15 -24M324 759q4 -11 10 -20M340 761q-1 5 -2 11M326 766q10 -11 15 -26M331 768q12 -8 19 -20M319 757q16 -2 29 -12M325 759q2 -15 1 -30" stroke="rgb(134, 44, 176)"/>
<path d="M324 760q4 -15 7 -31M333 765q10 -11 13 -26M346 756q3 6 4 12M312 745q13 -1 24 -7M345 752q1 6 3 12M330 757q7 -10 7 -21M330 742q-6 2 -11 4M342 753q-0 4 1 8M324 758q15 -9 27 -20M335 759q5 -11 13 -21M345 753q3 3 3 8M320 752q2 -13 8 -24M334 758q8 -12 5 -26M346 748q1 4 4 7M339 758q2 -13 4 -26M330 743q-5 3 -11 5M329 756q8 -13 14 -27M338 758q2 -15 8 -30M338 755q3 -13 9 -24M334 754q2 -14 9 -26M327 755q4 -19 19 -30M351 754q4 -12 -0 -23M340 752q1 -13 6 -24M335 741q-8 1 -15 4M339 754q2 -16 5 -32M328 745q5 -10 10 -20M341 749q5 -11 8 -23M335 747q6 -12 12 -24M346 754q9 -14 14 -31M340 748q4 -14 13 -25M334 747q4 -16 13 -29M352 739q4 6 2 12M330 740q10 -9 21 -16M349 734q-0 4 2 8M342 744q-2 -13 -1 -26M334 730q-4 3 -9 5M336 742q7 -12 9 -25M334 738q6 -10 15 -18" stroke="rgb(145, 42, 164)"/>
<path d="M336 739q6 -11 13 -21M338 742q9 -13 9 -29M335 722q-5 1 -8 5M338 739q6 -12 12 -23M343 738q5 -10 9 -20M339 738q1 -13 8 -25M354 743q3 -12 9 -23M333 734q8 -12 16 -23M346 739q2 -14 8 -27M339 733q13 -7 26 -16M352 729q2 7 5 13M343 739q4 -17 5 -34M357 725q5 6 8 13M353 736q-0 -12 1 -24M337 735q4 -17 13 -32M351 733q2 -11 2 -23M342 729q-1 -12 0 -25M336 713q-7 -1 -12 3M328 728q9 -15 18 -29M343 733q8 -14 20 -26M345 734q-2 -18 8 -34M335 726q16 -7 26 -22M343 728q7 -13 18 -23M343 730q1 -18 7 -35M341 723q3 -13 7 -26M336 717q11 -5 19 -14M343 723q7 -12 12 -25M353 725q-2 -12 -0 -25M347 726q8 -14 20 -24M343 708q-8 3 -15 6M348 726q9 -15 22 -25M348 724q11 -11 18 -25" stroke="rgb(156, 40, 151)"/>
<path d="M340 720q5 -17 11 -34M348 723q7 -15 16 -29M348 703q-8 -0 -16 2M338 713q11 -10 23 -18M353 726q9 -14 16 -30M344 711q8 -8 13 -18M345 716q11 -11 19 -25M347 700q-8 0 -16 3M354 719q8 -11 19 -19M358 716q2 -11 2 -23M350 702q-5 1 -9 3M337 706q12 -8 20 -21M362 723q7 -14 10 -29M352 698q-7 3 -13 6M355 689q13 3 24 13M364 678q12 10 21 23M339 701q9 11 16 24M332 714q12 -9 22 -20M334 677q18 -0 35 1M348 704q14 -9 28 -18M356 675q2 11 5 22M351 697q16 9 32 17M339 695q8 11 15 22M325 690q17 5 33 9M362 710q0 -18 10 -32M333 701q13 -9 25 -18M373 686q-15 10 -31 16M355 695q15 9 27 22M375 672q-1 17 2 34M339 704q12 -5 24 -7" stroke="rgb(168, 38, 139)"/>
<path d="M364 687q14 6 28 8M349 693q8 15 24 23M345 712q11 -14 19 -30M326 695q14 -5 29 -3M349 695q11 5 17 15M337 693q12 3 23 10M369 668q-4 15 -11 29M337 672q13 12 10 31M340 692q14 -0 28 -1M322 707q17 -2 33 -9M349 669q11 12 18 25M361 716q8 -15 18 -29M352 687q6 10 12 20M346 701q17 1 34 1M362 677q-4 12 -8 24M356 675q5 17 -2 32M354 688q3 13 3 26M334 685q11 -3 23 -4M348 685q12 -10 26 -17M348 708q18 5 36 2M351 701q16 -5 32 -13M364 711q0 -16 -8 -30M360 689q9 15 19 29M342 675q6 12 16 21M353 684q11 -1 22 -1" stroke="rgb(179, 36, 127)"/>
<path d="M355 701q12 1 21 8M346 690q10 6 22 5M347 708q8 -12 18 -22M353 687q10 9 20 18M326 697q8 -12 20 -19M351 694q10 7 15 18M346 723q11 -6 22 -11M351 690q12 -8 26 -12M343 724q13 -9 20 -23M355 691q14 10 21 25M359 711q17 -2 33 -6M355 681q9 13 12 29M328 701q16 -6 32 -4M323 706q16 3 28 15M358 710q-5 -11 -10 -22M336 676q16 8 34 10M347 699q-7 3 -13 9M342 705q13 -6 27 -7M337 678q14 10 30 19M366 692q-4 19 8 34M345 675q10 6 20 13M347 697q-8 2 -14 7M342 696q11 2 21 8M353 684q12 13 23 27M340 677q16 8 28 21M349 708q3 -13 16 -19M343 680q12 9 26 12M355 685q2 17 -8 30M343 684q13 5 27 6M356 685q-6 -5 -10 -12M371 708q-0 -18 -11 -32M346 679q10 11 21 21M344 684q14 8 23 20M354 701q-6 4 -13 4M361 687q11 6 18 16M343 696q11 6 22 8M353 699q-6 4 -14 4M329 693q10 16 29 20" stroke="rgb(189, 34, 115)"/>
<path d="M348 702q13 -0 25 2M342 689q15 6 30 14M363 688q3 -7 -2 -12M357 700q-7 -2 -11 5M327 689q16 10 22 28M350 687q9 7 19 12M327 672q8 16 22 28M347 689q10 10 20 22M354 698q-4 2 -8 1M349 669q11 13 22 25M349 685q16 2 30 12M364 690q-6 -7 -6 -16M357 677q11 11 19 24M358 683q7 10 14 20M354 688q10 9 17 19M359 683q6 13 15 25M357 701q-6 1 -13 1M359 687q5 12 8 25M358 706q-4 -3 -9 -3M354 695q9 6 19 11M360 686q4 15 13 27M358 704q-7 -4 -15 -5M363 685q4 16 11 31M357 688q11 14 22 27M362 687q13 11 25 23M353 694q9 15 15 32M357 696q13 10 28 16M364 706q-5 -3 -10 -3M358 700q6 10 17 16M373 703q-0 -7 3 -13M362 699q4 13 5 27" stroke="rgb(198, 33, 104)"/>
<path d="M358 698q9 14 14 30M361 695q12 12 23 25M366 698q10 10 13 23M363 716q-4 2 -8 1M361 700q15 7 28 16M371 699q11 5 22 8M377 706q-1 -5 -1 -10M363 702q13 10 17 25M365 703q10 11 23 17M369 720q-4 1 -8 2M366 706q12 5 21 14M371 702q6 13 12 25M390 703q-4 -7 -4 -14M367 703q15 9 22 24M376 718q-8 4 -16 1M372 704q5 12 14 22M365 710q15 5 24 18M377 699q10 11 19 22M378 719q-6 -0 -11 -1M376 707q10 7 14 19M371 713q9 9 21 11M369 713q7 13 19 23M390 715q2 -8 4 -15M375 707q9 13 18 25M373 711q11 11 25 17M393 712q4 -6 3 -13" stroke="rgb(207, 31, 94)"/>
<path d="M372 709q8 17 24 26M390 715q-1 -7 3 -14M377 710q8 13 19 23M371 719q10 10 19 21M384 728q-7 -4 -15 -2M376 711q17 5 27 19M386 730q-5 -1 -10 -1M385 710q7 10 13 22M378 716q11 11 20 23M384 729q-4 -3 -10 -2M378 721q12 5 24 9M378 724q5 11 13 20M385 713q11 9 22 19M380 718q10 12 21 24M384 718q9 12 21 20M377 730q18 1 35 0M380 726q9 11 20 20M386 716q16 9 27 22M382 724q12 12 27 18M402 708q10 16 7 34M394 737q-5 1 -10 1M387 721q8 15 22 26M406 728q2 -7 1 -14M388 726q12 8 24 15" stroke="rgb(216, 30, 83)"/>
<path d="M389 722q11 13 25 23M405 728q0 -4 2 -8M389 726q15 6 26 18M410 728q1 -5 2 -9M396 725q12 3 21 12M399 720q13 10 14 26M390 728q8 15 19 27M397 741q-7 2 -13 -0M391 728q11 13 19 28M407 732q-2 -4 0 -8M402 744q-9 -2 -16 2M399 725q9 11 15 25M412 731q-2 -5 -1 -10M395 732q12 6 20 17M404 729q6 10 7 22M402 745q-6 3 -13 3M392 737q9 12 22 18M403 745q-5 1 -10 1M395 740q8 8 18 14M416 734q-3 -4 -3 -9M403 751q-5 -3 -10 -0M400 733q10 9 18 20M417 737q1 -5 1 -10M408 724q9 11 14 24M405 748q-7 3 -14 5M395 739q10 13 23 20M405 749q-7 1 -13 2M395 741q14 9 31 9M402 737q12 6 21 16M414 742q3 -8 -1 -17M401 742q9 10 18 19M401 738q16 4 29 14M394 752q17 -4 33 4M421 740q-2 -5 -3 -10" stroke="rgb(225, 28, 72)"/>
<path d="M397 745q17 5 31 15M403 750q9 8 14 18M408 738q9 12 23 16M402 746q17 1 31 11M413 755q-8 -2 -16 2M407 741q11 11 26 16M415 754q-8 2 -16 1M408 749q11 6 22 12M408 750q10 8 21 14M412 741q10 10 22 19M418 757q-6 -1 -11 2M411 746q13 5 25 10M409 754q13 4 26 9M410 751q12 9 26 15M431 746q1 -6 -1 -12M415 740q17 4 29 18M410 751q16 6 33 10M427 747q-2 -4 -5 -7M417 740q15 10 26 23M421 743q9 9 19 17M425 743q5 14 10 28M413 761q16 2 32 4M423 751q11 2 22 5" stroke="rgb(230, 27, 65)"/>
<path d="M421 752q10 11 21 22M438 746q-5 -4 -7 -10M423 758q12 -1 24 -1M422 750q16 3 29 12M422 753q13 10 27 18M438 752q-4 -8 -4 -16M423 755q14 5 26 14M436 765q-3 3 -7 5M424 756q15 3 30 4M426 756q13 5 26 11M435 765q-6 2 -12 5M423 761q16 6 34 7M431 757q11 3 22 6M427 767q14 3 27 4M443 768q-5 6 -12 10M428 754q17 4 33 13M432 751q15 3 29 7M431 751q14 11 32 13M437 753q8 10 21 15M436 749q14 1 28 3M433 764q16 -0 31 0M453 756q-2 -4 -4 -7M441 750q11 5 23 9M440 762q11 3 23 5" stroke="rgb(234, 25, 59)"/>
<path d="M435 772q16 -2 32 -7M440 763q14 1 26 9M438 760q17 -3 34 -3M440 761q15 -9 33 -11M459 769q-5 4 -12 5M444 756q14 -1 28 -4M444 758q15 4 28 10M461 757q-6 -2 -10 -8M448 761q11 1 22 4M455 768q-5 4 -10 8M449 760q12 4 23 8M451 752q12 2 22 8M450 751q12 5 25 10M446 766q17 2 34 1M465 750q-5 -5 -8 -12M450 767q15 -3 28 -10M451 756q16 6 30 16M469 771q-6 4 -11 8M452 764q14 8 30 9M465 770q-6 5 -9 12M454 763q14 2 28 7M454 759q15 5 31 9M466 754q-2 -5 -8 -7M454 767q16 -9 32 -16M474 772q-3 5 -7 8M458 764q14 -0 27 4" stroke="rgb(239, 24, 52)"/>
<path d="M462 765q10 -5 21 -8M458 771q13 -12 31 -17M470 757q-1 -5 -6 -7M458 766q17 -0 32 -7M474 755q-6 -3 -12 -7M463 762q13 -0 24 -6M474 755q-6 -1 -10 -6M473 767q-2 4 -4 8M461 769q17 -5 32 -15M478 755q-4 -3 -7 -5M463 768q16 -1 31 -1M474 752q-4 -2 -5 -6M468 766q11 -5 22 -5M462 757q17 -0 35 -3M480 755q-7 -2 -12 -8M469 773q13 -3 27 -4M466 765q16 -5 32 -13M467 762q15 -5 31 -8M484 754q-8 -3 -15 -8M468 753q15 5 30 7M471 764q15 -1 29 -6M485 768q-2 5 -5 9M473 754q12 5 25 4M472 768q17 -3 33 2M491 770q-6 6 -9 14M473 764q15 -6 31 -10M475 767q16 -2 32 -2M474 761q16 -1 33 0M493 752q-4 -2 -6 -6M493 766q-1 4 -4 8M478 772q15 -4 29 -9" stroke="rgb(244, 23, 45)"/>
</g>
<g clip-path="url(#k21)">
<path d="M592 681q12 4 25 10M605 696q-5 2 -8 5M594 676q12 6 24 10M593 683q13 3 26 5M594 689q12 2 24 2M589 696q17 -6 35 -9M592 685q18 -1 35 -7M598 693q11 -5 22 -6M600 679q11 2 22 6M605 694q-5 2 -8 6M599 691q12 1 23 4M597 678q16 5 32 10M601 693q12 -4 24 -7M600 682q15 -2 30 -1M605 675q11 4 23 5M598 689q17 -0 34 4M607 684q10 5 20 12M602 692q15 -1 27 6M601 691q15 8 32 10M601 699q17 -4 33 3M621 696q-5 5 -11 10M606 680q14 9 28 20M625 682q-2 -5 -7 -8M607 679q14 6 30 9M622 697q-4 4 -9 4M606 687q17 -2 34 -4M626 683q-3 -5 -5 -11M606 686q17 3 35 4M614 679q12 3 23 7M625 680q-2 -9 -8 -15M625 697q-5 4 -10 8M614 680q12 3 25 3M622 698q-9 1 -11 10M613 695q11 5 22 7M614 692q12 -1 24 4M613 690q14 4 28 6M611 690q18 2 33 13M613 685q16 7 32 10M618 677q15 2 29 7M621 675q10 12 21 21M621 687q12 -0 24 -3M622 684q12 0 23 4M619 692q15 -1 29 4M621 676q15 8 32 9M636 685q-2 -4 -4 -9M630 700q-5 5 -10 10" stroke="rgb(46, 77, 237)"/>
<path d="M622 691q13 3 25 11M623 686q15 3 28 10M621 681q16 8 34 9M623 697q15 -3 29 2M640 699q-6 -0 -9 5M623 690q17 1 34 -2M639 684q-1 -6 -4 -10M629 684q9 11 23 14M624 696q17 2 33 3M639 687q-2 -5 -4 -9M630 693q11 4 22 9M642 685q-3 -5 -5 -10M628 689q13 12 27 23M639 700q-5 2 -11 5M628 697q16 1 30 8M633 685q9 13 23 19M641 700q-7 3 -13 6M629 691q17 -1 33 -0M633 691q13 5 26 9M629 700q17 -5 35 -4M636 692q13 -2 26 -4M634 688q15 5 31 7M635 705q13 -6 28 -9M633 699q17 3 35 1M650 685q-6 -3 -9 -10M650 701q-5 6 -11 10M639 681q15 4 29 10M640 695q13 -2 24 5M643 694q9 8 20 8M654 687q-8 -4 -10 -13M642 695q13 0 25 2M637 698q17 4 34 3M644 694q12 2 25 3M643 694q13 4 27 8M646 696q12 1 23 4M648 684q8 15 21 26M650 690q12 -4 25 -2M644 691q16 9 34 12M651 684q11 13 21 26M654 686q12 7 20 18M650 688q10 13 25 22M670 692q-2 -5 -4 -9M658 688q8 9 15 19M670 694q-2 -8 -2 -16M659 704q-8 1 -16 4M654 691q11 9 18 22M651 690q14 10 21 26" stroke="rgb(49, 75, 235)"/>
<path d="M655 687q9 15 18 30M674 694q0 -7 -1 -14M661 692q4 11 12 19M658 692q8 11 18 21M658 694q1 13 9 24M658 710q-5 -3 -11 -3M672 689q1 14 -1 27M674 703q1 -8 6 -13M654 695q13 9 21 23M669 695q-2 11 -3 23M658 696q3 12 7 23M650 692q1 18 6 35M673 698q-1 12 -6 22M653 696q-3 13 -6 25M672 699q-2 12 -5 24M674 712q4 -2 8 -4M674 701q2 12 3 24M680 698q1 16 -3 32M665 699q3 14 -2 28M665 696q-3 17 -10 33M668 702q-6 12 -8 25M668 702q1 14 -2 27M658 715q-3 -7 -5 -15M672 704q-2 14 -5 27M675 722q5 -3 10 -7M670 706q-2 13 -6 25M666 705q-7 12 -11 26M660 715q-5 -6 -9 -12M669 707q-2 13 0 27M680 707q-9 15 -11 32M670 707q-6 15 -4 30M676 720q4 -7 11 -12M670 709q-1 14 -2 28M672 711q2 13 -1 27M673 710q-1 15 -2 30M669 713q5 13 5 26M677 712q-8 16 -20 29M670 714q-6 13 -11 26M665 717q1 11 4 22M674 732q5 -4 7 -11M662 715q3 14 7 27M658 727q-3 -4 -6 -9M658 713q-3 17 -7 33M657 728q-6 -3 -10 -7M659 714q3 17 3 34" stroke="rgb(52, 73, 233)"/>
<path d="M673 719q-10 12 -17 25M663 717q-4 16 3 30M653 718q8 15 11 31M664 720q1 15 8 28M666 721q-3 15 -6 29M667 721q-3 16 -10 31M661 723q3 14 4 27M653 737q-4 -6 -10 -12M671 725q5 12 -0 25M656 736q-4 -4 -7 -9M671 726q-2 14 -11 26M671 738q7 -3 12 -10M662 725q-6 14 -2 30M659 742q-5 -2 -9 -7M660 727q8 13 8 28M669 729q-1 13 -1 26M659 740q-5 -5 -9 -11M674 726q-5 17 -10 33M667 732q-2 12 -0 24M666 728q-0 17 1 34M674 734q-7 12 -13 23M661 733q-3 12 -4 24M670 735q-5 12 -8 25M655 746q-3 -7 -7 -12M657 731q-1 16 3 31M676 738q-12 9 -19 23M670 752q7 -2 13 -7M654 743q-2 -7 -4 -14M663 736q-2 14 2 28M673 754q4 -4 9 -7M656 734q-7 12 -8 26M669 736q-3 16 -8 32M667 741q-4 11 -8 22M653 749q-3 -7 -7 -14M671 741q-4 14 -10 26M672 745q-10 9 -15 21M656 751q-2 -6 -5 -12M658 741q-2 13 1 25M672 742q-1 17 -10 31M671 743q-1 17 -9 31M655 756q-7 -4 -9 -12M668 742q-5 16 -14 31M666 742q-7 17 -3 36M668 747q-5 13 -14 24M653 757q1 -5 -1 -10M653 745q-4 10 -11 19M651 758q-1 -6 -3 -13M669 746q-12 13 -14 31M650 760q-0 -5 -2 -11M664 749q-1 14 -5 27" stroke="rgb(55, 70, 231)"/>
<path d="M658 745q-8 13 -13 27M669 752q-15 7 -22 23M648 743q-1 16 1 31M677 764q-9 7 -18 14M668 753q-10 14 -22 25M662 752q-12 10 -22 22M661 754q-6 12 -13 24M669 758q-14 9 -27 20M673 763q-12 9 -23 20M659 774q8 -5 17 -2M673 766q-15 7 -30 13M650 768q-1 -7 0 -13M667 760q-10 12 -24 21M660 779q7 -1 13 -1M660 760q-6 11 -13 22M659 754q-13 10 -26 19M666 764q-14 8 -29 15M661 760q-14 5 -25 14M664 774q-13 3 -25 7M658 758q-11 6 -22 11M663 776q-14 4 -28 6M647 782q5 5 9 12M663 769q-16 -0 -31 -3M651 768q6 -3 9 -8M661 776q-14 -6 -28 -14M661 780q-16 -5 -31 -14M660 770q-12 -8 -27 -13M645 768q4 -5 10 -6M661 777q-16 -9 -34 -9M657 770q-13 -5 -26 -2M659 769q-16 -0 -31 1M655 779q-15 -3 -27 -12M654 772q-11 -5 -23 -7M652 777q-13 -3 -25 -10M637 778q3 6 3 13M643 764q7 -1 12 -6M648 785q-14 -5 -26 -15M643 784q-9 -8 -20 -14M656 771q-15 -6 -31 -10M646 783q-17 -5 -32 -13M652 772q-13 -9 -27 -13M653 775q-12 -12 -23 -25" stroke="rgb(57, 68, 229)"/>
<path d="M635 779q1 -12 -2 -23M643 780q-1 -18 -4 -36M650 774q-12 -11 -22 -22M642 776q-6 -12 -11 -25M642 774q-10 -10 -15 -22M641 776q-5 -15 -13 -27M630 775q-4 -11 -11 -20M635 779q-10 -16 -9 -34M641 774q-7 -15 -16 -29M636 771q-10 -9 -17 -19M636 773q-6 -14 -9 -29M635 771q-3 -14 -12 -25M634 770q-4 -14 -3 -28M636 751q3 5 9 7M639 771q-4 -17 -15 -31M621 760q-2 4 -4 7M642 769q-7 -16 -15 -31M637 770q-13 -13 -21 -29M624 771q-1 -17 1 -33M635 765q-7 -12 -13 -24M640 764q-5 -14 -6 -28M618 754q-2 9 -7 15M635 749q4 4 9 6M630 762q-3 -11 -6 -22M631 762q2 -15 7 -28M621 755q-3 4 -7 7M632 766q-6 -16 -8 -33M629 759q-1 -12 2 -23M620 750q0 6 -5 9M634 763q-0 -18 -1 -35M623 764q-4 -16 -5 -33M635 747q5 6 13 9M633 757q-5 -12 -6 -25M637 742q5 5 10 9M627 763q-7 -17 -8 -35M624 755q1 -11 5 -22M622 759q0 -16 -5 -30M626 760q-0 -18 -4 -35M635 744q7 3 15 6M625 758q4 -17 1 -34M633 754q-9 -13 -16 -27M618 754q3 -14 7 -28M620 740q-3 4 -4 8M631 749q2 -11 -0 -23M633 738q4 3 6 8M629 750q-1 -14 1 -27M618 736q-3 7 -6 14" stroke="rgb(60, 66, 228)"/>
<path d="M621 749q5 -12 4 -24M639 751q-2 -17 -7 -33M628 748q-4 -13 -5 -27M633 737q4 4 9 8M631 746q-0 -13 2 -26M618 744q1 -12 7 -23M616 734q-3 3 -5 8M636 732q6 4 12 9M617 748q7 -16 16 -31M633 730q4 6 10 11M625 749q4 -18 2 -35M625 745q-0 -15 -5 -29M638 740q-4 -12 -9 -23M618 733q-4 3 -8 5M634 733q8 3 12 10M617 739q0 -12 7 -22M618 742q6 -14 1 -28M634 744q-7 -17 -5 -35M619 724q-5 6 -10 13M634 724q7 1 11 7M626 743q8 -18 1 -36M620 736q1 -13 8 -23M628 735q4 -11 7 -22M618 734q3 -11 3 -23M633 736q2 -13 1 -27M624 738q4 -17 10 -33M636 734q-4 -14 -8 -27M617 731q6 -12 8 -25M629 735q-4 -17 -6 -34M633 723q5 4 8 9M624 733q3 -15 7 -30M616 714q-3 5 -8 10M634 731q-0 -14 -6 -27M615 725q3 -12 10 -22M615 711q-3 5 -9 6M628 731q5 -15 11 -30M621 725q8 -11 14 -22M634 713q1 5 4 8M626 731q5 -17 4 -35M616 712q-6 1 -10 4M618 724q1 -14 6 -27M618 718q6 -10 17 -15M619 710q-5 4 -9 8M634 713q2 5 5 8M627 727q5 -16 5 -33M616 721q8 -13 8 -29M622 719q1 -13 -0 -26M618 708q-4 3 -9 6M615 716q15 -7 28 -16M626 720q1 -14 5 -27" stroke="rgb(63, 64, 226)"/>
<path d="M619 714q5 -11 9 -23M621 720q1 -18 14 -32M614 713q11 -12 25 -22M625 720q10 -13 19 -26M622 711q10 -7 18 -16M636 708q-1 6 -2 12M622 715q14 -8 27 -18M619 708q12 -8 21 -20M631 695q-8 -2 -16 -2M625 717q11 -11 22 -22M630 718q6 -12 16 -20M639 709q-1 8 -7 13M619 698q12 -6 26 -5M627 717q15 -1 28 -8M626 715q15 -7 27 -17M621 705q16 -9 34 -11M625 708q13 -11 25 -23M625 695q13 2 26 2M629 706q13 -2 26 -1M631 711q12 -2 23 -7M638 690q-3 -3 -6 -6M625 693q17 -0 33 3M630 692q11 -1 22 -3M632 710q12 -7 25 -14M639 690q-6 -1 -10 -6M627 697q17 1 35 2M634 699q10 -6 22 -8M636 700q12 -5 20 -15M631 703q17 -0 33 0M635 703q13 -4 26 -6M636 694q13 -1 26 2M648 704q-4 3 -7 8M637 706q15 -3 27 -13M638 697q13 0 25 1M653 703q-3 4 -7 7M640 708q13 -2 25 -4M635 692q17 6 34 8M636 687q17 4 34 5M653 703q-3 4 -5 8M641 698q13 5 26 7M655 689q-1 -7 -8 -11M658 705q-2 4 -5 6M643 701q12 -4 24 -5M646 704q11 6 21 11M655 691q-7 -4 -12 -11M643 681q14 -4 29 -4M658 690q-3 -6 -8 -11" stroke="rgb(66, 62, 224)"/>
<path d="M642 688q16 3 32 6M655 689q-5 -3 -9 -8M649 695q10 5 20 9M644 691q16 -1 32 -0M645 679q16 7 31 16M662 689q-3 -5 -6 -9M658 704q-5 6 -12 10M651 691q12 2 23 -2M652 701q11 -1 22 -5M651 689q13 2 26 3M647 693q17 6 34 6M653 695q12 -4 25 -5M653 693q14 7 27 14M654 697q14 1 26 8M653 691q16 4 31 9M658 703q11 -6 22 -9M657 692q13 2 25 3M671 706q-6 4 -10 10M658 695q12 1 25 2M673 688q-2 -5 -5 -9M658 692q11 9 26 10M674 690q-3 -4 -6 -7M659 701q13 -2 25 -7M676 691q-5 -3 -6 -8M658 697q15 -3 30 -2M663 698q11 3 21 9M660 700q15 -2 29 5M663 703q11 8 24 8M666 698q11 2 22 4M666 695q12 4 24 5M664 698q14 -3 29 -1M681 706q-5 4 -8 9M663 705q17 -0 33 -6M681 691q-3 -8 -8 -14" stroke="rgb(69, 60, 221)"/>
<path d="M664 699q18 -2 35 -5M666 697q15 5 32 5M679 690q-5 -4 -6 -10M671 696q13 0 25 3M682 691q-3 -5 -6 -9M672 692q13 -4 27 -4M672 695q13 3 25 7M673 695q15 1 25 11M689 692q-4 -6 -6 -13M673 697q14 2 28 6M670 705q17 -3 33 1M672 698q17 1 35 -1M674 697q15 5 31 8M687 693q-4 -3 -8 -6M692 706q-3 4 -7 6M678 698q13 -0 26 1M676 701q16 -3 32 -4M689 708q-6 4 -12 8M681 699q12 -5 25 -1M683 694q12 4 23 9M678 696q16 4 33 9M698 694q-5 -4 -10 -9M681 689q16 3 31 8M685 702q10 5 21 7M693 706q-5 2 -6 6" stroke="rgb(80, 57, 214)"/>
<path d="M687 677q14 7 27 15M683 698q16 -3 33 -2M689 693q12 4 24 4M704 695q-7 -5 -12 -11M686 699q15 -0 31 1M688 698q14 -0 27 5M702 708q-4 7 -12 8M684 713q17 -4 34 -8M689 705q14 3 28 -2M705 707q-4 2 -9 4M693 699q12 -0 24 -0M699 685q8 9 18 15M692 703q14 -1 29 -2M708 710q-5 4 -10 10M690 711q15 1 31 3M709 697q-2 -5 -3 -10M704 710q-5 3 -10 8M696 699q13 -3 27 -2M696 697q15 4 30 2M696 708q14 -1 28 -2M699 694q14 5 26 12M713 697q-6 -6 -8 -15M699 694q16 2 30 11M712 697q-2 -6 -6 -11M702 701q12 2 22 8M709 711q-6 4 -13 4M700 692q14 12 31 17" stroke="rgb(90, 54, 207)"/>
<path d="M701 700q14 4 29 5M700 701q18 -5 36 -3M700 710q16 -3 32 -4M717 698q-3 -6 -6 -13M707 698q12 3 23 10M703 706q17 -3 33 -1M702 709q16 5 33 10M705 703q17 2 31 10M721 715q-4 1 -8 4M708 704q15 2 26 11M719 712q-5 5 -12 7M707 705q14 8 28 17M713 696q13 4 27 5M726 699q-5 -4 -8 -10M719 713q-5 4 -9 7M711 698q14 5 29 10M725 717q-7 3 -15 6M710 715q14 -3 28 -3M715 701q12 5 24 10M710 706q17 4 34 10M733 701q-3 -5 -7 -8M716 710q11 5 22 8M732 702q-4 -6 -8 -11M716 710q13 -1 26 -0M721 697q14 -0 23 9" stroke="rgb(101, 52, 200)"/>
<path d="M715 704q18 -0 33 11M734 700q-3 -7 -6 -14M719 700q15 4 29 10M720 703q11 12 25 20M721 714q11 5 23 7M722 702q12 11 27 17M725 701q12 9 26 13M738 719q-4 5 -10 7M727 707q14 -3 26 -10M739 716q-4 2 -9 3M725 714q12 2 24 3M738 717q-4 4 -9 4M729 709q10 5 20 11M725 710q14 4 29 8M742 703q-5 -3 -7 -8M729 707q13 4 25 8M746 705q-5 -6 -10 -13M734 723q-6 8 -15 6M723 719q17 -1 35 -0M726 712q17 4 35 2M742 705q-4 -5 -8 -10M732 709q12 4 25 4M730 710q16 -6 34 -6M737 702q11 5 23 7M734 714q13 -5 26 0M748 708q-1 -8 -6 -14" stroke="rgb(112, 49, 193)"/>
<path d="M738 707q12 2 23 5M737 716q10 6 21 8M735 711q14 8 27 15M749 706q-3 -7 -7 -13M743 702q11 4 21 8M755 705q-4 -4 -6 -9M738 718q12 4 25 2M737 712q16 3 29 12M741 702q15 8 31 12M754 725q-6 2 -8 7M747 700q10 12 18 26M752 721q-4 4 -9 7M739 714q15 4 30 11M744 707q12 11 28 14M741 714q13 12 29 17M757 724q-7 5 -15 7M744 713q15 6 31 6M744 723q10 8 21 14M745 711q16 6 33 8M752 704q10 12 19 26M748 720q16 -4 32 -10M754 712q9 8 20 10" stroke="rgb(123, 46, 186)"/>
<path d="M757 705q8 12 21 17M752 710q16 4 30 14M759 726q-4 1 -8 4M757 704q10 14 22 25M751 717q13 8 26 14M752 721q11 7 20 17M757 718q9 8 21 12M760 726q-4 3 -8 3M757 718q14 3 24 12M766 732q-5 2 -10 3M757 719q11 6 22 14M759 712q11 13 27 20M773 722q1 -7 1 -14M755 720q15 5 26 17M765 727q-6 -0 -12 1M758 714q9 16 21 29M760 719q10 11 25 15M765 716q4 14 11 27M755 726q17 1 33 8M761 720q13 9 23 21M768 721q11 5 17 16M763 719q12 12 23 25M767 718q11 13 17 28" stroke="rgb(134, 44, 176)"/>
<path d="M774 715q6 16 6 34M775 718q3 15 11 27M773 719q2 15 10 28M783 729q1 -6 4 -12M771 737q-5 -3 -11 -5M775 717q5 17 14 32M778 718q2 18 11 33M772 742q-4 -3 -7 -5M781 721q3 13 9 26M771 739q-4 -5 -11 -6M767 728q3 13 10 25M773 724q-4 18 -4 36M780 721q1 18 9 34M773 740q-5 -2 -10 -5M770 727q8 14 9 31M783 727q4 14 4 28M789 741q3 -6 7 -13M766 731q9 14 21 25M788 739q4 -6 8 -10M777 732q5 11 3 24M782 728q3 16 1 33M770 735q10 11 23 20M782 732q0 15 -2 29M775 746q-6 -5 -12 -10M772 734q1 15 6 29" stroke="rgb(145, 42, 164)"/>
<path d="M777 738q7 11 16 20M776 736q-4 13 -5 27M775 752q-3 -4 -7 -4M781 733q-5 18 5 34M772 735q-0 19 12 33M791 752q4 -8 11 -12M790 738q-3 14 -3 28M789 754q3 -4 6 -6M788 737q-7 16 -11 33M773 743q2 11 -0 22M776 742q2 14 -1 27M773 756q-4 -4 -9 -8M779 743q-2 13 -4 25M779 741q-7 15 -10 31M788 756q6 -4 12 -9M784 745q-2 14 -9 27M773 761q-3 -4 -7 -8M790 749q-1 11 -2 23M790 750q1 12 -1 24M774 755q-5 -6 -10 -12M792 748q-8 13 -11 29M778 751q1 12 -4 22M788 747q-4 17 -13 33M774 758q-2 -7 -6 -13M788 749q-12 13 -17 30M787 765q6 -5 12 -9" stroke="rgb(156, 40, 151)"/>
<path d="M786 752q-6 13 -13 26M784 749q-6 17 -8 35M785 753q-2 15 -7 30M778 752q-4 14 -11 27M773 763q-4 -6 -8 -11M775 756q3 14 7 28M784 770q4 -3 9 -7M777 753q-2 16 -4 33M797 762q-12 11 -18 26M777 757q-2 13 -7 24M787 765q-10 9 -23 15M788 766q-9 10 -17 20M780 764q-8 9 -18 15M783 764q-10 10 -22 18M774 762q-5 10 -13 18M785 764q-12 13 -27 21M784 782q7 1 13 -1M781 763q-6 16 -18 27M784 774q-9 7 -18 14M792 780q-15 7 -32 9M776 787q5 0 9 -0M785 770q-14 9 -29 18" stroke="rgb(168, 38, 139)"/>
<path d="M778 769q-8 10 -16 20M779 775q-9 7 -20 9M763 773q1 -6 1 -12M782 776q-15 3 -26 13M785 788q-14 1 -27 3M771 787q7 5 13 9M762 774q4 -6 7 -12M781 778q-14 5 -26 12M773 788q6 6 15 5M781 780q-16 -1 -32 -1M777 780q-11 6 -21 12M765 791q5 5 12 6M777 783q-11 6 -24 3M773 779q-9 6 -20 10M766 792q5 2 10 4M762 778q4 -7 6 -15M779 784q-17 3 -33 0M773 776q-13 4 -25 10M774 785q-13 3 -25 8M764 791q5 5 10 10M775 785q-14 5 -29 6M772 776q-13 12 -30 12M771 786q-12 7 -23 15M769 771q-15 9 -27 20M760 795q4 1 8 3M771 780q-17 4 -35 2" stroke="rgb(179, 36, 127)"/>
<path d="M770 782q-14 11 -27 24M767 793q-11 2 -23 1M767 784q-15 2 -30 3M762 775q-13 5 -24 14M751 782q1 -8 4 -15M768 790q-16 3 -31 8M760 784q-10 6 -22 8M754 797q6 1 11 2M765 783q-14 10 -31 15M758 774q-9 14 -23 24M745 782q2 -4 2 -8M764 790q-17 -3 -33 1M746 796q6 5 13 6M756 781q-12 5 -21 15M745 780q2 -5 4 -9M756 777q-13 9 -24 21M748 795q5 -0 9 3M757 784q-14 3 -29 0M743 782q0 -5 3 -10M753 781q-12 5 -22 15M740 780q-3 -9 4 -16M757 784q-16 3 -31 10M746 798q7 2 13 6M754 789q-12 4 -24 6M738 784q-1 -6 3 -10M755 790q-15 1 -29 2M751 781q-12 9 -28 10" stroke="rgb(189, 34, 115)"/>
<path d="M748 783q-9 9 -18 18M752 790q-15 -0 -30 5M756 799q-16 4 -33 6M747 787q-10 10 -23 16M745 774q-15 8 -32 9M740 799q6 3 10 8M730 786q3 -6 4 -13M741 773q-11 12 -22 24M747 787q-15 5 -29 12M731 787q1 -5 5 -8M747 788q-17 -2 -32 6M743 788q-11 8 -24 15M739 784q-10 8 -21 14M727 788q1 -7 6 -11M740 792q-11 4 -22 7M741 789q-14 6 -27 14M744 801q-15 0 -29 2M722 791q2 -5 4 -10M738 796q-11 3 -21 8M735 790q-11 4 -21 7M722 791q4 -4 6 -9M737 788q-13 8 -27 12M737 793q-13 6 -27 9M723 804q5 1 7 5M737 801q-13 -1 -27 1M723 792q4 -4 7 -8" stroke="rgb(198, 33, 104)"/>
<path d="M740 788q-14 5 -25 15M734 787q-9 7 -18 14M728 806q7 1 15 2M736 787q-9 11 -22 17M734 789q-9 8 -18 17M732 780q-9 14 -22 24M722 793q3 -6 3 -13M729 786q-10 5 -20 12M727 785q-7 10 -12 21M736 792q-17 2 -31 12M739 800q-16 7 -33 9M725 806q7 -1 14 0M728 791q-8 9 -15 20M730 797q-9 7 -20 11M729 786q-17 9 -25 26M732 796q-16 4 -31 10M727 804q-12 -2 -23 -5M730 804q-10 6 -21 11M721 790q-8 10 -21 14M726 797q-10 10 -22 17M725 802q-11 4 -20 11M723 798q-11 8 -22 15M709 796q1 -8 3 -15M725 799q-16 5 -31 10M719 813q7 2 14 3M725 807q-10 6 -20 13M724 806q-8 10 -18 18M718 796q-12 10 -26 14M716 798q-8 11 -20 17M703 803q2 -6 2 -13M722 800q-16 9 -24 26" stroke="rgb(207, 31, 94)"/>
<path d="M719 803q-13 6 -25 14M714 803q-11 4 -20 13M699 807q1 -5 2 -11M708 797q-5 11 -12 21M712 819q6 3 12 2M712 800q-15 3 -29 11M715 806q-14 3 -22 14M709 800q-4 14 -13 26M717 810q-14 5 -27 12M696 809q0 -7 1 -14M712 802q-13 10 -23 22M709 822q8 1 16 4M716 811q-12 8 -25 17M709 822q7 -2 14 -1M706 806q-7 9 -13 19M695 810q-1 -8 3 -15M714 809q-14 9 -24 22M709 810q-8 11 -16 21M697 811q-1 -7 4 -13M711 811q-16 2 -29 9M695 810q-1 -6 -0 -12M710 812q-13 6 -24 15M709 814q-13 4 -26 9M710 817q-15 2 -29 7M709 810q-16 9 -27 23M708 820q-14 -2 -29 -2M707 823q-15 1 -29 -5M693 815q6 -5 12 -9M708 827q-17 1 -33 -8M692 828q2 4 6 6M705 821q-14 -4 -29 -8M703 830q-13 -6 -27 -11M689 830q3 4 7 7M700 831q-13 -4 -24 -11M688 828q4 8 12 12M689 812q9 0 16 -6M700 832q-16 -0 -32 -3M694 812q5 -2 9 -6M700 824q-12 -8 -24 -15" stroke="rgb(216, 30, 83)"/>
<path d="M700 823q-15 -1 -29 -5M683 826q3 4 6 9M699 829q-15 -9 -28 -21M698 829q-16 -6 -31 -15M694 824q-7 -11 -20 -16M692 824q-8 -9 -18 -14M692 828q-9 -12 -17 -25M692 827q-14 -7 -26 -18M680 820q0 8 1 16M693 819q-7 -9 -16 -17M673 818q3 5 2 11M690 806q4 -1 8 -2M695 815q-12 -2 -22 -10M672 821q1 5 2 9M688 810q6 -1 12 -0M685 824q-8 -9 -16 -16M693 823q-11 -13 -21 -28M679 830q-3 -16 -5 -32M684 806q8 0 16 -1M677 830q-3 -15 -10 -29M684 826q-11 -14 -14 -31M672 816q-1 7 -3 14M685 824q-6 -16 -11 -33M680 825q-1 -17 -5 -34M689 816q-8 -10 -16 -21M669 815q-4 4 -2 10M681 821q-10 -11 -18 -24M682 816q-6 -11 -17 -18M679 822q-7 -17 -19 -31M672 822q1 -17 0 -35M685 813q-5 -11 -13 -20M667 803q-5 5 -11 10M674 820q-5 -17 -7 -35M678 817q-6 -15 -14 -30M666 804q-3 2 -6 6" stroke="rgb(225, 28, 72)"/>
<path d="M662 814q3 -14 10 -27M667 817q0 -17 2 -35M659 813q4 -15 10 -30M667 813q2 -15 6 -31M675 813q-0 -15 0 -31M680 815q6 -16 10 -32M680 798q4 4 7 10M680 812q3 -14 6 -27M664 792q-6 5 -14 7M675 807q5 -11 4 -22M668 806q4 -15 16 -25M658 803q5 -17 10 -33M671 793q-7 1 -15 2M678 807q8 -11 11 -25M669 786q-6 4 -12 5M667 800q11 -9 23 -16M674 807q11 -11 19 -26M687 794q3 8 0 15M669 804q8 -15 17 -30M671 786q-5 1 -10 2M665 791q10 -5 20 -10M673 805q2 -18 14 -31M676 806q13 -12 26 -22M668 793q10 -9 18 -19M676 802q11 -11 18 -24M676 805q12 -12 22 -26M671 789q9 -8 19 -14M673 791q10 -6 20 -13M675 797q10 -12 23 -20M675 797q12 -12 22 -25M680 799q9 -11 17 -23M686 788q-2 4 -1 9" stroke="rgb(230, 27, 65)"/>
<path d="M670 784q15 -4 31 -4M685 775q-4 -4 -10 -5M677 793q11 -8 23 -14M680 793q10 -5 20 -11M674 779q13 -7 27 -5M674 787q16 -5 32 -7M689 773q-3 -4 -8 -7M692 786q-5 3 -7 8M675 772q15 5 30 11M689 786q-5 3 -8 9M678 772q13 8 27 14M677 774q16 3 31 9M696 788q-3 4 -6 7M679 780q14 3 29 4M692 787q-4 3 -8 7M676 785q17 -2 35 -2M695 772q-3 -3 -6 -7M684 775q12 2 23 8M685 770q12 8 27 11M702 772q-3 -6 -7 -12M691 788q-4 2 -8 4M681 774q17 5 35 6M691 767q9 10 19 19M685 776q16 3 31 9M683 777q15 9 33 14M697 789q-5 2 -10 4M676 792q15 8 29 17M693 766q12 13 23 26M706 777q-2 -7 -3 -14M699 786q-7 1 -12 5M694 777q6 11 14 20M696 774q5 13 15 22M701 773q5 11 7 23M697 769q13 11 27 22M696 780q6 9 13 18M693 783q4 12 14 19M699 789q-6 -2 -11 1M702 775q9 9 17 20M712 783q-1 -6 3 -9" stroke="rgb(234, 25, 59)"/>
<path d="M694 780q7 15 18 25M701 790q-7 -3 -14 -4M705 777q6 10 10 21M708 778q7 9 9 21M700 795q-8 0 -15 -2M695 781q8 14 17 28M715 787q1 -8 0 -16M688 785q13 11 26 23M702 795q-7 1 -14 -1M699 784q11 9 21 20M705 794q-4 -3 -9 -4M709 782q-2 13 -1 26M704 784q7 10 10 23M721 779q9 10 11 24M718 779q3 15 5 31M720 783q1 12 2 25M715 785q6 12 3 25M723 798q7 -3 8 -11M707 782q-0 18 4 35M705 783q-3 17 -6 35M704 803q-7 -3 -10 -9M718 787q-6 13 -5 28M712 786q0 16 -0 33M712 792q-2 11 -4 22M720 792q-5 13 -10 26M709 791q-1 16 7 30M710 788q-3 17 -4 34M720 807q6 -2 12 -6M710 795q-0 13 4 25M724 798q-11 10 -16 23M731 799q-8 13 -13 27M702 811q-3 -3 -3 -8M705 794q1 14 -3 28M717 810q3 -2 7 -3" stroke="rgb(239, 24, 52)"/>
<path d="M715 800q-3 12 0 25M710 797q2 16 -3 30M705 809q-2 -7 -5 -13M724 799q-10 15 -16 32M711 800q-8 12 -12 25M721 801q-4 18 -16 31M702 798q-4 14 -4 28M713 803q2 16 1 32M715 822q6 -6 14 -9M702 815q-1 -4 -3 -9M716 809q-5 10 -11 19M715 809q-7 12 -19 19M700 801q2 14 -3 28M722 814q-14 5 -20 19M707 807q-4 12 -11 24M709 826q5 0 10 -1M700 818q-3 -5 -5 -11M705 809q-5 10 -7 21M711 827q5 -4 11 -5M716 817q-9 8 -15 18M711 810q-3 16 -6 32M698 818q1 -7 -0 -14M706 806q-7 14 -16 29M705 811q-11 8 -21 17M710 812q-7 15 -17 28M713 816q-14 9 -27 20M692 819q-0 -6 -1 -12M711 821q-10 6 -16 17M706 829q7 -2 14 -3M700 811q-2 14 -8 27M705 812q-11 13 -19 28M712 822q-7 12 -15 24M690 823q-3 -6 -5 -12M699 814q-6 13 -11 26M706 833q7 1 14 1M705 819q-5 14 -14 26" stroke="rgb(244, 23, 45)"/>
</g>
<g clip-path="url(#k22)">
<path d="M1009 775q10 2 18 8M1032 766q-7 7 -10 16M1017 755q0 10 1 21M1029 759q-3 12 -5 25M1021 758q5 11 14 19M1011 769q1 13 3 26M1026 761q0 10 -2 20M1008 764q12 5 24 5" stroke="rgb(46, 77, 237)"/>
<path d="M1017 764q-0 14 -6 27M1025 774q-2 11 3 21M1009 764q1 13 5 25M1022 764q3 10 1 20M1018 767q2 12 7 22M1003 758q7 10 15 20M1026 755q9 10 14 22M1022 757q6 13 3 26" stroke="rgb(49, 75, 235)"/>
<path d="M1012 784q10 6 22 7M1038 768q-13 3 -26 9M1021 772q8 10 17 18M1032 765q-8 9 -18 16M1026 772q7 9 11 19M1017 773q5 9 8 20M1027 786q-3 10 -11 15M1006 769q13 2 25 -2" stroke="rgb(52, 73, 233)"/>
<path d="M1031 767q4 10 10 18M1010 780q7 10 12 22M1010 753q8 8 18 14M1005 769q10 6 17 15M1019 778q-11 4 -21 11M1005 776q12 -3 24 -8M1009 781q12 1 25 1M1014 768q9 -2 18 -6" stroke="rgb(55, 70, 231)"/>
<path d="M1013 778q6 13 3 28M1018 770q2 10 5 19M1026 775q3 12 12 22M1031 787q-1 10 6 17M1011 772q7 8 11 18M1029 766q-4 11 -2 23M1032 756q3 13 2 27" stroke="rgb(57, 68, 229)"/>
<path d="M1018 760q8 9 11 20M1018 761q9 7 11 17M1036 775q-8 8 -12 18M1015 769q8 9 17 18M1010 768q10 6 20 11M1011 785q10 -1 19 -0M1008 774q8 6 19 8M1026 771q-11 2 -20 7" stroke="rgb(60, 66, 228)"/>
<path d="M1032 760q-5 11 -15 18M1028 772q-1 11 -5 22M1022 777q3 11 5 23M1013 774q7 8 14 17M1029 769q-4 8 -9 16M1026 770q-3 9 -8 17M1016 770q1 11 4 23M1003 768q13 -5 26 -4" stroke="rgb(63, 64, 226)"/>
<path d="M1025 753q4 12 7 24M1044 768q-8 6 -16 13M1033 766q-5 8 -9 16M1022 772q10 5 20 11M1021 757q8 7 14 16M1016 774q9 4 17 10M1011 750q9 11 15 23M1023 754q5 11 14 19" stroke="rgb(66, 62, 224)"/>
<path d="M1023 769q6 12 11 24M1019 765q9 5 20 7M1022 778q10 3 20 7M1016 774q6 10 14 19M1016 760q6 10 12 21M1029 762q-4 13 -6 27M1009 757q9 10 16 21M1012 771q11 7 22 13" stroke="rgb(69, 60, 221)"/>
<path d="M1026 769q-3 9 -3 19M1036 768q-11 2 -21 5M1012 769q2 11 9 19M1003 764q10 5 20 11M1023 762q6 10 6 23M1028 769q-4 9 -9 17M1025 769q4 10 2 20" stroke="rgb(80, 57, 214)"/>
<path d="M1016 764q9 5 18 11M1010 776q4 9 5 19M1027 757q-4 12 -8 24M1014 784q12 -1 24 2M1009 745q6 12 14 22M1012 778q4 10 2 20M1017 757q5 8 8 17M1013 759q13 5 21 17" stroke="rgb(90, 54, 207)"/>
<path d="M1012 800q11 -0 21 -2M1025 772q12 -3 23 2M1018 771q7 11 9 23M1035 776q-11 3 -23 2M1023 775q9 -0 18 1M1025 758q-2 11 -10 19M1019 780q5 8 11 15M1016 764q-5 12 -3 25" stroke="rgb(101, 52, 200)"/>
<path d="M1019 765q3 9 3 18M1014 781q11 -1 22 1M1023 769q-8 8 -18 14M1020 765q-11 3 -16 14M1008 781q2 10 6 20M1015 763q11 6 22 13M1010 753q9 7 12 18M1012 777q11 -6 23 -3M1014 748q1 11 6 20M1032 771q-7 9 -15 18M1003 759q9 3 17 6M1023 781q6 9 6 19" stroke="rgb(112, 49, 193)"/>
<path d="M1013 747q6 11 11 22M1034 773q-1 9 -5 17M1006 744q7 9 19 10M1015 762q11 3 22 8M1004 763q7 -7 17 -7M1021 762q13 2 24 7M1033 768q-10 7 -20 12M1000 762q14 -4 28 1M1024 756q-2 14 3 26M1010 759q6 8 11 17M1020 750q-5 13 -3 27M1007 762q10 3 21 3M1002 767q7 12 15 23M1015 753q13 3 26 10M1027 773q-4 10 -8 20M1010 752q10 -0 19 3" stroke="rgb(123, 46, 186)"/>
<path d="M1028 748q-2 13 -9 23M1007 758q14 1 27 5M1027 755q-5 11 -12 22M1011 755q9 5 19 10M1014 753q-1 13 -2 26M1015 766q10 6 16 16M1018 763q10 -2 19 -2M997 767q9 -4 18 -2M1002 762q9 7 18 13M1008 767q13 -2 25 3M1012 758q10 0 20 -1" stroke="rgb(134, 44, 176)"/>
<path d="M1018 772q2 -12 7 -23M1011 768q9 -2 19 -1M1018 787q10 -9 20 -17M1013 761q10 5 19 12M1011 751q3 11 10 21M999 766q12 -6 25 -7M1015 761q10 7 22 11M1017 773q8 -8 10 -19M1005 761q11 7 21 16" stroke="rgb(145, 42, 164)"/>
<path d="M1010 758q8 7 16 15M997 770q9 11 23 8M1014 760q8 6 13 15M1020 746q9 8 18 14M1011 773q11 -8 25 -11M1009 747q13 -1 25 3M1016 765q12 -3 25 -4M1007 760q5 9 14 16M997 759q8 -7 17 -11M1000 748q-5 2 -11 1M996 757q9 -6 16 -15" stroke="rgb(156, 40, 151)"/>
<path d="M995 758q10 -8 21 -16M996 758q9 -10 20 -18M997 758q12 -7 22 -16M1003 745q-4 -1 -8 -1M1010 754q-0 3 0 7M1002 757q8 -8 13 -19M1005 745q-5 -1 -9 -3M1011 754q-3 5 -3 11M999 757q11 -7 22 -14M1003 754q10 -3 19 -8M1005 757q9 -6 16 -14" stroke="rgb(168, 38, 139)"/>
<path d="M1004 754q6 -12 12 -22M1004 752q11 -4 21 -6M1014 752q-2 3 -5 7M1006 747q9 1 18 2M1010 739q-6 1 -10 -3M1005 745q10 -1 21 -0M1003 746q13 -1 26 -5M1017 751q-3 3 -5 6M1005 749q12 1 24 -0M1020 741q-3 -3 -5 -6M1005 737q13 4 26 7M1016 750q-4 3 -8 5" stroke="rgb(179, 36, 127)"/>
<path d="M1009 746q10 -5 20 -3M1018 740q-2 -4 -5 -8M1020 750q-2 3 -5 4M1009 746q11 -2 22 -5M1022 740q-3 -3 -5 -7M1011 750q10 1 20 -3M1023 741q-5 -3 -8 -8M1012 740q11 3 22 6M1019 750q-3 1 -6 4M1015 736q7 11 19 15M1023 738q-1 -4 -4 -7M1016 735q11 6 20 14M1013 742q14 3 26 9" stroke="rgb(189, 34, 115)"/>
<path d="M1019 739q7 8 16 13M1023 749q-3 1 -6 2M1018 743q10 5 20 7M1021 743q9 3 16 10M1017 746q13 1 24 5M1020 750q9 2 19 4M1031 743q-1 -4 -3 -8M1026 737q9 3 18 6M1019 748q12 7 23 15M1031 753q-6 -2 -10 2M1024 746q9 5 18 9" stroke="rgb(198, 33, 104)"/>
<path d="M1024 746q12 3 21 9M1037 743q-1 -6 -3 -11M1025 743q9 9 19 18M1031 740q8 7 14 17M1035 756q-4 -1 -7 2M1027 747q13 1 25 4M1034 755q-3 1 -6 3M1031 742q9 8 15 19M1032 744q8 9 14 19M1029 747q13 4 25 11M1039 757q-3 -1 -6 1" stroke="rgb(207, 31, 94)"/>
<path d="M1030 753q9 6 19 9M1042 752q-1 -3 -1 -6M1032 748q10 6 19 14M1036 751q9 2 18 3M1040 741q8 8 17 15M1034 754q11 1 22 5M1037 749q10 6 19 13M1038 753q9 5 17 10M1047 752q1 -6 0 -12" stroke="rgb(216, 30, 83)"/>
<path d="M1038 756q10 2 21 2M1036 759q11 2 19 10M1043 753q8 6 17 9M1041 750q10 11 23 14M1044 754q7 7 15 14M1046 753q7 8 16 13M1045 753q9 8 18 17" stroke="rgb(225, 28, 72)"/>
<path d="M1045 753q9 9 16 20M1057 757q-0 -5 1 -9M1052 765q-5 -3 -11 -1M1044 763q9 4 19 5M1054 768q-3 -1 -6 -1M1045 760q12 5 24 4M1061 762q-2 -5 -2 -10M1047 761q8 4 16 10M1060 759q1 -4 1 -7M1054 750q5 12 15 21M1063 760q-3 -5 -3 -11M1051 754q8 11 21 16M1050 763q9 4 19 6" stroke="rgb(230, 27, 65)"/>
<path d="M1051 761q8 8 17 14M1053 761q6 9 12 17M1053 762q10 5 21 10M1059 771q-6 1 -11 2M1052 763q12 5 21 13M1054 761q10 7 21 15M1055 764q4 11 11 20M1052 771q12 1 23 5" stroke="rgb(234, 25, 59)"/>
<path d="M1058 760q11 9 18 21M1059 778q-3 -0 -7 0M1057 769q8 6 17 11M1053 779q10 -2 19 1M1063 767q6 7 11 15M1068 779q-5 2 -10 1M1063 767q5 9 9 19M1068 779q-5 -1 -11 -1M1065 765q7 8 15 15M1063 771q5 8 10 16M1065 783q-6 2 -12 3" stroke="rgb(239, 24, 52)"/>
<path d="M1062 771q11 5 21 12M1068 770q-0 11 5 20M1068 767q8 9 16 18M1071 784q-6 1 -11 0M1072 766q8 10 11 21M1070 772q6 8 13 14M1070 774q8 6 18 7M1081 776q1 -4 2 -9M1066 780q9 3 16 8M1071 787q-4 -0 -7 1M1067 778q7 8 13 16M1081 777q-2 -4 -0 -9" stroke="rgb(244, 23, 45)"/>
</g>
<g clip-path="url(#k23)">
<path d="M1289 696q-1 19 -9 35M1277 698q14 7 21 21M1288 697q-13 13 -27 25M1293 685q-10 16 -19 33M1271 713q11 10 23 19M1273 703q-5 17 -13 32M1283 716q-11 8 -22 18M1244 696q16 5 32 10M1301 706q-12 15 -24 31M1285 708q-11 9 -23 18M1293 691q-2 18 -18 28M1290 709q-2 19 -4 39M1281 727q-16 3 -31 6M1256 700q15 6 30 12M1290 728q-16 -4 -32 -8M1284 692q4 21 22 33M1252 699q14 10 24 25M1281 686q6 15 15 29M1285 672q-18 0 -35 7M1285 702q-5 16 -7 32M1305 718q-16 2 -31 0" stroke="rgb(46, 77, 237)"/>
<path d="M1280 676q6 17 12 33M1289 703q7 16 6 34M1276 699q6 14 15 27M1283 705q-15 8 -26 21M1283 703q4 19 -2 37M1276 696q-10 11 -18 23M1267 701q17 8 31 19M1263 719q16 4 31 10M1256 658q8 14 11 29M1265 669q-0 -8 3 -16M1271 701q0 16 -4 31M1261 661q6 10 9 21M1258 659q1 16 5 31M1258 682q8 12 17 24M1248 664q11 12 19 27M1258 675q-8 1 -16 -2M1260 663q8 11 13 24M1295 722q-19 -6 -35 -17M1266 664q5 10 7 21M1278 680q10 16 19 33M1256 666q8 12 15 25M1266 660q8 16 6 35M1283 694q-13 14 -31 21M1259 665q1 17 7 33M1251 670q10 14 25 24M1261 685q-8 -1 -16 -3M1267 676q11 16 22 32M1257 671q5 13 9 26M1258 674q8 9 17 18M1277 728q9 16 27 15M1262 671q7 14 7 29M1273 679q1 -8 4 -14M1261 671q6 14 14 27M1276 679q3 -3 4 -7M1282 697q7 11 14 24M1263 672q7 14 10 28M1264 694q12 9 26 8M1262 675q4 13 8 25M1275 686q1 -7 3 -14M1271 673q2 13 4 27M1276 687q5 -5 5 -13M1291 707q1 16 -3 32M1260 677q9 12 17 26M1263 676q8 13 10 28M1275 691q4 -3 5 -9M1255 720q14 0 27 6M1260 680q7 13 18 22M1268 681q-1 12 1 24M1281 691q3 -3 5 -8M1279 690q3 16 1 33M1266 677q13 13 18 30M1276 692q3 -5 5 -11M1269 682q-0 13 8 23M1266 700q-4 -4 -8 -8M1255 726q19 3 39 6" stroke="rgb(49, 75, 235)"/>
<path d="M1265 686q7 9 13 19M1276 698q4 -4 8 -8M1263 653q17 7 33 16M1273 683q1 13 1 26M1264 686q3 13 11 24M1280 698q2 -6 5 -11M1280 678q0 19 6 36M1264 688q4 12 9 23M1271 688q4 12 2 24M1270 708q-3 16 -13 29M1268 687q5 14 8 28M1279 700q5 -4 7 -11M1274 684q7 17 3 34M1280 704q1 -6 5 -11M1254 710q8 15 14 32M1279 687q-4 15 1 30M1272 693q1 11 1 23M1277 727q4 14 16 22M1268 694q1 12 3 24M1280 707q3 -3 5 -7M1282 678q2 16 6 31M1266 693q5 14 6 30M1266 712q-4 -3 -8 -5M1271 693q4 15 5 30M1270 707q-4 -2 -7 -5M1266 709q14 0 26 8M1276 695q0 12 3 24M1272 696q7 13 5 28M1270 710q-4 -2 -8 -3M1310 675q-9 15 -14 32M1273 694q9 14 11 30M1269 696q3 16 11 31M1272 715q-7 -4 -16 -5M1300 707q-7 19 -19 35M1271 702q0 12 5 23M1283 713q-1 -8 4 -14M1275 701q3 12 10 23M1283 709q3 -3 5 -7M1290 684q-1 20 -12 37M1265 701q12 14 18 31M1284 709q1 -8 3 -16M1279 688q-5 15 -14 29M1266 703q6 16 16 28M1281 696q6 16 6 34M1279 687q-3 17 -11 33M1271 706q-3 15 7 27M1270 705q6 15 14 29M1262 702q2 20 15 35M1273 702q9 16 21 29M1269 710q6 14 18 23M1276 726q-5 0 -10 -0M1271 714q15 10 33 13M1270 711q13 7 26 15M1285 719q2 -5 2 -11M1266 714q16 7 29 19M1277 726q-8 -1 -15 -0M1266 682q11 13 21 28M1275 710q9 11 22 19M1278 727q-7 -4 -15 -5M1269 723q13 3 26 3M1278 702q8 11 14 23M1270 717q13 9 24 19M1284 694q7 16 24 21M1272 712q11 14 24 26M1291 720q-1 -4 -2 -8M1278 718q9 7 13 18M1293 697q3 17 -9 29M1283 708q8 12 17 24M1276 724q8 8 19 12M1300 733q-12 -5 -25 -9M1277 722q10 7 21 13M1277 716q13 11 27 19M1277 696q-15 7 -27 19M1276 720q17 4 31 14M1288 734q-6 3 -12 3" stroke="rgb(52, 73, 233)"/>
<path d="M1277 719q15 9 29 19M1249 742q15 6 31 10M1280 726q11 5 23 10M1294 721q-2 -4 -4 -8M1292 702q-10 9 -16 21M1281 722q12 8 25 14M1280 728q13 6 27 8M1282 696q-12 13 -23 28M1285 720q10 10 23 16M1301 726q-2 -4 -2 -8M1283 726q11 10 21 22M1304 716q-17 -3 -35 -1M1285 721q13 10 28 12M1296 737q-7 5 -15 5M1282 730q14 11 31 12M1294 740q-7 5 -15 4M1269 711q-8 19 -6 39M1284 735q16 1 31 2M1303 746q1 -15 6 -30M1278 715q-11 11 -20 23M1309 742q-11 -11 -21 -22M1280 693q5 19 4 39M1298 747q-7 -14 -13 -28M1304 724q8 -1 14 3M1309 740q-12 -10 -20 -23M1304 726q7 1 15 2M1261 688q15 6 29 14M1303 739q-5 -11 -11 -21M1289 730q-3 8 -2 16M1305 723q8 -1 16 2M1305 737q-5 -11 -9 -22M1309 731q-13 -4 -24 -10M1304 737q-11 -9 -20 -21M1301 740q-6 -15 -12 -30M1305 723q8 3 17 3M1301 733q-6 -10 -12 -19M1291 723q-3 7 -6 14M1297 740q-3 -17 -8 -34M1290 728q-2 4 -3 8M1305 732q-8 -12 -17 -23M1297 733q-1 -13 -5 -26M1299 732q-8 -12 -16 -23M1297 729q-1 -12 -2 -24M1304 725q-14 -5 -22 -17M1288 719q-2 6 -3 12M1300 713q6 3 12 6M1300 726q-11 -8 -19 -19M1296 715q6 -1 12 2M1299 726q-9 -10 -13 -23M1303 725q-7 -13 -16 -24M1296 728q-5 -15 -11 -30M1292 723q-12 -6 -12 -20M1296 714q4 2 8 3M1297 722q-4 -11 -7 -23M1294 724q6 -13 5 -26M1299 712q3 5 9 7M1282 725q3 -17 11 -33M1290 722q4 -14 7 -28M1297 709q6 5 10 11M1278 721q7 -15 13 -31M1295 709q3 4 5 8M1286 723q7 -17 6 -35M1298 707q5 4 8 9M1290 722q1 -17 8 -32" stroke="rgb(55, 70, 231)"/>
<path d="M1291 719q9 -12 12 -26M1294 717q1 -13 4 -26M1297 702q1 5 1 10M1287 716q8 -13 14 -27M1286 715q6 -14 12 -29M1287 694q-5 0 -8 3M1281 710q9 -11 18 -23M1284 709q6 -12 10 -25M1292 715q2 -17 14 -30M1289 693q-5 2 -10 5M1282 704q12 -7 23 -16M1301 705q-1 8 1 15M1289 705q6 -10 9 -21M1285 709q9 -16 20 -30M1301 703q1 5 -2 9M1293 712q12 -8 22 -17M1290 705q11 -7 22 -13M1304 700q-2 5 1 10M1285 697q9 -9 20 -17M1291 702q11 -6 19 -17M1294 705q11 -6 21 -14M1304 698q-1 5 -2 10M1282 693q10 -13 25 -19M1285 696q11 -11 23 -21M1294 686q-7 -2 -13 -2M1308 698q0 5 1 11M1291 700q16 -3 29 -11M1292 699q10 -12 25 -16M1293 703q14 -10 25 -24" stroke="rgb(57, 68, 229)"/>
<path d="M1292 698q15 -5 30 -13M1294 695q8 -11 20 -16M1309 696q0 6 -1 11M1299 702q7 -14 17 -26M1300 694q4 -11 9 -22M1300 695q11 -6 23 -11M1311 689q-0 8 -3 15M1296 692q11 -9 21 -20M1297 697q8 -16 22 -28M1316 691q-1 5 -3 11M1292 687q16 -5 29 -14M1297 690q15 -6 26 -18M1296 691q14 -11 24 -25M1310 677q-8 -3 -15 -5M1310 699q9 -9 14 -21M1301 687q7 -12 15 -23M1308 692q9 -7 18 -14M1296 683q16 -8 32 -12M1321 688q-1 5 -2 10M1304 688q8 -12 19 -21M1323 685q-1 5 -1 10M1306 686q10 -8 22 -14" stroke="rgb(60, 66, 228)"/>
<path d="M1304 684q10 -9 22 -16M1312 672q-8 -2 -15 -3M1312 691q9 -10 18 -19M1300 678q14 -8 30 -10M1303 678q16 -3 31 -7M1319 674q-8 1 -17 1M1327 684q-1 4 -3 8M1307 680q12 -6 25 -11M1326 682q-3 8 1 16M1319 691q7 -9 16 -15M1312 690q12 -13 26 -24M1313 680q6 -11 15 -19M1318 687q7 -10 16 -20M1316 684q11 -8 23 -15M1315 684q13 -7 25 -16M1324 665q-4 -2 -8 -3M1309 676q17 -5 33 -10M1314 675q11 -7 24 -12M1318 685q11 -14 19 -30M1315 676q12 -9 25 -17M1328 667q-5 -2 -10 -1M1317 678q13 -8 25 -17" stroke="rgb(63, 64, 226)"/>
<path d="M1317 679q13 -10 25 -22M1333 676q-5 5 -5 12M1318 673q13 -5 24 -12M1324 677q9 -7 18 -14M1325 660q-6 -3 -13 -3M1317 673q11 -11 26 -19M1325 677q8 -10 17 -19M1324 672q14 -2 27 -4M1336 673q-2 7 -5 13M1328 681q12 -8 21 -19M1319 663q10 -10 25 -10M1323 669q13 -7 26 -12M1324 670q10 -13 19 -26M1331 675q7 -12 14 -24M1331 682q12 -13 21 -29M1332 675q12 -6 22 -15M1329 664q11 -5 22 -9M1337 657q-5 -3 -10 -5M1328 667q11 -11 24 -19M1345 669q-2 7 -2 14M1330 667q11 -10 22 -21M1342 655q-5 -4 -12 -4" stroke="rgb(66, 62, 224)"/>
<path d="M1330 661q10 -8 22 -13M1350 668q-3 6 -2 12M1332 671q13 -9 29 -12M1331 665q13 -8 27 -17M1330 667q19 1 35 -9M1331 664q17 -3 33 -8M1335 664q15 0 30 -2M1333 658q15 -2 30 -7M1331 650q17 2 33 1M1342 664q9 -7 18 -15M1340 660q13 -2 26 -4M1340 655q11 -5 24 -6M1352 663q-3 8 -4 16M1341 663q14 -4 28 -10M1351 649q-8 -2 -12 -9M1340 653q13 -4 26 -8M1344 652q11 2 22 1M1357 652q-7 -1 -10 -7M1357 664q-2 4 -5 8M1339 657q17 -4 35 -6M1358 663q-5 5 -3 12M1345 649q12 -1 23 2M1361 662q-4 6 -9 13" stroke="rgb(69, 60, 221)"/>
<path d="M1347 662q13 -2 26 -5M1347 659q13 -4 27 -6M1360 663q-3 4 -6 8M1346 654q15 6 31 5M1361 650q-4 -2 -8 -5M1364 664q-2 4 -5 8M1350 664q12 -6 25 -10M1353 662q9 -9 21 -13M1368 665q-6 2 -8 9M1349 648q15 7 31 12M1355 658q10 -6 20 -10M1349 644q17 6 34 6M1366 660q-4 3 -7 6M1355 657q12 2 24 5M1352 654q16 -4 32 -1M1352 650q17 -1 34 0M1369 661q-4 4 -10 7M1359 652q11 1 22 5M1356 648q17 -3 33 1M1371 646q-4 -5 -4 -11M1361 653q11 2 23 6M1358 655q15 3 29 8M1356 672q14 1 27 -1M1370 663q-7 5 -15 4" stroke="rgb(80, 57, 214)"/>
<path d="M1360 651q16 -2 32 2M1376 648q-0 -7 -5 -12M1361 650q15 6 29 13M1368 648q11 3 22 2M1377 650q-3 -5 -8 -10M1363 648q17 4 34 7M1362 653q17 0 33 7M1373 641q8 11 17 22M1381 652q-4 -7 -5 -16M1370 656q11 0 22 2M1367 652q15 5 27 17M1371 649q13 8 24 17M1369 652q15 6 31 10M1379 665q-7 2 -14 6M1368 657q17 -1 34 0M1382 667q-7 3 -13 5M1370 653q15 7 31 12M1381 669q-7 4 -15 9M1368 661q16 6 31 12M1393 651q-4 -7 -7 -15M1377 652q11 5 22 13M1373 654q16 4 31 11M1389 657q1 -9 -2 -17M1373 653q17 6 35 9M1374 654q16 8 31 17M1391 654q-2 -5 -5 -9" stroke="rgb(90, 54, 207)"/>
<path d="M1382 652q4 15 13 27M1375 659q17 2 35 2M1381 658q11 5 23 9M1380 660q11 5 23 9M1397 659q-1 -6 -4 -12M1387 668q-5 0 -10 1M1381 652q13 11 24 23M1391 670q-5 3 -11 2M1387 655q8 8 19 12M1381 665q16 -0 31 -3M1382 659q12 9 25 17M1384 657q11 11 21 23M1392 649q12 11 18 26M1385 666q11 4 21 9M1390 676q-6 -0 -12 3M1391 658q9 9 20 15M1389 664q11 3 20 11M1387 669q12 -1 22 6M1398 654q6 11 15 21M1397 672q-6 4 -13 2M1391 656q19 7 24 26M1405 665q1 -6 2 -11M1401 674q-7 0 -14 0" stroke="rgb(101, 52, 200)"/>
<path d="M1383 669q14 9 29 18M1411 665q-1 -7 -3 -15M1401 655q8 10 15 21M1394 667q10 5 19 12M1398 661q8 10 16 21M1410 667q-4 -7 -5 -15M1396 666q8 10 20 17M1414 665q-0 -7 1 -13M1398 660q10 12 19 25M1410 670q-1 -5 -3 -10M1401 666q11 3 22 7M1410 668q-2 -6 -4 -11M1398 665q13 9 18 25M1404 680q-6 1 -12 3M1406 662q4 13 9 25M1405 682q-7 1 -13 -0M1395 671q11 11 26 15M1404 667q11 6 20 15M1405 683q-7 2 -12 -2M1397 669q11 13 24 23M1404 668q12 5 23 13M1402 672q5 12 12 23M1421 673q-1 -5 -1 -10M1405 669q8 12 16 24M1408 687q-8 -2 -16 -4M1407 671q11 6 19 15" stroke="rgb(112, 49, 193)"/>
<path d="M1405 671q9 12 17 23M1422 675q1 -4 1 -8M1401 679q14 3 27 10M1404 680q11 5 23 7M1412 687q-7 -2 -14 -1M1404 680q7 10 11 21M1416 669q8 10 16 20M1424 681q-1 -6 -1 -11M1406 673q11 14 19 29M1425 678q0 -6 -1 -11M1416 674q10 6 19 12M1424 683q5 -5 4 -12M1411 694q-7 -1 -13 -1M1411 680q8 7 17 15M1421 673q5 10 8 21M1425 683q-5 -8 -0 -16M1406 678q9 15 25 24M1428 685q-2 -5 -2 -11M1413 697q-4 -1 -8 -2M1415 680q7 10 13 19M1416 697q-4 -1 -9 -1M1415 675q10 12 15 28M1410 686q7 9 16 17M1414 679q10 13 13 29M1430 688q1 -8 4 -15M1405 690q15 4 29 11M1414 681q14 9 29 17" stroke="rgb(123, 46, 186)"/>
<path d="M1410 686q11 11 21 22M1431 690q2 -8 6 -15M1426 675q11 12 15 29M1419 698q-7 -3 -14 -6M1417 683q6 15 20 24M1433 688q1 -5 3 -10M1423 685q6 10 13 19M1408 691q10 13 22 25M1420 686q12 7 22 19M1433 694q-1 -5 0 -11M1410 696q12 6 22 15M1421 703q-5 0 -10 1M1421 689q6 13 6 28M1422 701q-8 -5 -16 -1M1413 691q8 17 25 26M1415 693q11 12 21 24M1425 689q2 16 5 31M1421 692q10 11 19 24M1411 698q16 7 26 22M1427 707q-9 -0 -16 -3M1427 693q2 14 15 21M1418 697q16 7 31 18M1423 692q7 16 15 33M1429 707q-4 -0 -8 -3" stroke="rgb(134, 44, 176)"/>
<path d="M1434 694q10 6 20 13M1430 708q-6 -3 -13 -5M1421 698q10 13 22 24M1428 712q-4 1 -8 -1M1430 695q8 12 18 23M1428 696q12 10 23 22M1444 705q1 -6 3 -13M1419 705q12 9 25 16M1433 700q6 10 14 18M1429 705q10 6 18 14M1434 701q8 9 13 21M1431 698q9 16 25 26M1436 701q3 13 7 26M1445 708q-2 -6 2 -11M1435 718q-8 -2 -16 -3M1443 693q3 17 12 32M1431 702q11 13 24 24M1446 714q3 -7 5 -14M1433 717q-6 -4 -13 -6M1435 707q3 11 6 23M1442 706q8 9 18 14M1437 702q13 12 27 24M1441 706q4 12 6 25" stroke="rgb(145, 42, 164)"/>
<path d="M1431 714q6 10 13 19M1431 711q12 10 22 22M1430 710q12 13 24 26M1454 718q4 -7 6 -15M1437 707q9 15 15 31M1435 712q9 13 8 29M1436 716q7 11 7 24M1450 720q2 -4 4 -8M1443 714q7 11 7 24M1451 723q3 -8 8 -15M1437 726q-4 -4 -9 -4M1442 715q5 12 6 24M1443 716q7 11 8 23M1440 718q12 7 21 18M1451 723q2 -6 6 -11M1443 718q10 9 21 17M1447 719q7 8 15 17M1445 717q8 11 13 25M1457 727q2 -5 6 -8M1442 715q4 18 11 34M1443 719q3 15 13 27M1451 719q1 14 2 27" stroke="rgb(156, 40, 151)"/>
<path d="M1449 721q3 13 5 26M1440 727q5 11 10 22M1451 724q4 11 11 21M1443 725q4 15 13 27M1451 723q5 13 11 27M1441 730q4 12 12 23M1449 727q1 14 8 25M1458 738q3 -4 6 -7M1449 728q6 13 7 27M1450 730q3 12 9 23M1449 728q2 17 13 29M1446 742q-4 -2 -6 -5M1451 728q6 15 7 31M1454 731q0 14 1 27M1447 731q1 18 -3 35M1450 737q4 11 2 23M1462 745q-1 -7 4 -11M1463 733q-4 13 -2 27M1451 736q4 13 10 26" stroke="rgb(168, 38, 139)"/>
<path d="M1441 741q-1 12 3 24M1448 751q-7 -1 -13 -4M1461 735q7 13 6 28M1451 737q9 14 14 30M1446 752q-3 -3 -7 -5M1449 742q5 11 12 21M1461 736q-2 17 1 35M1463 750q6 -5 11 -13M1465 735q1 18 3 35M1453 740q2 17 -5 33M1443 743q10 13 14 30M1450 759q-5 -7 -13 -8M1442 746q7 13 11 27M1449 757q-6 -2 -10 -6M1450 744q1 16 8 30M1444 749q9 11 8 25M1450 758q-5 -3 -11 -5M1456 750q-1 11 1 23M1453 747q2 16 8 31M1459 746q-6 16 -10 33M1463 764q6 -6 9 -14M1456 747q-3 17 1 33M1457 748q-0 17 -2 34" stroke="rgb(179, 36, 127)"/>
<path d="M1461 753q-4 13 -9 27M1448 768q-6 -2 -10 -7M1454 755q2 12 3 25M1450 764q-3 -2 -7 -4M1461 755q-3 13 -4 27M1451 765q-4 -2 -8 -5M1452 752q2 16 2 33M1457 758q-2 12 -0 24M1465 755q-7 16 -7 34M1454 757q2 14 -2 27M1440 757q7 14 12 28M1449 772q-5 -5 -7 -12M1464 761q-5 14 -13 26M1465 766q-6 10 -10 20M1460 765q-2 12 -8 22M1462 779q8 -3 14 -9M1459 761q-3 16 -8 31M1462 763q-6 15 -15 29M1457 767q-4 11 -10 21M1446 771q0 -6 -4 -11M1458 764q-9 12 -14 27M1462 770q-8 12 -17 22M1460 784q4 -1 8 -2" stroke="rgb(189, 34, 115)"/>
<path d="M1464 768q-10 14 -20 28M1465 778q-12 8 -25 8M1445 774q-1 -6 -2 -12M1459 774q-3 12 -12 22M1456 769q-7 13 -14 25M1463 776q-14 7 -26 17M1459 775q-10 11 -17 24M1466 786q-13 7 -25 15M1454 769q-11 9 -24 16M1454 790q4 2 8 2M1458 779q-13 7 -20 19M1442 778q2 -8 7 -15M1458 774q-16 8 -26 24M1450 794q8 -0 17 1M1459 786q-13 4 -27 4M1459 783q-15 4 -29 11M1445 782q2 -8 6 -15M1459 797q-11 5 -22 9M1455 787q-14 1 -27 -0M1454 782q-12 10 -24 18M1458 806q-15 -6 -30 -13" stroke="rgb(198, 33, 104)"/>
<path d="M1456 791q-16 0 -29 8M1453 785q-15 4 -31 7M1447 770q-13 10 -23 23M1450 780q-16 8 -28 21M1448 784q-14 1 -27 8M1451 800q-15 -2 -31 -4M1439 797q7 4 14 9M1435 784q5 -6 5 -14M1450 797q-16 -1 -33 0M1443 782q-12 1 -23 5M1444 789q-13 1 -26 1M1434 782q4 -7 7 -15M1444 790q-14 -0 -28 2M1444 801q-15 2 -29 -3M1441 788q-12 7 -25 10M1440 796q-12 -0 -24 2M1443 786q-16 7 -33 6M1437 793q-11 3 -23 3M1425 797q5 6 10 12M1442 784q-18 3 -34 -5M1440 787q-16 0 -32 -3" stroke="rgb(207, 31, 94)"/>
<path d="M1435 791q-13 2 -26 3M1433 799q-13 -6 -24 -16M1422 779q5 -3 10 -5M1436 791q-15 -2 -31 -3M1434 793q-15 1 -30 -0M1419 784q3 -3 6 -6M1434 791q-16 2 -32 -1M1432 793q-12 -9 -25 -15M1425 803q-12 -4 -26 -5M1433 786q-15 -2 -28 -7M1429 789q-13 -4 -27 -4M1426 790q-12 -4 -24 -5M1409 797q1 6 1 12M1422 799q-13 -5 -22 -15M1420 778q4 -1 8 -3M1423 791q-12 -3 -22 -9M1419 802q-13 -9 -26 -19M1418 779q6 -4 13 -3M1419 796q-8 -12 -16 -24M1406 792q-0 6 0 12M1423 796q-13 -13 -29 -19M1424 794q-16 -9 -29 -21M1404 787q1 6 1 12" stroke="rgb(216, 30, 83)"/>
<path d="M1416 793q-5 -12 -9 -25M1417 791q-7 -11 -20 -14M1416 797q-14 -9 -28 -20M1412 773q5 -0 11 -1M1420 793q-13 -12 -26 -25M1426 783q-15 -8 -30 -15M1414 788q-11 -6 -21 -14M1413 786q-5 -10 -9 -22M1416 783q-9 -7 -19 -14M1416 786q-7 -12 -17 -22M1407 795q-6 -17 -16 -31M1414 786q-9 -13 -16 -25M1410 785q-7 -11 -15 -22M1408 787q-4 -14 -14 -24M1393 782q-5 7 -8 14M1405 788q-6 -13 -16 -24M1397 791q-7 -12 -12 -26M1395 778q1 7 -1 14M1407 779q-2 -11 1 -23" stroke="rgb(225, 28, 72)"/>
<path d="M1398 785q-2 -12 -6 -24M1394 776q-1 7 -4 14M1395 784q-3 -11 -2 -23M1411 777q-6 -12 -14 -22M1412 781q-11 -14 -21 -29M1405 778q-13 -7 -24 -18M1402 766q6 1 12 4M1410 778q-5 -16 -19 -26M1398 780q-0 -15 -4 -30M1398 782q1 -18 -2 -36M1400 778q-9 -13 -17 -25M1391 775q6 -12 9 -25M1402 760q9 2 14 8M1398 777q-4 -15 -10 -29M1402 771q-5 -11 -8 -23M1386 767q-3 6 -3 13M1402 762q7 -2 11 3M1400 776q4 -18 -4 -35M1392 772q-4 -12 -5 -24M1399 775q-4 -17 -14 -33M1397 770q-3 -13 -5 -26M1388 756q-5 6 -10 12" stroke="rgb(230, 27, 65)"/>
<path d="M1402 771q-10 -14 -13 -32M1382 763q-2 5 -4 10M1389 768q-3 -11 -7 -22M1401 753q7 3 14 7M1399 769q-1 -18 2 -35M1386 770q-7 -13 -14 -25M1399 755q6 6 13 10M1385 766q8 -11 4 -24M1405 765q-9 -15 -17 -30M1383 757q-3 7 -9 12M1391 762q-8 -8 -14 -18M1400 765q-4 -18 -16 -32M1386 755q-3 7 -9 12M1400 758q-2 -12 -8 -22M1382 754q-4 7 -8 14M1400 763q-7 -16 -15 -31M1387 760q7 -13 8 -27M1397 748q4 2 7 6M1397 758q-3 -13 -9 -26M1381 751q-2 7 -6 14M1383 758q3 -12 2 -25M1384 758q-7 -12 -4 -25M1389 758q-4 -14 -2 -29M1395 741q8 1 14 6M1385 760q-4 -17 -1 -34" stroke="rgb(234, 25, 59)"/>
<path d="M1378 754q-3 -11 -3 -23M1394 742q5 4 9 9M1395 753q1 -14 0 -29M1388 754q-1 -15 1 -31M1382 738q-2 5 -5 9M1397 749q-8 -11 -16 -22M1397 739q6 4 11 7M1390 751q-3 -14 -7 -27M1395 748q-3 -12 -4 -25M1372 752q-1 -15 1 -29M1395 736q7 4 12 11M1383 747q-2 -12 -6 -25M1395 747q4 -15 4 -30M1396 734q4 3 8 6M1401 743q-4 -12 -2 -26M1386 746q-6 -15 -2 -30M1379 730q-5 4 -10 9M1397 732q5 2 8 7M1394 745q-2 -15 -5 -30M1387 742q-2 -13 -2 -26M1380 730q-3 6 -6 13M1393 743q-8 -14 -9 -31M1381 725q-6 4 -10 11M1386 743q-4 -16 -6 -32M1381 724q-4 7 -11 12M1388 740q-0 -14 2 -29" stroke="rgb(239, 24, 52)"/>
<path d="M1385 737q0 -12 3 -24M1380 725q-1 7 -7 11M1390 736q-3 -12 -3 -24M1381 741q2 -17 2 -35M1392 721q5 6 10 13M1392 736q-5 -14 -4 -28M1388 735q-7 -13 -11 -28M1378 734q-5 -13 -4 -26M1392 717q5 1 7 5M1381 732q2 -13 2 -26M1394 717q5 2 9 5M1387 729q-2 -11 -4 -22M1385 734q-7 -16 -9 -33M1396 720q2 9 10 12M1396 727q-5 -11 -10 -21M1377 717q-2 8 -10 12M1386 728q-1 -13 2 -25M1389 730q1 -16 -0 -32M1384 727q2 -14 5 -27M1375 725q7 -15 19 -27M1379 725q8 -14 17 -27M1385 726q-2 -16 -5 -31" stroke="rgb(244, 23, 45)"/>
</g>
</g>
<line x1="187" y1="348.75" x2="1533.7" y2="348.75" stroke="#7b8a89" stroke-width="3" stroke-dasharray="17.4 17.1" stroke-dashoffset="8.9"/>
<line x1="187" y1="619.8" x2="1533.7" y2="619.8" stroke="#7b8a89" stroke-width="3" stroke-dasharray="17.4 17.1" stroke-dashoffset="8.9"/>
<rect x="187" y="77.7" width="1346.70" height="812.80" fill="none" stroke="#7b8a89" stroke-width="3"/>
<line x1="523.75" y1="77.7" x2="523.75" y2="890.5" stroke="#7b8a89" stroke-width="3"/>
<line x1="860.5" y1="77.7" x2="860.5" y2="890.5" stroke="#7b8a89" stroke-width="3"/>
<line x1="1197.2" y1="77.7" x2="1197.2" y2="890.5" stroke="#7b8a89" stroke-width="3"/>
<defs><linearGradient id="cb" x1="0" x2="1" y1="0" y2="0">
<stop offset="0" stop-color="#2348fa"/><stop offset="0.2" stop-color="#4b37c8"/><stop offset="0.4" stop-color="#8a2aa5"/><stop offset="0.62" stop-color="#b82072"/><stop offset="0.82" stop-color="#e01846"/><stop offset="1" stop-color="#ff0c20"/></linearGradient></defs>
<rect x="1240.3" y="871.4" width="229.7" height="12.9" fill="url(#cb)"/>
<text x="1278" y="860.5" font-size="25.5" fill="#000">Track time (s)</text>
<text x="1218.5" y="886.5" font-size="25.5" fill="#3a52c0">0</text>
<text x="1477" y="886.5" font-size="25.5" fill="#c8202c">60</text>
<text x="459.8" y="1035.8" font-size="51" font-weight="bold" fill="#000">b</text>
<text x="803.5" y="1067" font-size="28" fill="#b4bab8">wt</text>
<text x="803.5" y="1100.3" font-size="28" font-style="italic" letter-spacing="1" fill="#5a6cc6">bgg10</text>
<text x="803.5" y="1133.5" font-size="28" fill="#000">tgMOR</text>
<text x="803.5" y="1167.3" font-size="28" fill="#d81e2c">tgMOR<tspan font-style="italic" letter-spacing="1">; bgg10</tspan></text>
<polyline points="897.5,1058.5 906.3,1058.5 906.3,1091 897.5,1091" fill="none" stroke="#111" stroke-width="2.6"/>
<polyline points="1001.5,1125 1010.5,1125 1010.5,1157.5 1001.5,1157.5" fill="none" stroke="#111" stroke-width="2.6"/>
<text x="916.2" y="1082.6" font-size="21.8" fill="#111" stroke="#111" stroke-width="0.55">ns</text>
<text x="1019.8" y="1152.7" font-size="24" font-weight="bold" letter-spacing="3.3" fill="#111">***</text>
<line x1="607" y1="1174.5" x2="607" y2="1612" stroke="#111" stroke-width="3"/>
<line x1="595.5" y1="1611" x2="1043" y2="1611" stroke="#111" stroke-width="3"/>
<line x1="595.5" y1="1611.0" x2="607" y2="1611.0" stroke="#111" stroke-width="3"/>
<text x="590" y="1620.6" font-size="26" text-anchor="end" fill="#000">0</text>
<line x1="595.5" y1="1511.9" x2="607" y2="1511.9" stroke="#111" stroke-width="3"/>
<text x="590" y="1521.5" font-size="26" text-anchor="end" fill="#000">25</text>
<line x1="595.5" y1="1412.8" x2="607" y2="1412.8" stroke="#111" stroke-width="3"/>
<text x="590" y="1422.4" font-size="26" text-anchor="end" fill="#000">50</text>
<line x1="595.5" y1="1313.7" x2="607" y2="1313.7" stroke="#111" stroke-width="3"/>
<text x="590" y="1323.3" font-size="26" text-anchor="end" fill="#000">75</text>
<line x1="595.5" y1="1214.6" x2="607" y2="1214.6" stroke="#111" stroke-width="3"/>
<text x="590" y="1224.2" font-size="26" text-anchor="end" fill="#000">100</text>
<line x1="628.0" y1="1611" x2="628.0" y2="1621.8" stroke="#111" stroke-width="3.2"/>
<text x="627.3" y="1648" font-size="26" text-anchor="middle" fill="#000">0</text>
<line x1="726.3" y1="1611" x2="726.3" y2="1621.8" stroke="#111" stroke-width="3.2"/>
<text x="724.2" y="1648" font-size="26" text-anchor="middle" fill="#000">45</text>
<line x1="824.6" y1="1611" x2="824.6" y2="1621.8" stroke="#111" stroke-width="3.2"/>
<text x="822.2" y="1648" font-size="26" text-anchor="middle" fill="#000">90</text>
<line x1="923.0" y1="1611" x2="923.0" y2="1621.8" stroke="#111" stroke-width="3.2"/>
<text x="918.6" y="1648" font-size="26" text-anchor="middle" fill="#000">135</text>
<line x1="1021.3" y1="1611" x2="1021.3" y2="1621.8" stroke="#111" stroke-width="3.2"/>
<text x="1016.8" y="1648" font-size="26" text-anchor="middle" fill="#000">180</text>
<text x="826.5" y="1690.5" font-size="29" text-anchor="middle" fill="#000">Time (min)</text>
<text transform="translate(539,1376) rotate(-90)" font-size="30.4" text-anchor="middle" fill="#000">Speed (%)</text>
<line x1="628.7" y1="1147" x2="628.7" y2="1186" stroke="#111" stroke-width="2.2"/>
<polygon points="621.3,1183.5 636,1183.5 628.7,1202" fill="#111"/>
<polyline points="627.7,1214.0 638.9,1220.7 662.9,1224.7 679.4,1226.2 692.8,1233.4 707.8,1243.9 719.8,1249.9 727.3,1250.6 737.8,1246.9 757.2,1246.2 769.2,1248.4 782.7,1254.4 799.2,1266.4 814.1,1275.4 820.0,1275.4 839.5,1272.1 857.4,1270.9 869.4,1283.6 878.4,1298.6 889.6,1301.6 900.9,1293.3 912.8,1287.3 923.3,1289.1 935.3,1299.3 945.0,1309.8 966.0,1306.5 977.2,1317.3 988.5,1326.3 998.2,1319.5 1010.2,1313.5 1021.4,1318.0" fill="none" stroke="#b3b9b6" stroke-width="3.2" stroke-linejoin="round"/>
<polyline points="627.7,1214.7 639.7,1226.7 649.4,1227.1 660.6,1228.9 682.4,1255.1 695.8,1258.6 716.8,1260.4 727.3,1259.2 737.0,1257.4 748.2,1263.4 758.7,1270.9 770.7,1272.1 781.2,1267.9 796.2,1267.6 814.1,1261.9 820.0,1262.6 836.5,1268.6 855.9,1283.6 869.4,1289.1 888.9,1290.6 903.9,1294.8 923.3,1304.1 935.3,1300.1 954.8,1287.3 966.7,1287.0 978.7,1295.6 988.5,1300.8 999.7,1297.8 1010.2,1301.6 1021.4,1315.0" fill="none" stroke="#4c63d2" stroke-width="3.2" stroke-linejoin="round"/>
<polyline points="627.7,1215.5 638.9,1260.4 659.9,1324.8 674.9,1369.7 687.9,1424.0 702.5,1470.8 715.7,1497.2 726.6,1503.1 737.7,1497.8 749.4,1482.5 764.1,1450.3 775.8,1415.2 786.0,1380.0 791.7,1359.2 803.7,1335.3 814.1,1325.5 824.5,1323.3 835.0,1332.3 847.0,1344.2 857.4,1346.5 868.7,1340.5 879.9,1347.2 890.4,1358.5 909.8,1366.0 923.3,1368.9 944.3,1353.2 966.7,1363.0 988.5,1368.2 999.7,1363.7 1010.2,1356.2 1021.4,1358.5" fill="none" stroke="#e01c2a" stroke-width="3" stroke-linejoin="round"/>
<polyline points="627.7,1215.5 637.4,1225.9 649.4,1249.9 671.9,1278.3 683.9,1302.3 695.8,1329.3 709.3,1360.7 717.2,1380.0 726.0,1396.1 737.7,1409.3 755.3,1422.5 768.5,1431.3 781.7,1440.0 802.2,1465.0 824.1,1484.0 835.9,1486.1 846.1,1478.2 859.3,1466.4 878.3,1453.2 901.8,1443.9 915.0,1434.2 934.0,1407.8 944.3,1394.6 956.0,1391.7 966.2,1395.2 976.5,1397.6 988.2,1391.1 999.9,1381.5 1010.2,1380.5 1021.4,1385.4" fill="none" stroke="#0d0d0d" stroke-width="3.6" stroke-linejoin="round"/>
</svg></body></html>
